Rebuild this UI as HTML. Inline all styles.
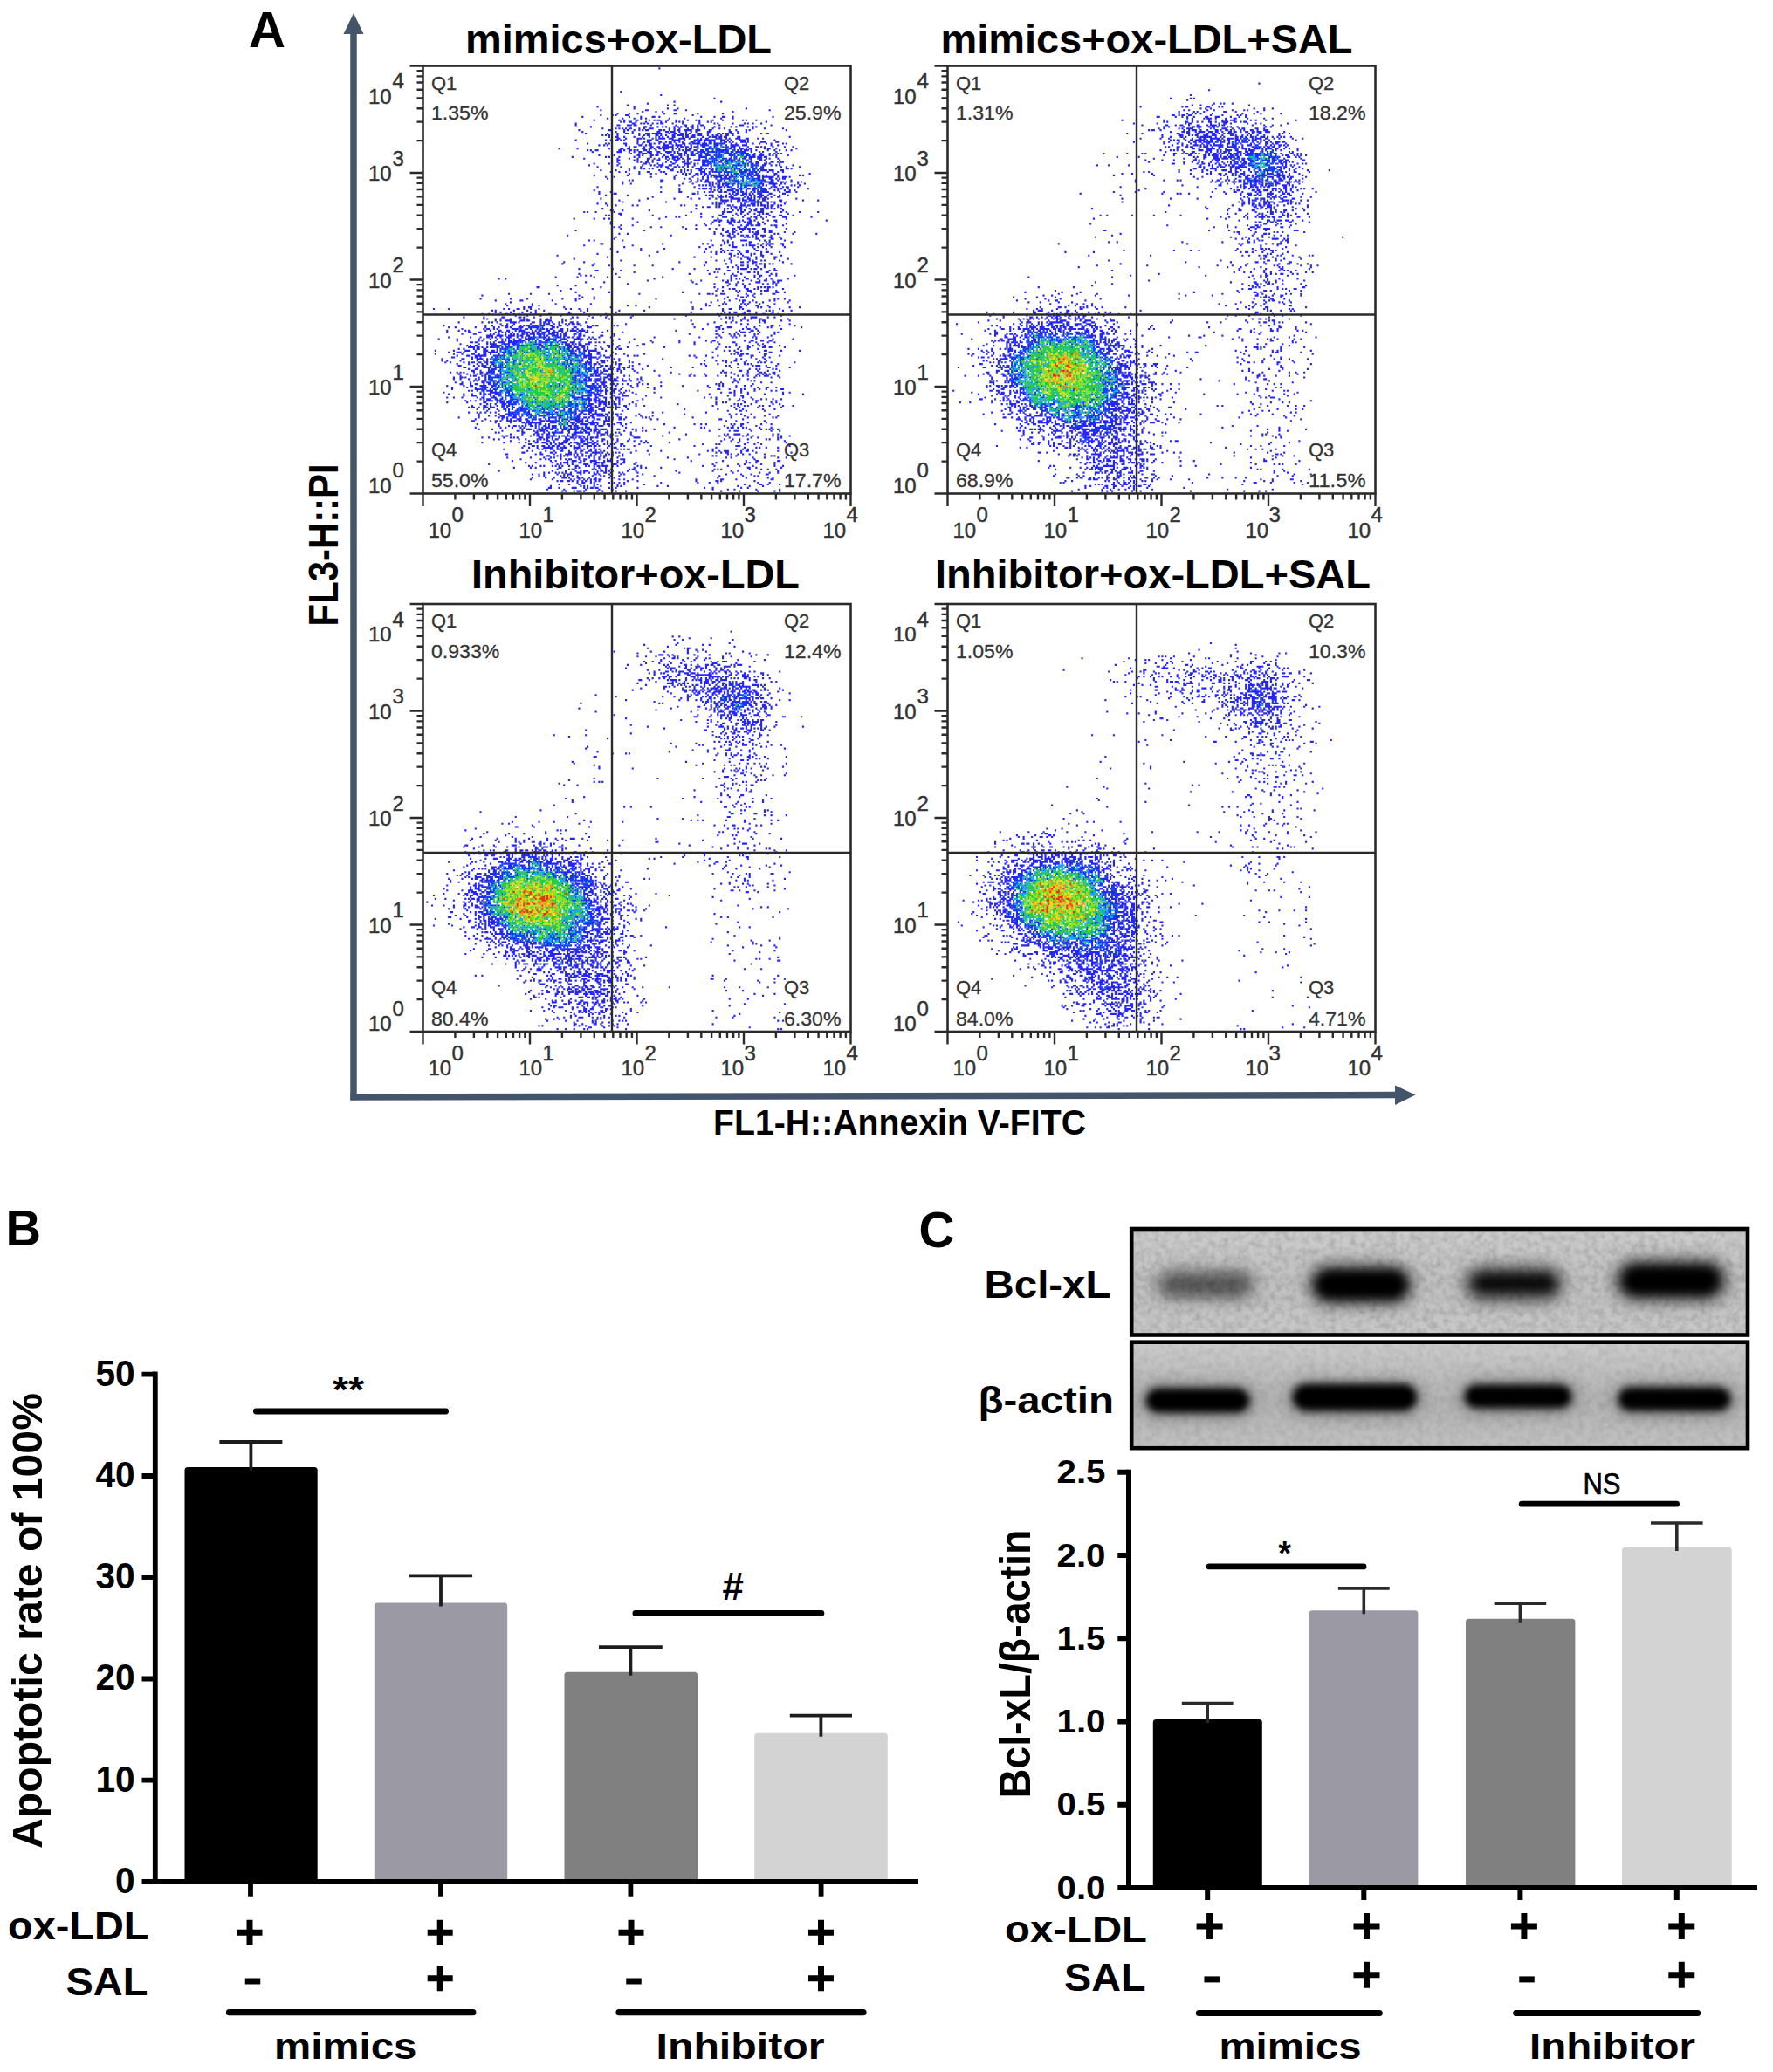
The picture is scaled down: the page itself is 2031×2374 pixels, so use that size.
<!DOCTYPE html>
<html><head><meta charset="utf-8"><title>Figure</title>
<style>html,body{margin:0;padding:0;background:#fff}svg{display:block}text{font-family:"Liberation Sans", sans-serif}</style>
</head><body>
<svg width="2031" height="2374" viewBox="0 0 2031 2374">
<rect width="2031" height="2374" fill="#fff"/>
<defs><filter id="db" x="-2%" y="-2%" width="104%" height="104%"><feGaussianBlur stdDeviation="0.4"/></filter></defs>
<text x="285" y="54" font-size="58" font-weight="bold" fill="#000" text-anchor="start" textLength="42" lengthAdjust="spacingAndGlyphs" >A</text>
<path d="M405 38V1260.3" stroke="#44546a" stroke-width="7.5" fill="none"/>
<path d="M401.3 1257L1600 1254.6" stroke="#44546a" stroke-width="7.5" fill="none"/>
<path d="M405 15L416.5 39H393.5Z" fill="#44546a"/>
<path d="M1621.5 1254.6L1598 1243.5V1266Z" fill="#44546a"/>
<text x="1030.5" y="1299.5" font-size="41" font-weight="bold" fill="#000" text-anchor="middle" textLength="427" lengthAdjust="spacingAndGlyphs" >FL1-H::Annexin V-FITC</text>
<text transform="translate(386.5,624.4) rotate(-90)" font-size="48" font-weight="bold" text-anchor="middle" textLength="186" lengthAdjust="spacingAndGlyphs">FL3-H::PI</text>
<text x="708.5" y="61.0" font-size="46" font-weight="bold" fill="#000" text-anchor="middle" textLength="351" lengthAdjust="spacingAndGlyphs" >mimics+ox-LDL</text>
<g transform="translate(485.46,76.46) scale(1.9141)" stroke-width="1.12" stroke-linecap="square" fill="none" filter="url(#db)"><path d="M141 1h0m-23 14h0m24 2h0m32 2h0m-24 2h0m28 0h0m-44 1h0m-12 1h0m24 0h0m4 0h0m-46 1h0m22 0h0m0 1h0m20 0h0m6 0h0m41 0h0m-87 1h0m27 0h0m1 0h0m16 0h0m1 0h0m6 0h0m50 0h0m-76 1h0m8 0h0m4 0h0m42 0h0m-69 1h0m7 0h0m5 0h0m16 0h0m6 0h0m1 0h0m13 0h0m15 0h0m-73 1h0m7 0h0m2 0h0m6 0h0m1 0h0m39 0h0m-66 1h0m28 0h0m7 0h0m7 0h0m1 0h0m3 0h0m25 0h0m8 0h0m5 0h0m1 0h0m5 0h0m24 0h0m-99 1h0m9 0h0m7 0h0m4 0h0m3 0h0m14 0h0m9 0h0m22 0h0m7 0h0m-83 1h0m15 0h0m3 0h0m8 0h0m7 0h0m3 0h0m2 0h0m1 0h0m5 0h0m5 0h0m7 0h0m5 0h0m2 0h0m8 0h0m6 0h0m12 0h0m2 0h0m6 0h0m-81 1h0m2 0h0m3 0h0m1 0h0m3 0h0m6 0h0m9 0h0m3 0h0m6 0h0m2 0h0m2 0h0m10 0h0m5 0h0m2 0h0m33 0h0m-114 1h0m34 0h0m1 0h0m4 0h0m2 0h0m2 0h0m3 0h0m3 0h0m2 0h0m1 0h0m6 0h0m6 0h0m10 0h0m9 0h0m2 0h0m9 0h0m7 0h0m2 0h0m3 0h0m5 0h0m-111 1h0m25 0h0m1 0h0m5 0h0m1 0h0m1 0h0m2 0h0m1 0h0m9 0h0m15 0h0m5 0h0m1 0h0m4 0h0m3 0h0m2 0h0m1 0h0m10 0h0m12 0h0m1 0h0m1 0h0m17 0h0m-108 1h0m32 0h0m1 0h0m7 0h0m3 0h0m2 0h0m5 0h0m2 0h0m2 0h0m3 0h0m3 0h0m1 0h0m3 0h0m4 0h0m6 0h0m10 0h0m3 0h0m7 0h0m3 0h0m2 0h0m-92 1h0m8 0h0m2 0h0m2 0h0m2 0h0m2 0h0m1 0h0m5 0h0m3 0h0m3 0h0m1 0h0m1 0h0m10 0h0m3 0h0m3 0h0m5 0h0m3 0h0m3 0h0m4 0h0m5 0h0m4 0h0m3 0h0m17 0h0m7 0h0m11 0h0m-122 1h0m18 0h0m1 0h0m8 0h0m2 0h0m4 0h0m3 0h0m2 0h0m2 0h0m1 0h0m7 0h0m1 0h0m2 0h0m3 0h0m3 0h0m2 0h0m1 0h0m3 0h0m1 0h0m1 0h0m1 0h0m1 0h0m3 0h0m1 0h0m1 0h0m6 0h0m1 0h0m11 0h0m4 0h0m6 0h0m2 0h0m22 0h0m-122 1h0m20 0h0m5 0h0m5 0h0m15 0h0m1 0h0m4 0h0m1 0h0m2 0h0m1 0h0m1 0h0m3 0h0m4 0h0m3 0h0m3 0h0m7 0h0m1 0h0m12 0h0m1 0h0m4 0h0m5 0h0m-96 1h0m13 0h0m6 0h0m5 0h0m1 0h0m3 0h0m4 0h0m4 0h0m1 0h0m1 0h0m2 0h0m1 0h0m1 0h0m1 0h0m1 0h0m1 0h0m5 0h0m3 0h0m1 0h0m3 0h0m1 0h0m2 0h0m2 0h0m5 0h0m1 0h0m1 0h0m4 0h0m6 0h0m1 0h0m2 0h0m2 0h0m1 0h0m2 0h0m1 0h0m3 0h0m14 0h0m3 0h0m1 0h0m-99 1h0m2 0h0m2 0h0m5 0h0m13 0h0m3 0h0m2 0h0m1 0h0m4 0h0m1 0h0m2 0h0m3 0h0m4 0h0m1 0h0m2 0h0m1 0h0m1 0h0m1 0h0m2 0h0m1 0h0m3 0h0m1 0h0m2 0h0m1 0h0m1 0h0m4 0h0m3 0h0m2 0h0m1 0h0m2 0h0m3 0h0m1 0h0m3 0h0m-74 1h0m4 0h0m1 0h0m4 0h0m6 0h0m5 0h0m4 0h0m4 0h0m2 0h0m2 0h0m3 0h0m3 0h0m1 0h0m5 0h0m2 0h0m1 0h0m2 0h0m1 0h0m1 0h0m5 0h0m4 0h0m2 0h0m1 0h0m1 0h0m2 0h0m1 0h0m2 0h0m1 0h0m7 0h0m1 0h0m30 0h0m-103 1h0m1 0h0m4 0h0m7 0h0m1 0h0m1 0h0m2 0h0m5 0h0m2 0h0m2 0h0m1 0h0m1 0h0m1 0h0m3 0h0m1 0h0m1 0h0m4 0h0m1 0h0m1 0h0m1 0h0m3 0h0m5 0h0m2 0h0m3 0h0m1 0h0m5 0h0m2 0h0m1 0h0m3 0h0m2 0h0m4 0h0m1 0h0m1 0h0m4 0h0m1 0h0m6 0h0m3 0h0m-112 1h0m18 0h0m3 0h0m3 0h0m1 0h0m2 0h0m2 0h0m8 0h0m6 0h0m1 0h0m1 0h0m3 0h0m1 0h0m9 0h0m1 0h0m1 0h0m1 0h0m1 0h0m3 0h0m6 0h0m1 0h0m2 0h0m1 0h0m2 0h0m1 0h0m2 0h0m1 0h0m1 0h0m1 0h0m4 0h0m1 0h0m1 0h0m2 0h0m2 0h0m5 0h0m1 0h0m1 0h0m1 0h0m2 0h0m16 0h0m-82 1h0m4 0h0m2 0h0m1 0h0m6 0h0m1 0h0m3 0h0m2 0h0m1 0h0m2 0h0m3 0h0m2 0h0m5 0h0m1 0h0m3 0h0m1 0h0m3 0h0m3 0h0m1 0h0m2 0h0m4 0h0m2 0h0m1 0h0m2 0h0m2 0h0m5 0h0m1 0h0m1 0h0m2 0h0m8 0h0m1 0h0m1 0h0m7 0h0m1 0h0m-114 1h0m11 0h0m2 0h0m9 0h0m1 0h0m7 0h0m3 0h0m4 0h0m1 0h0m2 0h0m3 0h0m3 0h0m3 0h0m1 0h0m3 0h0m4 0h0m1 0h0m3 0h0m2 0h0m1 0h0m1 0h0m1 0h0m1 0h0m2 0h0m1 0h0m1 0h0m2 0h0m1 0h0m2 0h0m1 0h0m1 0h0m3 0h0m1 0h0m4 0h0m3 0h0m6 0h0m4 0h0m4 0h0m4 0h0m3 0h0m7 0h0m2 0h0m-112 1h0m3 0h0m2 0h0m11 0h0m8 0h0m1 0h0m3 0h0m2 0h0m1 0h0m8 0h0m1 0h0m1 0h0m3 0h0m2 0h0m1 0h0m1 0h0m1 0h0m2 0h0m4 0h0m4 0h0m2 0h0m1 0h0m1 0h0m1 0h0m5 0h0m1 0h0m1 0h0m2 0h0m3 0h0m3 0h0m1 0h0m1 0h0m1 0h0m1 0h0m3 0h0m1 0h0m1 0h0m15 0h0m4 0h0m-89 1h0m3 0h0m1 0h0m5 0h0m4 0h0m1 0h0m3 0h0m1 0h0m2 0h0m1 0h0m1 0h0m1 0h0m1 0h0m1 0h0m1 0h0m3 0h0m2 0h0m1 0h0m2 0h0m1 0h0m2 0h0m2 0h0m1 0h0m4 0h0m1 0h0m3 0h0m3 0h0m8 0h0m2 0h0m1 0h0m1 0h0m3 0h0m5 0h0m5 0h0m1 0h0m2 0h0m2 0h0m5 0h0m7 0h0m5 0h0m-140 1h0m11 0h0m19 0h0m7 0h0m1 0h0m3 0h0m1 0h0m8 0h0m1 0h0m3 0h0m1 0h0m2 0h0m3 0h0m1 0h0m2 0h0m1 0h0m1 0h0m3 0h0m2 0h0m2 0h0m4 0h0m2 0h0m1 0h0m4 0h0m6 0h0m1 0h0m2 0h0m8 0h0m2 0h0m1 0h0m2 0h0m3 0h0m1 0h0m1 0h0m2 0h0m2 0h0m1 0h0m8 0h0m2 0h0m1 0h0m4 0h0m12 0h0m-125 1h0m2 0h0m3 0h0m1 0h0m13 0h0m1 0h0m2 0h0m3 0h0m1 0h0m2 0h0m2 0h0m4 0h0m1 0h0m2 0h0m4 0h0m5 0h0m5 0h0m4 0h0m2 0h0m2 0h0m1 0h0m1 0h0m3 0h0m1 0h0m3 0h0m1 0h0m2 0h0m6 0h0m1 0h0m1 0h0m1 0h0m1 0h0m1 0h0m1 0h0m1 0h0m4 0h0m2 0h0m2 0h0m2 0h0m1 0h0m1 0h0m2 0h0m3 0h0m7 0h0m4 0h0m3 0h0m4 0h0m3 0h0m-119 1h0m15 0h0m1 0h0m1 0h0m5 0h0m3 0h0m3 0h0m1 0h0m4 0h0m1 0h0m1 0h0m4 0h0m1 0h0m4 0h0m1 0h0m1 0h0m1 0h0m2 0h0m2 0h0m4 0h0m1 0h0m4 0h0m3 0h0m2 0h0m1 0h0m1 0h0m4 0h0m1 0h0m1 0h0m2 0h0m2 0h0m1 0h0m2 0h0m1 0h0m2 0h0m3 0h0m1 0h0m2 0h0m1 0h0m1 0h0m4 0h0m5 0h0m2 0h0m8 0h0m-87 1h0m5 0h0m2 0h0m1 0h0m1 0h0m2 0h0m1 0h0m4 0h0m2 0h0m4 0h0m1 0h0m3 0h0m2 0h0m1 0h0m1 0h0m2 0h0m1 0h0m3 0h0m1 0h0m2 0h0m1 0h0m2 0h0m2 0h0m1 0h0m1 0h0m7 0h0m3 0h0m2 0h0m1 0h0m3 0h0m5 0h0m1 0h0m1 0h0m1 0h0m4 0h0m4 0h0m5 0h0m3 0h0m2 0h0m2 0h0m-109 1h0m9 0h0m14 0h0m1 0h0m2 0h0m5 0h0m1 0h0m2 0h0m1 0h0m4 0h0m4 0h0m1 0h0m4 0h0m1 0h0m2 0h0m2 0h0m2 0h0m1 0h0m1 0h0m3 0h0m1 0h0m3 0h0m1 0h0m1 0h0m4 0h0m3 0h0m5 0h0m1 0h0m1 0h0m8 0h0m1 0h0m3 0h0m1 0h0m3 0h0m1 0h0m1 0h0m4 0h0m2 0h0m2 0h0m7 0h0m-129 1h0m20 0h0m2 0h0m6 0h0m9 0h0m3 0h0m7 0h0m7 0h0m2 0h0m1 0h0m3 0h0m1 0h0m1 0h0m1 0h0m2 0h0m4 0h0m7 0h0m1 0h0m1 0h0m1 0h0m4 0h0m1 0h0m14 0h0m8 0h0m1 0h0m1 0h0m1 0h0m2 0h0m1 0h0m1 0h0m2 0h0m1 0h0m6 0h0m-115 1h0m20 0h0m7 0h0m5 0h0m6 0h0m1 0h0m3 0h0m3 0h0m4 0h0m2 0h0m2 0h0m1 0h0m2 0h0m1 0h0m2 0h0m3 0h0m1 0h0m6 0h0m7 0h0m9 0h0m2 0h0m1 0h0m2 0h0m3 0h0m2 0h0m1 0h0m3 0h0m1 0h0m4 0h0m1 0h0m1 0h0m3 0h0m2 0h0m5 0h0m-96 1h0m1 0h0m9 0h0m2 0h0m6 0h0m3 0h0m3 0h0m1 0h0m5 0h0m4 0h0m1 0h0m1 0h0m4 0h0m2 0h0m4 0h0m1 0h0m1 0h0m1 0h0m2 0h0m1 0h0m1 0h0m1 0h0m3 0h0m2 0h0m3 0h0m5 0h0m2 0h0m8 0h0m3 0h0m5 0h0m1 0h0m2 0h0m9 0h0m-97 1h0m12 0h0m2 0h0m3 0h0m1 0h0m3 0h0m8 0h0m3 0h0m3 0h0m4 0h0m3 0h0m2 0h0m7 0h0m1 0h0m2 0h0m3 0h0m5 0h0m3 0h0m14 0h0m1 0h0m3 0h0m1 0h0m5 0h0m3 0h0m1 0h0m3 0h0m2 0h0m1 0h0m-113 1h0m9 0h0m6 0h0m15 0h0m1 0h0m2 0h0m5 0h0m3 0h0m6 0h0m1 0h0m6 0h0m1 0h0m1 0h0m1 0h0m3 0h0m2 0h0m3 0h0m1 0h0m3 0h0m5 0h0m12 0h0m1 0h0m3 0h0m2 0h0m3 0h0m2 0h0m1 0h0m4 0h0m1 0h0m2 0h0m6 0h0m-114 1h0m17 0h0m15 0h0m5 0h0m2 0h0m3 0h0m1 0h0m1 0h0m4 0h0m1 0h0m4 0h0m4 0h0m2 0h0m4 0h0m5 0h0m1 0h0m1 0h0m1 0h0m2 0h0m7 0h0m9 0h0m9 0h0m2 0h0m4 0h0m1 0h0m4 0h0m3 0h0m2 0h0m8 0h0m-117 1h0m14 0h0m8 0h0m4 0h0m10 0h0m2 0h0m3 0h0m1 0h0m4 0h0m1 0h0m2 0h0m2 0h0m3 0h0m3 0h0m5 0h0m6 0h0m20 0h0m4 0h0m1 0h0m5 0h0m1 0h0m11 0h0m3 0h0m8 0h0m-102 1h0m3 0h0m4 0h0m2 0h0m3 0h0m2 0h0m9 0h0m1 0h0m2 0h0m7 0h0m7 0h0m1 0h0m1 0h0m4 0h0m2 0h0m2 0h0m7 0h0m4 0h0m2 0h0m3 0h0m8 0h0m1 0h0m3 0h0m2 0h0m14 0h0m1 0h0m2 0h0m-114 1h0m9 0h0m8 0h0m18 0h0m7 0h0m1 0h0m5 0h0m2 0h0m2 0h0m2 0h0m5 0h0m1 0h0m2 0h0m4 0h0m1 0h0m2 0h0m15 0h0m2 0h0m1 0h0m2 0h0m5 0h0m2 0h0m1 0h0m1 0h0m1 0h0m2 0h0m1 0h0m1 0h0m5 0h0m1 0h0m-103 1h0m5 0h0m4 0h0m8 0h0m5 0h0m1 0h0m7 0h0m2 0h0m8 0h0m2 0h0m2 0h0m4 0h0m6 0h0m1 0h0m1 0h0m3 0h0m2 0h0m5 0h0m2 0h0m4 0h0m5 0h0m1 0h0m2 0h0m3 0h0m3 0h0m1 0h0m2 0h0m5 0h0m3 0h0m3 0h0m3 0h0m-92 1h0m6 0h0m7 0h0m3 0h0m6 0h0m10 0h0m2 0h0m2 0h0m4 0h0m1 0h0m2 0h0m2 0h0m1 0h0m2 0h0m9 0h0m2 0h0m9 0h0m3 0h0m1 0h0m2 0h0m2 0h0m11 0h0m1 0h0m20 0h0m-129 1h0m20 0h0m29 0h0m6 0h0m5 0h0m2 0h0m4 0h0m2 0h0m3 0h0m1 0h0m3 0h0m1 0h0m1 0h0m2 0h0m1 0h0m3 0h0m2 0h0m5 0h0m6 0h0m1 0h0m1 0h0m1 0h0m4 0h0m5 0h0m2 0h0m13 0h0m2 0h0m-118 1h0m5 0h0m22 0h0m14 0h0m11 0h0m6 0h0m3 0h0m2 0h0m2 0h0m1 0h0m1 0h0m1 0h0m1 0h0m2 0h0m1 0h0m2 0h0m1 0h0m1 0h0m2 0h0m3 0h0m4 0h0m2 0h0m1 0h0m3 0h0m1 0h0m2 0h0m1 0h0m1 0h0m1 0h0m1 0h0m1 0h0m1 0h0m3 0h0m3 0h0m1 0h0m1 0h0m2 0h0m-109 1h0m40 0h0m6 0h0m3 0h0m5 0h0m3 0h0m3 0h0m5 0h0m3 0h0m3 0h0m1 0h0m1 0h0m3 0h0m9 0h0m4 0h0m1 0h0m1 0h0m2 0h0m4 0h0m1 0h0m3 0h0m2 0h0m2 0h0m1 0h0m-93 1h0m2 0h0m17 0h0m1 0h0m17 0h0m4 0h0m2 0h0m3 0h0m1 0h0m6 0h0m1 0h0m1 0h0m2 0h0m3 0h0m2 0h0m15 0h0m1 0h0m2 0h0m5 0h0m1 0h0m3 0h0m8 0h0m-101 1h0m23 0h0m17 0h0m4 0h0m5 0h0m1 0h0m1 0h0m1 0h0m2 0h0m3 0h0m1 0h0m9 0h0m3 0h0m13 0h0m3 0h0m1 0h0m1 0h0m1 0h0m1 0h0m5 0h0m1 0h0m2 0h0m3 0h0m4 0h0m2 0h0m-107 1h0m5 0h0m31 0h0m6 0h0m10 0h0m2 0h0m2 0h0m2 0h0m2 0h0m1 0h0m2 0h0m1 0h0m10 0h0m9 0h0m1 0h0m4 0h0m1 0h0m1 0h0m1 0h0m1 0h0m3 0h0m2 0h0m8 0h0m4 0h0m-75 1h0m12 0h0m2 0h0m2 0h0m2 0h0m2 0h0m3 0h0m1 0h0m2 0h0m2 0h0m1 0h0m6 0h0m6 0h0m1 0h0m6 0h0m2 0h0m2 0h0m4 0h0m1 0h0m3 0h0m7 0h0m2 0h0m3 0h0m-121 1h0m38 0h0m20 0h0m10 0h0m2 0h0m2 0h0m1 0h0m1 0h0m2 0h0m2 0h0m1 0h0m9 0h0m6 0h0m2 0h0m2 0h0m6 0h0m2 0h0m1 0h0m4 0h0m2 0h0m1 0h0m6 0h0m-71 1h0m12 0h0m2 0h0m1 0h0m1 0h0m2 0h0m1 0h0m5 0h0m8 0h0m1 0h0m4 0h0m4 0h0m1 0h0m2 0h0m1 0h0m1 0h0m3 0h0m1 0h0m1 0h0m3 0h0m5 0h0m2 0h0m4 0h0m12 0h0m-128 1h0m51 0h0m19 0h0m2 0h0m2 0h0m2 0h0m4 0h0m1 0h0m1 0h0m1 0h0m2 0h0m1 0h0m2 0h0m3 0h0m4 0h0m1 0h0m2 0h0m3 0h0m1 0h0m1 0h0m5 0h0m2 0h0m4 0h0m3 0h0m3 0h0m-117 1h0m7 0h0m30 0h0m11 0h0m1 0h0m10 0h0m4 0h0m3 0h0m2 0h0m4 0h0m1 0h0m2 0h0m1 0h0m4 0h0m1 0h0m2 0h0m3 0h0m2 0h0m3 0h0m2 0h0m2 0h0m3 0h0m1 0h0m1 0h0m1 0h0m7 0h0m4 0h0m1 0h0m1 0h0m4 0h0m-118 1h0m9 0h0m1 0h0m46 0h0m1 0h0m2 0h0m19 0h0m2 0h0m2 0h0m1 0h0m3 0h0m1 0h0m1 0h0m2 0h0m2 0h0m3 0h0m1 0h0m1 0h0m5 0h0m1 0h0m7 0h0m1 0h0m-107 1h0m13 0h0m47 0h0m2 0h0m1 0h0m1 0h0m3 0h0m2 0h0m3 0h0m3 0h0m2 0h0m4 0h0m1 0h0m2 0h0m2 0h0m1 0h0m2 0h0m3 0h0m1 0h0m1 0h0m3 0h0m4 0h0m3 0h0m5 0h0m-81 1h0m21 0h0m15 0h0m4 0h0m1 0h0m1 0h0m2 0h0m2 0h0m1 0h0m1 0h0m9 0h0m2 0h0m2 0h0m2 0h0m1 0h0m1 0h0m2 0h0m1 0h0m3 0h0m4 0h0m1 0h0m-107 1h0m28 0h0m16 0h0m10 0h0m5 0h0m6 0h0m4 0h0m3 0h0m6 0h0m1 0h0m1 0h0m1 0h0m1 0h0m1 0h0m2 0h0m3 0h0m1 0h0m1 0h0m2 0h0m3 0h0m2 0h0m1 0h0m2 0h0m17 0h0m-106 1h0m12 0h0m49 0h0m1 0h0m1 0h0m1 0h0m1 0h0m2 0h0m4 0h0m1 0h0m2 0h0m1 0h0m3 0h0m1 0h0m1 0h0m1 0h0m2 0h0m3 0h0m1 0h0m9 0h0m1 0h0m13 0h0m9 0h0m-117 1h0m26 0h0m30 0h0m4 0h0m2 0h0m3 0h0m4 0h0m5 0h0m6 0h0m1 0h0m1 0h0m1 0h0m3 0h0m1 0h0m2 0h0m2 0h0m4 0h0m3 0h0m-113 1h0m5 0h0m64 0h0m2 0h0m2 0h0m1 0h0m2 0h0m10 0h0m6 0h0m1 0h0m1 0h0m2 0h0m2 0h0m4 0h0m4 0h0m6 0h0m-106 1h0m5 0h0m10 0h0m3 0h0m26 0h0m2 0h0m7 0h0m12 0h0m2 0h0m5 0h0m1 0h0m2 0h0m5 0h0m1 0h0m1 0h0m2 0h0m1 0h0m2 0h0m1 0h0m2 0h0m2 0h0m1 0h0m1 0h0m2 0h0m2 0h0m1 0h0m3 0h0m2 0h0m-47 1h0m3 0h0m1 0h0m4 0h0m2 0h0m7 0h0m2 0h0m1 0h0m2 0h0m1 0h0m3 0h0m11 0h0m2 0h0m2 0h0m4 0h0m-105 1h0m56 0h0m17 0h0m2 0h0m2 0h0m3 0h0m2 0h0m1 0h0m5 0h0m4 0h0m3 0h0m1 0h0m2 0h0m1 0h0m2 0h0m2 0h0m4 0h0m-102 1h0m1 0h0m6 0h0m16 0h0m45 0h0m5 0h0m3 0h0m2 0h0m2 0h0m4 0h0m2 0h0m1 0h0m3 0h0m1 0h0m12 0h0m-119 1h0m2 0h0m5 0h0m11 0h0m46 0h0m19 0h0m1 0h0m2 0h0m1 0h0m1 0h0m6 0h0m1 0h0m4 0h0m5 0h0m1 0h0m1 0h0m1 0h0m5 0h0m6 0h0m3 0h0m8 0h0m11 0h0m-119 1h0m1 0h0m48 0h0m13 0h0m8 0h0m3 0h0m4 0h0m4 0h0m3 0h0m2 0h0m2 0h0m1 0h0m12 0h0m-109 1h0m2 0h0m7 0h0m19 0h0m20 0h0m20 0h0m1 0h0m7 0h0m3 0h0m4 0h0m8 0h0m1 0h0m6 0h0m6 0h0m1 0h0m7 0h0m-76 1h0m6 0h0m2 0h0m13 0h0m7 0h0m6 0h0m1 0h0m1 0h0m10 0h0m5 0h0m2 0h0m1 0h0m3 0h0m3 0h0m4 0h0m1 0h0m5 0h0m1 0h0m1 0h0m15 0h0m-142 1h0m12 0h0m6 0h0m3 0h0m14 0h0m16 0h0m35 0h0m8 0h0m1 0h0m9 0h0m1 0h0m4 0h0m4 0h0m14 0h0m-43 1h0m1 0h0m2 0h0m1 0h0m4 0h0m2 0h0m1 0h0m1 0h0m3 0h0m2 0h0m4 0h0m1 0h0m2 0h0m8 0h0m4 0h0m1 0h0m30 0h0m-129 1h0m16 0h0m45 0h0m4 0h0m5 0h0m1 0h0m1 0h0m2 0h0m2 0h0m1 0h0m3 0h0m2 0h0m1 0h0m1 0h0m4 0h0m3 0h0m8 0h0m-99 1h0m56 0h0m4 0h0m11 0h0m1 0h0m10 0h0m1 0h0m1 0h0m4 0h0m1 0h0m3 0h0m13 0h0m-99 1h0m7 0h0m38 0h0m6 0h0m8 0h0m8 0h0m5 0h0m3 0h0m1 0h0m2 0h0m1 0h0m2 0h0m1 0h0m1 0h0m7 0h0m2 0h0m1 0h0m4 0h0m-101 1h0m3 0h0m19 0h0m6 0h0m13 0h0m33 0h0m1 0h0m3 0h0m1 0h0m18 0h0m-93 1h0m39 0h0m6 0h0m8 0h0m4 0h0m4 0h0m6 0h0m1 0h0m3 0h0m1 0h0m1 0h0m1 0h0m2 0h0m1 0h0m2 0h0m1 0h0m5 0h0m1 0h0m13 0h0m-126 1h0m41 0h0m47 0h0m3 0h0m3 0h0m2 0h0m4 0h0m4 0h0m5 0h0m4 0h0m3 0h0m1 0h0m-34 1h0m7 0h0m1 0h0m3 0h0m1 0h0m4 0h0m5 0h0m2 0h0m2 0h0m1 0h0m4 0h0m3 0h0m1 0h0m8 0h0m6 0h0m-105 1h0m5 0h0m52 0h0m4 0h0m5 0h0m2 0h0m3 0h0m10 0h0m1 0h0m1 0h0m10 0h0m2 0h0m9 0h0m14 0h0m-149 1h0m62 0h0m31 0h0m3 0h0m1 0h0m3 0h0m4 0h0m1 0h0m2 0h0m1 0h0m3 0h0m2 0h0m3 0h0m1 0h0m1 0h0m4 0h0m-93 1h0m68 0h0m1 0h0m1 0h0m1 0h0m6 0h0m2 0h0m1 0h0m2 0h0m2 0h0m4 0h0m4 0h0m1 0h0m5 0h0m-99 1h0m70 0h0m15 0h0m1 0h0m8 0h0m1 0h0m5 0h0m-115 1h0m3 0h0m17 0h0m53 0h0m7 0h0m3 0h0m8 0h0m1 0h0m1 0h0m1 0h0m8 0h0m3 0h0m3 0h0m9 0h0m-36 1h0m2 0h0m3 0h0m10 0h0m1 0h0m9 0h0m2 0h0m13 0h0m-114 1h0m1 0h0m36 0h0m24 0h0m3 0h0m10 0h0m5 0h0m8 0h0m2 0h0m5 0h0m3 0h0m3 0h0m2 0h0m1 0h0m5 0h0m1 0h0m-119 1h0m29 0h0m48 0h0m5 0h0m5 0h0m2 0h0m6 0h0m2 0h0m2 0h0m1 0h0m1 0h0m1 0h0m4 0h0m3 0h0m2 0h0m8 0h0m-95 1h0m45 0h0m6 0h0m14 0h0m1 0h0m1 0h0m10 0h0m3 0h0m3 0h0m5 0h0m8 0h0m-104 1h0m18 0h0m14 0h0m25 0h0m9 0h0m20 0h0m7 0h0m-75 1h0m49 0h0m3 0h0m2 0h0m1 0h0m3 0h0m5 0h0m1 0h0m5 0h0m1 0h0m-84 1h0m24 0h0m28 0h0m4 0h0m3 0h0m3 0h0m2 0h0m9 0h0m4 0h0m1 0h0m8 0h0m3 0h0m1 0h0m7 0h0m-109 1h0m71 0h0m8 0h0m1 0h0m4 0h0m2 0h0m6 0h0m2 0h0m4 0h0m6 0h0m-128 1h0m55 0h0m49 0h0m2 0h0m5 0h0m5 0h0m6 0h0m1 0h0m11 0h0m-104 1h0m52 0h0m10 0h0m12 0h0m4 0h0m4 0h0m1 0h0m1 0h0m5 0h0m4 0h0m7 0h0m1 0h0m-121 1h0m93 0h0m7 0h0m4 0h0m1 0h0m4 0h0m11 0h0m8 0h0m-100 1h0m57 0h0m5 0h0m4 0h0m11 0h0m2 0h0m5 0h0m2 0h0m9 0h0m-129 1h0m12 0h0m57 0h0m16 0h0m15 0h0m6 0h0m1 0h0m3 0h0m3 0h0m1 0h0m1 0h0m16 0h0m-132 1h0m19 0h0m79 0h0m16 0h0m4 0h0m1 0h0m2 0h0m3 0h0m2 0h0m11 0h0m-119 1h0m10 0h0m15 0h0m11 0h0m31 0h0m19 0h0m3 0h0m1 0h0m3 0h0m5 0h0m5 0h0m-22 1h0m3 0h0m3 0h0m6 0h0m6 0h0m4 0h0m-111 1h0m20 0h0m36 0h0m13 0h0m13 0h0m2 0h0m11 0h0m2 0h0m1 0h0m1 0h0m1 0h0m3 0h0m2 0h0m1 0h0m3 0h0m8 0h0m-107 1h0m1 0h0m14 0h0m52 0h0m12 0h0m1 0h0m24 0h0m3 0h0m1 0h0m-85 1h0m48 0h0m2 0h0m12 0h0m6 0h0m1 0h0m3 0h0m2 0h0m5 0h0m1 0h0m-113 1h0m22 0h0m44 0h0m12 0h0m9 0h0m5 0h0m5 0h0m10 0h0m8 0h0m3 0h0m-117 1h0m3 0h0m3 0h0m84 0h0m2 0h0m1 0h0m11 0h0m3 0h0m1 0h0m5 0h0m4 0h0m11 0h0m-143 1h0m13 0h0m10 0h0m8 0h0m7 0h0m26 0h0m32 0h0m9 0h0m8 0h0m6 0h0m3 0h0m-156 1h0m4 0h0m89 0h0m46 0h0m3 0h0m2 0h0m4 0h0m1 0h0m6 0h0m5 0h0m3 0h0m10 0h0m-84 1h0m26 0h0m6 0h0m13 0h0m3 0h0m2 0h0m7 0h0m5 0h0m5 0h0m3 0h0m1 0h0m4 0h0m3 0h0m1 0h0m1 0h0m-117 1h0m11 0h0m53 0h0m20 0h0m1 0h0m6 0h0m11 0h0m1 0h0m1 0h0m8 0h0m1 0h0m2 0h0m-90 1h0m41 0h0m11 0h0m9 0h0m4 0h0m4 0h0m4 0h0m8 0h0m3 0h0m3 0h0m2 0h0m-131 1h0m11 0h0m91 0h0m5 0h0m5 0h0m19 0h0m-143 1h0m1 0h0m37 0h0m68 0h0m5 0h0m13 0h0m8 0h0m2 0h0m2 0h0m2 0h0m1 0h0m2 0h0m-121 1h0m13 0h0m75 0h0m7 0h0m2 0h0m1 0h0m7 0h0m1 0h0m4 0h0m2 0h0m6 0h0m9 0h0m-133 1h0m93 0h0m4 0h0m8 0h0m2 0h0m5 0h0m1 0h0m1 0h0m6 0h0m2 0h0m1 0h0m1 0h0m5 0h0m-120 1h0m20 0h0m44 0h0m33 0h0m8 0h0m15 0h0m1 0h0m4 0h0m-165 1h0m13 0h0m11 0h0m54 0h0m36 0h0m5 0h0m1 0h0m2 0h0m5 0h0m1 0h0m1 0h0m13 0h0m5 0h0m4 0h0m7 0h0m1 0h0m-175 1h0m58 0h0m82 0h0m13 0h0m6 0h0m3 0h0m-102 1h0m7 0h0m80 0h0m8 0h0m1 0h0m2 0h0m5 0h0m-164 1h0m18 0h0m10 0h0m21 0h0m8 0h0m2 0h0m9 0h0m37 0h0m41 0h0m7 0h0m23 0h0m2 0h0m4 0h0m-173 1h0m15 0h0m1 0h0m18 0h0m14 0h0m85 0h0m7 0h0m6 0h0m2 0h0m1 0h0m5 0h0m10 0h0m3 0h0m9 0h0m-167 1h0m108 0h0m12 0h0m8 0h0m11 0h0m4 0h0m4 0h0m4 0h0m15 0h0m-169 1h0m16 0h0m14 0h0m21 0h0m69 0h0m10 0h0m2 0h0m9 0h0m2 0h0m2 0h0m7 0h0m9 0h0m-160 1h0m15 0h0m4 0h0m53 0h0m5 0h0m42 0h0m2 0h0m6 0h0m12 0h0m4 0h0m6 0h0m1 0h0m6 0h0m-146 1h0m3 0h0m1 0h0m20 0h0m28 0h0m23 0h0m26 0h0m28 0h0m1 0h0m10 0h0m2 0h0m5 0h0m12 0h0m6 0h0m-219 1h0m9 0h0m33 0h0m3 0h0m5 0h0m1 0h0m3 0h0m4 0h0m5 0h0m16 0h0m3 0h0m5 0h0m5 0h0m63 0h0m5 0h0m13 0h0m4 0h0m1 0h0m5 0h0m2 0h0m22 0h0m-172 1h0m2 0h0m11 0h0m8 0h0m5 0h0m5 0h0m22 0h0m4 0h0m19 0h0m15 0h0m47 0h0m15 0h0m1 0h0m10 0h0m2 0h0m2 0h0m6 0h0m5 0h0m-177 1h0m3 0h0m6 0h0m7 0h0m5 0h0m3 0h0m20 0h0m9 0h0m19 0h0m45 0h0m20 0h0m3 0h0m3 0h0m1 0h0m5 0h0m7 0h0m10 0h0m-174 1h0m4 0h0m10 0h0m1 0h0m4 0h0m3 0h0m10 0h0m8 0h0m1 0h0m10 0h0m1 0h0m1 0h0m21 0h0m67 0h0m2 0h0m5 0h0m8 0h0m1 0h0m3 0h0m4 0h0m4 0h0m1 0h0m4 0h0m4 0h0m-157 1h0m7 0h0m8 0h0m12 0h0m17 0h0m7 0h0m4 0h0m15 0h0m32 0h0m20 0h0m11 0h0m26 0h0m-190 1h0m12 0h0m11 0h0m1 0h0m9 0h0m1 0h0m2 0h0m6 0h0m10 0h0m13 0h0m3 0h0m9 0h0m8 0h0m15 0h0m57 0h0m2 0h0m2 0h0m7 0h0m4 0h0m1 0h0m1 0h0m1 0h0m7 0h0m4 0h0m-174 1h0m2 0h0m5 0h0m3 0h0m6 0h0m8 0h0m2 0h0m8 0h0m4 0h0m9 0h0m5 0h0m10 0h0m13 0h0m39 0h0m28 0h0m5 0h0m8 0h0m1 0h0m4 0h0m5 0h0m1 0h0m16 0h0m-175 1h0m3 0h0m3 0h0m1 0h0m1 0h0m1 0h0m6 0h0m1 0h0m1 0h0m2 0h0m1 0h0m7 0h0m3 0h0m1 0h0m1 0h0m1 0h0m7 0h0m2 0h0m75 0h0m25 0h0m5 0h0m4 0h0m7 0h0m2 0h0m1 0h0m10 0h0m5 0h0m-198 1h0m14 0h0m4 0h0m2 0h0m3 0h0m8 0h0m1 0h0m1 0h0m1 0h0m2 0h0m8 0h0m1 0h0m4 0h0m2 0h0m1 0h0m2 0h0m2 0h0m4 0h0m2 0h0m5 0h0m1 0h0m3 0h0m5 0h0m77 0h0m7 0h0m3 0h0m3 0h0m14 0h0m3 0h0m-158 1h0m4 0h0m4 0h0m10 0h0m6 0h0m2 0h0m2 0h0m1 0h0m3 0h0m3 0h0m4 0h0m2 0h0m2 0h0m1 0h0m2 0h0m1 0h0m28 0h0m40 0h0m9 0h0m20 0h0m4 0h0m25 0h0m-207 1h0m25 0h0m4 0h0m6 0h0m2 0h0m1 0h0m3 0h0m5 0h0m2 0h0m2 0h0m1 0h0m2 0h0m1 0h0m1 0h0m1 0h0m2 0h0m1 0h0m1 0h0m4 0h0m1 0h0m4 0h0m1 0h0m4 0h0m8 0h0m4 0h0m3 0h0m2 0h0m1 0h0m10 0h0m2 0h0m62 0h0m23 0h0m7 0h0m1 0h0m4 0h0m9 0h0m-207 1h0m4 0h0m12 0h0m6 0h0m5 0h0m3 0h0m4 0h0m1 0h0m2 0h0m5 0h0m1 0h0m1 0h0m4 0h0m1 0h0m2 0h0m1 0h0m1 0h0m1 0h0m2 0h0m6 0h0m1 0h0m2 0h0m10 0h0m1 0h0m7 0h0m1 0h0m1 0h0m62 0h0m13 0h0m1 0h0m1 0h0m5 0h0m1 0h0m1 0h0m9 0h0m5 0h0m8 0h0m2 0h0m18 0h0m-203 1h0m13 0h0m2 0h0m1 0h0m3 0h0m2 0h0m9 0h0m1 0h0m1 0h0m1 0h0m2 0h0m3 0h0m3 0h0m4 0h0m3 0h0m1 0h0m2 0h0m2 0h0m1 0h0m5 0h0m1 0h0m3 0h0m3 0h0m3 0h0m3 0h0m72 0h0m10 0h0m2 0h0m12 0h0m3 0h0m1 0h0m4 0h0m15 0h0m-200 1h0m7 0h0m4 0h0m2 0h0m10 0h0m3 0h0m5 0h0m1 0h0m4 0h0m1 0h0m4 0h0m2 0h0m1 0h0m1 0h0m1 0h0m5 0h0m2 0h0m2 0h0m1 0h0m4 0h0m1 0h0m3 0h0m3 0h0m1 0h0m1 0h0m3 0h0m2 0h0m1 0h0m1 0h0m1 0h0m2 0h0m1 0h0m1 0h0m1 0h0m2 0h0m12 0h0m41 0h0m24 0h0m14 0h0m7 0h0m1 0h0m3 0h0m-186 1h0m13 0h0m1 0h0m5 0h0m1 0h0m9 0h0m2 0h0m2 0h0m2 0h0m2 0h0m2 0h0m4 0h0m2 0h0m2 0h0m1 0h0m1 0h0m2 0h0m1 0h0m2 0h0m1 0h0m2 0h0m1 0h0m1 0h0m2 0h0m2 0h0m1 0h0m1 0h0m1 0h0m3 0h0m2 0h0m7 0h0m2 0h0m3 0h0m1 0h0m3 0h0m6 0h0m12 0h0m60 0h0m8 0h0m3 0h0m1 0h0m1 0h0m3 0h0m6 0h0m9 0h0m2 0h0m-189 1h0m7 0h0m1 0h0m9 0h0m2 0h0m3 0h0m4 0h0m3 0h0m2 0h0m2 0h0m3 0h0m1 0h0m2 0h0m2 0h0m1 0h0m1 0h0m2 0h0m1 0h0m1 0h0m2 0h0m3 0h0m1 0h0m1 0h0m1 0h0m2 0h0m2 0h0m2 0h0m1 0h0m5 0h0m1 0h0m2 0h0m1 0h0m20 0h0m45 0h0m16 0h0m1 0h0m7 0h0m3 0h0m2 0h0m10 0h0m2 0h0m10 0h0m-172 1h0m1 0h0m1 0h0m1 0h0m3 0h0m1 0h0m1 0h0m1 0h0m2 0h0m2 0h0m1 0h0m1 0h0m1 0h0m2 0h0m2 0h0m1 0h0m3 0h0m1 0h0m3 0h0m3 0h0m1 0h0m2 0h0m2 0h0m4 0h0m1 0h0m1 0h0m2 0h0m2 0h0m1 0h0m5 0h0m3 0h0m1 0h0m2 0h0m10 0h0m1 0h0m7 0h0m63 0h0m7 0h0m2 0h0m3 0h0m3 0h0m6 0h0m10 0h0m-193 1h0m13 0h0m6 0h0m4 0h0m1 0h0m2 0h0m2 0h0m3 0h0m4 0h0m1 0h0m1 0h0m4 0h0m3 0h0m2 0h0m2 0h0m1 0h0m2 0h0m3 0h0m1 0h0m2 0h0m1 0h0m2 0h0m5 0h0m1 0h0m1 0h0m2 0h0m2 0h0m1 0h0m2 0h0m3 0h0m1 0h0m6 0h0m2 0h0m4 0h0m7 0h0m26 0h0m27 0h0m10 0h0m3 0h0m7 0h0m2 0h0m10 0h0m2 0h0m7 0h0m-197 1h0m11 0h0m13 0h0m3 0h0m4 0h0m4 0h0m3 0h0m2 0h0m2 0h0m3 0h0m3 0h0m1 0h0m3 0h0m1 0h0m1 0h0m1 0h0m2 0h0m6 0h0m2 0h0m1 0h0m3 0h0m1 0h0m4 0h0m1 0h0m1 0h0m5 0h0m1 0h0m1 0h0m1 0h0m1 0h0m1 0h0m3 0h0m2 0h0m2 0h0m1 0h0m14 0h0m9 0h0m73 0h0m10 0h0m12 0h0m-201 1h0m13 0h0m2 0h0m8 0h0m4 0h0m4 0h0m1 0h0m2 0h0m1 0h0m1 0h0m1 0h0m1 0h0m1 0h0m1 0h0m3 0h0m4 0h0m2 0h0m1 0h0m3 0h0m1 0h0m5 0h0m2 0h0m5 0h0m4 0h0m4 0h0m19 0h0m23 0h0m17 0h0m16 0h0m4 0h0m1 0h0m18 0h0m4 0h0m1 0h0m5 0h0m1 0h0m4 0h0m1 0h0m-180 1h0m1 0h0m2 0h0m1 0h0m6 0h0m2 0h0m2 0h0m3 0h0m1 0h0m1 0h0m1 0h0m3 0h0m1 0h0m1 0h0m1 0h0m1 0h0m1 0h0m2 0h0m9 0h0m4 0h0m6 0h0m3 0h0m3 0h0m1 0h0m1 0h0m3 0h0m1 0h0m1 0h0m3 0h0m6 0h0m1 0h0m3 0h0m2 0h0m3 0h0m15 0h0m14 0h0m16 0h0m9 0h0m10 0h0m4 0h0m9 0h0m1 0h0m9 0h0m4 0h0m7 0h0m4 0h0m-188 1h0m11 0h0m5 0h0m2 0h0m1 0h0m1 0h0m1 0h0m5 0h0m2 0h0m1 0h0m2 0h0m1 0h0m1 0h0m14 0h0m1 0h0m15 0h0m1 0h0m1 0h0m2 0h0m2 0h0m2 0h0m1 0h0m3 0h0m1 0h0m1 0h0m14 0h0m18 0h0m1 0h0m30 0h0m15 0h0m10 0h0m13 0h0m3 0h0m-177 1h0m2 0h0m3 0h0m1 0h0m9 0h0m1 0h0m1 0h0m1 0h0m1 0h0m4 0h0m2 0h0m3 0h0m15 0h0m1 0h0m1 0h0m7 0h0m1 0h0m1 0h0m6 0h0m1 0h0m1 0h0m2 0h0m3 0h0m1 0h0m1 0h0m1 0h0m7 0h0m7 0h0m1 0h0m6 0h0m11 0h0m59 0h0m7 0h0m3 0h0m4 0h0m3 0h0m9 0h0m-186 1h0m1 0h0m1 0h0m1 0h0m2 0h0m1 0h0m2 0h0m3 0h0m2 0h0m1 0h0m1 0h0m2 0h0m3 0h0m3 0h0m2 0h0m20 0h0m9 0h0m3 0h0m3 0h0m1 0h0m2 0h0m1 0h0m1 0h0m3 0h0m1 0h0m2 0h0m8 0h0m5 0h0m5 0h0m6 0h0m22 0h0m32 0h0m5 0h0m2 0h0m6 0h0m5 0h0m1 0h0m8 0h0m1 0h0m3 0h0m1 0h0m8 0h0m-195 1h0m3 0h0m6 0h0m2 0h0m1 0h0m3 0h0m1 0h0m7 0h0m2 0h0m2 0h0m1 0h0m7 0h0m13 0h0m17 0h0m1 0h0m2 0h0m3 0h0m1 0h0m3 0h0m2 0h0m5 0h0m4 0h0m8 0h0m2 0h0m1 0h0m57 0h0m13 0h0m6 0h0m6 0h0m-193 1h0m11 0h0m7 0h0m1 0h0m1 0h0m4 0h0m5 0h0m1 0h0m1 0h0m3 0h0m1 0h0m2 0h0m2 0h0m3 0h0m2 0h0m36 0h0m2 0h0m2 0h0m2 0h0m3 0h0m1 0h0m2 0h0m1 0h0m1 0h0m1 0h0m1 0h0m6 0h0m71 0h0m3 0h0m3 0h0m4 0h0m14 0h0m1 0h0m9 0h0m11 0h0m-210 1h0m5 0h0m1 0h0m1 0h0m2 0h0m7 0h0m5 0h0m1 0h0m2 0h0m1 0h0m1 0h0m1 0h0m1 0h0m1 0h0m3 0h0m1 0h0m1 0h0m41 0h0m9 0h0m5 0h0m1 0h0m8 0h0m60 0h0m14 0h0m1 0h0m13 0h0m6 0h0m1 0h0m-201 1h0m11 0h0m5 0h0m6 0h0m1 0h0m3 0h0m3 0h0m1 0h0m3 0h0m5 0h0m3 0h0m40 0h0m1 0h0m1 0h0m1 0h0m5 0h0m3 0h0m1 0h0m4 0h0m1 0h0m10 0h0m5 0h0m12 0h0m52 0h0m2 0h0m2 0h0m2 0h0m1 0h0m2 0h0m1 0h0m10 0h0m1 0h0m-185 1h0m6 0h0m1 0h0m4 0h0m1 0h0m1 0h0m1 0h0m1 0h0m1 0h0m1 0h0m7 0h0m1 0h0m2 0h0m44 0h0m1 0h0m4 0h0m1 0h0m1 0h0m1 0h0m1 0h0m6 0h0m2 0h0m4 0h0m10 0h0m4 0h0m2 0h0m31 0h0m3 0h0m7 0h0m7 0h0m13 0h0m1 0h0m6 0h0m1 0h0m7 0h0m9 0h0m-196 1h0m1 0h0m11 0h0m2 0h0m1 0h0m2 0h0m7 0h0m3 0h0m2 0h0m38 0h0m3 0h0m7 0h0m2 0h0m1 0h0m2 0h0m1 0h0m1 0h0m1 0h0m1 0h0m2 0h0m4 0h0m1 0h0m1 0h0m52 0h0m10 0h0m23 0h0m7 0h0m4 0h0m-196 1h0m12 0h0m1 0h0m5 0h0m3 0h0m1 0h0m1 0h0m1 0h0m3 0h0m5 0h0m2 0h0m2 0h0m3 0h0m45 0h0m4 0h0m1 0h0m4 0h0m10 0h0m3 0h0m26 0h0m44 0h0m3 0h0m9 0h0m5 0h0m-193 1h0m3 0h0m8 0h0m10 0h0m4 0h0m2 0h0m4 0h0m7 0h0m39 0h0m3 0h0m3 0h0m1 0h0m3 0h0m2 0h0m6 0h0m1 0h0m1 0h0m2 0h0m7 0h0m6 0h0m45 0h0m7 0h0m4 0h0m2 0h0m5 0h0m1 0h0m6 0h0m8 0h0m4 0h0m-192 1h0m3 0h0m8 0h0m3 0h0m2 0h0m1 0h0m3 0h0m1 0h0m3 0h0m1 0h0m2 0h0m1 0h0m52 0h0m4 0h0m1 0h0m1 0h0m1 0h0m4 0h0m3 0h0m1 0h0m5 0h0m2 0h0m8 0h0m2 0h0m56 0h0m3 0h0m8 0h0m8 0h0m2 0h0m2 0h0m4 0h0m14 0h0m-202 1h0m7 0h0m5 0h0m3 0h0m3 0h0m4 0h0m5 0h0m41 0h0m6 0h0m2 0h0m1 0h0m2 0h0m3 0h0m1 0h0m2 0h0m10 0h0m2 0h0m1 0h0m11 0h0m37 0h0m2 0h0m8 0h0m12 0h0m4 0h0m2 0h0m2 0h0m16 0h0m-191 1h0m1 0h0m8 0h0m3 0h0m2 0h0m1 0h0m1 0h0m3 0h0m2 0h0m4 0h0m39 0h0m8 0h0m4 0h0m3 0h0m2 0h0m4 0h0m1 0h0m2 0h0m1 0h0m2 0h0m5 0h0m6 0h0m2 0h0m9 0h0m35 0h0m12 0h0m2 0h0m14 0h0m2 0h0m1 0h0m1 0h0m4 0h0m6 0h0m-187 1h0m1 0h0m7 0h0m4 0h0m1 0h0m1 0h0m1 0h0m1 0h0m3 0h0m2 0h0m52 0h0m4 0h0m1 0h0m2 0h0m1 0h0m1 0h0m6 0h0m2 0h0m3 0h0m2 0h0m1 0h0m2 0h0m1 0h0m25 0h0m13 0h0m23 0h0m4 0h0m18 0h0m1 0h0m12 0h0m-192 1h0m4 0h0m1 0h0m7 0h0m2 0h0m1 0h0m1 0h0m3 0h0m43 0h0m4 0h0m6 0h0m3 0h0m2 0h0m4 0h0m3 0h0m1 0h0m1 0h0m3 0h0m1 0h0m3 0h0m5 0h0m6 0h0m64 0h0m4 0h0m2 0h0m8 0h0m2 0h0m-182 1h0m1 0h0m4 0h0m5 0h0m1 0h0m1 0h0m4 0h0m57 0h0m1 0h0m1 0h0m2 0h0m2 0h0m1 0h0m1 0h0m6 0h0m2 0h0m8 0h0m12 0h0m41 0h0m10 0h0m1 0h0m4 0h0m6 0h0m6 0h0m7 0h0m-197 1h0m4 0h0m2 0h0m2 0h0m6 0h0m4 0h0m1 0h0m3 0h0m1 0h0m1 0h0m2 0h0m4 0h0m4 0h0m1 0h0m38 0h0m3 0h0m1 0h0m5 0h0m4 0h0m1 0h0m1 0h0m2 0h0m1 0h0m11 0h0m10 0h0m20 0h0m30 0h0m2 0h0m1 0h0m3 0h0m10 0h0m7 0h0m1 0h0m2 0h0m5 0h0m1 0h0m-189 1h0m5 0h0m6 0h0m2 0h0m3 0h0m1 0h0m6 0h0m2 0h0m1 0h0m47 0h0m6 0h0m1 0h0m2 0h0m2 0h0m1 0h0m2 0h0m1 0h0m2 0h0m1 0h0m1 0h0m40 0h0m7 0h0m8 0h0m18 0h0m7 0h0m7 0h0m3 0h0m2 0h0m2 0h0m3 0h0m-188 1h0m6 0h0m2 0h0m1 0h0m4 0h0m2 0h0m2 0h0m5 0h0m1 0h0m46 0h0m3 0h0m6 0h0m3 0h0m1 0h0m1 0h0m5 0h0m1 0h0m1 0h0m8 0h0m3 0h0m18 0h0m18 0h0m3 0h0m7 0h0m7 0h0m5 0h0m7 0h0m3 0h0m3 0h0m5 0h0m2 0h0m3 0h0m1 0h0m1 0h0m6 0h0m-194 1h0m4 0h0m1 0h0m2 0h0m8 0h0m4 0h0m2 0h0m2 0h0m3 0h0m1 0h0m44 0h0m2 0h0m3 0h0m5 0h0m7 0h0m3 0h0m1 0h0m2 0h0m4 0h0m14 0h0m54 0h0m14 0h0m10 0h0m5 0h0m-195 1h0m4 0h0m5 0h0m4 0h0m2 0h0m4 0h0m2 0h0m7 0h0m45 0h0m5 0h0m1 0h0m2 0h0m1 0h0m3 0h0m1 0h0m1 0h0m1 0h0m2 0h0m3 0h0m1 0h0m2 0h0m1 0h0m4 0h0m4 0h0m5 0h0m2 0h0m56 0h0m3 0h0m5 0h0m-164 1h0m2 0h0m3 0h0m1 0h0m1 0h0m3 0h0m2 0h0m1 0h0m2 0h0m49 0h0m2 0h0m1 0h0m1 0h0m1 0h0m1 0h0m2 0h0m2 0h0m1 0h0m3 0h0m4 0h0m1 0h0m1 0h0m1 0h0m1 0h0m3 0h0m1 0h0m1 0h0m3 0h0m7 0h0m55 0h0m1 0h0m9 0h0m2 0h0m-179 1h0m4 0h0m5 0h0m7 0h0m1 0h0m2 0h0m1 0h0m3 0h0m2 0h0m1 0h0m46 0h0m3 0h0m1 0h0m8 0h0m3 0h0m1 0h0m1 0h0m1 0h0m4 0h0m16 0h0m13 0h0m36 0h0m7 0h0m3 0h0m14 0h0m6 0h0m-186 1h0m1 0h0m5 0h0m3 0h0m1 0h0m4 0h0m3 0h0m1 0h0m2 0h0m55 0h0m4 0h0m1 0h0m2 0h0m3 0h0m1 0h0m4 0h0m1 0h0m1 0h0m2 0h0m3 0h0m3 0h0m6 0h0m3 0h0m3 0h0m41 0h0m2 0h0m2 0h0m18 0h0m-183 1h0m10 0h0m4 0h0m1 0h0m5 0h0m1 0h0m1 0h0m1 0h0m4 0h0m1 0h0m3 0h0m4 0h0m32 0h0m18 0h0m1 0h0m5 0h0m1 0h0m2 0h0m1 0h0m6 0h0m9 0h0m4 0h0m14 0h0m13 0h0m15 0h0m7 0h0m2 0h0m8 0h0m5 0h0m4 0h0m-179 1h0m9 0h0m5 0h0m4 0h0m1 0h0m1 0h0m1 0h0m3 0h0m3 0h0m1 0h0m44 0h0m2 0h0m8 0h0m1 0h0m2 0h0m1 0h0m1 0h0m1 0h0m3 0h0m2 0h0m2 0h0m7 0h0m6 0h0m9 0h0m4 0h0m33 0h0m16 0h0m13 0h0m5 0h0m1 0h0m5 0h0m-194 1h0m14 0h0m1 0h0m1 0h0m3 0h0m1 0h0m3 0h0m2 0h0m1 0h0m49 0h0m8 0h0m1 0h0m2 0h0m3 0h0m3 0h0m3 0h0m2 0h0m1 0h0m3 0h0m20 0h0m38 0h0m1 0h0m6 0h0m7 0h0m2 0h0m6 0h0m3 0h0m4 0h0m9 0h0m1 0h0m-188 1h0m2 0h0m3 0h0m3 0h0m1 0h0m2 0h0m1 0h0m1 0h0m1 0h0m2 0h0m8 0h0m48 0h0m5 0h0m1 0h0m1 0h0m1 0h0m2 0h0m1 0h0m3 0h0m1 0h0m3 0h0m4 0h0m2 0h0m41 0h0m22 0h0m4 0h0m8 0h0m10 0h0m3 0h0m-199 1h0m22 0h0m2 0h0m4 0h0m1 0h0m1 0h0m1 0h0m1 0h0m7 0h0m40 0h0m8 0h0m1 0h0m1 0h0m1 0h0m2 0h0m2 0h0m3 0h0m3 0h0m2 0h0m4 0h0m2 0h0m5 0h0m13 0h0m40 0h0m5 0h0m1 0h0m2 0h0m4 0h0m4 0h0m21 0h0m4 0h0m-204 1h0m9 0h0m5 0h0m5 0h0m3 0h0m2 0h0m1 0h0m3 0h0m1 0h0m1 0h0m1 0h0m3 0h0m2 0h0m51 0h0m1 0h0m1 0h0m1 0h0m4 0h0m3 0h0m5 0h0m2 0h0m8 0h0m44 0h0m15 0h0m8 0h0m10 0h0m11 0h0m12 0h0m-203 1h0m5 0h0m1 0h0m1 0h0m5 0h0m4 0h0m2 0h0m3 0h0m7 0h0m1 0h0m4 0h0m38 0h0m2 0h0m1 0h0m2 0h0m3 0h0m2 0h0m1 0h0m1 0h0m7 0h0m5 0h0m1 0h0m1 0h0m1 0h0m11 0h0m49 0h0m4 0h0m4 0h0m1 0h0m-177 1h0m4 0h0m5 0h0m9 0h0m3 0h0m1 0h0m5 0h0m1 0h0m1 0h0m4 0h0m2 0h0m3 0h0m40 0h0m1 0h0m1 0h0m1 0h0m4 0h0m4 0h0m1 0h0m4 0h0m1 0h0m3 0h0m3 0h0m1 0h0m1 0h0m25 0h0m26 0h0m4 0h0m3 0h0m16 0h0m5 0h0m-162 1h0m2 0h0m2 0h0m1 0h0m1 0h0m3 0h0m1 0h0m2 0h0m1 0h0m45 0h0m3 0h0m1 0h0m2 0h0m1 0h0m1 0h0m2 0h0m1 0h0m2 0h0m4 0h0m6 0h0m2 0h0m2 0h0m12 0h0m44 0h0m8 0h0m6 0h0m8 0h0m5 0h0m3 0h0m4 0h0m5 0h0m-189 1h0m3 0h0m3 0h0m5 0h0m2 0h0m1 0h0m1 0h0m1 0h0m3 0h0m1 0h0m1 0h0m11 0h0m42 0h0m1 0h0m2 0h0m1 0h0m1 0h0m1 0h0m2 0h0m2 0h0m4 0h0m4 0h0m11 0h0m60 0h0m3 0h0m8 0h0m1 0h0m11 0h0m-197 1h0m12 0h0m10 0h0m1 0h0m9 0h0m1 0h0m1 0h0m2 0h0m1 0h0m1 0h0m2 0h0m5 0h0m40 0h0m4 0h0m2 0h0m1 0h0m1 0h0m1 0h0m1 0h0m2 0h0m3 0h0m3 0h0m8 0h0m50 0h0m4 0h0m2 0h0m11 0h0m7 0h0m9 0h0m3 0h0m-177 1h0m4 0h0m2 0h0m3 0h0m4 0h0m1 0h0m1 0h0m2 0h0m2 0h0m2 0h0m2 0h0m42 0h0m1 0h0m1 0h0m4 0h0m1 0h0m2 0h0m1 0h0m2 0h0m3 0h0m1 0h0m2 0h0m6 0h0m4 0h0m25 0h0m23 0h0m11 0h0m2 0h0m2 0h0m6 0h0m13 0h0m4 0h0m-184 1h0m7 0h0m1 0h0m3 0h0m4 0h0m3 0h0m1 0h0m3 0h0m8 0h0m2 0h0m26 0h0m4 0h0m1 0h0m4 0h0m2 0h0m1 0h0m1 0h0m3 0h0m2 0h0m4 0h0m6 0h0m5 0h0m1 0h0m6 0h0m5 0h0m41 0h0m11 0h0m4 0h0m4 0h0m2 0h0m7 0h0m2 0h0m4 0h0m8 0h0m6 0h0m-194 1h0m2 0h0m1 0h0m3 0h0m3 0h0m1 0h0m1 0h0m2 0h0m1 0h0m1 0h0m5 0h0m3 0h0m3 0h0m1 0h0m4 0h0m5 0h0m4 0h0m18 0h0m1 0h0m3 0h0m2 0h0m5 0h0m2 0h0m2 0h0m1 0h0m2 0h0m1 0h0m4 0h0m2 0h0m1 0h0m1 0h0m1 0h0m2 0h0m1 0h0m1 0h0m4 0h0m65 0h0m3 0h0m11 0h0m14 0h0m-182 1h0m4 0h0m3 0h0m5 0h0m4 0h0m1 0h0m2 0h0m5 0h0m2 0h0m1 0h0m1 0h0m19 0h0m5 0h0m4 0h0m3 0h0m8 0h0m1 0h0m1 0h0m4 0h0m1 0h0m1 0h0m1 0h0m7 0h0m7 0h0m34 0h0m20 0h0m11 0h0m4 0h0m12 0h0m7 0h0m-172 1h0m7 0h0m4 0h0m2 0h0m4 0h0m3 0h0m1 0h0m4 0h0m2 0h0m13 0h0m5 0h0m8 0h0m2 0h0m2 0h0m1 0h0m3 0h0m1 0h0m1 0h0m2 0h0m4 0h0m1 0h0m11 0h0m63 0h0m7 0h0m1 0h0m3 0h0m11 0h0m-177 1h0m5 0h0m2 0h0m3 0h0m3 0h0m3 0h0m8 0h0m2 0h0m1 0h0m2 0h0m1 0h0m5 0h0m1 0h0m10 0h0m2 0h0m4 0h0m1 0h0m9 0h0m2 0h0m3 0h0m1 0h0m4 0h0m1 0h0m3 0h0m8 0h0m2 0h0m24 0h0m6 0h0m26 0h0m-136 1h0m12 0h0m5 0h0m1 0h0m2 0h0m2 0h0m2 0h0m4 0h0m2 0h0m5 0h0m6 0h0m1 0h0m3 0h0m8 0h0m4 0h0m1 0h0m2 0h0m1 0h0m2 0h0m1 0h0m2 0h0m2 0h0m1 0h0m1 0h0m1 0h0m1 0h0m1 0h0m1 0h0m2 0h0m1 0h0m3 0h0m2 0h0m1 0h0m2 0h0m11 0h0m27 0h0m27 0h0m4 0h0m3 0h0m6 0h0m11 0h0m-174 1h0m6 0h0m4 0h0m3 0h0m1 0h0m1 0h0m3 0h0m1 0h0m2 0h0m1 0h0m2 0h0m2 0h0m6 0h0m2 0h0m2 0h0m1 0h0m1 0h0m6 0h0m5 0h0m1 0h0m3 0h0m4 0h0m2 0h0m1 0h0m7 0h0m1 0h0m3 0h0m1 0h0m1 0h0m1 0h0m1 0h0m2 0h0m6 0h0m11 0h0m3 0h0m7 0h0m47 0h0m8 0h0m12 0h0m8 0h0m-191 1h0m12 0h0m12 0h0m2 0h0m1 0h0m2 0h0m3 0h0m1 0h0m1 0h0m3 0h0m14 0h0m3 0h0m2 0h0m1 0h0m1 0h0m2 0h0m1 0h0m6 0h0m3 0h0m1 0h0m1 0h0m3 0h0m1 0h0m2 0h0m2 0h0m1 0h0m7 0h0m2 0h0m2 0h0m4 0h0m1 0h0m3 0h0m10 0h0m2 0h0m2 0h0m26 0h0m23 0h0m10 0h0m4 0h0m11 0h0m2 0h0m-180 1h0m6 0h0m10 0h0m3 0h0m2 0h0m4 0h0m1 0h0m1 0h0m3 0h0m1 0h0m4 0h0m1 0h0m2 0h0m1 0h0m3 0h0m2 0h0m6 0h0m7 0h0m1 0h0m1 0h0m1 0h0m1 0h0m1 0h0m2 0h0m3 0h0m4 0h0m2 0h0m1 0h0m4 0h0m2 0h0m2 0h0m4 0h0m1 0h0m2 0h0m16 0h0m4 0h0m37 0h0m1 0h0m13 0h0m-162 1h0m1 0h0m5 0h0m5 0h0m3 0h0m1 0h0m2 0h0m4 0h0m1 0h0m1 0h0m2 0h0m1 0h0m2 0h0m1 0h0m4 0h0m1 0h0m7 0h0m1 0h0m1 0h0m2 0h0m1 0h0m1 0h0m1 0h0m1 0h0m9 0h0m4 0h0m1 0h0m1 0h0m1 0h0m1 0h0m2 0h0m1 0h0m3 0h0m7 0h0m1 0h0m1 0h0m1 0h0m70 0h0m6 0h0m17 0h0m-161 1h0m9 0h0m7 0h0m1 0h0m2 0h0m1 0h0m1 0h0m1 0h0m1 0h0m1 0h0m1 0h0m1 0h0m1 0h0m6 0h0m1 0h0m1 0h0m1 0h0m7 0h0m2 0h0m1 0h0m1 0h0m3 0h0m2 0h0m4 0h0m1 0h0m1 0h0m1 0h0m1 0h0m1 0h0m4 0h0m8 0h0m1 0h0m1 0h0m6 0h0m70 0h0m11 0h0m-173 1h0m13 0h0m16 0h0m3 0h0m3 0h0m2 0h0m1 0h0m3 0h0m2 0h0m11 0h0m3 0h0m2 0h0m3 0h0m1 0h0m1 0h0m1 0h0m1 0h0m2 0h0m1 0h0m1 0h0m2 0h0m4 0h0m2 0h0m1 0h0m3 0h0m4 0h0m3 0h0m23 0h0m18 0h0m4 0h0m3 0h0m15 0h0m2 0h0m4 0h0m1 0h0m11 0h0m6 0h0m-163 1h0m6 0h0m3 0h0m1 0h0m2 0h0m2 0h0m2 0h0m3 0h0m1 0h0m2 0h0m5 0h0m1 0h0m2 0h0m2 0h0m1 0h0m1 0h0m5 0h0m3 0h0m1 0h0m2 0h0m1 0h0m1 0h0m5 0h0m6 0h0m2 0h0m1 0h0m1 0h0m4 0h0m8 0h0m61 0h0m5 0h0m5 0h0m9 0h0m-168 1h0m15 0h0m3 0h0m4 0h0m5 0h0m2 0h0m7 0h0m2 0h0m2 0h0m2 0h0m1 0h0m1 0h0m2 0h0m1 0h0m4 0h0m2 0h0m4 0h0m2 0h0m2 0h0m1 0h0m2 0h0m3 0h0m1 0h0m4 0h0m18 0h0m10 0h0m19 0h0m16 0h0m2 0h0m14 0h0m2 0h0m1 0h0m3 0h0m3 0h0m2 0h0m8 0h0m7 0h0m-175 1h0m8 0h0m18 0h0m3 0h0m1 0h0m1 0h0m5 0h0m1 0h0m1 0h0m1 0h0m1 0h0m3 0h0m4 0h0m3 0h0m1 0h0m1 0h0m2 0h0m1 0h0m1 0h0m1 0h0m1 0h0m4 0h0m1 0h0m2 0h0m1 0h0m1 0h0m2 0h0m1 0h0m1 0h0m2 0h0m1 0h0m1 0h0m1 0h0m7 0h0m1 0h0m8 0h0m2 0h0m11 0h0m39 0h0m18 0h0m7 0h0m3 0h0m2 0h0m2 0h0m3 0h0m-165 1h0m9 0h0m1 0h0m2 0h0m7 0h0m2 0h0m2 0h0m1 0h0m1 0h0m2 0h0m5 0h0m4 0h0m3 0h0m1 0h0m4 0h0m3 0h0m2 0h0m1 0h0m3 0h0m2 0h0m1 0h0m2 0h0m5 0h0m10 0h0m7 0h0m4 0h0m2 0h0m38 0h0m12 0h0m3 0h0m1 0h0m1 0h0m8 0h0m12 0h0m5 0h0m-170 1h0m2 0h0m14 0h0m1 0h0m7 0h0m1 0h0m4 0h0m3 0h0m2 0h0m1 0h0m1 0h0m2 0h0m1 0h0m1 0h0m4 0h0m3 0h0m1 0h0m1 0h0m1 0h0m1 0h0m1 0h0m2 0h0m1 0h0m1 0h0m3 0h0m2 0h0m1 0h0m4 0h0m1 0h0m5 0h0m2 0h0m7 0h0m23 0h0m-95 1h0m7 0h0m7 0h0m2 0h0m1 0h0m2 0h0m3 0h0m1 0h0m3 0h0m8 0h0m3 0h0m1 0h0m1 0h0m8 0h0m5 0h0m2 0h0m1 0h0m1 0h0m2 0h0m2 0h0m1 0h0m5 0h0m6 0h0m33 0h0m23 0h0m2 0h0m4 0h0m1 0h0m1 0h0m1 0h0m5 0h0m15 0h0m3 0h0m-165 1h0m2 0h0m1 0h0m14 0h0m4 0h0m1 0h0m5 0h0m2 0h0m1 0h0m1 0h0m3 0h0m2 0h0m1 0h0m2 0h0m1 0h0m2 0h0m3 0h0m1 0h0m2 0h0m3 0h0m6 0h0m2 0h0m5 0h0m1 0h0m3 0h0m1 0h0m9 0h0m18 0h0m34 0h0m4 0h0m10 0h0m2 0h0m4 0h0m12 0h0m5 0h0m5 0h0m-184 1h0m4 0h0m9 0h0m4 0h0m2 0h0m2 0h0m13 0h0m1 0h0m1 0h0m3 0h0m1 0h0m2 0h0m4 0h0m4 0h0m3 0h0m1 0h0m2 0h0m2 0h0m1 0h0m2 0h0m2 0h0m2 0h0m1 0h0m2 0h0m1 0h0m8 0h0m14 0h0m1 0h0m1 0h0m1 0h0m54 0h0m13 0h0m4 0h0m12 0h0m2 0h0m-172 1h0m3 0h0m12 0h0m4 0h0m7 0h0m2 0h0m2 0h0m2 0h0m3 0h0m2 0h0m1 0h0m5 0h0m1 0h0m1 0h0m3 0h0m4 0h0m1 0h0m2 0h0m1 0h0m2 0h0m7 0h0m1 0h0m5 0h0m3 0h0m7 0h0m30 0h0m27 0h0m5 0h0m4 0h0m5 0h0m11 0h0m2 0h0m5 0h0m-160 1h0m11 0h0m3 0h0m2 0h0m6 0h0m1 0h0m9 0h0m1 0h0m1 0h0m8 0h0m1 0h0m1 0h0m5 0h0m3 0h0m3 0h0m3 0h0m6 0h0m6 0h0m4 0h0m4 0h0m3 0h0m45 0h0m6 0h0m5 0h0m27 0h0m-181 1h0m13 0h0m9 0h0m4 0h0m6 0h0m1 0h0m3 0h0m1 0h0m1 0h0m3 0h0m2 0h0m3 0h0m2 0h0m1 0h0m1 0h0m3 0h0m2 0h0m1 0h0m1 0h0m2 0h0m1 0h0m3 0h0m1 0h0m1 0h0m2 0h0m1 0h0m7 0h0m5 0h0m17 0h0m2 0h0m13 0h0m41 0h0m6 0h0m6 0h0m17 0h0m-154 1h0m1 0h0m10 0h0m2 0h0m3 0h0m2 0h0m1 0h0m1 0h0m4 0h0m6 0h0m3 0h0m1 0h0m1 0h0m3 0h0m1 0h0m2 0h0m4 0h0m2 0h0m2 0h0m2 0h0m4 0h0m1 0h0m10 0h0m38 0h0m8 0h0m2 0h0m15 0h0m6 0h0m4 0h0m-142 1h0m5 0h0m1 0h0m2 0h0m3 0h0m1 0h0m3 0h0m2 0h0m1 0h0m2 0h0m1 0h0m3 0h0m4 0h0m2 0h0m3 0h0m2 0h0m3 0h0m1 0h0m1 0h0m2 0h0m1 0h0m2 0h0m6 0h0m7 0h0m2 0h0m6 0h0m10 0h0m26 0h0m25 0h0m1 0h0m1 0h0m30 0h0m-160 1h0m4 0h0m5 0h0m4 0h0m1 0h0m1 0h0m1 0h0m1 0h0m1 0h0m3 0h0m2 0h0m2 0h0m1 0h0m5 0h0m1 0h0m1 0h0m1 0h0m5 0h0m4 0h0m8 0h0m4 0h0m1 0h0m60 0h0m17 0h0m7 0h0m2 0h0m4 0h0m7 0h0m-164 1h0m21 0h0m2 0h0m5 0h0m1 0h0m3 0h0m1 0h0m2 0h0m7 0h0m2 0h0m2 0h0m2 0h0m4 0h0m3 0h0m2 0h0m11 0h0m2 0h0m2 0h0m2 0h0m1 0h0m50 0h0m14 0h0m4 0h0m3 0h0m-132 1h0m3 0h0m8 0h0m5 0h0m4 0h0m1 0h0m4 0h0m4 0h0m3 0h0m1 0h0m4 0h0m1 0h0m3 0h0m3 0h0m2 0h0m19 0h0m7 0h0m8 0h0m28 0h0m3 0h0m4 0h0m3 0h0m1 0h0m1 0h0m8 0h0m3 0h0m1 0h0m3 0h0m15 0h0m-153 1h0m1 0h0m10 0h0m6 0h0m1 0h0m2 0h0m8 0h0m1 0h0m3 0h0m3 0h0m3 0h0m1 0h0m3 0h0m1 0h0m1 0h0m1 0h0m1 0h0m2 0h0m3 0h0m3 0h0m2 0h0m2 0h0m7 0h0m51 0h0m3 0h0m3 0h0m1 0h0m8 0h0m9 0h0m21 0h0m-171 1h0m1 0h0m17 0h0m3 0h0m1 0h0m7 0h0m4 0h0m3 0h0m1 0h0m1 0h0m1 0h0m2 0h0m2 0h0m3 0h0m5 0h0m3 0h0m3 0h0m3 0h0m2 0h0m2 0h0m6 0h0m16 0h0m30 0h0m17 0h0m2 0h0m4 0h0m3 0h0m4 0h0m9 0h0m-130 1h0m1 0h0m5 0h0m2 0h0m2 0h0m2 0h0m4 0h0m2 0h0m3 0h0m2 0h0m2 0h0m1 0h0m2 0h0m4 0h0m2 0h0m1 0h0m4 0h0m4 0h0m2 0h0m54 0h0m2 0h0m12 0h0m21 0h0m2 0h0m-160 1h0m14 0h0m8 0h0m4 0h0m2 0h0m4 0h0m9 0h0m2 0h0m6 0h0m3 0h0m3 0h0m3 0h0m8 0h0m30 0h0m12 0h0m23 0h0m3 0h0m13 0h0m7 0h0m8 0h0m5 0h0m-159 1h0m12 0h0m3 0h0m2 0h0m7 0h0m3 0h0m2 0h0m1 0h0m5 0h0m3 0h0m1 0h0m5 0h0m3 0h0m5 0h0m2 0h0m6 0h0m1 0h0m1 0h0m30 0h0m48 0h0m-145 1h0m23 0h0m3 0h0m7 0h0m3 0h0m1 0h0m1 0h0m3 0h0m2 0h0m4 0h0m1 0h0m1 0h0m1 0h0m5 0h0m2 0h0m1 0h0m1 0h0m4 0h0m4 0h0m40 0h0m19 0h0m14 0h0m6 0h0m1 0h0m12 0h0m1 0h0m-152 1h0m6 0h0m10 0h0m5 0h0m2 0h0m1 0h0m1 0h0m3 0h0m4 0h0m1 0h0m6 0h0m3 0h0m1 0h0m1 0h0m2 0h0m1 0h0m8 0h0m3 0h0m1 0h0m7 0h0m48 0h0m18 0h0m2 0h0m4 0h0m11 0h0m-171 1h0m41 0h0m2 0h0m4 0h0m3 0h0m7 0h0m1 0h0m1 0h0m4 0h0m1 0h0m4 0h0m6 0h0m1 0h0m1 0h0m3 0h0m8 0h0m47 0h0m15 0h0m4 0h0m10 0h0m8 0h0m-147 1h0m2 0h0m5 0h0m2 0h0m5 0h0m2 0h0m2 0h0m2 0h0m4 0h0m4 0h0m1 0h0m5 0h0m2 0h0m3 0h0m2 0h0m1 0h0m2 0h0m1 0h0m1 0h0m1 0h0m3 0h0m3 0h0m12 0h0m2 0h0m37 0h0m7 0h0m8 0h0m7 0h0m8 0h0m13 0h0m5 0h0m-161 1h0m10 0h0m3 0h0m14 0h0m1 0h0m9 0h0m2 0h0m9 0h0m3 0h0m4 0h0m17 0h0m4 0h0m3 0h0m9 0h0m52 0h0m1 0h0m4 0h0m15 0h0m-134 1h0m7 0h0m2 0h0m1 0h0m11 0h0m2 0h0m3 0h0m3 0h0m3 0h0m11 0h0m2 0h0m1 0h0m48 0h0m2 0h0m2 0h0m17 0h0m7 0h0m4 0h0m5 0h0m-166 1h0m32 0h0m8 0h0m6 0h0m3 0h0m2 0h0m1 0h0m1 0h0m6 0h0m2 0h0m1 0h0m2 0h0m2 0h0m2 0h0m9 0h0m5 0h0m24 0h0m22 0h0m11 0h0m4 0h0m24 0h0m-140 1h0m3 0h0m4 0h0m2 0h0m2 0h0m2 0h0m3 0h0m4 0h0m1 0h0m1 0h0m2 0h0m3 0h0m3 0h0m2 0h0m4 0h0m1 0h0m3 0h0m5 0h0m2 0h0m9 0h0m25 0h0m32 0h0m16 0h0m6 0h0m5 0h0m-147 1h0m4 0h0m3 0h0m8 0h0m4 0h0m2 0h0m1 0h0m1 0h0m6 0h0m8 0h0m1 0h0m2 0h0m6 0h0m7 0h0m2 0h0m11 0h0m50 0h0m9 0h0m6 0h0m9 0h0m1 0h0m-137 1h0m3 0h0m10 0h0m2 0h0m2 0h0m3 0h0m3 0h0m9 0h0m5 0h0m2 0h0m4 0h0m5 0h0m11 0h0m10 0h0m39 0h0m14 0h0m7 0h0m2 0h0m-135 1h0m8 0h0m5 0h0m5 0h0m1 0h0m1 0h0m2 0h0m5 0h0m1 0h0m2 0h0m4 0h0m4 0h0m8 0h0m3 0h0m62 0h0m17 0h0m13 0h0m3 0h0m8 0h0m-153 1h0m13 0h0m11 0h0m2 0h0m3 0h0m3 0h0m2 0h0m2 0h0m2 0h0m1 0h0m2 0h0m1 0h0m11 0h0m3 0h0m5 0h0m38 0h0m15 0h0m1 0h0m8 0h0m21 0h0m1 0h0m-129 1h0m2 0h0m1 0h0m3 0h0m1 0h0m2 0h0m3 0h0m3 0h0m2 0h0m3 0h0m3 0h0m2 0h0m17 0h0m6 0h0m35 0h0m12 0h0m1 0h0m2 0h0m20 0h0m-106 1h0m3 0h0m1 0h0m4 0h0m2 0h0m9 0h0m3 0h0m3 0h0m3 0h0m22 0h0m22 0h0m7 0h0m5 0h0m24 0h0m7 0h0m-126 1h0m6 0h0m6 0h0m9 0h0m2 0h0m12 0h0m4 0h0m12 0h0m60 0h0m9 0h0m1 0h0m4 0h0m7 0h0m-137 1h0m18 0h0m2 0h0m2 0h0m4 0h0m4 0h0m10 0h0m2 0h0m22 0h0m6 0h0m42 0h0m7 0h0m8 0h0m-128 1h0m1 0h0m5 0h0m8 0h0m1 0h0m1 0h0m5 0h0m2 0h0m2 0h0m1 0h0m2 0h0m1 0h0m7 0h0m4 0h0m13 0h0m40 0h0m5 0h0m17 0h0m4 0h0m-120 1h0m10 0h0m13 0h0m8 0h0m8 0h0m60 0h0m9 0h0m4 0h0m13 0h0m14 0h0m-130 1h0m2 0h0m5 0h0m2 0h0m1 0h0m1 0h0m2 0h0m8 0h0m3 0h0m8 0h0m6 0h0m57 0h0m11 0h0m11 0h0m10 0h0m3 0h0" stroke="#2626f4"/><path d="M176 43h0m-12 1h0m6 0h0m-8 1h0m15 1h0m1 0h0m-8 1h0m-6 1h0m8 0h0m3 0h0m4 0h0m2 0h0m-12 1h0m3 0h0m3 0h0m1 0h0m1 0h0m-7 1h0m3 0h0m12 0h0m-25 1h0m5 0h0m5 0h0m1 0h0m4 0h0m2 0h0m8 0h0m4 0h0m-14 1h0m6 0h0m3 0h0m3 0h0m3 0h0m-16 1h0m2 0h0m1 0h0m9 0h0m2 0h0m2 0h0m1 0h0m4 0h0m-26 1h0m6 0h0m1 0h0m1 0h0m1 0h0m6 0h0m2 0h0m6 0h0m1 0h0m-24 1h0m2 0h0m2 0h0m1 0h0m1 0h0m4 0h0m1 0h0m7 0h0m-13 1h0m2 0h0m3 0h0m2 0h0m1 0h0m2 0h0m2 0h0m2 0h0m1 0h0m5 0h0m-38 1h0m13 0h0m2 0h0m1 0h0m2 0h0m3 0h0m5 0h0m2 0h0m1 0h0m2 0h0m4 0h0m-21 1h0m2 0h0m2 0h0m5 0h0m2 0h0m1 0h0m9 0h0m5 0h0m-22 1h0m1 0h0m2 0h0m8 0h0m1 0h0m1 0h0m2 0h0m1 0h0m2 0h0m2 0h0m2 0h0m2 0h0m2 0h0m-22 1h0m2 0h0m5 0h0m2 0h0m12 0h0m-33 1h0m1 0h0m8 0h0m1 0h0m2 0h0m3 0h0m1 0h0m5 0h0m1 0h0m5 0h0m6 0h0m3 0h0m-23 1h0m2 0h0m5 0h0m3 0h0m5 0h0m3 0h0m1 0h0m-24 1h0m1 0h0m1 0h0m1 0h0m4 0h0m1 0h0m1 0h0m8 0h0m2 0h0m3 0h0m1 0h0m-20 1h0m7 0h0m2 0h0m1 0h0m1 0h0m2 0h0m6 0h0m4 0h0m-28 1h0m3 0h0m9 0h0m5 0h0m5 0h0m1 0h0m1 0h0m7 0h0m-17 1h0m5 0h0m2 0h0m-14 1h0m1 0h0m11 0h0m3 0h0m3 0h0m1 0h0m-12 1h0m1 0h0m1 0h0m3 0h0m5 0h0m1 0h0m1 0h0m4 0h0m2 0h0m-23 1h0m3 0h0m3 0h0m1 0h0m3 0h0m2 0h0m1 0h0m1 0h0m1 0h0m8 0h0m-23 1h0m4 0h0m1 0h0m2 0h0m2 0h0m8 0h0m1 0h0m2 0h0m-16 1h0m5 0h0m2 0h0m1 0h0m3 0h0m4 0h0m-16 1h0m4 0h0m2 0h0m3 0h0m8 0h0m-12 1h0m13 1h0m-12 1h0m11 0h0m1 0h0m-15 2h0m5 1h0m1 2h0m1 1h0m4 0h0m-6 1h0m-127 74h0m-3 1h0m8 0h0m-10 2h0m11 1h0m6 1h0m-12 1h0m2 0h0m4 0h0m8 0h0m-14 1h0m3 0h0m8 0h0m1 0h0m5 0h0m-33 1h0m26 0h0m3 0h0m4 0h0m-25 1h0m2 0h0m2 0h0m3 0h0m5 0h0m1 0h0m2 0h0m1 0h0m1 0h0m2 0h0m-29 1h0m2 0h0m7 0h0m1 0h0m9 0h0m1 0h0m1 0h0m5 0h0m3 0h0m5 0h0m2 0h0m-37 1h0m10 0h0m1 0h0m1 0h0m1 0h0m1 0h0m2 0h0m2 0h0m9 0h0m2 0h0m1 0h0m9 0h0m-42 1h0m2 0h0m4 0h0m2 0h0m5 0h0m1 0h0m11 0h0m1 0h0m2 0h0m15 0h0m-39 1h0m3 0h0m4 0h0m3 0h0m7 0h0m4 0h0m2 0h0m3 0h0m1 0h0m5 0h0m3 0h0m2 0h0m-29 1h0m4 0h0m6 0h0m1 0h0m4 0h0m11 0h0m3 0h0m4 0h0m-37 1h0m1 0h0m2 0h0m1 0h0m5 0h0m2 0h0m12 0h0m7 0h0m7 0h0m1 0h0m4 0h0m1 0h0m2 0h0m-45 1h0m1 0h0m3 0h0m4 0h0m13 0h0m7 0h0m2 0h0m5 0h0m8 0h0m1 0h0m-53 1h0m1 0h0m3 0h0m2 0h0m4 0h0m22 0h0m9 0h0m3 0h0m1 0h0m1 0h0m5 0h0m1 0h0m-51 1h0m5 0h0m30 0h0m13 0h0m1 0h0m-52 1h0m2 0h0m2 0h0m4 0h0m3 0h0m2 0h0m17 0h0m4 0h0m6 0h0m4 0h0m3 0h0m2 0h0m-46 1h0m1 0h0m7 0h0m3 0h0m1 0h0m4 0h0m26 0h0m1 0h0m6 0h0m1 0h0m-51 1h0m5 0h0m2 0h0m1 0h0m4 0h0m24 0h0m6 0h0m2 0h0m2 0h0m6 0h0m-53 1h0m5 0h0m8 0h0m3 0h0m1 0h0m22 0h0m3 0h0m1 0h0m2 0h0m3 0h0m11 0h0m-57 1h0m2 0h0m2 0h0m2 0h0m38 0h0m8 0h0m-51 1h0m2 0h0m1 0h0m1 0h0m1 0h0m36 0h0m7 0h0m4 0h0m3 0h0m1 0h0m-49 1h0m2 0h0m32 0h0m5 0h0m7 0h0m1 0h0m2 0h0m-58 1h0m4 0h0m24 0h0m19 0h0m3 0h0m1 0h0m4 0h0m2 0h0m1 0h0m-59 1h0m8 0h0m10 0h0m29 0h0m3 0h0m4 0h0m-54 1h0m1 0h0m6 0h0m5 0h0m3 0h0m32 0h0m5 0h0m2 0h0m1 0h0m2 0h0m-58 1h0m3 0h0m3 0h0m4 0h0m3 0h0m37 0h0m2 0h0m1 0h0m3 0h0m1 0h0m4 0h0m-61 1h0m2 0h0m1 0h0m3 0h0m44 0h0m7 0h0m1 0h0m10 0h0m-68 1h0m1 0h0m9 0h0m5 0h0m34 0h0m1 0h0m3 0h0m-52 1h0m5 0h0m5 0h0m3 0h0m2 0h0m34 0h0m1 0h0m1 0h0m1 0h0m2 0h0m8 0h0m-63 1h0m7 0h0m1 0h0m1 0h0m3 0h0m37 0h0m1 0h0m3 0h0m4 0h0m-54 1h0m1 0h0m3 0h0m34 0h0m7 0h0m6 0h0m-51 1h0m4 0h0m5 0h0m24 0h0m3 0h0m4 0h0m8 0h0m6 0h0m1 0h0m3 0h0m1 0h0m1 0h0m-56 1h0m2 0h0m2 0h0m2 0h0m27 0h0m14 0h0m4 0h0m3 0h0m5 0h0m-72 1h0m1 0h0m9 0h0m5 0h0m1 0h0m2 0h0m11 0h0m27 0h0m4 0h0m1 0h0m1 0h0m8 0h0m-58 1h0m1 0h0m3 0h0m2 0h0m37 0h0m8 0h0m1 0h0m2 0h0m3 0h0m-58 1h0m1 0h0m3 0h0m1 0h0m3 0h0m36 0h0m4 0h0m2 0h0m3 0h0m-62 1h0m17 0h0m1 0h0m4 0h0m1 0h0m20 0h0m8 0h0m3 0h0m3 0h0m6 0h0m1 0h0m-54 1h0m3 0h0m1 0h0m1 0h0m7 0h0m4 0h0m12 0h0m14 0h0m1 0h0m1 0h0m6 0h0m3 0h0m-46 1h0m4 0h0m9 0h0m23 0h0m1 0h0m1 0h0m7 0h0m-49 1h0m3 0h0m1 0h0m1 0h0m1 0h0m1 0h0m2 0h0m9 0h0m23 0h0m1 0h0m6 0h0m-49 1h0m3 0h0m1 0h0m1 0h0m3 0h0m3 0h0m2 0h0m1 0h0m12 0h0m4 0h0m5 0h0m12 0h0m2 0h0m-53 1h0m11 0h0m1 0h0m9 0h0m2 0h0m4 0h0m5 0h0m7 0h0m4 0h0m1 0h0m8 0h0m-44 1h0m2 0h0m8 0h0m17 0h0m2 0h0m6 0h0m1 0h0m1 0h0m2 0h0m1 0h0m3 0h0m1 0h0m1 0h0m-47 1h0m3 0h0m9 0h0m6 0h0m1 0h0m1 0h0m6 0h0m2 0h0m6 0h0m4 0h0m-40 1h0m9 0h0m2 0h0m12 0h0m2 0h0m2 0h0m3 0h0m5 0h0m14 0h0m-44 1h0m4 0h0m4 0h0m1 0h0m9 0h0m1 0h0m2 0h0m6 0h0m7 0h0m5 0h0m5 0h0m-41 1h0m1 0h0m3 0h0m1 0h0m5 0h0m1 0h0m2 0h0m1 0h0m2 0h0m10 0h0m2 0h0m3 0h0m1 0h0m2 0h0m7 0h0m1 0h0m-46 1h0m3 0h0m5 0h0m1 0h0m8 0h0m2 0h0m1 0h0m2 0h0m3 0h0m5 0h0m3 0h0m2 0h0m1 0h0m2 0h0m-41 1h0m3 0h0m2 0h0m2 0h0m3 0h0m3 0h0m2 0h0m5 0h0m7 0h0m1 0h0m3 0h0m5 0h0m3 0h0m-26 1h0m2 0h0m8 0h0m1 0h0m7 0h0m1 0h0m7 0h0m-25 1h0m1 0h0m2 0h0m1 0h0m9 0h0m10 0h0m4 0h0m-25 1h0m14 0h0m4 0h0m1 0h0m1 0h0m1 0h0m-21 1h0m14 0h0m1 0h0m1 0h0m2 0h0m-1 1h0m10 0h0m-29 1h0m18 0h0m2 0h0m-14 1h0m13 0h0m-3 1h0m6 0h0m6 0h0m6 0h0m-20 1h0m15 0h0m-12 2h0m-1 2h0m-1 3h0m20 0h0m-6 2h0m-9 2h0" stroke="#0c44ec"/><path d="M178 48h0m2 0h0m2 1h0m-2 2h0m9 1h0m-10 1h0m10 0h0m-10 1h0m-2 1h0m-5 1h0m3 1h0m8 0h0m5 0h0m1 0h0m1 0h0m3 0h0m-18 1h0m9 0h0m3 0h0m-11 1h0m2 0h0m2 0h0m3 0h0m-8 1h0m1 0h0m3 0h0m3 0h0m1 0h0m3 0h0m4 0h0m-7 1h0m8 0h0m4 0h0m-19 1h0m2 0h0m6 0h0m1 1h0m1 0h0m6 1h0m-2 1h0m1 0h0m-3 1h0m-4 1h0m9 0h0m3 0h0m-6 1h0m3 0h0m2 0h0m4 0h0m-17 1h0m10 0h0m7 0h0m1 0h0m1 0h0m-17 1h0m5 0h0m2 0h0m3 0h0m1 0h0m2 0h0m3 0h0m-2 1h0m1 0h0m-15 2h0m7 0h0m9 0h0m-130 83h0m-2 6h0m10 0h0m-13 2h0m-2 1h0m3 0h0m9 0h0m4 0h0m3 0h0m-23 1h0m2 0h0m3 0h0m8 0h0m5 0h0m-22 1h0m6 0h0m4 0h0m9 0h0m3 0h0m-24 1h0m6 0h0m1 0h0m1 0h0m3 0h0m1 0h0m2 0h0m9 0h0m4 0h0m3 0h0m-32 1h0m15 0h0m6 0h0m4 0h0m7 0h0m2 0h0m-37 1h0m2 0h0m2 0h0m2 0h0m17 0h0m1 0h0m3 0h0m8 0h0m2 0h0m-39 1h0m4 0h0m3 0h0m8 0h0m7 0h0m3 0h0m4 0h0m2 0h0m1 0h0m5 0h0m2 0h0m1 0h0m9 0h0m-25 1h0m1 0h0m2 0h0m2 0h0m1 0h0m8 0h0m9 0h0m-40 1h0m1 0h0m2 0h0m2 0h0m8 0h0m4 0h0m2 0h0m1 0h0m2 0h0m1 0h0m8 0h0m5 0h0m1 0h0m-43 1h0m3 0h0m1 0h0m4 0h0m3 0h0m3 0h0m13 0h0m1 0h0m4 0h0m1 0h0m1 0h0m2 0h0m2 0h0m3 0h0m-47 1h0m5 0h0m3 0h0m6 0h0m1 0h0m2 0h0m19 0h0m2 0h0m3 0h0m3 0h0m1 0h0m2 0h0m4 0h0m1 0h0m-43 1h0m11 0h0m1 0h0m3 0h0m1 0h0m7 0h0m1 0h0m1 0h0m1 0h0m1 0h0m4 0h0m8 0h0m1 0h0m-47 1h0m1 0h0m1 0h0m1 0h0m7 0h0m2 0h0m9 0h0m11 0h0m5 0h0m1 0h0m2 0h0m7 0h0m-45 1h0m5 0h0m10 0h0m5 0h0m9 0h0m7 0h0m4 0h0m2 0h0m6 0h0m2 0h0m-44 1h0m2 0h0m3 0h0m7 0h0m4 0h0m9 0h0m8 0h0m5 0h0m1 0h0m1 0h0m1 0h0m4 0h0m-46 1h0m1 0h0m3 0h0m26 0h0m1 0h0m2 0h0m5 0h0m1 0h0m1 0h0m5 0h0m-48 1h0m3 0h0m2 0h0m3 0h0m4 0h0m1 0h0m1 0h0m6 0h0m11 0h0m3 0h0m6 0h0m5 0h0m2 0h0m2 0h0m5 0h0m-54 1h0m1 0h0m1 0h0m1 0h0m5 0h0m3 0h0m2 0h0m8 0h0m3 0h0m9 0h0m2 0h0m2 0h0m6 0h0m1 0h0m3 0h0m-46 1h0m4 0h0m1 0h0m18 0h0m2 0h0m10 0h0m11 0h0m2 0h0m-44 1h0m6 0h0m5 0h0m19 0h0m-34 1h0m4 0h0m2 0h0m17 0h0m18 0h0m6 0h0m3 0h0m-51 1h0m1 0h0m3 0h0m1 0h0m1 0h0m1 0h0m6 0h0m12 0h0m3 0h0m1 0h0m3 0h0m16 0h0m-50 1h0m2 0h0m2 0h0m4 0h0m8 0h0m25 0h0m8 0h0m-55 1h0m8 0h0m6 0h0m23 0h0m2 0h0m-28 1h0m11 0h0m18 0h0m5 0h0m4 0h0m8 0h0m-50 1h0m5 0h0m2 0h0m1 0h0m2 0h0m1 0h0m12 0h0m6 0h0m2 0h0m5 0h0m2 0h0m1 0h0m6 0h0m1 0h0m1 0h0m-42 1h0m2 0h0m21 0h0m19 0h0m1 0h0m-51 1h0m3 0h0m6 0h0m23 0h0m1 0h0m2 0h0m1 0h0m3 0h0m8 0h0m3 0h0m2 0h0m-47 1h0m5 0h0m5 0h0m20 0h0m3 0h0m16 0h0m-49 1h0m1 0h0m12 0h0m2 0h0m1 0h0m1 0h0m13 0h0m2 0h0m1 0h0m6 0h0m5 0h0m1 0h0m1 0h0m1 0h0m1 0h0m-49 1h0m9 0h0m2 0h0m1 0h0m1 0h0m19 0h0m18 0h0m-45 1h0m8 0h0m2 0h0m3 0h0m12 0h0m4 0h0m8 0h0m3 0h0m3 0h0m-41 1h0m1 0h0m4 0h0m6 0h0m1 0h0m12 0h0m-24 1h0m1 0h0m4 0h0m1 0h0m2 0h0m2 0h0m5 0h0m5 0h0m11 0h0m1 0h0m-27 1h0m2 0h0m12 0h0m4 0h0m1 0h0m5 0h0m10 0h0m1 0h0m-36 1h0m2 0h0m5 0h0m1 0h0m4 0h0m3 0h0m2 0h0m1 0h0m11 0h0m3 0h0m4 0h0m2 0h0m-36 1h0m1 0h0m1 0h0m2 0h0m2 0h0m6 0h0m13 0h0m5 0h0m1 0h0m2 0h0m4 0h0m-38 1h0m1 0h0m9 0h0m2 0h0m2 0h0m1 0h0m1 0h0m5 0h0m6 0h0m4 0h0m3 0h0m1 0h0m-30 1h0m7 0h0m4 0h0m2 0h0m2 0h0m2 0h0m4 0h0m1 0h0m3 0h0m1 0h0m5 0h0m-34 1h0m1 0h0m3 0h0m4 0h0m7 0h0m4 0h0m2 0h0m2 0h0m4 0h0m4 0h0m2 0h0m1 0h0m-32 1h0m1 0h0m2 0h0m2 0h0m2 0h0m6 0h0m5 0h0m15 0h0m-28 1h0m7 0h0m1 0h0m1 0h0m4 0h0m5 0h0m-19 1h0m1 0h0m8 0h0m8 0h0m2 0h0m-26 1h0m19 0h0m4 0h0m1 0h0m3 0h0m-24 1h0m3 0h0m9 0h0m9 0h0m7 0h0m-8 1h0m4 0h0m2 0h0m-4 2h0m-4 1h0m4 0h0m-3 1h0m3 0h0m1 2h0m-6 2h0" stroke="#18a8e0"/><path d="M174 49h0m16 5h0m1 0h0m0 2h0m-11 1h0m6 0h0m-3 1h0m10 0h0m-12 1h0m10 0h0m-14 1h0m4 0h0m3 0h0m-7 1h0m2 0h0m-2 1h0m8 0h0m3 0h0m-1 1h0m0 4h0m-3 1h0m8 2h0m-1 1h0m6 0h0m-132 94h0m13 0h0m-16 1h0m1 0h0m2 0h0m9 0h0m5 0h0m1 0h0m-17 1h0m3 0h0m1 0h0m-9 1h0m4 0h0m4 0h0m7 0h0m1 0h0m3 0h0m1 0h0m1 0h0m3 0h0m-30 1h0m1 0h0m5 0h0m1 0h0m1 0h0m2 0h0m1 0h0m2 0h0m2 0h0m8 0h0m2 0h0m1 0h0m3 0h0m-24 1h0m1 0h0m2 0h0m1 0h0m1 0h0m2 0h0m3 0h0m1 0h0m1 0h0m4 0h0m4 0h0m2 0h0m1 0h0m6 0h0m-30 1h0m2 0h0m5 0h0m1 0h0m1 0h0m1 0h0m1 0h0m2 0h0m3 0h0m1 0h0m7 0h0m-30 1h0m4 0h0m2 0h0m1 0h0m4 0h0m6 0h0m1 0h0m1 0h0m9 0h0m2 0h0m2 0h0m1 0h0m2 0h0m2 0h0m-38 1h0m2 0h0m4 0h0m4 0h0m1 0h0m2 0h0m2 0h0m4 0h0m1 0h0m9 0h0m3 0h0m-36 1h0m8 0h0m1 0h0m2 0h0m3 0h0m3 0h0m1 0h0m1 0h0m1 0h0m1 0h0m1 0h0m2 0h0m1 0h0m2 0h0m1 0h0m3 0h0m-22 1h0m3 0h0m2 0h0m2 0h0m1 0h0m1 0h0m2 0h0m1 0h0m6 0h0m1 0h0m2 0h0m1 0h0m2 0h0m3 0h0m2 0h0m7 0h0m1 0h0m-45 1h0m11 0h0m1 0h0m2 0h0m3 0h0m1 0h0m5 0h0m3 0h0m6 0h0m1 0h0m1 0h0m-29 1h0m1 0h0m5 0h0m1 0h0m2 0h0m1 0h0m1 0h0m3 0h0m2 0h0m1 0h0m3 0h0m2 0h0m4 0h0m8 0h0m7 0h0m-49 1h0m5 0h0m3 0h0m2 0h0m2 0h0m1 0h0m7 0h0m3 0h0m1 0h0m2 0h0m2 0h0m2 0h0m2 0h0m1 0h0m1 0h0m1 0h0m1 0h0m3 0h0m9 0h0m1 0h0m-42 1h0m4 0h0m1 0h0m4 0h0m1 0h0m1 0h0m1 0h0m3 0h0m7 0h0m1 0h0m1 0h0m1 0h0m2 0h0m1 0h0m1 0h0m1 0h0m2 0h0m1 0h0m-31 1h0m1 0h0m2 0h0m1 0h0m1 0h0m3 0h0m2 0h0m1 0h0m1 0h0m9 0h0m2 0h0m2 0h0m2 0h0m5 0h0m2 0h0m1 0h0m4 0h0m3 0h0m-40 1h0m2 0h0m1 0h0m1 0h0m4 0h0m3 0h0m1 0h0m2 0h0m1 0h0m2 0h0m6 0h0m3 0h0m2 0h0m1 0h0m1 0h0m4 0h0m3 0h0m-40 1h0m1 0h0m1 0h0m3 0h0m1 0h0m6 0h0m1 0h0m1 0h0m1 0h0m1 0h0m11 0h0m3 0h0m2 0h0m3 0h0m1 0h0m1 0h0m-34 1h0m2 0h0m1 0h0m3 0h0m5 0h0m1 0h0m1 0h0m3 0h0m2 0h0m3 0h0m2 0h0m1 0h0m1 0h0m2 0h0m1 0h0m2 0h0m1 0h0m1 0h0m1 0h0m3 0h0m7 0h0m-47 1h0m1 0h0m3 0h0m3 0h0m2 0h0m1 0h0m1 0h0m3 0h0m1 0h0m2 0h0m9 0h0m2 0h0m2 0h0m1 0h0m2 0h0m1 0h0m1 0h0m-34 1h0m4 0h0m1 0h0m3 0h0m1 0h0m1 0h0m3 0h0m3 0h0m3 0h0m3 0h0m1 0h0m2 0h0m1 0h0m1 0h0m3 0h0m2 0h0m1 0h0m1 0h0m1 0h0m1 0h0m1 0h0m-39 1h0m1 0h0m5 0h0m2 0h0m1 0h0m1 0h0m2 0h0m1 0h0m7 0h0m1 0h0m3 0h0m4 0h0m1 0h0m3 0h0m1 0h0m1 0h0m3 0h0m1 0h0m1 0h0m-40 1h0m6 0h0m2 0h0m1 0h0m5 0h0m1 0h0m2 0h0m8 0h0m3 0h0m1 0h0m2 0h0m1 0h0m1 0h0m1 0h0m2 0h0m1 0h0m3 0h0m4 0h0m-37 1h0m4 0h0m1 0h0m2 0h0m1 0h0m6 0h0m1 0h0m1 0h0m2 0h0m1 0h0m6 0h0m1 0h0m1 0h0m1 0h0m1 0h0m1 0h0m1 0h0m1 0h0m1 0h0m1 0h0m-46 1h0m8 0h0m2 0h0m3 0h0m2 0h0m1 0h0m4 0h0m2 0h0m3 0h0m1 0h0m1 0h0m2 0h0m3 0h0m1 0h0m1 0h0m1 0h0m4 0h0m1 0h0m4 0h0m5 0h0m-44 1h0m1 0h0m1 0h0m5 0h0m4 0h0m2 0h0m1 0h0m1 0h0m2 0h0m2 0h0m5 0h0m2 0h0m4 0h0m1 0h0m1 0h0m9 0h0m1 0h0m6 0h0m-48 1h0m6 0h0m1 0h0m1 0h0m1 0h0m2 0h0m3 0h0m1 0h0m3 0h0m6 0h0m3 0h0m2 0h0m1 0h0m2 0h0m4 0h0m2 0h0m1 0h0m2 0h0m1 0h0m5 0h0m-45 1h0m4 0h0m1 0h0m1 0h0m1 0h0m1 0h0m2 0h0m1 0h0m1 0h0m2 0h0m1 0h0m2 0h0m1 0h0m1 0h0m1 0h0m1 0h0m1 0h0m1 0h0m1 0h0m7 0h0m2 0h0m1 0h0m3 0h0m1 0h0m4 0h0m4 0h0m-45 1h0m3 0h0m1 0h0m1 0h0m1 0h0m2 0h0m1 0h0m2 0h0m2 0h0m1 0h0m2 0h0m1 0h0m2 0h0m1 0h0m1 0h0m1 0h0m2 0h0m1 0h0m3 0h0m3 0h0m1 0h0m3 0h0m1 0h0m1 0h0m1 0h0m2 0h0m2 0h0m-40 1h0m2 0h0m1 0h0m1 0h0m1 0h0m1 0h0m1 0h0m2 0h0m4 0h0m1 0h0m1 0h0m2 0h0m4 0h0m1 0h0m1 0h0m1 0h0m6 0h0m2 0h0m3 0h0m3 0h0m-29 1h0m1 0h0m1 0h0m1 0h0m1 0h0m1 0h0m1 0h0m1 0h0m1 0h0m1 0h0m1 0h0m4 0h0m1 0h0m1 0h0m2 0h0m1 0h0m1 0h0m1 0h0m1 0h0m1 0h0m1 0h0m1 0h0m5 0h0m-37 1h0m1 0h0m1 0h0m7 0h0m3 0h0m1 0h0m1 0h0m1 0h0m1 0h0m1 0h0m2 0h0m2 0h0m2 0h0m4 0h0m3 0h0m1 0h0m2 0h0m10 0h0m-38 1h0m1 0h0m3 0h0m4 0h0m1 0h0m1 0h0m2 0h0m1 0h0m2 0h0m2 0h0m2 0h0m1 0h0m1 0h0m3 0h0m1 0h0m1 0h0m1 0h0m-31 1h0m5 0h0m2 0h0m4 0h0m1 0h0m3 0h0m4 0h0m1 0h0m1 0h0m1 0h0m1 0h0m4 0h0m4 0h0m-27 1h0m3 0h0m2 0h0m3 0h0m4 0h0m3 0h0m6 0h0m3 0h0m3 0h0m-24 1h0m1 0h0m3 0h0m1 0h0m1 0h0m3 0h0m8 0h0m2 0h0m2 0h0m2 0h0m3 0h0m-26 1h0m5 0h0m1 0h0m1 0h0m3 0h0m1 0h0m1 0h0m2 0h0m1 0h0m1 0h0m2 0h0m1 0h0m2 0h0m2 0h0m9 0h0m-32 1h0m1 0h0m1 0h0m2 0h0m1 0h0m2 0h0m2 0h0m4 0h0m1 0h0m1 0h0m4 0h0m1 0h0m1 0h0m-21 1h0m2 0h0m1 0h0m6 0h0m1 0h0m1 0h0m6 0h0m3 0h0m-23 1h0m6 0h0m2 0h0m4 0h0m2 0h0m3 0h0m2 0h0m2 0h0m-14 1h0m2 0h0m4 0h0m2 0h0m2 0h0m18 0h0m-25 2h0m13 0h0m-16 1h0m5 0h0m9 0h0m1 0h0m-8 1h0m10 1h0m0 2h0m0 1h0m0 1h0" stroke="#28cc48"/><path d="M185 61h0m-122 107h0m-2 1h0m17 1h0m-21 1h0m2 0h0m11 0h0m9 0h0m-21 1h0m5 0h0m1 0h0m1 0h0m1 0h0m11 0h0m-20 1h0m8 0h0m2 0h0m4 0h0m9 0h0m2 0h0m-22 1h0m8 0h0m14 0h0m-22 1h0m4 0h0m4 0h0m1 0h0m-2 1h0m1 0h0m2 0h0m1 0h0m-5 1h0m4 0h0m9 0h0m-20 1h0m2 0h0m3 0h0m6 0h0m2 0h0m18 0h0m-38 1h0m5 0h0m7 0h0m2 0h0m2 0h0m3 0h0m10 0h0m-23 1h0m1 0h0m6 0h0m1 0h0m1 0h0m3 0h0m4 0h0m2 0h0m2 0h0m4 0h0m-19 1h0m1 0h0m6 0h0m2 0h0m1 0h0m1 0h0m2 0h0m3 0h0m-25 1h0m7 0h0m8 0h0m4 0h0m1 0h0m2 0h0m9 0h0m-30 1h0m6 0h0m2 0h0m5 0h0m1 0h0m5 0h0m-19 1h0m11 0h0m2 0h0m1 0h0m1 0h0m1 0h0m2 0h0m4 0h0m-20 1h0m1 0h0m7 0h0m1 0h0m2 0h0m1 0h0m3 0h0m8 0h0m2 0h0m-19 1h0m2 0h0m3 0h0m3 0h0m3 0h0m6 0h0m4 0h0m1 0h0m-26 1h0m7 0h0m3 0h0m1 0h0m1 0h0m1 0h0m2 0h0m1 0h0m3 0h0m5 0h0m-26 1h0m1 0h0m6 0h0m2 0h0m2 0h0m4 0h0m3 0h0m-18 1h0m3 0h0m2 0h0m4 0h0m5 0h0m14 0h0m1 0h0m-28 1h0m6 0h0m2 0h0m2 0h0m2 0h0m1 0h0m2 0h0m13 0h0m1 0h0m-29 1h0m2 0h0m1 0h0m3 0h0m4 0h0m1 0h0m1 0h0m3 0h0m9 0h0m3 0h0m-26 1h0m4 0h0m14 0h0m9 0h0m-20 1h0m3 0h0m5 0h0m3 0h0m3 0h0m4 0h0m-15 1h0m2 0h0m1 0h0m1 0h0m9 0h0m2 0h0m2 0h0m-29 1h0m16 0h0m1 0h0m1 0h0m-9 1h0m7 0h0m2 0h0m8 0h0m-20 1h0m4 0h0m4 0h0m5 0h0m-4 1h0m1 0h0m7 0h0m2 0h0m-20 1h0m2 0h0m6 0h0m1 0h0m3 0h0m5 0h0m1 0h0m2 0h0m3 0h0m-14 1h0m8 0h0m2 0h0" stroke="#90e020"/><path d="M62 172h0m1 1h0m14 0h0m-10 2h0m4 0h0m-2 2h0m-1 1h0m-10 1h0m12 0h0m-9 1h0m7 0h0m3 0h0m1 0h0m3 1h0m-13 1h0m10 0h0m-10 1h0m0 1h0m12 0h0m1 0h0m4 0h0m8 0h0m-24 1h0m12 0h0m-11 1h0m2 0h0m1 0h0m0 1h0m1 0h0m-7 1h0m4 0h0m2 0h0m12 0h0m-15 1h0m9 0h0m1 0h0m-14 1h0m5 1h0m1 1h0m19 1h0m-5 3h0m2 1h0m1 0h0m-13 1h0m24 3h0" stroke="#ecd818"/><path d="M69 179h0m6 3h0m2 0h0m-1 1h0m-4 1h0m-8 3h0m17 11h0" stroke="#f88a10"/><path d="M69 180h0m-2 11h0" stroke="#e83410"/></g>
<rect x="484.5" y="75.5" width="490.0" height="490.0" fill="none" stroke="#2a2a2a" stroke-width="2.6"/>
<path d="M701.0 75.5V565.5M484.5 360.5H974.5" stroke="#2a2a2a" stroke-width="2.4" fill="none"/>
<path d="M484.5 565.5v14.5M484.5 565.5h-15M521.4 565.5v7M484.5 528.6h-7M542.9 565.5v7M484.5 507.1h-7M558.3 565.5v7M484.5 491.7h-7M570.1 565.5v7M484.5 479.9h-7M579.8 565.5v7M484.5 470.2h-7M588.0 565.5v7M484.5 462.0h-7M595.1 565.5v7M484.5 454.9h-7M601.4 565.5v7M484.5 448.6h-7M607.0 565.5v14.5M484.5 443.0h-15M643.9 565.5v7M484.5 406.1h-7M665.4 565.5v7M484.5 384.6h-7M680.8 565.5v7M484.5 369.2h-7M692.6 565.5v7M484.5 357.4h-7M702.3 565.5v7M484.5 347.7h-7M710.5 565.5v7M484.5 339.5h-7M717.6 565.5v7M484.5 332.4h-7M723.9 565.5v7M484.5 326.1h-7M729.5 565.5v14.5M484.5 320.5h-15M766.4 565.5v7M484.5 283.6h-7M787.9 565.5v7M484.5 262.1h-7M803.3 565.5v7M484.5 246.7h-7M815.1 565.5v7M484.5 234.9h-7M824.8 565.5v7M484.5 225.2h-7M833.0 565.5v7M484.5 217.0h-7M840.1 565.5v7M484.5 209.9h-7M846.4 565.5v7M484.5 203.6h-7M852.0 565.5v14.5M484.5 198.0h-15M888.9 565.5v7M484.5 161.1h-7M910.4 565.5v7M484.5 139.6h-7M925.8 565.5v7M484.5 124.2h-7M937.6 565.5v7M484.5 112.4h-7M947.3 565.5v7M484.5 102.7h-7M955.5 565.5v7M484.5 94.5h-7M962.6 565.5v7M484.5 87.4h-7M968.9 565.5v7M484.5 81.1h-7M974.5 565.5v14.5M484.5 75.5h-15" stroke="#2a2a2a" stroke-width="2.4" fill="none"/>
<text x="490.5" y="615.5" font-size="24" font-weight="normal" fill="#333" text-anchor="start" stroke="#333" stroke-width="0.45">10</text>
<text x="517.5" y="598.0" font-size="24" font-weight="normal" fill="#333" text-anchor="start" stroke="#333" stroke-width="0.45">0</text>
<text x="594.5" y="615.5" font-size="24" font-weight="normal" fill="#333" text-anchor="start" stroke="#333" stroke-width="0.45">10</text>
<text x="621.5" y="598.0" font-size="24" font-weight="normal" fill="#333" text-anchor="start" stroke="#333" stroke-width="0.45">1</text>
<text x="711.5" y="615.5" font-size="24" font-weight="normal" fill="#333" text-anchor="start" stroke="#333" stroke-width="0.45">10</text>
<text x="738.5" y="598.0" font-size="24" font-weight="normal" fill="#333" text-anchor="start" stroke="#333" stroke-width="0.45">2</text>
<text x="825.5" y="615.5" font-size="24" font-weight="normal" fill="#333" text-anchor="start" stroke="#333" stroke-width="0.45">10</text>
<text x="852.5" y="598.0" font-size="24" font-weight="normal" fill="#333" text-anchor="start" stroke="#333" stroke-width="0.45">3</text>
<text x="942.5" y="615.5" font-size="24" font-weight="normal" fill="#333" text-anchor="start" stroke="#333" stroke-width="0.45">10</text>
<text x="969.5" y="598.0" font-size="24" font-weight="normal" fill="#333" text-anchor="start" stroke="#333" stroke-width="0.45">4</text>
<text x="422.0" y="564.5" font-size="24" font-weight="normal" fill="#333" text-anchor="start" stroke="#333" stroke-width="0.45">10</text>
<text x="449.5" y="547.0" font-size="24" font-weight="normal" fill="#333" text-anchor="start" stroke="#333" stroke-width="0.45">0</text>
<text x="422.0" y="452.0" font-size="24" font-weight="normal" fill="#333" text-anchor="start" stroke="#333" stroke-width="0.45">10</text>
<text x="449.5" y="434.5" font-size="24" font-weight="normal" fill="#333" text-anchor="start" stroke="#333" stroke-width="0.45">1</text>
<text x="422.0" y="329.5" font-size="24" font-weight="normal" fill="#333" text-anchor="start" stroke="#333" stroke-width="0.45">10</text>
<text x="449.5" y="312.0" font-size="24" font-weight="normal" fill="#333" text-anchor="start" stroke="#333" stroke-width="0.45">2</text>
<text x="422.0" y="207.0" font-size="24" font-weight="normal" fill="#333" text-anchor="start" stroke="#333" stroke-width="0.45">10</text>
<text x="449.5" y="189.5" font-size="24" font-weight="normal" fill="#333" text-anchor="start" stroke="#333" stroke-width="0.45">3</text>
<text x="422.0" y="118.5" font-size="24" font-weight="normal" fill="#333" text-anchor="start" stroke="#333" stroke-width="0.45">10</text>
<text x="449.5" y="101.0" font-size="24" font-weight="normal" fill="#333" text-anchor="start" stroke="#333" stroke-width="0.45">4</text>
<text x="494.0" y="102.5" font-size="22" font-weight="normal" fill="#333" text-anchor="start" stroke="#333" stroke-width="0.3">Q1</text>
<text x="494.0" y="137.0" font-size="22" font-weight="normal" fill="#333" text-anchor="start" textLength="65.5" lengthAdjust="spacingAndGlyphs" stroke="#333" stroke-width="0.3">1.35%</text>
<text x="898.0" y="102.5" font-size="22" font-weight="normal" fill="#333" text-anchor="start" stroke="#333" stroke-width="0.3">Q2</text>
<text x="898.0" y="137.0" font-size="22" font-weight="normal" fill="#333" text-anchor="start" textLength="65.5" lengthAdjust="spacingAndGlyphs" stroke="#333" stroke-width="0.3">25.9%</text>
<text x="494.0" y="522.5" font-size="22" font-weight="normal" fill="#333" text-anchor="start" stroke="#333" stroke-width="0.3">Q4</text>
<text x="494.0" y="558.0" font-size="22" font-weight="normal" fill="#333" text-anchor="start" textLength="65.5" lengthAdjust="spacingAndGlyphs" stroke="#333" stroke-width="0.3">55.0%</text>
<text x="898.0" y="522.5" font-size="22" font-weight="normal" fill="#333" text-anchor="start" stroke="#333" stroke-width="0.3">Q3</text>
<text x="898.0" y="558.0" font-size="22" font-weight="normal" fill="#333" text-anchor="start" textLength="65.5" lengthAdjust="spacingAndGlyphs" stroke="#333" stroke-width="0.3">17.7%</text>
<text x="1313.5" y="61.0" font-size="46" font-weight="bold" fill="#000" text-anchor="middle" textLength="472.0" lengthAdjust="spacingAndGlyphs" >mimics+ox-LDL+SAL</text>
<g transform="translate(1086.46,76.46) scale(1.9141)" stroke-width="1.12" stroke-linecap="square" fill="none" filter="url(#db)"><path d="M186 10h0m-30 4h0m-11 3h0m-12 2h0m12 0h0m2 0h0m-4 1h0m16 2h0m4 0h0m2 0h0m5 0h0m-24 1h0m5 0h0m7 0h0m22 0h0m-65 1h0m25 0h0m2 0h0m1 0h0m12 0h0m1 0h0m6 0h0m2 0h0m-13 1h0m3 0h0m3 0h0m26 0h0m6 0h0m5 0h0m-53 1h0m3 0h0m11 0h0m4 0h0m11 0h0m7 0h0m2 0h0m10 0h0m-51 1h0m9 0h0m2 0h0m4 0h0m12 0h0m1 0h0m6 0h0m13 0h0m-47 1h0m5 0h0m3 0h0m2 0h0m3 0h0m7 0h0m18 0h0m7 0h0m4 0h0m12 0h0m-65 1h0m1 0h0m3 0h0m2 0h0m1 0h0m3 0h0m1 0h0m12 0h0m7 0h0m9 0h0m2 0h0m3 0h0m-53 1h0m1 0h0m10 0h0m4 0h0m3 0h0m4 0h0m7 0h0m1 0h0m5 0h0m1 0h0m1 0h0m7 0h0m5 0h0m4 0h0m-35 1h0m3 0h0m7 0h0m2 0h0m1 0h0m1 0h0m3 0h0m6 0h0m5 0h0m1 0h0m7 0h0m10 0h0m5 0h0m-90 1h0m25 0h0m17 0h0m10 0h0m8 0h0m2 0h0m3 0h0m1 0h0m1 0h0m10 0h0m3 0h0m6 0h0m18 0h0m-79 1h0m2 0h0m11 0h0m1 0h0m3 0h0m3 0h0m3 0h0m4 0h0m1 0h0m3 0h0m4 0h0m1 0h0m1 0h0m1 0h0m4 0h0m1 0h0m3 0h0m2 0h0m1 0h0m-67 1h0m14 0h0m17 0h0m2 0h0m1 0h0m12 0h0m5 0h0m3 0h0m1 0h0m3 0h0m10 0h0m5 0h0m3 0h0m16 0h0m-87 1h0m14 0h0m1 0h0m5 0h0m3 0h0m1 0h0m4 0h0m5 0h0m1 0h0m5 0h0m2 0h0m1 0h0m1 0h0m1 0h0m2 0h0m2 0h0m1 0h0m17 0h0m7 0h0m5 0h0m5 0h0m-70 1h0m3 0h0m9 0h0m5 0h0m1 0h0m2 0h0m1 0h0m1 0h0m5 0h0m2 0h0m1 0h0m2 0h0m6 0h0m2 0h0m4 0h0m17 0h0m3 0h0m-67 1h0m3 0h0m9 0h0m2 0h0m3 0h0m1 0h0m1 0h0m1 0h0m4 0h0m9 0h0m5 0h0m1 0h0m1 0h0m4 0h0m4 0h0m2 0h0m1 0h0m7 0h0m1 0h0m4 0h0m-69 1h0m2 0h0m1 0h0m4 0h0m14 0h0m3 0h0m2 0h0m1 0h0m1 0h0m3 0h0m4 0h0m5 0h0m1 0h0m2 0h0m3 0h0m1 0h0m2 0h0m2 0h0m4 0h0m2 0h0m4 0h0m1 0h0m3 0h0m4 0h0m1 0h0m1 0h0m-58 1h0m7 0h0m1 0h0m2 0h0m1 0h0m4 0h0m2 0h0m1 0h0m1 0h0m1 0h0m3 0h0m1 0h0m1 0h0m2 0h0m1 0h0m3 0h0m4 0h0m1 0h0m2 0h0m1 0h0m3 0h0m3 0h0m1 0h0m3 0h0m1 0h0m2 0h0m1 0h0m1 0h0m3 0h0m1 0h0m1 0h0m9 0h0m-94 1h0m9 0h0m21 0h0m1 0h0m5 0h0m1 0h0m5 0h0m1 0h0m5 0h0m4 0h0m3 0h0m3 0h0m2 0h0m1 0h0m1 0h0m1 0h0m10 0h0m2 0h0m4 0h0m1 0h0m11 0h0m2 0h0m4 0h0m-76 1h0m10 0h0m1 0h0m1 0h0m4 0h0m2 0h0m2 0h0m1 0h0m4 0h0m1 0h0m1 0h0m4 0h0m1 0h0m4 0h0m5 0h0m1 0h0m2 0h0m4 0h0m3 0h0m2 0h0m4 0h0m4 0h0m9 0h0m-70 1h0m5 0h0m6 0h0m1 0h0m2 0h0m7 0h0m2 0h0m1 0h0m1 0h0m1 0h0m1 0h0m1 0h0m1 0h0m3 0h0m3 0h0m2 0h0m7 0h0m1 0h0m2 0h0m1 0h0m2 0h0m3 0h0m1 0h0m2 0h0m3 0h0m1 0h0m1 0h0m2 0h0m3 0h0m3 0h0m2 0h0m2 0h0m4 0h0m-90 1h0m12 0h0m5 0h0m9 0h0m5 0h0m4 0h0m1 0h0m2 0h0m1 0h0m3 0h0m1 0h0m1 0h0m1 0h0m1 0h0m1 0h0m2 0h0m3 0h0m1 0h0m1 0h0m1 0h0m2 0h0m1 0h0m2 0h0m4 0h0m3 0h0m2 0h0m1 0h0m1 0h0m1 0h0m3 0h0m1 0h0m4 0h0m3 0h0m8 0h0m6 0h0m-79 1h0m2 0h0m2 0h0m1 0h0m4 0h0m3 0h0m1 0h0m2 0h0m1 0h0m1 0h0m1 0h0m1 0h0m1 0h0m2 0h0m2 0h0m1 0h0m3 0h0m1 0h0m1 0h0m2 0h0m2 0h0m1 0h0m4 0h0m1 0h0m1 0h0m2 0h0m2 0h0m2 0h0m2 0h0m1 0h0m1 0h0m3 0h0m2 0h0m3 0h0m16 0h0m-97 1h0m18 0h0m3 0h0m6 0h0m6 0h0m3 0h0m1 0h0m2 0h0m1 0h0m2 0h0m1 0h0m2 0h0m1 0h0m1 0h0m5 0h0m2 0h0m3 0h0m4 0h0m2 0h0m2 0h0m1 0h0m2 0h0m3 0h0m3 0h0m2 0h0m3 0h0m1 0h0m2 0h0m3 0h0m1 0h0m1 0h0m2 0h0m1 0h0m-72 1h0m8 0h0m3 0h0m5 0h0m3 0h0m4 0h0m4 0h0m3 0h0m4 0h0m4 0h0m1 0h0m2 0h0m3 0h0m2 0h0m6 0h0m2 0h0m3 0h0m4 0h0m1 0h0m3 0h0m2 0h0m1 0h0m5 0h0m-68 1h0m6 0h0m3 0h0m4 0h0m1 0h0m1 0h0m2 0h0m2 0h0m2 0h0m2 0h0m2 0h0m1 0h0m1 0h0m1 0h0m1 0h0m1 0h0m3 0h0m3 0h0m1 0h0m1 0h0m4 0h0m3 0h0m1 0h0m1 0h0m3 0h0m1 0h0m5 0h0m3 0h0m2 0h0m3 0h0m1 0h0m2 0h0m2 0h0m-73 1h0m2 0h0m5 0h0m1 0h0m4 0h0m1 0h0m2 0h0m1 0h0m5 0h0m2 0h0m1 0h0m1 0h0m3 0h0m4 0h0m1 0h0m4 0h0m1 0h0m1 0h0m1 0h0m1 0h0m1 0h0m2 0h0m2 0h0m6 0h0m1 0h0m3 0h0m1 0h0m2 0h0m2 0h0m1 0h0m2 0h0m1 0h0m3 0h0m4 0h0m-65 1h0m9 0h0m1 0h0m3 0h0m5 0h0m1 0h0m1 0h0m1 0h0m1 0h0m3 0h0m4 0h0m7 0h0m3 0h0m1 0h0m1 0h0m2 0h0m3 0h0m1 0h0m1 0h0m1 0h0m2 0h0m2 0h0m2 0h0m1 0h0m3 0h0m1 0h0m4 0h0m3 0h0m5 0h0m-82 1h0m6 0h0m2 0h0m2 0h0m3 0h0m10 0h0m1 0h0m1 0h0m3 0h0m1 0h0m1 0h0m4 0h0m2 0h0m3 0h0m1 0h0m1 0h0m1 0h0m3 0h0m1 0h0m5 0h0m2 0h0m1 0h0m1 0h0m1 0h0m5 0h0m2 0h0m4 0h0m2 0h0m3 0h0m10 0h0m-79 1h0m11 0h0m5 0h0m1 0h0m7 0h0m1 0h0m2 0h0m4 0h0m2 0h0m2 0h0m1 0h0m7 0h0m1 0h0m1 0h0m3 0h0m1 0h0m2 0h0m1 0h0m5 0h0m17 0h0m2 0h0m-113 1h0m14 0h0m9 0h0m2 0h0m17 0h0m1 0h0m4 0h0m2 0h0m1 0h0m2 0h0m1 0h0m2 0h0m2 0h0m4 0h0m2 0h0m3 0h0m1 0h0m2 0h0m2 0h0m1 0h0m3 0h0m1 0h0m2 0h0m1 0h0m1 0h0m2 0h0m2 0h0m2 0h0m1 0h0m1 0h0m1 0h0m2 0h0m1 0h0m6 0h0m2 0h0m2 0h0m1 0h0m3 0h0m6 0h0m1 0h0m3 0h0m2 0h0m-82 1h0m6 0h0m9 0h0m1 0h0m8 0h0m1 0h0m2 0h0m2 0h0m1 0h0m1 0h0m1 0h0m2 0h0m4 0h0m2 0h0m1 0h0m2 0h0m1 0h0m2 0h0m3 0h0m1 0h0m1 0h0m1 0h0m3 0h0m1 0h0m1 0h0m4 0h0m3 0h0m7 0h0m2 0h0m1 0h0m4 0h0m2 0h0m2 0h0m3 0h0m-113 1h0m13 0h0m33 0h0m2 0h0m4 0h0m1 0h0m5 0h0m1 0h0m1 0h0m2 0h0m2 0h0m1 0h0m2 0h0m1 0h0m2 0h0m2 0h0m1 0h0m10 0h0m1 0h0m7 0h0m1 0h0m3 0h0m2 0h0m5 0h0m1 0h0m4 0h0m2 0h0m-87 1h0m18 0h0m7 0h0m5 0h0m6 0h0m1 0h0m1 0h0m1 0h0m2 0h0m1 0h0m1 0h0m1 0h0m2 0h0m4 0h0m3 0h0m1 0h0m2 0h0m4 0h0m3 0h0m8 0h0m1 0h0m2 0h0m4 0h0m10 0h0m-93 1h0m10 0h0m7 0h0m12 0h0m1 0h0m2 0h0m8 0h0m2 0h0m1 0h0m1 0h0m8 0h0m1 0h0m3 0h0m2 0h0m1 0h0m4 0h0m1 0h0m10 0h0m2 0h0m1 0h0m1 0h0m2 0h0m1 0h0m1 0h0m2 0h0m1 0h0m9 0h0m1 0h0m-93 1h0m21 0h0m5 0h0m4 0h0m2 0h0m5 0h0m4 0h0m3 0h0m3 0h0m2 0h0m2 0h0m2 0h0m2 0h0m2 0h0m1 0h0m3 0h0m1 0h0m9 0h0m4 0h0m3 0h0m1 0h0m2 0h0m1 0h0m2 0h0m2 0h0m-72 1h0m1 0h0m6 0h0m8 0h0m3 0h0m1 0h0m3 0h0m4 0h0m2 0h0m3 0h0m4 0h0m3 0h0m1 0h0m3 0h0m1 0h0m1 0h0m2 0h0m11 0h0m2 0h0m3 0h0m1 0h0m2 0h0m1 0h0m2 0h0m7 0h0m3 0h0m2 0h0m-125 1h0m7 0h0m12 0h0m43 0h0m5 0h0m2 0h0m4 0h0m1 0h0m3 0h0m2 0h0m2 0h0m1 0h0m3 0h0m1 0h0m1 0h0m5 0h0m1 0h0m18 0h0m2 0h0m3 0h0m2 0h0m-57 1h0m1 0h0m2 0h0m5 0h0m3 0h0m2 0h0m1 0h0m1 0h0m4 0h0m1 0h0m2 0h0m1 0h0m1 0h0m1 0h0m1 0h0m1 0h0m1 0h0m14 0h0m5 0h0m1 0h0m1 0h0m2 0h0m1 0h0m4 0h0m4 0h0m-63 1h0m1 0h0m5 0h0m4 0h0m1 0h0m1 0h0m1 0h0m9 0h0m3 0h0m1 0h0m1 0h0m6 0h0m4 0h0m8 0h0m2 0h0m1 0h0m1 0h0m3 0h0m2 0h0m3 0h0m4 0h0m4 0h0m-74 1h0m7 0h0m7 0h0m3 0h0m5 0h0m4 0h0m1 0h0m1 0h0m3 0h0m3 0h0m3 0h0m5 0h0m3 0h0m7 0h0m1 0h0m3 0h0m4 0h0m1 0h0m5 0h0m3 0h0m8 0h0m13 0h0m-111 1h0m3 0h0m18 0h0m14 0h0m5 0h0m11 0h0m1 0h0m3 0h0m1 0h0m4 0h0m4 0h0m4 0h0m4 0h0m2 0h0m6 0h0m2 0h0m1 0h0m2 0h0m5 0h0m1 0h0m8 0h0m-112 1h0m6 0h0m12 0h0m23 0h0m10 0h0m2 0h0m5 0h0m1 0h0m3 0h0m4 0h0m2 0h0m3 0h0m1 0h0m1 0h0m7 0h0m7 0h0m1 0h0m1 0h0m4 0h0m1 0h0m2 0h0m4 0h0m6 0h0m-111 1h0m24 0h0m40 0h0m2 0h0m5 0h0m2 0h0m2 0h0m3 0h0m2 0h0m1 0h0m2 0h0m3 0h0m5 0h0m5 0h0m1 0h0m1 0h0m1 0h0m1 0h0m1 0h0m1 0h0m3 0h0m8 0h0m-65 1h0m5 0h0m15 0h0m7 0h0m1 0h0m3 0h0m1 0h0m3 0h0m2 0h0m1 0h0m7 0h0m1 0h0m1 0h0m3 0h0m1 0h0m2 0h0m1 0h0m2 0h0m2 0h0m1 0h0m8 0h0m-65 1h0m14 0h0m4 0h0m5 0h0m6 0h0m1 0h0m1 0h0m3 0h0m1 0h0m2 0h0m2 0h0m3 0h0m3 0h0m4 0h0m1 0h0m2 0h0m3 0h0m1 0h0m7 0h0m-100 1h0m17 0h0m8 0h0m2 0h0m19 0h0m3 0h0m1 0h0m4 0h0m2 0h0m3 0h0m3 0h0m1 0h0m2 0h0m2 0h0m2 0h0m2 0h0m1 0h0m1 0h0m2 0h0m3 0h0m1 0h0m4 0h0m1 0h0m2 0h0m1 0h0m1 0h0m4 0h0m4 0h0m2 0h0m-98 1h0m45 0h0m3 0h0m4 0h0m6 0h0m2 0h0m2 0h0m1 0h0m2 0h0m3 0h0m1 0h0m1 0h0m1 0h0m1 0h0m1 0h0m2 0h0m1 0h0m4 0h0m1 0h0m2 0h0m1 0h0m1 0h0m5 0h0m1 0h0m2 0h0m2 0h0m2 0h0m3 0h0m-49 1h0m4 0h0m4 0h0m6 0h0m1 0h0m1 0h0m2 0h0m3 0h0m2 0h0m2 0h0m2 0h0m6 0h0m1 0h0m1 0h0m5 0h0m1 0h0m6 0h0m-70 1h0m22 0h0m1 0h0m12 0h0m2 0h0m4 0h0m2 0h0m1 0h0m3 0h0m1 0h0m2 0h0m2 0h0m1 0h0m1 0h0m2 0h0m4 0h0m1 0h0m1 0h0m2 0h0m2 0h0m-103 1h0m46 0h0m24 0h0m2 0h0m2 0h0m1 0h0m3 0h0m1 0h0m2 0h0m1 0h0m2 0h0m2 0h0m2 0h0m1 0h0m9 0h0m1 0h0m4 0h0m2 0h0m-90 1h0m42 0h0m9 0h0m8 0h0m3 0h0m5 0h0m9 0h0m1 0h0m1 0h0m2 0h0m3 0h0m1 0h0m3 0h0m6 0h0m2 0h0m5 0h0m-104 1h0m57 0h0m2 0h0m1 0h0m8 0h0m1 0h0m2 0h0m1 0h0m3 0h0m1 0h0m1 0h0m3 0h0m2 0h0m3 0h0m3 0h0m3 0h0m4 0h0m-110 1h0m13 0h0m17 0h0m29 0h0m7 0h0m6 0h0m1 0h0m4 0h0m8 0h0m2 0h0m1 0h0m6 0h0m5 0h0m2 0h0m2 0h0m4 0h0m14 0h0m-141 1h0m49 0h0m9 0h0m2 0h0m5 0h0m22 0h0m9 0h0m4 0h0m1 0h0m1 0h0m4 0h0m2 0h0m4 0h0m1 0h0m1 0h0m1 0h0m6 0h0m1 0h0m2 0h0m1 0h0m8 0h0m-109 1h0m72 0h0m5 0h0m1 0h0m2 0h0m1 0h0m2 0h0m1 0h0m4 0h0m2 0h0m3 0h0m3 0h0m5 0h0m1 0h0m-48 1h0m20 0h0m2 0h0m12 0h0m1 0h0m2 0h0m1 0h0m1 0h0m2 0h0m3 0h0m1 0h0m9 0h0m6 0h0m-113 1h0m29 0h0m16 0h0m26 0h0m5 0h0m4 0h0m1 0h0m2 0h0m1 0h0m1 0h0m4 0h0m2 0h0m4 0h0m1 0h0m6 0h0m1 0h0m-31 1h0m4 0h0m2 0h0m1 0h0m4 0h0m2 0h0m2 0h0m9 0h0m1 0h0m1 0h0m1 0h0m2 0h0m6 0h0m4 0h0m-111 1h0m70 0h0m3 0h0m3 0h0m9 0h0m1 0h0m1 0h0m1 0h0m1 0h0m1 0h0m4 0h0m1 0h0m1 0h0m5 0h0m1 0h0m-30 1h0m1 0h0m3 0h0m2 0h0m1 0h0m3 0h0m3 0h0m1 0h0m2 0h0m3 0h0m8 0h0m2 0h0m3 0h0m2 0h0m-78 1h0m38 0h0m6 0h0m6 0h0m2 0h0m2 0h0m1 0h0m2 0h0m2 0h0m1 0h0m1 0h0m4 0h0m4 0h0m14 0h0m-61 1h0m29 0h0m1 0h0m3 0h0m1 0h0m3 0h0m1 0h0m1 0h0m2 0h0m11 0h0m9 0h0m-129 1h0m69 0h0m13 0h0m6 0h0m11 0h0m2 0h0m3 0h0m3 0h0m2 0h0m13 0h0m4 0h0m-45 1h0m7 0h0m1 0h0m7 0h0m1 0h0m10 0h0m3 0h0m5 0h0m1 0h0m4 0h0m7 0h0m-83 1h0m54 0h0m7 0h0m2 0h0m1 0h0m2 0h0m3 0h0m2 0h0m-34 1h0m5 0h0m7 0h0m7 0h0m2 0h0m5 0h0m1 0h0m6 0h0m3 0h0m5 0h0m7 0h0m-124 1h0m4 0h0m15 0h0m13 0h0m16 0h0m39 0h0m7 0h0m3 0h0m2 0h0m10 0h0m1 0h0m2 0h0m2 0h0m-42 1h0m5 0h0m9 0h0m2 0h0m5 0h0m2 0h0m1 0h0m1 0h0m1 0h0m2 0h0m1 0h0m2 0h0m1 0h0m3 0h0m1 0h0m4 0h0m6 0h0m1 0h0m6 0h0m-129 1h0m68 0h0m11 0h0m13 0h0m9 0h0m7 0h0m-21 1h0m17 0h0m1 0h0m3 0h0m2 0h0m1 0h0m1 0h0m3 0h0m1 0h0m3 0h0m6 0h0m-28 1h0m2 0h0m1 0h0m4 0h0m2 0h0m1 0h0m2 0h0m8 0h0m1 0h0m11 0h0m-131 1h0m104 0h0m1 0h0m7 0h0m2 0h0m9 0h0m-77 1h0m36 0h0m12 0h0m5 0h0m1 0h0m2 0h0m9 0h0m9 0h0m-46 1h0m8 0h0m5 0h0m9 0h0m1 0h0m1 0h0m2 0h0m1 0h0m13 0h0m1 0h0m4 0h0m-24 1h0m4 0h0m5 0h0m1 0h0m1 0h0m1 0h0m-99 1h0m1 0h0m62 0h0m12 0h0m13 0h0m9 0h0m17 0h0m1 0h0m1 0h0m-38 1h0m2 0h0m1 0h0m10 0h0m11 0h0m2 0h0m3 0h0m13 0h0m-110 1h0m71 0h0m9 0h0m6 0h0m1 0h0m2 0h0m-94 1h0m84 0h0m6 0h0m7 0h0m4 0h0m4 0h0m-115 1h0m81 0h0m9 0h0m10 0h0m4 0h0m44 0h0m-64 1h0m4 0h0m4 0h0m5 0h0m9 0h0m1 0h0m1 0h0m1 0h0m4 0h0m2 0h0m-24 1h0m4 0h0m3 0h0m2 0h0m12 0h0m2 0h0m1 0h0m-107 1h0m5 0h0m39 0h0m24 0h0m15 0h0m1 0h0m3 0h0m16 0h0m4 0h0m-137 1h0m77 0h0m31 0h0m2 0h0m14 0h0m4 0h0m3 0h0m1 0h0m1 0h0m-24 1h0m12 0h0m10 0h0m11 0h0m-21 1h0m15 0h0m-29 1h0m9 0h0m5 0h0m1 0h0m2 0h0m2 0h0m8 0h0m-95 1h0m30 0h0m10 0h0m5 0h0m22 0h0m12 0h0m5 0h0m4 0h0m1 0h0m2 0h0m-126 1h0m17 0h0m88 0h0m3 0h0m1 0h0m3 0h0m6 0h0m6 0h0m9 0h0m-12 1h0m2 0h0m7 0h0m-116 1h0m37 0h0m55 0h0m4 0h0m6 0h0m3 0h0m1 0h0m7 0h0m2 0h0m7 0h0m10 0h0m2 0h0m-28 1h0m4 0h0m16 0h0m-23 1h0m2 0h0m7 0h0m5 0h0m10 0h0m-115 1h0m67 0h0m28 0h0m1 0h0m4 0h0m3 0h0m-57 1h0m27 0h0m15 0h0m1 0h0m4 0h0m15 0h0m1 0h0m-102 1h0m76 0h0m11 0h0m8 0h0m5 0h0m1 0h0m5 0h0m6 0h0m-126 1h0m30 0h0m42 0h0m9 0h0m8 0h0m17 0h0m2 0h0m14 0h0m6 0h0m4 0h0m-143 1h0m72 0h0m17 0h0m8 0h0m12 0h0m11 0h0m2 0h0m17 0h0m-43 1h0m9 0h0m7 0h0m9 0h0m1 0h0m16 0h0m-118 1h0m76 0h0m15 0h0m9 0h0m3 0h0m2 0h0m5 0h0m-37 1h0m6 0h0m4 0h0m8 0h0m4 0h0m12 0h0m9 0h0m4 0h0m-92 1h0m64 0h0m3 0h0m3 0h0m3 0h0m1 0h0m6 0h0m3 0h0m-100 1h0m45 0h0m28 0h0m5 0h0m3 0h0m1 0h0m12 0h0m-155 1h0m50 0h0m82 0h0m7 0h0m3 0h0m-7 1h0m8 0h0m7 0h0m11 0h0m-89 1h0m69 0h0m2 0h0m5 0h0m4 0h0m13 0h0m-125 1h0m81 0h0m14 0h0m1 0h0m6 0h0m2 0h0m4 0h0m-98 1h0m78 0h0m8 0h0m1 0h0m2 0h0m4 0h0m1 0h0m2 0h0m6 0h0m11 0h0m-125 1h0m94 0h0m2 0h0m3 0h0m4 0h0m25 0h0m-160 1h0m21 0h0m107 0h0m2 0h0m2 0h0m11 0h0m15 0h0m1 0h0m-37 1h0m4 0h0m1 0h0m16 0h0m3 0h0m2 0h0m5 0h0m1 0h0m-144 1h0m109 0h0m16 0h0m1 0h0m3 0h0m11 0h0m7 0h0m-165 1h0m22 0h0m11 0h0m68 0h0m27 0h0m9 0h0m1 0h0m3 0h0m-121 1h0m11 0h0m12 0h0m49 0h0m26 0h0m21 0h0m3 0h0m7 0h0m7 0h0m3 0h0m6 0h0m-154 1h0m5 0h0m12 0h0m14 0h0m20 0h0m34 0h0m16 0h0m26 0h0m1 0h0m5 0h0m4 0h0m5 0h0m1 0h0m11 0h0m-172 1h0m14 0h0m11 0h0m123 0h0m2 0h0m1 0h0m2 0h0m7 0h0m-153 1h0m12 0h0m9 0h0m24 0h0m47 0h0m45 0h0m10 0h0m1 0h0m7 0h0m-160 1h0m19 0h0m4 0h0m1 0h0m17 0h0m107 0h0m3 0h0m2 0h0m1 0h0m9 0h0m-156 1h0m7 0h0m11 0h0m8 0h0m101 0h0m7 0h0m8 0h0m8 0h0m2 0h0m5 0h0m-144 1h0m16 0h0m4 0h0m5 0h0m76 0h0m10 0h0m12 0h0m5 0h0m12 0h0m-129 1h0m4 0h0m7 0h0m3 0h0m80 0h0m14 0h0m3 0h0m4 0h0m17 0h0m1 0h0m-150 1h0m11 0h0m1 0h0m3 0h0m9 0h0m2 0h0m2 0h0m5 0h0m4 0h0m14 0h0m72 0h0m4 0h0m8 0h0m1 0h0m23 0h0m-167 1h0m6 0h0m3 0h0m9 0h0m14 0h0m1 0h0m9 0h0m84 0h0m7 0h0m9 0h0m2 0h0m13 0h0m2 0h0m-155 1h0m3 0h0m1 0h0m1 0h0m6 0h0m9 0h0m1 0h0m4 0h0m39 0h0m76 0h0m2 0h0m6 0h0m6 0h0m2 0h0m-184 1h0m16 0h0m12 0h0m1 0h0m8 0h0m7 0h0m4 0h0m6 0h0m7 0h0m6 0h0m4 0h0m3 0h0m87 0h0m1 0h0m-158 1h0m25 0h0m7 0h0m4 0h0m2 0h0m5 0h0m1 0h0m1 0h0m2 0h0m6 0h0m8 0h0m2 0h0m6 0h0m6 0h0m7 0h0m75 0h0m3 0h0m7 0h0m-169 1h0m8 0h0m14 0h0m13 0h0m1 0h0m2 0h0m2 0h0m1 0h0m4 0h0m3 0h0m5 0h0m3 0h0m1 0h0m11 0h0m74 0h0m5 0h0m8 0h0m15 0h0m5 0h0m11 0h0m-178 1h0m16 0h0m1 0h0m3 0h0m3 0h0m3 0h0m3 0h0m2 0h0m1 0h0m2 0h0m5 0h0m4 0h0m2 0h0m3 0h0m5 0h0m22 0h0m84 0h0m-163 1h0m13 0h0m3 0h0m2 0h0m2 0h0m2 0h0m3 0h0m4 0h0m5 0h0m2 0h0m1 0h0m7 0h0m3 0h0m1 0h0m2 0h0m1 0h0m9 0h0m8 0h0m69 0h0m16 0h0m4 0h0m1 0h0m3 0h0m14 0h0m-180 1h0m7 0h0m12 0h0m5 0h0m12 0h0m5 0h0m2 0h0m1 0h0m1 0h0m1 0h0m6 0h0m3 0h0m3 0h0m1 0h0m1 0h0m1 0h0m9 0h0m3 0h0m1 0h0m1 0h0m35 0h0m44 0h0m14 0h0m2 0h0m1 0h0m-177 1h0m26 0h0m3 0h0m1 0h0m1 0h0m5 0h0m2 0h0m3 0h0m2 0h0m1 0h0m1 0h0m1 0h0m1 0h0m1 0h0m1 0h0m1 0h0m3 0h0m1 0h0m9 0h0m1 0h0m4 0h0m1 0h0m8 0h0m6 0h0m32 0h0m22 0h0m8 0h0m16 0h0m7 0h0m3 0h0m1 0h0m5 0h0m3 0h0m2 0h0m14 0h0m-209 1h0m34 0h0m4 0h0m4 0h0m3 0h0m4 0h0m2 0h0m4 0h0m1 0h0m1 0h0m7 0h0m2 0h0m1 0h0m4 0h0m1 0h0m1 0h0m1 0h0m4 0h0m1 0h0m1 0h0m3 0h0m11 0h0m14 0h0m82 0h0m22 0h0m-191 1h0m3 0h0m15 0h0m3 0h0m2 0h0m2 0h0m2 0h0m3 0h0m3 0h0m1 0h0m2 0h0m2 0h0m1 0h0m2 0h0m1 0h0m1 0h0m2 0h0m1 0h0m4 0h0m1 0h0m3 0h0m2 0h0m3 0h0m1 0h0m1 0h0m1 0h0m6 0h0m19 0h0m9 0h0m65 0h0m5 0h0m6 0h0m-167 1h0m6 0h0m5 0h0m5 0h0m2 0h0m1 0h0m1 0h0m1 0h0m3 0h0m1 0h0m1 0h0m5 0h0m1 0h0m2 0h0m2 0h0m2 0h0m1 0h0m3 0h0m1 0h0m6 0h0m1 0h0m5 0h0m2 0h0m1 0h0m2 0h0m6 0h0m1 0h0m4 0h0m19 0h0m35 0h0m42 0h0m1 0h0m9 0h0m-184 1h0m8 0h0m1 0h0m4 0h0m2 0h0m3 0h0m1 0h0m2 0h0m1 0h0m1 0h0m1 0h0m2 0h0m1 0h0m2 0h0m2 0h0m1 0h0m1 0h0m1 0h0m1 0h0m1 0h0m3 0h0m1 0h0m2 0h0m1 0h0m3 0h0m2 0h0m1 0h0m1 0h0m1 0h0m1 0h0m2 0h0m1 0h0m1 0h0m1 0h0m2 0h0m4 0h0m2 0h0m7 0h0m3 0h0m21 0h0m3 0h0m51 0h0m1 0h0m8 0h0m10 0h0m4 0h0m11 0h0m-186 1h0m6 0h0m9 0h0m8 0h0m3 0h0m3 0h0m3 0h0m1 0h0m2 0h0m2 0h0m2 0h0m5 0h0m1 0h0m2 0h0m4 0h0m9 0h0m1 0h0m1 0h0m3 0h0m1 0h0m3 0h0m1 0h0m6 0h0m2 0h0m9 0h0m64 0h0m8 0h0m12 0h0m1 0h0m3 0h0m12 0h0m3 0h0m-184 1h0m1 0h0m15 0h0m4 0h0m1 0h0m1 0h0m2 0h0m1 0h0m2 0h0m3 0h0m1 0h0m3 0h0m2 0h0m3 0h0m2 0h0m2 0h0m5 0h0m1 0h0m1 0h0m2 0h0m2 0h0m1 0h0m1 0h0m3 0h0m5 0h0m1 0h0m2 0h0m5 0h0m59 0h0m22 0h0m2 0h0m4 0h0m27 0h0m-206 1h0m17 0h0m3 0h0m1 0h0m6 0h0m2 0h0m1 0h0m2 0h0m6 0h0m2 0h0m6 0h0m1 0h0m1 0h0m2 0h0m4 0h0m2 0h0m1 0h0m4 0h0m2 0h0m1 0h0m5 0h0m1 0h0m1 0h0m2 0h0m1 0h0m2 0h0m2 0h0m5 0h0m1 0h0m1 0h0m2 0h0m1 0h0m3 0h0m7 0h0m3 0h0m77 0h0m-158 1h0m6 0h0m5 0h0m2 0h0m3 0h0m2 0h0m1 0h0m2 0h0m2 0h0m4 0h0m3 0h0m5 0h0m1 0h0m5 0h0m2 0h0m12 0h0m2 0h0m1 0h0m1 0h0m1 0h0m3 0h0m1 0h0m24 0h0m28 0h0m9 0h0m11 0h0m43 0h0m-173 1h0m1 0h0m4 0h0m1 0h0m3 0h0m3 0h0m1 0h0m3 0h0m1 0h0m3 0h0m5 0h0m1 0h0m6 0h0m4 0h0m12 0h0m2 0h0m1 0h0m1 0h0m2 0h0m3 0h0m1 0h0m2 0h0m7 0h0m31 0h0m18 0h0m1 0h0m23 0h0m21 0h0m9 0h0m16 0h0m-206 1h0m17 0h0m1 0h0m4 0h0m1 0h0m1 0h0m1 0h0m1 0h0m5 0h0m3 0h0m3 0h0m1 0h0m2 0h0m15 0h0m2 0h0m16 0h0m4 0h0m2 0h0m1 0h0m2 0h0m3 0h0m1 0h0m5 0h0m2 0h0m4 0h0m59 0h0m6 0h0m9 0h0m6 0h0m2 0h0m4 0h0m10 0h0m4 0h0m-185 1h0m2 0h0m2 0h0m2 0h0m1 0h0m3 0h0m3 0h0m1 0h0m3 0h0m7 0h0m2 0h0m9 0h0m7 0h0m11 0h0m7 0h0m1 0h0m2 0h0m2 0h0m3 0h0m2 0h0m2 0h0m1 0h0m7 0h0m6 0h0m64 0h0m17 0h0m1 0h0m12 0h0m-179 1h0m8 0h0m1 0h0m2 0h0m1 0h0m2 0h0m2 0h0m1 0h0m3 0h0m3 0h0m2 0h0m15 0h0m6 0h0m16 0h0m2 0h0m2 0h0m1 0h0m2 0h0m2 0h0m3 0h0m1 0h0m104 0h0m2 0h0m-185 1h0m12 0h0m2 0h0m3 0h0m2 0h0m6 0h0m1 0h0m1 0h0m37 0h0m2 0h0m1 0h0m4 0h0m1 0h0m2 0h0m3 0h0m1 0h0m1 0h0m10 0h0m73 0h0m5 0h0m10 0h0m-179 1h0m6 0h0m8 0h0m2 0h0m2 0h0m1 0h0m1 0h0m1 0h0m2 0h0m4 0h0m38 0h0m2 0h0m6 0h0m2 0h0m1 0h0m1 0h0m1 0h0m1 0h0m2 0h0m1 0h0m1 0h0m1 0h0m11 0h0m11 0h0m27 0h0m50 0h0m-169 1h0m2 0h0m5 0h0m2 0h0m1 0h0m1 0h0m2 0h0m3 0h0m38 0h0m1 0h0m6 0h0m6 0h0m3 0h0m4 0h0m3 0h0m4 0h0m62 0h0m5 0h0m1 0h0m1 0h0m2 0h0m2 0h0m10 0h0m14 0h0m-201 1h0m6 0h0m8 0h0m5 0h0m3 0h0m2 0h0m1 0h0m1 0h0m7 0h0m5 0h0m30 0h0m11 0h0m1 0h0m1 0h0m2 0h0m1 0h0m1 0h0m3 0h0m4 0h0m18 0h0m63 0h0m2 0h0m12 0h0m-179 1h0m3 0h0m3 0h0m10 0h0m1 0h0m1 0h0m2 0h0m56 0h0m1 0h0m1 0h0m3 0h0m5 0h0m1 0h0m1 0h0m12 0h0m52 0h0m6 0h0m16 0h0m3 0h0m2 0h0m18 0h0m-196 1h0m3 0h0m3 0h0m9 0h0m4 0h0m2 0h0m1 0h0m1 0h0m2 0h0m45 0h0m1 0h0m3 0h0m1 0h0m10 0h0m2 0h0m1 0h0m1 0h0m3 0h0m6 0h0m3 0h0m21 0h0m5 0h0m1 0h0m26 0h0m19 0h0m2 0h0m1 0h0m14 0h0m-199 1h0m3 0h0m8 0h0m4 0h0m6 0h0m4 0h0m2 0h0m4 0h0m2 0h0m2 0h0m42 0h0m3 0h0m2 0h0m1 0h0m1 0h0m3 0h0m1 0h0m4 0h0m8 0h0m2 0h0m18 0h0m45 0h0m41 0h0m-204 1h0m12 0h0m5 0h0m2 0h0m1 0h0m2 0h0m1 0h0m52 0h0m4 0h0m1 0h0m9 0h0m2 0h0m2 0h0m1 0h0m1 0h0m10 0h0m6 0h0m10 0h0m45 0h0m13 0h0m-175 1h0m2 0h0m1 0h0m3 0h0m10 0h0m4 0h0m1 0h0m5 0h0m47 0h0m6 0h0m1 0h0m3 0h0m2 0h0m2 0h0m1 0h0m2 0h0m22 0h0m43 0h0m26 0h0m-172 1h0m2 0h0m2 0h0m1 0h0m1 0h0m1 0h0m1 0h0m3 0h0m47 0h0m11 0h0m4 0h0m2 0h0m12 0h0m31 0h0m31 0h0m13 0h0m6 0h0m4 0h0m5 0h0m11 0h0m-194 1h0m2 0h0m7 0h0m1 0h0m6 0h0m2 0h0m4 0h0m52 0h0m4 0h0m5 0h0m1 0h0m4 0h0m2 0h0m2 0h0m33 0h0m31 0h0m11 0h0m18 0h0m-181 1h0m2 0h0m3 0h0m2 0h0m2 0h0m4 0h0m59 0h0m1 0h0m3 0h0m1 0h0m5 0h0m2 0h0m1 0h0m1 0h0m62 0h0m6 0h0m1 0h0m3 0h0m5 0h0m9 0h0m1 0h0m9 0h0m-188 1h0m1 0h0m10 0h0m8 0h0m6 0h0m58 0h0m1 0h0m1 0h0m2 0h0m3 0h0m3 0h0m2 0h0m3 0h0m1 0h0m5 0h0m1 0h0m1 0h0m50 0h0m22 0h0m20 0h0m-202 1h0m11 0h0m3 0h0m2 0h0m2 0h0m2 0h0m1 0h0m65 0h0m2 0h0m1 0h0m1 0h0m1 0h0m1 0h0m2 0h0m4 0h0m5 0h0m4 0h0m2 0h0m7 0h0m68 0h0m-193 1h0m15 0h0m1 0h0m8 0h0m1 0h0m1 0h0m2 0h0m1 0h0m1 0h0m2 0h0m59 0h0m2 0h0m1 0h0m1 0h0m1 0h0m1 0h0m3 0h0m1 0h0m1 0h0m7 0h0m2 0h0m8 0h0m18 0h0m56 0h0m1 0h0m-168 1h0m5 0h0m61 0h0m2 0h0m1 0h0m1 0h0m1 0h0m3 0h0m2 0h0m5 0h0m17 0h0m50 0h0m12 0h0m8 0h0m15 0h0m-186 1h0m1 0h0m4 0h0m1 0h0m1 0h0m5 0h0m61 0h0m1 0h0m13 0h0m20 0h0m40 0h0m4 0h0m18 0h0m-175 1h0m1 0h0m5 0h0m7 0h0m2 0h0m57 0h0m7 0h0m1 0h0m3 0h0m2 0h0m1 0h0m4 0h0m5 0h0m6 0h0m5 0h0m10 0h0m43 0h0m6 0h0m16 0h0m4 0h0m5 0h0m-192 1h0m3 0h0m8 0h0m1 0h0m3 0h0m3 0h0m1 0h0m2 0h0m52 0h0m4 0h0m2 0h0m4 0h0m1 0h0m3 0h0m2 0h0m2 0h0m11 0h0m1 0h0m4 0h0m3 0h0m55 0h0m23 0h0m-199 1h0m8 0h0m7 0h0m8 0h0m1 0h0m3 0h0m5 0h0m5 0h0m49 0h0m1 0h0m4 0h0m3 0h0m1 0h0m1 0h0m1 0h0m1 0h0m1 0h0m3 0h0m3 0h0m1 0h0m2 0h0m2 0h0m65 0h0m1 0h0m3 0h0m7 0h0m8 0h0m-178 1h0m9 0h0m3 0h0m2 0h0m1 0h0m2 0h0m1 0h0m57 0h0m4 0h0m1 0h0m1 0h0m2 0h0m1 0h0m2 0h0m1 0h0m2 0h0m3 0h0m1 0h0m59 0h0m7 0h0m28 0h0m-187 1h0m9 0h0m2 0h0m2 0h0m1 0h0m1 0h0m60 0h0m1 0h0m1 0h0m7 0h0m10 0h0m31 0h0m27 0h0m11 0h0m1 0h0m-165 1h0m2 0h0m2 0h0m5 0h0m2 0h0m2 0h0m1 0h0m64 0h0m2 0h0m1 0h0m1 0h0m1 0h0m3 0h0m4 0h0m2 0h0m45 0h0m18 0h0m12 0h0m-167 1h0m1 0h0m1 0h0m7 0h0m2 0h0m2 0h0m1 0h0m3 0h0m53 0h0m4 0h0m1 0h0m1 0h0m3 0h0m3 0h0m3 0h0m2 0h0m1 0h0m2 0h0m5 0h0m1 0h0m1 0h0m1 0h0m61 0h0m22 0h0m-179 1h0m11 0h0m3 0h0m53 0h0m2 0h0m6 0h0m1 0h0m1 0h0m2 0h0m1 0h0m1 0h0m2 0h0m6 0h0m1 0h0m1 0h0m4 0h0m2 0h0m4 0h0m5 0h0m5 0h0m33 0h0m20 0h0m4 0h0m4 0h0m-176 1h0m2 0h0m4 0h0m1 0h0m2 0h0m2 0h0m1 0h0m2 0h0m1 0h0m1 0h0m2 0h0m59 0h0m2 0h0m3 0h0m8 0h0m1 0h0m8 0h0m-99 1h0m7 0h0m3 0h0m1 0h0m3 0h0m3 0h0m5 0h0m53 0h0m6 0h0m1 0h0m1 0h0m1 0h0m1 0h0m3 0h0m1 0h0m5 0h0m1 0h0m2 0h0m65 0h0m11 0h0m3 0h0m-172 1h0m5 0h0m1 0h0m10 0h0m2 0h0m53 0h0m2 0h0m4 0h0m1 0h0m1 0h0m5 0h0m2 0h0m4 0h0m5 0h0m2 0h0m9 0h0m5 0h0m47 0h0m5 0h0m-187 1h0m22 0h0m1 0h0m3 0h0m1 0h0m7 0h0m2 0h0m2 0h0m2 0h0m55 0h0m12 0h0m1 0h0m3 0h0m2 0h0m2 0h0m5 0h0m8 0h0m54 0h0m9 0h0m7 0h0m2 0h0m-189 1h0m16 0h0m2 0h0m1 0h0m4 0h0m3 0h0m1 0h0m2 0h0m1 0h0m1 0h0m50 0h0m8 0h0m2 0h0m1 0h0m1 0h0m7 0h0m2 0h0m12 0h0m8 0h0m42 0h0m31 0h0m-191 1h0m11 0h0m2 0h0m1 0h0m1 0h0m4 0h0m6 0h0m2 0h0m1 0h0m2 0h0m56 0h0m2 0h0m1 0h0m1 0h0m3 0h0m1 0h0m6 0h0m8 0h0m1 0h0m26 0h0m20 0h0m10 0h0m18 0h0m6 0h0m-181 1h0m8 0h0m2 0h0m4 0h0m3 0h0m12 0h0m43 0h0m2 0h0m2 0h0m1 0h0m1 0h0m3 0h0m3 0h0m1 0h0m3 0h0m13 0h0m59 0h0m6 0h0m11 0h0m-181 1h0m11 0h0m2 0h0m5 0h0m2 0h0m4 0h0m2 0h0m52 0h0m4 0h0m1 0h0m1 0h0m1 0h0m1 0h0m1 0h0m3 0h0m2 0h0m1 0h0m2 0h0m2 0h0m3 0h0m2 0h0m10 0h0m53 0h0m3 0h0m3 0h0m1 0h0m1 0h0m-176 1h0m1 0h0m8 0h0m5 0h0m3 0h0m7 0h0m2 0h0m1 0h0m1 0h0m54 0h0m2 0h0m2 0h0m3 0h0m2 0h0m4 0h0m8 0h0m5 0h0m71 0h0m-172 1h0m5 0h0m2 0h0m2 0h0m2 0h0m2 0h0m2 0h0m3 0h0m1 0h0m2 0h0m1 0h0m1 0h0m1 0h0m14 0h0m37 0h0m3 0h0m6 0h0m1 0h0m6 0h0m100 0h0m-210 1h0m6 0h0m13 0h0m11 0h0m4 0h0m1 0h0m38 0h0m5 0h0m9 0h0m4 0h0m1 0h0m1 0h0m1 0h0m3 0h0m4 0h0m2 0h0m4 0h0m8 0h0m13 0h0m46 0h0m12 0h0m7 0h0m4 0h0m-172 1h0m3 0h0m2 0h0m1 0h0m1 0h0m1 0h0m4 0h0m2 0h0m3 0h0m4 0h0m10 0h0m30 0h0m2 0h0m1 0h0m1 0h0m1 0h0m1 0h0m1 0h0m1 0h0m1 0h0m3 0h0m3 0h0m1 0h0m1 0h0m1 0h0m7 0h0m64 0h0m5 0h0m-149 1h0m2 0h0m2 0h0m5 0h0m2 0h0m1 0h0m8 0h0m1 0h0m18 0h0m14 0h0m2 0h0m3 0h0m2 0h0m1 0h0m2 0h0m3 0h0m8 0h0m9 0h0m40 0h0m3 0h0m27 0h0m12 0h0m5 0h0m5 0h0m-177 1h0m1 0h0m3 0h0m3 0h0m2 0h0m1 0h0m4 0h0m1 0h0m4 0h0m2 0h0m1 0h0m7 0h0m12 0h0m17 0h0m2 0h0m4 0h0m2 0h0m1 0h0m2 0h0m1 0h0m1 0h0m3 0h0m1 0h0m7 0h0m5 0h0m9 0h0m1 0h0m53 0h0m-152 1h0m3 0h0m6 0h0m2 0h0m2 0h0m1 0h0m3 0h0m1 0h0m24 0h0m1 0h0m13 0h0m6 0h0m1 0h0m1 0h0m1 0h0m1 0h0m1 0h0m1 0h0m1 0h0m4 0h0m1 0h0m1 0h0m3 0h0m2 0h0m1 0h0m4 0h0m1 0h0m5 0h0m17 0h0m41 0h0m14 0h0m11 0h0m4 0h0m-180 1h0m5 0h0m5 0h0m1 0h0m1 0h0m2 0h0m10 0h0m1 0h0m1 0h0m8 0h0m8 0h0m1 0h0m1 0h0m2 0h0m15 0h0m3 0h0m3 0h0m1 0h0m2 0h0m2 0h0m1 0h0m1 0h0m1 0h0m1 0h0m1 0h0m2 0h0m5 0h0m4 0h0m6 0h0m54 0h0m8 0h0m4 0h0m-166 1h0m12 0h0m5 0h0m2 0h0m8 0h0m3 0h0m3 0h0m12 0h0m7 0h0m7 0h0m4 0h0m2 0h0m1 0h0m2 0h0m4 0h0m5 0h0m1 0h0m4 0h0m2 0h0m1 0h0m3 0h0m2 0h0m1 0h0m59 0h0m29 0h0m3 0h0m-187 1h0m12 0h0m3 0h0m1 0h0m4 0h0m5 0h0m3 0h0m6 0h0m1 0h0m2 0h0m11 0h0m15 0h0m3 0h0m3 0h0m1 0h0m2 0h0m5 0h0m2 0h0m5 0h0m2 0h0m6 0h0m2 0h0m1 0h0m5 0h0m1 0h0m8 0h0m3 0h0m18 0h0m30 0h0m4 0h0m9 0h0m-147 1h0m1 0h0m1 0h0m3 0h0m1 0h0m1 0h0m1 0h0m1 0h0m2 0h0m4 0h0m2 0h0m4 0h0m1 0h0m5 0h0m2 0h0m6 0h0m2 0h0m3 0h0m1 0h0m2 0h0m2 0h0m2 0h0m1 0h0m3 0h0m1 0h0m1 0h0m1 0h0m2 0h0m3 0h0m1 0h0m5 0h0m2 0h0m4 0h0m7 0h0m59 0h0m17 0h0m6 0h0m-174 1h0m1 0h0m4 0h0m4 0h0m4 0h0m4 0h0m1 0h0m8 0h0m1 0h0m1 0h0m2 0h0m2 0h0m3 0h0m8 0h0m2 0h0m2 0h0m3 0h0m5 0h0m7 0h0m1 0h0m1 0h0m3 0h0m2 0h0m2 0h0m2 0h0m1 0h0m2 0h0m1 0h0m1 0h0m8 0h0m16 0h0m39 0h0m28 0h0m-161 1h0m1 0h0m1 0h0m3 0h0m3 0h0m2 0h0m6 0h0m2 0h0m2 0h0m5 0h0m1 0h0m1 0h0m7 0h0m10 0h0m7 0h0m5 0h0m1 0h0m2 0h0m1 0h0m2 0h0m2 0h0m1 0h0m6 0h0m1 0h0m6 0h0m5 0h0m7 0h0m8 0h0m72 0h0m-167 1h0m3 0h0m2 0h0m2 0h0m3 0h0m1 0h0m1 0h0m3 0h0m1 0h0m1 0h0m3 0h0m4 0h0m1 0h0m1 0h0m5 0h0m1 0h0m1 0h0m2 0h0m1 0h0m1 0h0m1 0h0m1 0h0m4 0h0m4 0h0m2 0h0m1 0h0m1 0h0m2 0h0m1 0h0m2 0h0m3 0h0m2 0h0m5 0h0m6 0h0m2 0h0m7 0h0m1 0h0m79 0h0m-159 1h0m1 0h0m3 0h0m1 0h0m3 0h0m1 0h0m1 0h0m1 0h0m1 0h0m1 0h0m1 0h0m2 0h0m2 0h0m6 0h0m1 0h0m2 0h0m3 0h0m3 0h0m2 0h0m1 0h0m4 0h0m1 0h0m1 0h0m1 0h0m1 0h0m1 0h0m2 0h0m1 0h0m1 0h0m1 0h0m1 0h0m1 0h0m2 0h0m3 0h0m2 0h0m1 0h0m1 0h0m1 0h0m3 0h0m4 0h0m2 0h0m4 0h0m1 0h0m1 0h0m5 0h0m10 0h0m-110 1h0m15 0h0m5 0h0m3 0h0m1 0h0m7 0h0m5 0h0m1 0h0m1 0h0m3 0h0m6 0h0m1 0h0m4 0h0m1 0h0m1 0h0m2 0h0m1 0h0m1 0h0m1 0h0m1 0h0m6 0h0m4 0h0m2 0h0m1 0h0m1 0h0m1 0h0m4 0h0m8 0h0m15 0h0m-86 1h0m10 0h0m3 0h0m6 0h0m4 0h0m2 0h0m2 0h0m1 0h0m2 0h0m2 0h0m2 0h0m1 0h0m1 0h0m1 0h0m1 0h0m1 0h0m2 0h0m2 0h0m1 0h0m3 0h0m1 0h0m2 0h0m2 0h0m1 0h0m1 0h0m1 0h0m10 0h0m2 0h0m2 0h0m57 0h0m15 0h0m-144 1h0m2 0h0m3 0h0m9 0h0m6 0h0m3 0h0m5 0h0m4 0h0m1 0h0m1 0h0m1 0h0m1 0h0m1 0h0m1 0h0m9 0h0m1 0h0m1 0h0m1 0h0m4 0h0m2 0h0m2 0h0m1 0h0m2 0h0m1 0h0m3 0h0m3 0h0m8 0h0m47 0h0m34 0h0m-149 1h0m1 0h0m2 0h0m2 0h0m1 0h0m1 0h0m6 0h0m3 0h0m3 0h0m7 0h0m2 0h0m1 0h0m2 0h0m1 0h0m1 0h0m1 0h0m1 0h0m2 0h0m1 0h0m1 0h0m1 0h0m4 0h0m1 0h0m1 0h0m1 0h0m1 0h0m1 0h0m4 0h0m1 0h0m1 0h0m1 0h0m1 0h0m3 0h0m1 0h0m3 0h0m3 0h0m75 0h0m7 0h0m16 0h0m-182 1h0m10 0h0m1 0h0m2 0h0m10 0h0m2 0h0m6 0h0m1 0h0m1 0h0m1 0h0m1 0h0m6 0h0m1 0h0m2 0h0m5 0h0m1 0h0m3 0h0m1 0h0m1 0h0m2 0h0m1 0h0m2 0h0m5 0h0m2 0h0m1 0h0m3 0h0m2 0h0m4 0h0m2 0h0m5 0h0m65 0h0m17 0h0m5 0h0m-158 1h0m5 0h0m4 0h0m8 0h0m2 0h0m4 0h0m3 0h0m3 0h0m4 0h0m1 0h0m2 0h0m1 0h0m1 0h0m1 0h0m3 0h0m1 0h0m1 0h0m2 0h0m3 0h0m1 0h0m2 0h0m3 0h0m1 0h0m10 0h0m5 0h0m4 0h0m8 0h0m2 0h0m61 0h0m-146 1h0m15 0h0m3 0h0m8 0h0m6 0h0m3 0h0m1 0h0m1 0h0m1 0h0m1 0h0m2 0h0m1 0h0m1 0h0m3 0h0m2 0h0m2 0h0m6 0h0m3 0h0m1 0h0m3 0h0m1 0h0m4 0h0m1 0h0m9 0h0m65 0h0m2 0h0m8 0h0m-154 1h0m12 0h0m10 0h0m1 0h0m2 0h0m2 0h0m1 0h0m2 0h0m2 0h0m3 0h0m1 0h0m2 0h0m5 0h0m2 0h0m1 0h0m4 0h0m2 0h0m3 0h0m1 0h0m6 0h0m3 0h0m1 0h0m2 0h0m16 0h0m53 0h0m7 0h0m6 0h0m5 0h0m-150 1h0m1 0h0m7 0h0m7 0h0m1 0h0m1 0h0m1 0h0m4 0h0m3 0h0m2 0h0m5 0h0m1 0h0m1 0h0m1 0h0m1 0h0m6 0h0m1 0h0m1 0h0m3 0h0m3 0h0m1 0h0m1 0h0m10 0h0m85 0h0m3 0h0m-156 1h0m5 0h0m9 0h0m5 0h0m11 0h0m2 0h0m4 0h0m3 0h0m2 0h0m2 0h0m2 0h0m1 0h0m3 0h0m6 0h0m2 0h0m2 0h0m3 0h0m1 0h0m5 0h0m-62 1h0m11 0h0m8 0h0m5 0h0m4 0h0m2 0h0m2 0h0m3 0h0m1 0h0m1 0h0m1 0h0m3 0h0m2 0h0m2 0h0m4 0h0m4 0h0m2 0h0m2 0h0m2 0h0m4 0h0m1 0h0m2 0h0m3 0h0m15 0h0m3 0h0m1 0h0m73 0h0m-159 1h0m3 0h0m1 0h0m5 0h0m3 0h0m8 0h0m2 0h0m5 0h0m3 0h0m2 0h0m1 0h0m2 0h0m4 0h0m1 0h0m2 0h0m3 0h0m1 0h0m1 0h0m2 0h0m2 0h0m1 0h0m5 0h0m7 0h0m4 0h0m2 0h0m36 0h0m36 0h0m11 0h0m-154 1h0m1 0h0m3 0h0m6 0h0m3 0h0m3 0h0m1 0h0m6 0h0m3 0h0m4 0h0m4 0h0m6 0h0m2 0h0m4 0h0m1 0h0m2 0h0m1 0h0m1 0h0m14 0h0m1 0h0m7 0h0m52 0h0m17 0h0m-163 1h0m32 0h0m2 0h0m6 0h0m4 0h0m2 0h0m7 0h0m2 0h0m1 0h0m4 0h0m1 0h0m1 0h0m3 0h0m5 0h0m4 0h0m5 0h0m1 0h0m5 0h0m7 0h0m4 0h0m2 0h0m54 0h0m6 0h0m14 0h0m-158 1h0m4 0h0m18 0h0m5 0h0m1 0h0m2 0h0m5 0h0m2 0h0m6 0h0m2 0h0m3 0h0m2 0h0m3 0h0m4 0h0m2 0h0m1 0h0m3 0h0m1 0h0m4 0h0m1 0h0m2 0h0m7 0h0m1 0h0m5 0h0m39 0h0m-87 1h0m2 0h0m2 0h0m4 0h0m1 0h0m1 0h0m3 0h0m3 0h0m2 0h0m3 0h0m1 0h0m3 0h0m1 0h0m2 0h0m3 0h0m1 0h0m3 0h0m1 0h0m2 0h0m1 0h0m4 0h0m1 0h0m56 0h0m5 0h0m4 0h0m8 0h0m-133 1h0m15 0h0m4 0h0m5 0h0m2 0h0m5 0h0m2 0h0m2 0h0m1 0h0m2 0h0m1 0h0m1 0h0m1 0h0m1 0h0m2 0h0m7 0h0m1 0h0m16 0h0m62 0h0m-139 1h0m1 0h0m4 0h0m24 0h0m5 0h0m3 0h0m2 0h0m4 0h0m2 0h0m1 0h0m1 0h0m4 0h0m3 0h0m1 0h0m1 0h0m2 0h0m4 0h0m3 0h0m9 0h0m7 0h0m4 0h0m32 0h0m20 0h0m10 0h0m-135 1h0m7 0h0m2 0h0m1 0h0m2 0h0m8 0h0m1 0h0m1 0h0m1 0h0m1 0h0m1 0h0m10 0h0m4 0h0m5 0h0m3 0h0m1 0h0m1 0h0m1 0h0m5 0h0m1 0h0m1 0h0m73 0h0m1 0h0m2 0h0m-127 1h0m3 0h0m2 0h0m6 0h0m7 0h0m1 0h0m4 0h0m2 0h0m2 0h0m2 0h0m2 0h0m1 0h0m1 0h0m4 0h0m5 0h0m57 0h0m23 0h0m6 0h0m7 0h0m-127 1h0m3 0h0m2 0h0m2 0h0m3 0h0m4 0h0m3 0h0m1 0h0m1 0h0m1 0h0m1 0h0m2 0h0m4 0h0m31 0h0m43 0h0m15 0h0m-119 1h0m6 0h0m1 0h0m3 0h0m2 0h0m4 0h0m2 0h0m1 0h0m7 0h0m1 0h0m4 0h0m1 0h0m3 0h0m3 0h0m1 0h0m1 0h0m2 0h0m5 0h0m65 0h0m5 0h0m-140 1h0m33 0h0m3 0h0m1 0h0m2 0h0m2 0h0m1 0h0m1 0h0m2 0h0m4 0h0m1 0h0m1 0h0m4 0h0m7 0h0m1 0h0m2 0h0m4 0h0m16 0h0m8 0h0m42 0h0m1 0h0m20 0h0m-131 1h0m4 0h0m2 0h0m2 0h0m1 0h0m4 0h0m7 0h0m1 0h0m5 0h0m3 0h0m2 0h0m1 0h0m3 0h0m8 0h0m6 0h0m53 0h0m-99 1h0m8 0h0m5 0h0m4 0h0m2 0h0m3 0h0m1 0h0m8 0h0m2 0h0m2 0h0m46 0h0m21 0h0m11 0h0m3 0h0m2 0h0m8 0h0m-147 1h0m2 0h0m24 0h0m2 0h0m4 0h0m1 0h0m1 0h0m1 0h0m1 0h0m1 0h0m1 0h0m13 0h0m3 0h0m1 0h0m23 0h0m9 0h0m-88 1h0m13 0h0m6 0h0m4 0h0m3 0h0m2 0h0m1 0h0m1 0h0m2 0h0m7 0h0m2 0h0m4 0h0m1 0h0m1 0h0m2 0h0m6 0h0m2 0h0m2 0h0m62 0h0m-117 1h0m18 0h0m3 0h0m1 0h0m2 0h0m2 0h0m1 0h0m1 0h0m5 0h0m1 0h0m1 0h0m5 0h0m1 0h0m1 0h0m3 0h0m10 0h0m66 0h0m2 0h0m13 0h0m16 0h0m-125 1h0m3 0h0m1 0h0m3 0h0m2 0h0m3 0h0m7 0h0m5 0h0m1 0h0m7 0h0m72 0h0m6 0h0m-120 1h0m7 0h0m1 0h0m1 0h0m2 0h0m2 0h0m3 0h0m1 0h0m3 0h0m1 0h0m1 0h0m5 0h0m1 0h0m1 0h0m4 0h0m81 0h0m8 0h0m-139 1h0m13 0h0m11 0h0m8 0h0m5 0h0m2 0h0m2 0h0m11 0h0m6 0h0m1 0h0m33 0h0m51 0h0m10 0h0m-154 1h0m15 0h0m3 0h0m14 0h0m6 0h0m1 0h0m1 0h0m6 0h0m2 0h0m13 0h0m10 0h0m63 0h0m9 0h0m-135 1h0m1 0h0m5 0h0m2 0h0m1 0h0m5 0h0m2 0h0m3 0h0m2 0h0m3 0h0m1 0h0m3 0h0m2 0h0m1 0h0m3 0h0m3 0h0m2 0h0m1 0h0m1 0h0m6 0h0m1 0h0m4 0h0m3 0h0m29 0h0m9 0h0m8 0h0m6 0h0m-94 1h0m1 0h0m2 0h0m1 0h0m1 0h0m6 0h0m4 0h0m1 0h0m8 0h0m7 0h0m7 0h0m3 0h0m8 0h0m11 0h0m43 0h0m7 0h0m11 0h0m1 0h0m-136 1h0m4 0h0m20 0h0m2 0h0m5 0h0m4 0h0m4 0h0m2 0h0m5 0h0m2 0h0m4 0h0m55 0h0m12 0h0m5 0h0m17 0h0m-144 1h0m2 0h0m30 0h0m3 0h0m3 0h0m1 0h0m2 0h0m3 0h0m35 0h0m37 0h0m1 0h0m9 0h0m14 0h0m8 0h0m-127 1h0m2 0h0m2 0h0m6 0h0m1 0h0m4 0h0m2 0h0m1 0h0m1 0h0m5 0h0m5 0h0m1 0h0m3 0h0m55 0h0m36 0h0m-130 1h0m3 0h0m9 0h0m1 0h0m4 0h0m1 0h0m4 0h0m5 0h0m2 0h0m3 0h0m1 0h0m5 0h0m-38 1h0m11 0h0m2 0h0m4 0h0m9 0h0m3 0h0m8 0h0m22 0h0m-63 1h0m14 0h0m5 0h0m5 0h0m4 0h0m5 0h0m11 0h0m45 0h0m27 0h0m-120 1h0m18 0h0m3 0h0m3 0h0m12 0h0m5 0h0m30 0h0m32 0h0m9 0h0m4 0h0" stroke="#2626f4"/><path d="M157 37h0m1 3h0m0 1h0m19 2h0m1 0h0m-1 1h0m-22 1h0m5 0h0m1 0h0m3 0h0m6 0h0m8 0h0m-23 1h0m17 0h0m-8 2h0m20 0h0m1 0h0m-14 1h0m1 0h0m19 0h0m-23 2h0m20 0h0m3 0h0m2 0h0m1 0h0m-11 1h0m3 0h0m1 0h0m2 0h0m-7 1h0m5 0h0m2 0h0m2 0h0m5 0h0m-26 1h0m24 0h0m1 0h0m2 0h0m-26 1h0m1 0h0m2 0h0m6 0h0m1 0h0m4 0h0m5 0h0m2 0h0m-12 1h0m4 0h0m1 0h0m3 0h0m1 0h0m1 0h0m1 0h0m-19 1h0m11 0h0m4 0h0m5 0h0m2 0h0m-23 1h0m10 0h0m3 0h0m1 0h0m1 0h0m4 0h0m4 0h0m-17 1h0m3 0h0m3 0h0m7 0h0m1 0h0m1 0h0m-10 1h0m1 0h0m2 0h0m1 0h0m7 0h0m1 0h0m1 0h0m-9 1h0m4 0h0m3 0h0m-7 1h0m1 0h0m2 0h0m3 0h0m1 0h0m2 0h0m-11 1h0m3 0h0m7 0h0m2 0h0m-8 1h0m1 0h0m5 0h0m-8 1h0m1 0h0m1 0h0m1 0h0m-3 1h0m2 0h0m1 0h0m2 0h0m-11 2h0m2 0h0m4 0h0m2 0h0m-9 1h0m7 0h0m-3 1h0m8 0h0m1 0h0m1 0h0m1 0h0m-12 1h0m2 9h0m-135 78h0m15 0h0m-8 1h0m1 0h0m15 0h0m-22 1h0m10 0h0m1 0h0m12 0h0m1 0h0m6 0h0m-27 1h0m1 0h0m2 0h0m5 0h0m7 0h0m8 0h0m3 0h0m5 0h0m-36 1h0m7 0h0m1 0h0m1 0h0m4 0h0m1 0h0m3 0h0m7 0h0m1 0h0m2 0h0m1 0h0m1 0h0m4 0h0m2 0h0m-25 1h0m4 0h0m1 0h0m2 0h0m2 0h0m7 0h0m1 0h0m1 0h0m2 0h0m14 0h0m-45 1h0m1 0h0m3 0h0m3 0h0m8 0h0m3 0h0m1 0h0m1 0h0m9 0h0m9 0h0m3 0h0m-48 1h0m8 0h0m1 0h0m4 0h0m1 0h0m7 0h0m5 0h0m2 0h0m4 0h0m4 0h0m3 0h0m2 0h0m4 0h0m1 0h0m1 0h0m-36 1h0m3 0h0m5 0h0m2 0h0m4 0h0m5 0h0m4 0h0m3 0h0m3 0h0m2 0h0m-33 1h0m2 0h0m2 0h0m15 0h0m8 0h0m-27 1h0m5 0h0m10 0h0m10 0h0m10 0h0m3 0h0m12 0h0m-53 1h0m1 0h0m1 0h0m7 0h0m26 0h0m6 0h0m1 0h0m-45 1h0m2 0h0m1 0h0m2 0h0m3 0h0m30 0h0m3 0h0m3 0h0m3 0h0m1 0h0m2 0h0m-44 1h0m5 0h0m30 0h0m2 0h0m2 0h0m1 0h0m1 0h0m-46 1h0m12 0h0m24 0h0m2 0h0m3 0h0m6 0h0m2 0h0m-52 1h0m1 0h0m1 0h0m5 0h0m1 0h0m31 0h0m-43 1h0m3 0h0m1 0h0m2 0h0m2 0h0m2 0h0m1 0h0m6 0h0m35 0h0m3 0h0m2 0h0m1 0h0m-56 1h0m1 0h0m3 0h0m1 0h0m1 0h0m8 0h0m40 0h0m1 0h0m-47 1h0m37 0h0m8 0h0m5 0h0m1 0h0m-57 1h0m2 0h0m4 0h0m39 0h0m3 0h0m5 0h0m-54 1h0m3 0h0m52 0h0m1 0h0m-58 1h0m2 0h0m4 0h0m50 0h0m3 0h0m-55 1h0m3 0h0m2 0h0m46 0h0m3 0h0m-57 1h0m9 0h0m41 0h0m4 0h0m3 0h0m-58 1h0m2 0h0m4 0h0m47 0h0m1 0h0m7 0h0m1 0h0m-57 1h0m2 0h0m10 0h0m39 0h0m2 0h0m1 0h0m2 0h0m1 0h0m4 0h0m-67 1h0m4 0h0m2 0h0m1 0h0m10 0h0m29 0h0m10 0h0m2 0h0m1 0h0m6 0h0m-64 1h0m2 0h0m4 0h0m1 0h0m44 0h0m3 0h0m8 0h0m-54 1h0m3 0h0m42 0h0m3 0h0m1 0h0m5 0h0m-62 1h0m4 0h0m45 0h0m4 0h0m2 0h0m3 0h0m1 0h0m1 0h0m-61 1h0m7 0h0m47 0h0m2 0h0m1 0h0m6 0h0m1 0h0m-61 1h0m13 0h0m39 0h0m2 0h0m2 0h0m-56 1h0m4 0h0m26 0h0m23 0h0m5 0h0m-51 1h0m9 0h0m39 0h0m-52 1h0m1 0h0m2 0h0m2 0h0m46 0h0m3 0h0m3 0h0m-56 1h0m10 0h0m21 0h0m12 0h0m6 0h0m1 0h0m1 0h0m2 0h0m4 0h0m-56 1h0m2 0h0m6 0h0m22 0h0m18 0h0m1 0h0m1 0h0m1 0h0m3 0h0m3 0h0m3 0h0m-59 1h0m6 0h0m40 0h0m1 0h0m1 0h0m6 0h0m1 0h0m1 0h0m-53 1h0m3 0h0m34 0h0m11 0h0m2 0h0m1 0h0m5 0h0m-58 1h0m10 0h0m7 0h0m13 0h0m11 0h0m7 0h0m4 0h0m-43 1h0m1 0h0m16 0h0m16 0h0m1 0h0m4 0h0m1 0h0m2 0h0m1 0h0m1 0h0m-50 1h0m14 0h0m12 0h0m11 0h0m1 0h0m5 0h0m3 0h0m2 0h0m5 0h0m-47 1h0m2 0h0m5 0h0m3 0h0m21 0h0m8 0h0m1 0h0m1 0h0m2 0h0m-49 1h0m14 0h0m3 0h0m15 0h0m7 0h0m5 0h0m2 0h0m2 0h0m-41 1h0m1 0h0m1 0h0m3 0h0m1 0h0m6 0h0m9 0h0m4 0h0m8 0h0m3 0h0m-40 1h0m4 0h0m5 0h0m13 0h0m2 0h0m2 0h0m1 0h0m2 0h0m1 0h0m8 0h0m-38 1h0m2 0h0m2 0h0m6 0h0m10 0h0m3 0h0m1 0h0m2 0h0m1 0h0m1 0h0m4 0h0m1 0h0m1 0h0m5 0h0m2 0h0m-38 1h0m1 0h0m2 0h0m1 0h0m5 0h0m3 0h0m1 0h0m2 0h0m2 0h0m9 0h0m2 0h0m2 0h0m2 0h0m1 0h0m5 0h0m1 0h0m1 0h0m-36 1h0m21 0h0m6 0h0m2 0h0m1 0h0m5 0h0m1 0h0m-35 1h0m5 0h0m1 0h0m10 0h0m1 0h0m3 0h0m2 0h0m5 0h0m9 0h0m1 0h0m-36 1h0m1 0h0m4 0h0m2 0h0m9 0h0m1 0h0m1 0h0m15 0h0m-28 1h0m6 0h0m3 0h0m2 0h0m1 0h0m5 0h0m2 0h0m1 0h0m3 0h0m-23 1h0m7 0h0m2 0h0m9 0h0m1 0h0m1 0h0m4 0h0m2 0h0m7 0h0m-20 1h0m4 0h0m4 0h0m1 0h0m1 0h0m1 0h0m-19 1h0m2 0h0m12 0h0m14 0h0m-21 1h0m7 0h0m-8 2h0m16 0h0m-13 1h0m12 0h0m1 0h0m1 0h0m2 0h0m9 0h0m-15 1h0m-2 1h0m7 0h0m1 1h0m2 1h0m-17 1h0m2 2h0m-3 1h0m2 0h0m9 2h0m0 14h0" stroke="#0c44ec"/><path d="M171 45h0m12 8h0m9 0h0m-12 1h0m2 0h0m1 0h0m4 0h0m2 0h0m-7 1h0m2 0h0m3 0h0m1 0h0m8 0h0m-9 1h0m-5 2h0m5 0h0m1 0h0m1 0h0m-5 1h0m1 0h0m4 0h0m-5 1h0m4 0h0m-5 1h0m2 0h0m12 1h0m-9 1h0m-2 1h0m-5 3h0m-130 93h0m2 0h0m7 1h0m20 0h0m-28 1h0m1 0h0m21 0h0m4 0h0m-22 1h0m1 0h0m3 0h0m1 0h0m3 0h0m2 0h0m4 0h0m2 0h0m8 0h0m2 0h0m-26 1h0m1 0h0m1 0h0m5 0h0m1 0h0m6 0h0m7 0h0m1 0h0m2 0h0m1 0h0m1 0h0m-26 1h0m7 0h0m12 0h0m3 0h0m2 0h0m3 0h0m1 0h0m-31 1h0m2 0h0m8 0h0m13 0h0m9 0h0m-24 1h0m2 0h0m2 0h0m2 0h0m5 0h0m2 0h0m3 0h0m4 0h0m1 0h0m1 0h0m1 0h0m3 0h0m-37 1h0m2 0h0m4 0h0m1 0h0m8 0h0m2 0h0m15 0h0m3 0h0m1 0h0m-37 1h0m2 0h0m2 0h0m5 0h0m5 0h0m6 0h0m2 0h0m2 0h0m5 0h0m5 0h0m3 0h0m-42 1h0m9 0h0m3 0h0m27 0h0m3 0h0m2 0h0m-40 1h0m2 0h0m3 0h0m27 0h0m1 0h0m-30 1h0m30 0h0m3 0h0m3 0h0m1 0h0m-48 1h0m5 0h0m7 0h0m4 0h0m3 0h0m22 0h0m1 0h0m4 0h0m2 0h0m-46 1h0m42 0h0m2 0h0m2 0h0m-42 1h0m2 0h0m1 0h0m8 0h0m3 0h0m18 0h0m4 0h0m2 0h0m7 0h0m6 0h0m-56 1h0m1 0h0m14 0h0m22 0h0m7 0h0m3 0h0m1 0h0m2 0h0m3 0h0m2 0h0m-56 1h0m5 0h0m4 0h0m4 0h0m7 0h0m22 0h0m1 0h0m7 0h0m-49 1h0m5 0h0m11 0h0m2 0h0m26 0h0m3 0h0m4 0h0m6 0h0m-59 1h0m3 0h0m1 0h0m8 0h0m1 0h0m1 0h0m4 0h0m1 0h0m28 0h0m5 0h0m2 0h0m-54 1h0m5 0h0m4 0h0m1 0h0m1 0h0m1 0h0m1 0h0m1 0h0m31 0h0m1 0h0m6 0h0m3 0h0m-54 1h0m1 0h0m1 0h0m2 0h0m2 0h0m4 0h0m35 0h0m2 0h0m1 0h0m-43 1h0m1 0h0m3 0h0m16 0h0m21 0h0m9 0h0m-53 1h0m4 0h0m10 0h0m36 0h0m-54 1h0m7 0h0m2 0h0m2 0h0m1 0h0m18 0h0m16 0h0m2 0h0m3 0h0m3 0h0m5 0h0m-54 1h0m3 0h0m41 0h0m6 0h0m6 0h0m-57 1h0m3 0h0m3 0h0m5 0h0m34 0h0m1 0h0m8 0h0m2 0h0m-55 1h0m3 0h0m3 0h0m4 0h0m24 0h0m18 0h0m4 0h0m1 0h0m-60 1h0m1 0h0m1 0h0m3 0h0m1 0h0m4 0h0m33 0h0m9 0h0m-48 1h0m2 0h0m3 0h0m1 0h0m22 0h0m15 0h0m1 0h0m2 0h0m3 0h0m4 0h0m1 0h0m-56 1h0m1 0h0m4 0h0m2 0h0m2 0h0m32 0h0m6 0h0m10 0h0m-53 1h0m5 0h0m2 0h0m1 0h0m4 0h0m23 0h0m9 0h0m2 0h0m1 0h0m5 0h0m5 0h0m-56 1h0m2 0h0m1 0h0m2 0h0m3 0h0m20 0h0m13 0h0m13 0h0m-55 1h0m1 0h0m3 0h0m1 0h0m1 0h0m5 0h0m2 0h0m11 0h0m9 0h0m10 0h0m2 0h0m8 0h0m-51 1h0m2 0h0m1 0h0m3 0h0m5 0h0m4 0h0m10 0h0m1 0h0m16 0h0m1 0h0m9 0h0m1 0h0m-54 1h0m2 0h0m5 0h0m1 0h0m9 0h0m14 0h0m8 0h0m13 0h0m-49 1h0m7 0h0m1 0h0m7 0h0m17 0h0m6 0h0m3 0h0m2 0h0m1 0h0m1 0h0m3 0h0m-50 1h0m3 0h0m1 0h0m13 0h0m10 0h0m5 0h0m5 0h0m4 0h0m8 0h0m-48 1h0m1 0h0m5 0h0m3 0h0m1 0h0m22 0h0m3 0h0m-34 1h0m4 0h0m1 0h0m1 0h0m2 0h0m4 0h0m3 0h0m4 0h0m22 0h0m5 0h0m-44 1h0m1 0h0m5 0h0m1 0h0m4 0h0m16 0h0m2 0h0m7 0h0m3 0h0m1 0h0m-42 1h0m1 0h0m3 0h0m1 0h0m1 0h0m2 0h0m2 0h0m4 0h0m1 0h0m2 0h0m2 0h0m1 0h0m1 0h0m2 0h0m4 0h0m2 0h0m3 0h0m9 0h0m-39 1h0m3 0h0m4 0h0m1 0h0m7 0h0m3 0h0m3 0h0m1 0h0m10 0h0m3 0h0m-34 1h0m2 0h0m5 0h0m6 0h0m1 0h0m1 0h0m4 0h0m12 0h0m1 0h0m4 0h0m3 0h0m-31 1h0m10 0h0m3 0h0m14 0h0m2 0h0m-27 1h0m2 0h0m13 0h0m2 0h0m6 0h0m-25 1h0m1 0h0m1 0h0m6 0h0m1 0h0m1 0h0m2 0h0m11 0h0m6 0h0m1 0h0m-16 1h0m4 0h0m5 0h0m6 0h0m-27 1h0m9 0h0m3 0h0m11 0h0m-23 1h0m7 0h0m3 0h0m6 0h0m-10 1h0m3 0h0m2 0h0m3 0h0m2 0h0m2 0h0m6 0h0m2 0h0m-19 1h0m1 0h0m2 0h0m-1 2h0" stroke="#18a8e0"/><path d="M188 52h0m4 0h0m-4 1h0m-7 1h0m8 1h0m2 0h0m-8 1h0m5 1h0m-1 2h0m2 1h0m2 1h0m-121 99h0m-18 1h0m29 0h0m-2 1h0m-2 1h0m2 0h0m-24 1h0m4 0h0m1 0h0m9 0h0m3 0h0m1 0h0m1 0h0m1 0h0m8 0h0m-26 1h0m2 0h0m1 0h0m2 0h0m8 0h0m1 0h0m3 0h0m-18 1h0m1 0h0m5 0h0m2 0h0m2 0h0m1 0h0m2 0h0m2 0h0m1 0h0m3 0h0m3 0h0m3 0h0m2 0h0m3 0h0m-32 1h0m2 0h0m1 0h0m1 0h0m4 0h0m2 0h0m6 0h0m3 0h0m5 0h0m1 0h0m1 0h0m5 0h0m-32 1h0m5 0h0m1 0h0m1 0h0m3 0h0m3 0h0m2 0h0m1 0h0m1 0h0m1 0h0m1 0h0m1 0h0m2 0h0m4 0h0m1 0h0m1 0h0m2 0h0m-26 1h0m2 0h0m1 0h0m1 0h0m3 0h0m1 0h0m1 0h0m1 0h0m1 0h0m2 0h0m2 0h0m2 0h0m1 0h0m1 0h0m1 0h0m5 0h0m2 0h0m-35 1h0m8 0h0m1 0h0m2 0h0m1 0h0m2 0h0m1 0h0m1 0h0m2 0h0m2 0h0m1 0h0m1 0h0m2 0h0m1 0h0m1 0h0m1 0h0m2 0h0m2 0h0m5 0h0m-34 1h0m1 0h0m3 0h0m1 0h0m1 0h0m1 0h0m1 0h0m2 0h0m1 0h0m1 0h0m1 0h0m2 0h0m1 0h0m1 0h0m1 0h0m2 0h0m1 0h0m1 0h0m1 0h0m1 0h0m3 0h0m1 0h0m4 0h0m4 0h0m-37 1h0m2 0h0m1 0h0m1 0h0m1 0h0m2 0h0m2 0h0m4 0h0m3 0h0m1 0h0m1 0h0m3 0h0m2 0h0m3 0h0m1 0h0m2 0h0m4 0h0m-33 1h0m1 0h0m2 0h0m1 0h0m1 0h0m2 0h0m5 0h0m2 0h0m1 0h0m2 0h0m1 0h0m3 0h0m2 0h0m1 0h0m4 0h0m1 0h0m4 0h0m1 0h0m3 0h0m3 0h0m-44 1h0m3 0h0m1 0h0m1 0h0m2 0h0m2 0h0m1 0h0m1 0h0m1 0h0m1 0h0m2 0h0m4 0h0m1 0h0m7 0h0m3 0h0m4 0h0m1 0h0m1 0h0m1 0h0m2 0h0m2 0h0m3 0h0m-48 1h0m8 0h0m1 0h0m1 0h0m2 0h0m1 0h0m1 0h0m3 0h0m5 0h0m11 0h0m1 0h0m3 0h0m7 0h0m1 0h0m1 0h0m7 0h0m-51 1h0m1 0h0m4 0h0m4 0h0m4 0h0m1 0h0m2 0h0m2 0h0m1 0h0m3 0h0m7 0h0m2 0h0m5 0h0m3 0h0m3 0h0m-42 1h0m2 0h0m2 0h0m2 0h0m4 0h0m2 0h0m2 0h0m3 0h0m2 0h0m1 0h0m10 0h0m2 0h0m2 0h0m1 0h0m1 0h0m5 0h0m2 0h0m1 0h0m3 0h0m2 0h0m-48 1h0m2 0h0m1 0h0m2 0h0m1 0h0m2 0h0m1 0h0m2 0h0m2 0h0m2 0h0m9 0h0m6 0h0m2 0h0m7 0h0m2 0h0m3 0h0m1 0h0m3 0h0m1 0h0m-48 1h0m1 0h0m1 0h0m1 0h0m1 0h0m4 0h0m1 0h0m4 0h0m1 0h0m1 0h0m3 0h0m4 0h0m2 0h0m7 0h0m1 0h0m3 0h0m4 0h0m3 0h0m1 0h0m7 0h0m-56 1h0m6 0h0m8 0h0m1 0h0m2 0h0m2 0h0m1 0h0m6 0h0m1 0h0m2 0h0m7 0h0m6 0h0m5 0h0m1 0h0m1 0h0m1 0h0m2 0h0m-54 1h0m7 0h0m4 0h0m2 0h0m2 0h0m1 0h0m2 0h0m6 0h0m2 0h0m2 0h0m1 0h0m7 0h0m1 0h0m8 0h0m1 0h0m2 0h0m5 0h0m-52 1h0m4 0h0m7 0h0m1 0h0m1 0h0m1 0h0m1 0h0m1 0h0m1 0h0m5 0h0m1 0h0m5 0h0m5 0h0m2 0h0m4 0h0m3 0h0m3 0h0m4 0h0m1 0h0m1 0h0m6 0h0m2 0h0m-59 1h0m9 0h0m2 0h0m1 0h0m2 0h0m1 0h0m11 0h0m7 0h0m4 0h0m3 0h0m4 0h0m1 0h0m1 0h0m2 0h0m2 0h0m1 0h0m1 0h0m-45 1h0m2 0h0m3 0h0m1 0h0m3 0h0m6 0h0m5 0h0m4 0h0m9 0h0m1 0h0m2 0h0m3 0h0m3 0h0m2 0h0m-42 1h0m2 0h0m1 0h0m1 0h0m1 0h0m2 0h0m6 0h0m4 0h0m10 0h0m2 0h0m2 0h0m2 0h0m5 0h0m2 0h0m2 0h0m1 0h0m3 0h0m-44 1h0m1 0h0m3 0h0m4 0h0m1 0h0m2 0h0m1 0h0m8 0h0m2 0h0m5 0h0m2 0h0m3 0h0m1 0h0m1 0h0m1 0h0m4 0h0m1 0h0m3 0h0m6 0h0m-52 1h0m3 0h0m1 0h0m1 0h0m3 0h0m1 0h0m1 0h0m10 0h0m1 0h0m7 0h0m3 0h0m2 0h0m1 0h0m2 0h0m1 0h0m1 0h0m1 0h0m2 0h0m1 0h0m1 0h0m2 0h0m2 0h0m-51 1h0m4 0h0m1 0h0m4 0h0m1 0h0m1 0h0m2 0h0m8 0h0m3 0h0m9 0h0m5 0h0m1 0h0m3 0h0m1 0h0m1 0h0m2 0h0m1 0h0m6 0h0m1 0h0m-54 1h0m2 0h0m2 0h0m1 0h0m4 0h0m2 0h0m1 0h0m1 0h0m2 0h0m1 0h0m3 0h0m1 0h0m7 0h0m7 0h0m2 0h0m2 0h0m1 0h0m2 0h0m1 0h0m1 0h0m-40 1h0m2 0h0m2 0h0m2 0h0m1 0h0m2 0h0m3 0h0m1 0h0m1 0h0m2 0h0m1 0h0m2 0h0m1 0h0m1 0h0m4 0h0m4 0h0m2 0h0m7 0h0m2 0h0m2 0h0m2 0h0m1 0h0m1 0h0m5 0h0m-52 1h0m3 0h0m1 0h0m1 0h0m7 0h0m3 0h0m4 0h0m5 0h0m7 0h0m2 0h0m4 0h0m1 0h0m1 0h0m1 0h0m1 0h0m1 0h0m1 0h0m1 0h0m2 0h0m3 0h0m3 0h0m7 0h0m-53 1h0m2 0h0m1 0h0m4 0h0m3 0h0m7 0h0m1 0h0m1 0h0m1 0h0m1 0h0m1 0h0m7 0h0m2 0h0m1 0h0m1 0h0m1 0h0m1 0h0m1 0h0m2 0h0m1 0h0m1 0h0m2 0h0m-45 1h0m1 0h0m4 0h0m2 0h0m1 0h0m5 0h0m1 0h0m1 0h0m1 0h0m1 0h0m3 0h0m3 0h0m2 0h0m5 0h0m2 0h0m1 0h0m1 0h0m2 0h0m1 0h0m1 0h0m4 0h0m2 0h0m-43 1h0m8 0h0m5 0h0m2 0h0m1 0h0m3 0h0m1 0h0m1 0h0m1 0h0m6 0h0m2 0h0m1 0h0m4 0h0m1 0h0m1 0h0m1 0h0m2 0h0m3 0h0m-44 1h0m2 0h0m6 0h0m5 0h0m1 0h0m1 0h0m2 0h0m1 0h0m4 0h0m2 0h0m1 0h0m1 0h0m1 0h0m4 0h0m2 0h0m1 0h0m6 0h0m1 0h0m1 0h0m-39 1h0m2 0h0m1 0h0m1 0h0m4 0h0m3 0h0m1 0h0m3 0h0m5 0h0m2 0h0m1 0h0m1 0h0m1 0h0m1 0h0m1 0h0m1 0h0m1 0h0m4 0h0m1 0h0m2 0h0m2 0h0m1 0h0m-40 1h0m3 0h0m1 0h0m5 0h0m1 0h0m1 0h0m1 0h0m1 0h0m3 0h0m1 0h0m1 0h0m2 0h0m2 0h0m2 0h0m4 0h0m1 0h0m3 0h0m1 0h0m1 0h0m7 0h0m1 0h0m1 0h0m1 0h0m-43 1h0m1 0h0m1 0h0m7 0h0m1 0h0m1 0h0m1 0h0m3 0h0m2 0h0m1 0h0m1 0h0m4 0h0m1 0h0m3 0h0m2 0h0m2 0h0m1 0h0m2 0h0m6 0h0m1 0h0m1 0h0m-42 1h0m1 0h0m1 0h0m4 0h0m2 0h0m1 0h0m1 0h0m5 0h0m1 0h0m1 0h0m3 0h0m1 0h0m1 0h0m1 0h0m2 0h0m1 0h0m1 0h0m1 0h0m4 0h0m2 0h0m3 0h0m1 0h0m1 0h0m3 0h0m-42 1h0m5 0h0m4 0h0m1 0h0m5 0h0m3 0h0m1 0h0m1 0h0m1 0h0m2 0h0m1 0h0m1 0h0m1 0h0m1 0h0m2 0h0m2 0h0m1 0h0m1 0h0m1 0h0m2 0h0m2 0h0m-37 1h0m1 0h0m15 0h0m4 0h0m3 0h0m1 0h0m2 0h0m8 0h0m4 0h0m-36 1h0m12 0h0m3 0h0m6 0h0m1 0h0m3 0h0m9 0h0m2 0h0m1 0h0m-21 1h0m3 0h0m2 0h0m5 0h0m3 0h0m4 0h0m-21 1h0m1 0h0m1 0h0m1 0h0m1 0h0m3 0h0m8 0h0m1 0h0m1 0h0m4 0h0m-26 1h0m1 0h0m4 0h0m3 0h0m20 0h0m-25 1h0m1 0h0m14 0h0m6 0h0m-21 1h0m6 0h0m2 0h0m2 0h0m7 0h0m2 0h0m-19 1h0m1 0h0m18 0h0m-12 1h0m1 2h0m14 0h0m-14 1h0m16 0h0m-11 2h0" stroke="#28cc48"/><path d="M55 165h0m14 0h0m13 0h0m-14 1h0m-13 1h0m7 1h0m15 0h0m-21 1h0m6 0h0m-10 1h0m2 0h0m1 0h0m4 0h0m3 0h0m6 0h0m9 0h0m-12 1h0m12 0h0m-28 1h0m11 0h0m1 0h0m8 0h0m1 0h0m2 0h0m3 0h0m-15 1h0m3 0h0m3 0h0m6 0h0m3 0h0m2 0h0m-17 1h0m2 0h0m2 0h0m3 0h0m1 0h0m1 0h0m2 0h0m1 0h0m2 0h0m1 0h0m2 0h0m1 0h0m1 0h0m-21 1h0m4 0h0m8 0h0m3 0h0m-21 1h0m2 0h0m1 0h0m4 0h0m2 0h0m3 0h0m1 0h0m2 0h0m1 0h0m6 0h0m2 0h0m1 0h0m2 0h0m2 0h0m9 0h0m-39 1h0m11 0h0m11 0h0m2 0h0m6 0h0m-29 1h0m9 0h0m5 0h0m1 0h0m1 0h0m2 0h0m1 0h0m2 0h0m5 0h0m1 0h0m1 0h0m-24 1h0m7 0h0m4 0h0m8 0h0m1 0h0m4 0h0m2 0h0m2 0h0m-28 1h0m6 0h0m1 0h0m12 0h0m3 0h0m3 0h0m-29 1h0m5 0h0m3 0h0m3 0h0m2 0h0m4 0h0m1 0h0m6 0h0m1 0h0m2 0h0m1 0h0m-23 1h0m1 0h0m1 0h0m4 0h0m1 0h0m2 0h0m11 0h0m5 0h0m1 0h0m-36 1h0m10 0h0m1 0h0m1 0h0m2 0h0m1 0h0m1 0h0m1 0h0m2 0h0m1 0h0m3 0h0m4 0h0m12 0h0m2 0h0m-35 1h0m4 0h0m1 0h0m1 0h0m3 0h0m2 0h0m7 0h0m2 0h0m1 0h0m1 0h0m1 0h0m1 0h0m1 0h0m9 0h0m4 0h0m-37 1h0m2 0h0m2 0h0m1 0h0m1 0h0m2 0h0m5 0h0m2 0h0m1 0h0m6 0h0m2 0h0m2 0h0m2 0h0m1 0h0m2 0h0m-33 1h0m4 0h0m1 0h0m9 0h0m1 0h0m1 0h0m6 0h0m4 0h0m2 0h0m1 0h0m-27 1h0m6 0h0m1 0h0m1 0h0m2 0h0m2 0h0m3 0h0m3 0h0m1 0h0m9 0h0m-31 1h0m4 0h0m3 0h0m3 0h0m4 0h0m3 0h0m1 0h0m3 0h0m1 0h0m4 0h0m1 0h0m1 0h0m1 0h0m4 0h0m-27 1h0m3 0h0m7 0h0m2 0h0m2 0h0m2 0h0m1 0h0m2 0h0m2 0h0m2 0h0m3 0h0m-29 1h0m2 0h0m1 0h0m11 0h0m4 0h0m1 0h0m3 0h0m2 0h0m1 0h0m1 0h0m1 0h0m1 0h0m-30 1h0m3 0h0m4 0h0m2 0h0m1 0h0m4 0h0m2 0h0m5 0h0m1 0h0m1 0h0m2 0h0m2 0h0m1 0h0m-23 1h0m2 0h0m4 0h0m2 0h0m1 0h0m8 0h0m2 0h0m2 0h0m1 0h0m2 0h0m-23 1h0m2 0h0m7 0h0m5 0h0m2 0h0m9 0h0m-27 1h0m2 0h0m2 0h0m1 0h0m5 0h0m1 0h0m5 0h0m6 0h0m3 0h0m1 0h0m1 0h0m5 0h0m-31 1h0m3 0h0m7 0h0m1 0h0m3 0h0m5 0h0m1 0h0m3 0h0m3 0h0m1 0h0m1 0h0m2 0h0m4 0h0m-30 1h0m7 0h0m1 0h0m3 0h0m9 0h0m2 0h0m-10 1h0m3 0h0m5 0h0m5 0h0m-15 1h0m1 0h0m15 0h0m1 0h0m-18 1h0m10 0h0m1 0h0m1 0h0m2 0h0m-17 1h0m1 0h0m5 0h0m17 0h0m-7 1h0m-12 1h0m1 0h0m10 0h0m1 0h0m-32 1h0m18 0h0m2 0h0" stroke="#90e020"/><path d="M60 171h0m10 0h0m-8 1h0m2 0h0m1 0h0m5 1h0m-7 1h0m-2 1h0m2 0h0m2 0h0m3 0h0m4 0h0m-22 1h0m1 0h0m19 0h0m1 0h0m-14 1h0m8 0h0m4 0h0m1 0h0m1 0h0m-16 1h0m7 0h0m1 0h0m2 0h0m16 0h0m-19 1h0m4 0h0m3 0h0m4 0h0m1 0h0m-10 1h0m6 0h0m1 0h0m3 0h0m3 0h0m2 0h0m1 0h0m3 0h0m-25 1h0m3 0h0m10 0h0m1 0h0m1 0h0m8 0h0m1 0h0m-9 1h0m2 0h0m4 0h0m-11 1h0m7 0h0m2 0h0m1 0h0m2 0h0m2 0h0m-22 1h0m7 0h0m2 0h0m-12 1h0m15 0h0m2 0h0m10 0h0m-24 1h0m3 0h0m2 0h0m4 0h0m2 0h0m2 0h0m3 0h0m-18 1h0m1 0h0m4 0h0m2 0h0m5 0h0m1 0h0m5 0h0m3 0h0m-20 1h0m3 0h0m8 0h0m5 0h0m-11 1h0m2 0h0m2 0h0m7 0h0m-14 1h0m3 0h0m5 0h0m18 0h0m-22 1h0m-5 1h0m2 0h0m2 0h0m3 0h0m-1 1h0m22 0h0m-12 1h0m-18 1h0m11 0h0m-9 1h0m7 0h0m3 0h0m-1 1h0m5 4h0" stroke="#ecd818"/><path d="M76 171h0m2 1h0m-17 1h0m8 0h0m7 0h0m-6 1h0m-3 1h0m4 0h0m-2 1h0m3 0h0m-6 1h0m2 0h0m4 1h0m2 0h0m8 0h0m-3 1h0m-18 1h0m4 0h0m7 0h0m-17 1h0m23 0h0m-8 1h0m6 0h0m-16 1h0m9 0h0m2 0h0m-6 1h0m-1 2h0m11 0h0m-1 1h0m-17 1h0m3 0h0m3 0h0m3 0h0m5 0h0m3 0h0m-13 1h0m4 0h0m5 2h0m1 0h0m6 1h0m-8 1h0m7 0h0m1 0h0" stroke="#f88a10"/><path d="M74 172h0m-8 3h0m3 0h0m8 0h0m-10 2h0m5 0h0m-8 1h0m12 0h0m-11 1h0m6 0h0m1 0h0m1 1h0m-13 2h0m8 0h0m1 0h0m2 0h0m9 0h0m-7 1h0m-10 1h0m9 0h0m-9 1h0m1 0h0m2 0h0m5 0h0m2 0h0m-6 6h0" stroke="#e83410"/></g>
<rect x="1085.5" y="75.5" width="490.0" height="490.0" fill="none" stroke="#2a2a2a" stroke-width="2.6"/>
<path d="M1302.0 75.5V565.5M1085.5 360.5H1575.5" stroke="#2a2a2a" stroke-width="2.4" fill="none"/>
<path d="M1085.5 565.5v14.5M1085.5 565.5h-15M1122.4 565.5v7M1085.5 528.6h-7M1143.9 565.5v7M1085.5 507.1h-7M1159.3 565.5v7M1085.5 491.7h-7M1171.1 565.5v7M1085.5 479.9h-7M1180.8 565.5v7M1085.5 470.2h-7M1189.0 565.5v7M1085.5 462.0h-7M1196.1 565.5v7M1085.5 454.9h-7M1202.4 565.5v7M1085.5 448.6h-7M1208.0 565.5v14.5M1085.5 443.0h-15M1244.9 565.5v7M1085.5 406.1h-7M1266.4 565.5v7M1085.5 384.6h-7M1281.8 565.5v7M1085.5 369.2h-7M1293.6 565.5v7M1085.5 357.4h-7M1303.3 565.5v7M1085.5 347.7h-7M1311.5 565.5v7M1085.5 339.5h-7M1318.6 565.5v7M1085.5 332.4h-7M1324.9 565.5v7M1085.5 326.1h-7M1330.5 565.5v14.5M1085.5 320.5h-15M1367.4 565.5v7M1085.5 283.6h-7M1388.9 565.5v7M1085.5 262.1h-7M1404.3 565.5v7M1085.5 246.7h-7M1416.1 565.5v7M1085.5 234.9h-7M1425.8 565.5v7M1085.5 225.2h-7M1434.0 565.5v7M1085.5 217.0h-7M1441.1 565.5v7M1085.5 209.9h-7M1447.4 565.5v7M1085.5 203.6h-7M1453.0 565.5v14.5M1085.5 198.0h-15M1489.9 565.5v7M1085.5 161.1h-7M1511.4 565.5v7M1085.5 139.6h-7M1526.8 565.5v7M1085.5 124.2h-7M1538.6 565.5v7M1085.5 112.4h-7M1548.3 565.5v7M1085.5 102.7h-7M1556.5 565.5v7M1085.5 94.5h-7M1563.6 565.5v7M1085.5 87.4h-7M1569.9 565.5v7M1085.5 81.1h-7M1575.5 565.5v14.5M1085.5 75.5h-15" stroke="#2a2a2a" stroke-width="2.4" fill="none"/>
<text x="1091.5" y="615.5" font-size="24" font-weight="normal" fill="#333" text-anchor="start" stroke="#333" stroke-width="0.45">10</text>
<text x="1118.5" y="598.0" font-size="24" font-weight="normal" fill="#333" text-anchor="start" stroke="#333" stroke-width="0.45">0</text>
<text x="1195.5" y="615.5" font-size="24" font-weight="normal" fill="#333" text-anchor="start" stroke="#333" stroke-width="0.45">10</text>
<text x="1222.5" y="598.0" font-size="24" font-weight="normal" fill="#333" text-anchor="start" stroke="#333" stroke-width="0.45">1</text>
<text x="1312.5" y="615.5" font-size="24" font-weight="normal" fill="#333" text-anchor="start" stroke="#333" stroke-width="0.45">10</text>
<text x="1339.5" y="598.0" font-size="24" font-weight="normal" fill="#333" text-anchor="start" stroke="#333" stroke-width="0.45">2</text>
<text x="1426.5" y="615.5" font-size="24" font-weight="normal" fill="#333" text-anchor="start" stroke="#333" stroke-width="0.45">10</text>
<text x="1453.5" y="598.0" font-size="24" font-weight="normal" fill="#333" text-anchor="start" stroke="#333" stroke-width="0.45">3</text>
<text x="1543.5" y="615.5" font-size="24" font-weight="normal" fill="#333" text-anchor="start" stroke="#333" stroke-width="0.45">10</text>
<text x="1570.5" y="598.0" font-size="24" font-weight="normal" fill="#333" text-anchor="start" stroke="#333" stroke-width="0.45">4</text>
<text x="1023.0" y="564.5" font-size="24" font-weight="normal" fill="#333" text-anchor="start" stroke="#333" stroke-width="0.45">10</text>
<text x="1050.5" y="547.0" font-size="24" font-weight="normal" fill="#333" text-anchor="start" stroke="#333" stroke-width="0.45">0</text>
<text x="1023.0" y="452.0" font-size="24" font-weight="normal" fill="#333" text-anchor="start" stroke="#333" stroke-width="0.45">10</text>
<text x="1050.5" y="434.5" font-size="24" font-weight="normal" fill="#333" text-anchor="start" stroke="#333" stroke-width="0.45">1</text>
<text x="1023.0" y="329.5" font-size="24" font-weight="normal" fill="#333" text-anchor="start" stroke="#333" stroke-width="0.45">10</text>
<text x="1050.5" y="312.0" font-size="24" font-weight="normal" fill="#333" text-anchor="start" stroke="#333" stroke-width="0.45">2</text>
<text x="1023.0" y="207.0" font-size="24" font-weight="normal" fill="#333" text-anchor="start" stroke="#333" stroke-width="0.45">10</text>
<text x="1050.5" y="189.5" font-size="24" font-weight="normal" fill="#333" text-anchor="start" stroke="#333" stroke-width="0.45">3</text>
<text x="1023.0" y="118.5" font-size="24" font-weight="normal" fill="#333" text-anchor="start" stroke="#333" stroke-width="0.45">10</text>
<text x="1050.5" y="101.0" font-size="24" font-weight="normal" fill="#333" text-anchor="start" stroke="#333" stroke-width="0.45">4</text>
<text x="1095.0" y="102.5" font-size="22" font-weight="normal" fill="#333" text-anchor="start" stroke="#333" stroke-width="0.3">Q1</text>
<text x="1095.0" y="137.0" font-size="22" font-weight="normal" fill="#333" text-anchor="start" textLength="65.5" lengthAdjust="spacingAndGlyphs" stroke="#333" stroke-width="0.3">1.31%</text>
<text x="1499.0" y="102.5" font-size="22" font-weight="normal" fill="#333" text-anchor="start" stroke="#333" stroke-width="0.3">Q2</text>
<text x="1499.0" y="137.0" font-size="22" font-weight="normal" fill="#333" text-anchor="start" textLength="65.5" lengthAdjust="spacingAndGlyphs" stroke="#333" stroke-width="0.3">18.2%</text>
<text x="1095.0" y="522.5" font-size="22" font-weight="normal" fill="#333" text-anchor="start" stroke="#333" stroke-width="0.3">Q4</text>
<text x="1095.0" y="558.0" font-size="22" font-weight="normal" fill="#333" text-anchor="start" textLength="65.5" lengthAdjust="spacingAndGlyphs" stroke="#333" stroke-width="0.3">68.9%</text>
<text x="1499.0" y="522.5" font-size="22" font-weight="normal" fill="#333" text-anchor="start" stroke="#333" stroke-width="0.3">Q3</text>
<text x="1499.0" y="558.0" font-size="22" font-weight="normal" fill="#333" text-anchor="start" textLength="65.5" lengthAdjust="spacingAndGlyphs" stroke="#333" stroke-width="0.3">11.5%</text>
<text x="728.0" y="674" font-size="46" font-weight="bold" fill="#000" text-anchor="middle" textLength="376" lengthAdjust="spacingAndGlyphs" >Inhibitor+ox-LDL</text>
<g transform="translate(485.46,692.96) scale(1.9141)" stroke-width="1.12" stroke-linecap="square" fill="none" filter="url(#db)"><path d="M184 16h0m-35 3h0m4 0h0m6 1h0m13 0h0m-22 1h0m5 0h0m30 0h0m-33 2h0m31 0h0m-51 1h0m19 0h0m16 0h0m4 0h0m-25 1h0m40 0h0m-52 1h0m22 0h0m2 0h0m1 0h0m-1 1h0m5 0h0m4 0h0m-53 1h0m22 0h0m8 0h0m14 0h0m6 0h0m5 0h0m22 0h0m-63 1h0m30 0h0m23 0h0m2 0h0m12 0h0m-54 1h0m1 0h0m1 0h0m3 0h0m3 0h0m13 0h0m9 0h0m28 0h0m7 0h0m-78 1h0m5 0h0m6 0h0m8 0h0m3 0h0m2 0h0m12 0h0m15 0h0m5 0h0m12 0h0m-52 1h0m5 0h0m1 0h0m2 0h0m6 0h0m5 0h0m6 0h0m2 0h0m8 0h0m-37 1h0m13 0h0m7 0h0m6 0h0m20 0h0m16 0h0m-72 1h0m5 0h0m5 0h0m5 0h0m9 0h0m4 0h0m12 0h0m4 0h0m3 0h0m1 0h0m1 0h0m17 0h0m-65 1h0m8 0h0m7 0h0m6 0h0m19 0h0m1 0h0m1 0h0m12 0h0m-65 1h0m8 0h0m14 0h0m2 0h0m10 0h0m1 0h0m3 0h0m4 0h0m5 0h0m1 0h0m2 0h0m1 0h0m3 0h0m1 0h0m7 0h0m2 0h0m2 0h0m1 0h0m1 0h0m-45 1h0m2 0h0m6 0h0m4 0h0m6 0h0m1 0h0m1 0h0m4 0h0m5 0h0m6 0h0m1 0h0m1 0h0m1 0h0m3 0h0m9 0h0m-74 1h0m25 0h0m2 0h0m1 0h0m1 0h0m6 0h0m1 0h0m3 0h0m3 0h0m3 0h0m1 0h0m2 0h0m6 0h0m3 0h0m2 0h0m-46 1h0m7 0h0m7 0h0m3 0h0m7 0h0m1 0h0m3 0h0m4 0h0m5 0h0m4 0h0m3 0h0m1 0h0m3 0h0m-44 1h0m7 0h0m1 0h0m3 0h0m2 0h0m2 0h0m1 0h0m1 0h0m4 0h0m9 0h0m4 0h0m2 0h0m3 0h0m3 0h0m1 0h0m2 0h0m4 0h0m3 0h0m5 0h0m3 0h0m15 0h0m-78 1h0m3 0h0m4 0h0m2 0h0m9 0h0m3 0h0m1 0h0m1 0h0m2 0h0m1 0h0m1 0h0m2 0h0m7 0h0m2 0h0m2 0h0m6 0h0m3 0h0m4 0h0m4 0h0m10 0h0m1 0h0m-65 1h0m8 0h0m6 0h0m1 0h0m5 0h0m1 0h0m4 0h0m1 0h0m1 0h0m1 0h0m1 0h0m1 0h0m1 0h0m1 0h0m1 0h0m1 0h0m11 0h0m1 0h0m3 0h0m4 0h0m1 0h0m2 0h0m9 0h0m3 0h0m-63 1h0m1 0h0m1 0h0m2 0h0m1 0h0m3 0h0m9 0h0m1 0h0m1 0h0m2 0h0m7 0h0m1 0h0m1 0h0m1 0h0m1 0h0m1 0h0m1 0h0m2 0h0m2 0h0m1 0h0m9 0h0m1 0h0m1 0h0m1 0h0m4 0h0m2 0h0m-66 1h0m3 0h0m4 0h0m3 0h0m3 0h0m10 0h0m5 0h0m2 0h0m2 0h0m3 0h0m2 0h0m2 0h0m3 0h0m2 0h0m3 0h0m3 0h0m2 0h0m2 0h0m4 0h0m1 0h0m2 0h0m8 0h0m4 0h0m-78 1h0m1 0h0m5 0h0m11 0h0m2 0h0m1 0h0m1 0h0m1 0h0m2 0h0m4 0h0m4 0h0m2 0h0m2 0h0m1 0h0m3 0h0m1 0h0m2 0h0m3 0h0m1 0h0m2 0h0m1 0h0m1 0h0m1 0h0m14 0h0m3 0h0m1 0h0m-60 1h0m10 0h0m2 0h0m5 0h0m10 0h0m2 0h0m1 0h0m1 0h0m3 0h0m1 0h0m3 0h0m6 0h0m2 0h0m2 0h0m4 0h0m8 0h0m9 0h0m3 0h0m-83 1h0m18 0h0m1 0h0m1 0h0m1 0h0m4 0h0m2 0h0m1 0h0m2 0h0m8 0h0m2 0h0m1 0h0m1 0h0m3 0h0m3 0h0m3 0h0m1 0h0m3 0h0m1 0h0m1 0h0m2 0h0m2 0h0m1 0h0m1 0h0m-58 1h0m16 0h0m3 0h0m2 0h0m2 0h0m5 0h0m2 0h0m1 0h0m4 0h0m3 0h0m4 0h0m4 0h0m2 0h0m2 0h0m1 0h0m4 0h0m1 0h0m2 0h0m6 0h0m1 0h0m1 0h0m1 0h0m2 0h0m2 0h0m-60 1h0m1 0h0m2 0h0m3 0h0m7 0h0m2 0h0m3 0h0m4 0h0m2 0h0m6 0h0m2 0h0m1 0h0m3 0h0m1 0h0m4 0h0m1 0h0m3 0h0m1 0h0m1 0h0m1 0h0m1 0h0m1 0h0m1 0h0m5 0h0m3 0h0m-73 1h0m14 0h0m11 0h0m7 0h0m5 0h0m3 0h0m2 0h0m1 0h0m1 0h0m1 0h0m1 0h0m2 0h0m2 0h0m1 0h0m2 0h0m2 0h0m2 0h0m1 0h0m2 0h0m3 0h0m2 0h0m9 0h0m9 0h0m-88 1h0m30 0h0m1 0h0m1 0h0m2 0h0m2 0h0m1 0h0m1 0h0m3 0h0m2 0h0m3 0h0m1 0h0m3 0h0m2 0h0m1 0h0m4 0h0m3 0h0m1 0h0m3 0h0m3 0h0m2 0h0m3 0h0m1 0h0m4 0h0m2 0h0m2 0h0m9 0h0m-69 1h0m10 0h0m1 0h0m4 0h0m2 0h0m2 0h0m2 0h0m3 0h0m1 0h0m3 0h0m1 0h0m1 0h0m1 0h0m1 0h0m2 0h0m2 0h0m2 0h0m1 0h0m4 0h0m2 0h0m1 0h0m2 0h0m1 0h0m1 0h0m2 0h0m1 0h0m13 0h0m-64 1h0m14 0h0m2 0h0m1 0h0m4 0h0m4 0h0m1 0h0m3 0h0m3 0h0m5 0h0m3 0h0m1 0h0m4 0h0m2 0h0m2 0h0m2 0h0m1 0h0m7 0h0m12 0h0m-116 1h0m55 0h0m2 0h0m3 0h0m1 0h0m6 0h0m3 0h0m2 0h0m4 0h0m3 0h0m1 0h0m1 0h0m2 0h0m2 0h0m1 0h0m6 0h0m4 0h0m1 0h0m2 0h0m4 0h0m-91 1h0m28 0h0m7 0h0m8 0h0m1 0h0m8 0h0m2 0h0m2 0h0m1 0h0m4 0h0m3 0h0m4 0h0m2 0h0m2 0h0m1 0h0m5 0h0m3 0h0m1 0h0m4 0h0m-47 1h0m4 0h0m8 0h0m5 0h0m1 0h0m2 0h0m4 0h0m2 0h0m1 0h0m2 0h0m3 0h0m1 0h0m2 0h0m1 0h0m2 0h0m1 0h0m1 0h0m1 0h0m2 0h0m2 0h0m1 0h0m2 0h0m1 0h0m5 0h0m-87 1h0m32 0h0m5 0h0m5 0h0m3 0h0m4 0h0m2 0h0m6 0h0m1 0h0m2 0h0m2 0h0m1 0h0m5 0h0m4 0h0m2 0h0m2 0h0m16 0h0m6 0h0m-81 1h0m29 0h0m2 0h0m1 0h0m2 0h0m2 0h0m3 0h0m8 0h0m1 0h0m1 0h0m1 0h0m1 0h0m2 0h0m2 0h0m1 0h0m2 0h0m2 0h0m4 0h0m2 0h0m1 0h0m-111 1h0m47 0h0m2 0h0m26 0h0m5 0h0m1 0h0m1 0h0m3 0h0m5 0h0m1 0h0m6 0h0m2 0h0m1 0h0m1 0h0m3 0h0m1 0h0m7 0h0m-38 1h0m4 0h0m3 0h0m1 0h0m2 0h0m2 0h0m1 0h0m3 0h0m1 0h0m1 0h0m2 0h0m4 0h0m1 0h0m2 0h0m1 0h0m3 0h0m4 0h0m1 0h0m3 0h0m4 0h0m-59 1h0m12 0h0m1 0h0m7 0h0m3 0h0m2 0h0m3 0h0m2 0h0m1 0h0m7 0h0m1 0h0m5 0h0m1 0h0m6 0h0m1 0h0m1 0h0m3 0h0m-115 1h0m55 0h0m21 0h0m3 0h0m2 0h0m2 0h0m5 0h0m1 0h0m3 0h0m2 0h0m7 0h0m5 0h0m3 0h0m2 0h0m1 0h0m3 0h0m-69 1h0m25 0h0m7 0h0m3 0h0m2 0h0m2 0h0m2 0h0m7 0h0m3 0h0m2 0h0m2 0h0m1 0h0m2 0h0m3 0h0m-97 1h0m57 0h0m14 0h0m3 0h0m1 0h0m1 0h0m4 0h0m1 0h0m1 0h0m1 0h0m2 0h0m4 0h0m5 0h0m4 0h0m3 0h0m-28 1h0m4 0h0m3 0h0m2 0h0m1 0h0m1 0h0m3 0h0m5 0h0m5 0h0m5 0h0m-91 1h0m50 0h0m8 0h0m4 0h0m2 0h0m1 0h0m1 0h0m2 0h0m2 0h0m2 0h0m1 0h0m3 0h0m1 0h0m1 0h0m1 0h0m5 0h0m1 0h0m1 0h0m6 0h0m1 0h0m-45 1h0m1 0h0m8 0h0m7 0h0m4 0h0m2 0h0m5 0h0m2 0h0m5 0h0m5 0h0m4 0h0m10 0h0m1 0h0m10 0h0m-105 1h0m57 0h0m3 0h0m2 0h0m1 0h0m7 0h0m2 0h0m-39 1h0m16 0h0m2 0h0m11 0h0m5 0h0m2 0h0m2 0h0m2 0h0m3 0h0m3 0h0m2 0h0m1 0h0m-40 1h0m9 0h0m4 0h0m8 0h0m7 0h0m1 0h0m2 0h0m1 0h0m2 0h0m1 0h0m1 0h0m1 0h0m2 0h0m9 0h0m-41 1h0m9 0h0m1 0h0m7 0h0m1 0h0m4 0h0m1 0h0m1 0h0m1 0h0m2 0h0m2 0h0m3 0h0m-78 1h0m51 0h0m3 0h0m9 0h0m4 0h0m1 0h0m2 0h0m2 0h0m1 0h0m1 0h0m3 0h0m1 0h0m9 0h0m-77 1h0m36 0h0m7 0h0m1 0h0m1 0h0m3 0h0m3 0h0m8 0h0m3 0h0m6 0h0m3 0h0m5 0h0m17 0h0m-83 1h0m36 0h0m2 0h0m3 0h0m2 0h0m3 0h0m1 0h0m2 0h0m3 0h0m2 0h0m2 0h0m2 0h0m2 0h0m-107 1h0m71 0h0m1 0h0m11 0h0m6 0h0m1 0h0m7 0h0m1 0h0m1 0h0m6 0h0m1 0h0m4 0h0m-34 1h0m6 0h0m5 0h0m2 0h0m2 0h0m1 0h0m3 0h0m1 0h0m2 0h0m3 0h0m-74 1h0m54 0h0m3 0h0m4 0h0m1 0h0m8 0h0m7 0h0m-123 1h0m19 0h0m76 0h0m7 0h0m8 0h0m9 0h0m4 0h0m1 0h0m4 0h0m-119 1h0m88 0h0m2 0h0m5 0h0m3 0h0m2 0h0m2 0h0m2 0h0m10 0h0m-91 1h0m68 0h0m2 0h0m2 0h0m4 0h0m9 0h0m5 0h0m-15 1h0m6 0h0m5 0h0m1 0h0m-23 1h0m3 0h0m4 0h0m2 0h0m4 0h0m2 0h0m6 0h0m11 0h0m-58 1h0m15 0h0m21 0h0m4 0h0m3 0h0m6 0h0m4 0h0m-36 1h0m2 0h0m13 0h0m3 0h0m1 0h0m7 0h0m1 0h0m1 0h0m4 0h0m2 0h0m9 0h0m6 0h0m-116 1h0m53 0h0m27 0h0m9 0h0m15 0h0m3 0h0m-108 1h0m77 0h0m9 0h0m14 0h0m19 0h0m-55 1h0m9 0h0m11 0h0m1 0h0m1 0h0m7 0h0m5 0h0m-91 1h0m43 0h0m23 0h0m25 0h0m-82 1h0m8 0h0m2 0h0m53 0h0m5 0h0m3 0h0m4 0h0m10 0h0m-23 1h0m6 0h0m3 0h0m2 0h0m1 0h0m3 0h0m5 0h0m4 0h0m-97 1h0m1 0h0m82 0h0m9 0h0m1 0h0m2 0h0m7 0h0m13 0h0m-34 1h0m12 0h0m4 0h0m2 0h0m5 0h0m-32 1h0m16 0h0m1 0h0m3 0h0m-105 1h0m68 0h0m26 0h0m-93 1h0m77 0h0m22 0h0m5 0h0m4 0h0m3 0h0m4 0h0m12 0h0m-115 1h0m61 0h0m17 0h0m4 0h0m2 0h0m-81 1h0m88 0h0m9 0h0m2 0h0m11 0h0m-110 1h0m20 0h0m55 0h0m7 0h0m2 0h0m4 0h0m3 0h0m10 0h0m-27 1h0m5 0h0m2 0h0m2 0h0m3 0h0m12 0h0m-29 1h0m5 0h0m8 0h0m6 0h0m-3 1h0m1 0h0m5 0h0m21 0h0m-31 1h0m6 0h0m6 0h0m4 0h0m7 0h0m7 0h0m-36 1h0m1 0h0m1 0h0m17 0h0m-97 1h0m38 0h0m27 0h0m10 0h0m7 0h0m3 0h0m18 0h0m-118 1h0m98 0h0m15 0h0m2 0h0m2 0h0m-102 1h0m3 0h0m2 0h0m84 0h0m2 0h0m6 0h0m-118 1h0m99 0h0m5 0h0m2 0h0m-103 1h0m8 0h0m86 0h0m1 0h0m6 0h0m4 0h0m4 0h0m3 0h0m1 0h0m-22 1h0m5 0h0m2 1h0m2 0h0m9 0h0m-31 1h0m18 0h0m8 0h0m5 0h0m3 0h0m-1 1h0m1 0h0m-18 1h0m0 1h0m4 0h0m8 0h0m1 0h0m14 0h0m-109 1h0m66 0h0m21 0h0m6 0h0m-104 1h0m70 0h0m21 0h0m21 0h0m11 0h0m-119 1h0m114 0h0m-114 1h0m77 0h0m12 0h0m10 0h0m9 0h0m6 0h0m-16 1h0m5 0h0m-114 1h0m107 0h0m5 0h0m-70 1h0m4 0h0m12 0h0m44 0h0m1 0h0m5 0h0m7 0h0m2 0h0m-125 2h0m120 0h0m2 0h0m12 0h0m2 0h0m-172 1h0m149 0h0m21 0h0m4 0h0m-117 1h0m93 0h0m1 0h0m5 0h0m8 0h0m1 0h0m-35 1h0m40 0h0m4 0h0m9 0h0m-162 1h0m31 0h0m96 0h0m1 0h0m-43 1h0m15 0h0m43 0h0m-102 1h0m64 0h0m4 0h0m3 0h0m14 0h0m11 0h0m16 0h0m4 0h0m-159 1h0m16 0h0m9 0h0m22 0h0m19 0h0m73 0h0m-145 1h0m4 0h0m42 0h0m102 0h0m13 0h0m-143 1h0m109 0h0m6 0h0m5 0h0m1 0h0m13 0h0m3 0h0m-147 1h0m1 0h0m10 0h0m33 0h0m-68 1h0m151 0h0m4 0h0m2 0h0m3 0h0m4 0h0m-170 1h0m55 0h0m2 0h0m3 0h0m109 0h0m-156 1h0m35 0h0m104 0h0m2 0h0m9 0h0m10 0h0m-162 1h0m15 0h0m9 0h0m13 0h0m9 0h0m15 0h0m102 0h0m8 0h0m-158 1h0m127 0h0m9 0h0m2 0h0m-153 1h0m19 0h0m12 0h0m34 0h0m97 0h0m-167 1h0m15 0h0m11 0h0m8 0h0m11 0h0m5 0h0m4 0h0m5 0h0m1 0h0m1 0h0m5 0h0m44 0h0m47 0h0m11 0h0m17 0h0m-186 1h0m15 0h0m12 0h0m5 0h0m14 0h0m6 0h0m5 0h0m13 0h0m12 0h0m9 0h0m48 0h0m-122 1h0m10 0h0m2 0h0m3 0h0m5 0h0m1 0h0m4 0h0m69 0h0m1 0h0m49 0h0m-131 1h0m11 0h0m1 0h0m2 0h0m4 0h0m2 0h0m75 0h0m33 0h0m5 0h0m1 0h0m1 0h0m8 0h0m-176 1h0m1 0h0m9 0h0m7 0h0m11 0h0m1 0h0m1 0h0m11 0h0m4 0h0m6 0h0m7 0h0m10 0h0m24 0h0m42 0h0m23 0h0m16 0h0m-174 1h0m9 0h0m10 0h0m7 0h0m7 0h0m10 0h0m5 0h0m1 0h0m1 0h0m7 0h0m1 0h0m91 0h0m15 0h0m-158 1h0m25 0h0m12 0h0m1 0h0m3 0h0m12 0h0m2 0h0m15 0h0m78 0h0m10 0h0m6 0h0m11 0h0m2 0h0m-171 1h0m4 0h0m2 0h0m7 0h0m1 0h0m5 0h0m3 0h0m1 0h0m2 0h0m1 0h0m3 0h0m2 0h0m2 0h0m1 0h0m2 0h0m1 0h0m4 0h0m2 0h0m4 0h0m27 0h0m88 0h0m12 0h0m7 0h0m-192 1h0m8 0h0m15 0h0m1 0h0m6 0h0m3 0h0m8 0h0m1 0h0m1 0h0m4 0h0m2 0h0m2 0h0m1 0h0m13 0h0m1 0h0m6 0h0m4 0h0m110 0h0m-185 1h0m4 0h0m3 0h0m1 0h0m5 0h0m1 0h0m3 0h0m3 0h0m1 0h0m4 0h0m4 0h0m4 0h0m4 0h0m1 0h0m3 0h0m1 0h0m1 0h0m7 0h0m1 0h0m2 0h0m4 0h0m2 0h0m2 0h0m2 0h0m3 0h0m1 0h0m15 0h0m10 0h0m75 0h0m2 0h0m11 0h0m-179 1h0m10 0h0m1 0h0m3 0h0m1 0h0m8 0h0m1 0h0m2 0h0m6 0h0m1 0h0m1 0h0m1 0h0m1 0h0m2 0h0m2 0h0m5 0h0m2 0h0m3 0h0m4 0h0m13 0h0m2 0h0m60 0h0m12 0h0m21 0h0m2 0h0m-145 1h0m2 0h0m3 0h0m2 0h0m6 0h0m1 0h0m4 0h0m1 0h0m1 0h0m1 0h0m2 0h0m2 0h0m2 0h0m4 0h0m6 0h0m5 0h0m3 0h0m1 0h0m2 0h0m4 0h0m11 0h0m33 0h0m13 0h0m27 0h0m11 0h0m1 0h0m19 0h0m-185 1h0m9 0h0m5 0h0m1 0h0m1 0h0m6 0h0m1 0h0m1 0h0m3 0h0m2 0h0m1 0h0m2 0h0m6 0h0m1 0h0m1 0h0m3 0h0m2 0h0m3 0h0m1 0h0m2 0h0m4 0h0m3 0h0m1 0h0m7 0h0m1 0h0m40 0h0m3 0h0m33 0h0m23 0h0m-160 1h0m16 0h0m1 0h0m3 0h0m1 0h0m1 0h0m1 0h0m2 0h0m1 0h0m1 0h0m2 0h0m6 0h0m3 0h0m2 0h0m2 0h0m1 0h0m7 0h0m1 0h0m1 0h0m3 0h0m2 0h0m1 0h0m2 0h0m16 0h0m5 0h0m53 0h0m15 0h0m-168 1h0m14 0h0m2 0h0m5 0h0m9 0h0m1 0h0m1 0h0m2 0h0m2 0h0m7 0h0m1 0h0m3 0h0m1 0h0m6 0h0m1 0h0m1 0h0m3 0h0m1 0h0m1 0h0m4 0h0m1 0h0m1 0h0m2 0h0m3 0h0m1 0h0m4 0h0m15 0h0m57 0h0m11 0h0m1 0h0m5 0h0m-153 1h0m12 0h0m7 0h0m3 0h0m2 0h0m1 0h0m4 0h0m6 0h0m7 0h0m3 0h0m1 0h0m1 0h0m1 0h0m2 0h0m1 0h0m1 0h0m2 0h0m5 0h0m1 0h0m1 0h0m1 0h0m1 0h0m2 0h0m1 0h0m4 0h0m3 0h0m4 0h0m6 0h0m1 0h0m38 0h0m24 0h0m36 0h0m-184 1h0m11 0h0m9 0h0m5 0h0m1 0h0m2 0h0m4 0h0m1 0h0m1 0h0m3 0h0m7 0h0m3 0h0m4 0h0m5 0h0m2 0h0m3 0h0m1 0h0m1 0h0m1 0h0m4 0h0m4 0h0m73 0h0m10 0h0m9 0h0m15 0h0m9 0h0m-190 1h0m17 0h0m1 0h0m1 0h0m2 0h0m4 0h0m2 0h0m1 0h0m5 0h0m2 0h0m6 0h0m9 0h0m3 0h0m2 0h0m1 0h0m1 0h0m2 0h0m1 0h0m1 0h0m4 0h0m2 0h0m2 0h0m7 0h0m1 0h0m4 0h0m3 0h0m72 0h0m15 0h0m12 0h0m-177 1h0m3 0h0m2 0h0m2 0h0m4 0h0m1 0h0m2 0h0m1 0h0m3 0h0m1 0h0m1 0h0m1 0h0m10 0h0m3 0h0m4 0h0m2 0h0m4 0h0m2 0h0m3 0h0m1 0h0m5 0h0m3 0h0m2 0h0m1 0h0m3 0h0m3 0h0m1 0h0m1 0h0m4 0h0m31 0h0m45 0h0m8 0h0m14 0h0m-183 1h0m11 0h0m10 0h0m3 0h0m1 0h0m3 0h0m17 0h0m11 0h0m2 0h0m4 0h0m6 0h0m1 0h0m3 0h0m4 0h0m2 0h0m3 0h0m4 0h0m3 0h0m1 0h0m11 0h0m-93 1h0m2 0h0m12 0h0m3 0h0m1 0h0m4 0h0m1 0h0m18 0h0m13 0h0m1 0h0m2 0h0m1 0h0m1 0h0m1 0h0m1 0h0m1 0h0m5 0h0m1 0h0m2 0h0m4 0h0m83 0h0m37 0h0m-205 1h0m9 0h0m4 0h0m5 0h0m1 0h0m1 0h0m3 0h0m3 0h0m1 0h0m1 0h0m1 0h0m2 0h0m2 0h0m3 0h0m6 0h0m17 0h0m5 0h0m6 0h0m1 0h0m4 0h0m2 0h0m2 0h0m2 0h0m1 0h0m5 0h0m9 0h0m63 0h0m12 0h0m8 0h0m2 0h0m13 0h0m1 0h0m-189 1h0m2 0h0m4 0h0m5 0h0m5 0h0m1 0h0m2 0h0m7 0h0m1 0h0m3 0h0m28 0h0m2 0h0m4 0h0m4 0h0m1 0h0m1 0h0m1 0h0m2 0h0m4 0h0m1 0h0m1 0h0m10 0h0m8 0h0m72 0h0m6 0h0m-170 1h0m2 0h0m4 0h0m1 0h0m1 0h0m1 0h0m4 0h0m1 0h0m1 0h0m3 0h0m1 0h0m1 0h0m2 0h0m34 0h0m4 0h0m1 0h0m2 0h0m3 0h0m1 0h0m2 0h0m1 0h0m3 0h0m2 0h0m3 0h0m5 0h0m7 0h0m2 0h0m67 0h0m4 0h0m7 0h0m-180 1h0m8 0h0m6 0h0m2 0h0m1 0h0m3 0h0m1 0h0m2 0h0m2 0h0m1 0h0m4 0h0m44 0h0m7 0h0m1 0h0m1 0h0m2 0h0m8 0h0m24 0h0m3 0h0m57 0h0m24 0h0m-200 1h0m18 0h0m1 0h0m2 0h0m1 0h0m1 0h0m1 0h0m2 0h0m3 0h0m40 0h0m1 0h0m2 0h0m2 0h0m2 0h0m1 0h0m1 0h0m1 0h0m2 0h0m4 0h0m2 0h0m13 0h0m71 0h0m5 0h0m2 0h0m15 0h0m-193 1h0m5 0h0m14 0h0m1 0h0m2 0h0m2 0h0m2 0h0m2 0h0m42 0h0m9 0h0m2 0h0m4 0h0m4 0h0m16 0h0m1 0h0m61 0h0m-156 1h0m4 0h0m8 0h0m44 0h0m6 0h0m2 0h0m1 0h0m1 0h0m7 0h0m1 0h0m2 0h0m3 0h0m2 0h0m7 0h0m63 0h0m5 0h0m8 0h0m3 0h0m12 0h0m-192 1h0m16 0h0m1 0h0m2 0h0m1 0h0m1 0h0m4 0h0m2 0h0m4 0h0m45 0h0m2 0h0m6 0h0m1 0h0m1 0h0m1 0h0m2 0h0m4 0h0m2 0h0m3 0h0m3 0h0m80 0h0m2 0h0m13 0h0m-182 1h0m3 0h0m2 0h0m2 0h0m1 0h0m1 0h0m56 0h0m1 0h0m1 0h0m1 0h0m1 0h0m2 0h0m3 0h0m2 0h0m3 0h0m4 0h0m8 0h0m67 0h0m2 0h0m5 0h0m13 0h0m-194 1h0m16 0h0m3 0h0m1 0h0m1 0h0m6 0h0m50 0h0m6 0h0m2 0h0m3 0h0m2 0h0m1 0h0m5 0h0m1 0h0m1 0h0m7 0h0m7 0h0m50 0h0m42 0h0m-202 1h0m9 0h0m4 0h0m1 0h0m1 0h0m4 0h0m1 0h0m3 0h0m53 0h0m2 0h0m4 0h0m4 0h0m1 0h0m5 0h0m4 0h0m3 0h0m3 0h0m1 0h0m67 0h0m1 0h0m4 0h0m9 0h0m12 0h0m-183 1h0m2 0h0m1 0h0m1 0h0m4 0h0m1 0h0m2 0h0m1 0h0m1 0h0m1 0h0m48 0h0m7 0h0m3 0h0m1 0h0m1 0h0m5 0h0m2 0h0m3 0h0m2 0h0m1 0h0m79 0h0m1 0h0m6 0h0m-188 1h0m9 0h0m4 0h0m1 0h0m4 0h0m1 0h0m1 0h0m2 0h0m5 0h0m57 0h0m1 0h0m1 0h0m3 0h0m2 0h0m6 0h0m2 0h0m1 0h0m3 0h0m12 0h0m12 0h0m-133 1h0m18 0h0m2 0h0m2 0h0m1 0h0m3 0h0m3 0h0m2 0h0m5 0h0m56 0h0m1 0h0m1 0h0m3 0h0m3 0h0m4 0h0m3 0h0m7 0h0m3 0h0m24 0h0m-119 1h0m5 0h0m1 0h0m1 0h0m1 0h0m1 0h0m2 0h0m59 0h0m6 0h0m4 0h0m16 0h0m49 0h0m-166 1h0m6 0h0m12 0h0m2 0h0m2 0h0m1 0h0m2 0h0m1 0h0m3 0h0m4 0h0m57 0h0m2 0h0m3 0h0m2 0h0m3 0h0m2 0h0m6 0h0m1 0h0m7 0h0m72 0h0m-177 1h0m10 0h0m4 0h0m1 0h0m2 0h0m3 0h0m58 0h0m1 0h0m1 0h0m2 0h0m2 0h0m1 0h0m3 0h0m4 0h0m10 0h0m58 0h0m-176 1h0m22 0h0m3 0h0m5 0h0m2 0h0m2 0h0m1 0h0m2 0h0m61 0h0m1 0h0m1 0h0m1 0h0m1 0h0m2 0h0m4 0h0m2 0h0m1 0h0m5 0h0m-93 1h0m4 0h0m5 0h0m1 0h0m3 0h0m1 0h0m56 0h0m1 0h0m3 0h0m1 0h0m4 0h0m5 0h0m8 0h0m5 0h0m2 0h0m-119 1h0m7 0h0m6 0h0m6 0h0m1 0h0m4 0h0m2 0h0m1 0h0m4 0h0m1 0h0m4 0h0m2 0h0m2 0h0m56 0h0m1 0h0m4 0h0m3 0h0m1 0h0m4 0h0m1 0h0m3 0h0m7 0h0m10 0h0m53 0h0m-170 1h0m6 0h0m3 0h0m4 0h0m1 0h0m1 0h0m2 0h0m69 0h0m1 0h0m1 0h0m1 0h0m2 0h0m4 0h0m7 0h0m7 0h0m75 0h0m4 0h0m-191 1h0m10 0h0m9 0h0m60 0h0m5 0h0m2 0h0m1 0h0m1 0h0m1 0h0m1 0h0m2 0h0m1 0h0m2 0h0m5 0h0m1 0h0m1 0h0m1 0h0m15 0h0m64 0h0m21 0h0m-192 1h0m11 0h0m1 0h0m65 0h0m1 0h0m1 0h0m3 0h0m2 0h0m5 0h0m3 0h0m4 0h0m1 0h0m2 0h0m2 0h0m5 0h0m-116 1h0m1 0h0m11 0h0m3 0h0m2 0h0m1 0h0m1 0h0m3 0h0m3 0h0m57 0h0m1 0h0m1 0h0m2 0h0m3 0h0m3 0h0m1 0h0m4 0h0m2 0h0m2 0h0m9 0h0m87 0h0m-189 1h0m7 0h0m5 0h0m1 0h0m1 0h0m1 0h0m1 0h0m59 0h0m1 0h0m1 0h0m3 0h0m1 0h0m1 0h0m4 0h0m2 0h0m5 0h0m57 0h0m-155 1h0m6 0h0m6 0h0m2 0h0m3 0h0m1 0h0m61 0h0m2 0h0m3 0h0m2 0h0m7 0h0m6 0h0m1 0h0m3 0h0m-107 1h0m1 0h0m10 0h0m7 0h0m1 0h0m2 0h0m5 0h0m1 0h0m4 0h0m54 0h0m1 0h0m1 0h0m2 0h0m3 0h0m6 0h0m5 0h0m60 0h0m4 0h0m27 0h0m-202 1h0m15 0h0m9 0h0m2 0h0m3 0h0m3 0h0m1 0h0m1 0h0m3 0h0m2 0h0m1 0h0m43 0h0m8 0h0m3 0h0m5 0h0m1 0h0m1 0h0m1 0h0m1 0h0m1 0h0m7 0h0m9 0h0m3 0h0m-103 1h0m1 0h0m6 0h0m2 0h0m1 0h0m2 0h0m2 0h0m1 0h0m2 0h0m1 0h0m2 0h0m47 0h0m5 0h0m3 0h0m1 0h0m1 0h0m2 0h0m1 0h0m6 0h0m7 0h0m10 0h0m-103 1h0m4 0h0m3 0h0m3 0h0m2 0h0m1 0h0m1 0h0m1 0h0m1 0h0m2 0h0m47 0h0m9 0h0m1 0h0m3 0h0m1 0h0m3 0h0m1 0h0m12 0h0m66 0h0m-173 1h0m18 0h0m2 0h0m2 0h0m2 0h0m2 0h0m1 0h0m2 0h0m1 0h0m2 0h0m4 0h0m35 0h0m6 0h0m4 0h0m1 0h0m1 0h0m2 0h0m1 0h0m2 0h0m2 0h0m3 0h0m5 0h0m4 0h0m6 0h0m52 0h0m-169 1h0m11 0h0m14 0h0m2 0h0m4 0h0m2 0h0m1 0h0m3 0h0m1 0h0m3 0h0m3 0h0m10 0h0m32 0h0m2 0h0m4 0h0m1 0h0m5 0h0m1 0h0m15 0h0m-96 1h0m5 0h0m1 0h0m3 0h0m1 0h0m3 0h0m3 0h0m1 0h0m1 0h0m6 0h0m1 0h0m42 0h0m2 0h0m3 0h0m1 0h0m8 0h0m5 0h0m3 0h0m3 0h0m4 0h0m25 0h0m44 0h0m6 0h0m-173 1h0m10 0h0m3 0h0m2 0h0m5 0h0m3 0h0m1 0h0m1 0h0m2 0h0m2 0h0m42 0h0m2 0h0m1 0h0m5 0h0m1 0h0m1 0h0m1 0h0m2 0h0m1 0h0m2 0h0m2 0h0m2 0h0m1 0h0m1 0h0m1 0h0m-74 1h0m4 0h0m17 0h0m33 0h0m4 0h0m1 0h0m2 0h0m1 0h0m1 0h0m5 0h0m2 0h0m2 0h0m5 0h0m3 0h0m-97 1h0m10 0h0m2 0h0m1 0h0m2 0h0m3 0h0m3 0h0m1 0h0m3 0h0m2 0h0m42 0h0m2 0h0m1 0h0m1 0h0m1 0h0m5 0h0m1 0h0m3 0h0m1 0h0m1 0h0m2 0h0m7 0h0m63 0h0m-150 1h0m9 0h0m2 0h0m1 0h0m1 0h0m1 0h0m1 0h0m1 0h0m3 0h0m2 0h0m2 0h0m20 0h0m13 0h0m10 0h0m2 0h0m1 0h0m3 0h0m2 0h0m1 0h0m2 0h0m1 0h0m1 0h0m3 0h0m4 0h0m1 0h0m-94 1h0m5 0h0m5 0h0m7 0h0m5 0h0m2 0h0m1 0h0m12 0h0m2 0h0m25 0h0m6 0h0m1 0h0m1 0h0m1 0h0m5 0h0m2 0h0m16 0h0m3 0h0m1 0h0m5 0h0m56 0h0m-148 1h0m5 0h0m4 0h0m1 0h0m1 0h0m2 0h0m8 0h0m2 0h0m5 0h0m12 0h0m17 0h0m2 0h0m1 0h0m2 0h0m3 0h0m2 0h0m1 0h0m1 0h0m3 0h0m2 0h0m6 0h0m1 0h0m7 0h0m87 0h0m-186 1h0m4 0h0m1 0h0m5 0h0m1 0h0m1 0h0m1 0h0m3 0h0m3 0h0m2 0h0m2 0h0m2 0h0m1 0h0m1 0h0m1 0h0m4 0h0m7 0h0m15 0h0m14 0h0m1 0h0m4 0h0m2 0h0m8 0h0m2 0h0m5 0h0m56 0h0m40 0h0m-179 1h0m7 0h0m4 0h0m6 0h0m5 0h0m2 0h0m3 0h0m4 0h0m33 0h0m1 0h0m1 0h0m1 0h0m2 0h0m1 0h0m2 0h0m1 0h0m1 0h0m1 0h0m6 0h0m1 0h0m1 0h0m2 0h0m77 0h0m11 0h0m-169 1h0m2 0h0m2 0h0m3 0h0m2 0h0m1 0h0m1 0h0m5 0h0m2 0h0m1 0h0m1 0h0m1 0h0m1 0h0m4 0h0m2 0h0m1 0h0m6 0h0m8 0h0m3 0h0m4 0h0m1 0h0m1 0h0m1 0h0m2 0h0m1 0h0m4 0h0m2 0h0m5 0h0m1 0h0m1 0h0m4 0h0m2 0h0m2 0h0m57 0h0m25 0h0m-166 1h0m12 0h0m3 0h0m5 0h0m4 0h0m1 0h0m6 0h0m2 0h0m1 0h0m1 0h0m1 0h0m2 0h0m5 0h0m2 0h0m11 0h0m7 0h0m7 0h0m1 0h0m1 0h0m2 0h0m10 0h0m4 0h0m78 0h0m2 0h0m-160 1h0m6 0h0m2 0h0m3 0h0m3 0h0m7 0h0m1 0h0m1 0h0m3 0h0m7 0h0m1 0h0m1 0h0m1 0h0m1 0h0m3 0h0m1 0h0m1 0h0m2 0h0m2 0h0m3 0h0m3 0h0m2 0h0m3 0h0m1 0h0m2 0h0m3 0h0m7 0h0m4 0h0m3 0h0m7 0h0m13 0h0m46 0h0m20 0h0m8 0h0m-167 1h0m7 0h0m2 0h0m6 0h0m3 0h0m1 0h0m1 0h0m2 0h0m2 0h0m1 0h0m1 0h0m1 0h0m1 0h0m2 0h0m8 0h0m1 0h0m13 0h0m1 0h0m2 0h0m1 0h0m1 0h0m3 0h0m1 0h0m1 0h0m6 0h0m3 0h0m8 0h0m69 0h0m20 0h0m-181 1h0m9 0h0m1 0h0m12 0h0m1 0h0m1 0h0m3 0h0m2 0h0m3 0h0m1 0h0m6 0h0m4 0h0m4 0h0m1 0h0m1 0h0m5 0h0m1 0h0m1 0h0m1 0h0m1 0h0m1 0h0m1 0h0m1 0h0m1 0h0m1 0h0m1 0h0m2 0h0m3 0h0m5 0h0m1 0h0m2 0h0m-79 1h0m10 0h0m11 0h0m3 0h0m2 0h0m1 0h0m1 0h0m6 0h0m8 0h0m4 0h0m2 0h0m1 0h0m1 0h0m2 0h0m3 0h0m1 0h0m2 0h0m1 0h0m3 0h0m1 0h0m1 0h0m2 0h0m1 0h0m2 0h0m3 0h0m2 0h0m2 0h0m3 0h0m10 0h0m1 0h0m2 0h0m6 0h0m59 0h0m25 0h0m-165 1h0m4 0h0m1 0h0m3 0h0m1 0h0m8 0h0m1 0h0m2 0h0m1 0h0m2 0h0m4 0h0m3 0h0m1 0h0m1 0h0m4 0h0m5 0h0m2 0h0m1 0h0m2 0h0m1 0h0m1 0h0m2 0h0m1 0h0m1 0h0m2 0h0m4 0h0m1 0h0m1 0h0m3 0h0m1 0h0m1 0h0m3 0h0m7 0h0m1 0h0m80 0h0m-176 1h0m11 0h0m6 0h0m7 0h0m5 0h0m3 0h0m2 0h0m1 0h0m3 0h0m1 0h0m6 0h0m2 0h0m4 0h0m1 0h0m1 0h0m1 0h0m1 0h0m1 0h0m1 0h0m2 0h0m2 0h0m1 0h0m4 0h0m9 0h0m2 0h0m2 0h0m2 0h0m1 0h0m13 0h0m63 0h0m-135 1h0m1 0h0m2 0h0m2 0h0m2 0h0m2 0h0m3 0h0m2 0h0m1 0h0m2 0h0m1 0h0m1 0h0m5 0h0m1 0h0m2 0h0m1 0h0m1 0h0m1 0h0m7 0h0m1 0h0m1 0h0m2 0h0m1 0h0m2 0h0m1 0h0m1 0h0m1 0h0m6 0h0m1 0h0m2 0h0m3 0h0m2 0h0m2 0h0m2 0h0m-78 1h0m8 0h0m15 0h0m5 0h0m5 0h0m2 0h0m1 0h0m3 0h0m4 0h0m2 0h0m1 0h0m1 0h0m3 0h0m2 0h0m1 0h0m5 0h0m4 0h0m2 0h0m1 0h0m1 0h0m1 0h0m1 0h0m2 0h0m1 0h0m3 0h0m4 0h0m3 0h0m1 0h0m1 0h0m2 0h0m13 0h0m79 0h0m-162 1h0m4 0h0m11 0h0m3 0h0m1 0h0m1 0h0m4 0h0m1 0h0m2 0h0m1 0h0m1 0h0m3 0h0m2 0h0m1 0h0m2 0h0m1 0h0m1 0h0m2 0h0m1 0h0m1 0h0m1 0h0m4 0h0m5 0h0m5 0h0m8 0h0m5 0h0m7 0h0m2 0h0m69 0h0m2 0h0m6 0h0m-151 1h0m3 0h0m1 0h0m5 0h0m2 0h0m2 0h0m1 0h0m2 0h0m2 0h0m3 0h0m3 0h0m1 0h0m2 0h0m3 0h0m1 0h0m1 0h0m2 0h0m3 0h0m2 0h0m2 0h0m1 0h0m2 0h0m1 0h0m2 0h0m4 0h0m6 0h0m1 0h0m3 0h0m1 0h0m4 0h0m64 0h0m26 0h0m1 0h0m-158 1h0m2 0h0m10 0h0m11 0h0m1 0h0m4 0h0m2 0h0m1 0h0m2 0h0m3 0h0m4 0h0m1 0h0m2 0h0m3 0h0m1 0h0m2 0h0m2 0h0m5 0h0m4 0h0m1 0h0m6 0h0m1 0h0m-82 1h0m8 0h0m6 0h0m2 0h0m3 0h0m1 0h0m1 0h0m4 0h0m1 0h0m1 0h0m2 0h0m2 0h0m1 0h0m1 0h0m4 0h0m1 0h0m1 0h0m1 0h0m1 0h0m4 0h0m2 0h0m4 0h0m1 0h0m2 0h0m3 0h0m1 0h0m1 0h0m4 0h0m1 0h0m5 0h0m1 0h0m4 0h0m81 0h0m-141 1h0m11 0h0m6 0h0m6 0h0m9 0h0m1 0h0m2 0h0m1 0h0m1 0h0m3 0h0m5 0h0m1 0h0m3 0h0m2 0h0m4 0h0m7 0h0m7 0h0m8 0h0m-77 1h0m6 0h0m8 0h0m2 0h0m8 0h0m1 0h0m1 0h0m1 0h0m2 0h0m1 0h0m4 0h0m2 0h0m1 0h0m3 0h0m6 0h0m2 0h0m1 0h0m2 0h0m1 0h0m2 0h0m4 0h0m3 0h0m-56 1h0m4 0h0m4 0h0m1 0h0m1 0h0m6 0h0m5 0h0m1 0h0m2 0h0m4 0h0m5 0h0m3 0h0m2 0h0m1 0h0m9 0h0m15 0h0m3 0h0m66 0h0m10 0h0m-146 1h0m3 0h0m9 0h0m1 0h0m1 0h0m10 0h0m4 0h0m6 0h0m3 0h0m4 0h0m4 0h0m5 0h0m2 0h0m2 0h0m1 0h0m1 0h0m1 0h0m1 0h0m4 0h0m7 0h0m-62 1h0m9 0h0m3 0h0m7 0h0m1 0h0m2 0h0m5 0h0m2 0h0m1 0h0m1 0h0m3 0h0m1 0h0m5 0h0m7 0h0m1 0h0m10 0h0m-55 1h0m1 0h0m10 0h0m1 0h0m7 0h0m1 0h0m1 0h0m2 0h0m1 0h0m3 0h0m1 0h0m2 0h0m1 0h0m2 0h0m1 0h0m4 0h0m1 0h0m1 0h0m1 0h0m7 0h0m5 0h0m3 0h0m-91 1h0m4 0h0m23 0h0m16 0h0m2 0h0m9 0h0m1 0h0m2 0h0m2 0h0m1 0h0m1 0h0m3 0h0m1 0h0m1 0h0m1 0h0m1 0h0m4 0h0m1 0h0m1 0h0m2 0h0m1 0h0m1 0h0m1 0h0m5 0h0m7 0h0m2 0h0m49 0h0m39 0h0m-147 1h0m12 0h0m10 0h0m1 0h0m1 0h0m1 0h0m1 0h0m2 0h0m6 0h0m1 0h0m4 0h0m6 0h0m1 0h0m2 0h0m2 0h0m1 0h0m2 0h0m8 0h0m-70 1h0m10 0h0m9 0h0m2 0h0m4 0h0m1 0h0m3 0h0m2 0h0m8 0h0m1 0h0m1 0h0m4 0h0m2 0h0m1 0h0m1 0h0m1 0h0m5 0h0m1 0h0m4 0h0m2 0h0m3 0h0m5 0h0m46 0h0m1 0h0m8 0h0m29 0h0m6 0h0m-155 1h0m3 0h0m2 0h0m3 0h0m1 0h0m4 0h0m2 0h0m2 0h0m1 0h0m6 0h0m2 0h0m1 0h0m3 0h0m3 0h0m2 0h0m2 0h0m1 0h0m4 0h0m1 0h0m2 0h0m2 0h0m2 0h0m1 0h0m1 0h0m4 0h0m2 0h0m3 0h0m59 0h0m20 0h0m-140 1h0m9 0h0m9 0h0m3 0h0m1 0h0m4 0h0m10 0h0m1 0h0m7 0h0m1 0h0m3 0h0m3 0h0m1 0h0m89 0h0m9 0h0m-140 1h0m1 0h0m1 0h0m15 0h0m1 0h0m8 0h0m9 0h0m1 0h0m15 0h0m1 0h0m-77 1h0m29 0h0m5 0h0m3 0h0m9 0h0m1 0h0m4 0h0m1 0h0m3 0h0m1 0h0m5 0h0m2 0h0m3 0h0m1 0h0m1 0h0m2 0h0m-42 1h0m3 0h0m5 0h0m2 0h0m4 0h0m2 0h0m1 0h0m3 0h0m2 0h0m2 0h0m1 0h0m3 0h0m1 0h0m3 0h0m9 0h0m5 0h0m6 0h0m6 0h0m16 0h0m33 0h0m9 0h0m17 0h0m-128 1h0m2 0h0m4 0h0m2 0h0m1 0h0m1 0h0m3 0h0m1 0h0m3 0h0m1 0h0m2 0h0m1 0h0m1 0h0m6 0h0m1 0h0m1 0h0m1 0h0m1 0h0m6 0h0m10 0h0m-62 1h0m7 0h0m3 0h0m6 0h0m6 0h0m3 0h0m2 0h0m2 0h0m2 0h0m1 0h0m6 0h0m1 0h0m1 0h0m2 0h0m2 0h0m7 0h0m66 0h0m10 0h0m-128 1h0m11 0h0m1 0h0m5 0h0m1 0h0m2 0h0m4 0h0m1 0h0m1 0h0m2 0h0m1 0h0m1 0h0m1 0h0m3 0h0m2 0h0m1 0h0m1 0h0m2 0h0m1 0h0m1 0h0m1 0h0m4 0h0m1 0h0m2 0h0m2 0h0m5 0h0m-59 1h0m8 0h0m2 0h0m8 0h0m1 0h0m3 0h0m4 0h0m4 0h0m1 0h0m4 0h0m1 0h0m1 0h0m2 0h0m1 0h0m1 0h0m2 0h0m2 0h0m1 0h0m1 0h0m2 0h0m7 0h0m81 0h0m12 0h0m-144 1h0m13 0h0m5 0h0m13 0h0m5 0h0m3 0h0m4 0h0m1 0h0m4 0h0m14 0h0m75 0h0m-137 1h0m1 0h0m2 0h0m13 0h0m11 0h0m1 0h0m1 0h0m3 0h0m1 0h0m2 0h0m2 0h0m1 0h0m8 0h0m3 0h0m3 0h0m-54 1h0m9 0h0m15 0h0m13 0h0m2 0h0m5 0h0m4 0h0m2 0h0m1 0h0m2 0h0m2 0h0m13 0h0m51 0h0m11 0h0m-117 1h0m2 0h0m4 0h0m4 0h0m4 0h0m3 0h0m1 0h0m9 0h0m3 0h0m1 0h0m2 0h0m2 0h0m3 0h0m1 0h0m15 0h0m-54 1h0m1 0h0m1 0h0m8 0h0m1 0h0m5 0h0m1 0h0m2 0h0m1 0h0m1 0h0m3 0h0m2 0h0m1 0h0m3 0h0m1 0h0m5 0h0m3 0h0m4 0h0m2 0h0m8 0h0m3 0h0m-58 1h0m9 0h0m1 0h0m2 0h0m5 0h0m1 0h0m3 0h0m2 0h0m4 0h0m1 0h0m2 0h0m9 0h0m78 0h0m24 0h0m-140 1h0m2 0h0m1 0h0m16 0h0m3 0h0m4 0h0m3 0h0m3 0h0m3 0h0m1 0h0m19 0h0m52 0h0m-112 1h0m7 0h0m3 0h0m1 0h0m1 0h0m6 0h0m3 0h0m4 0h0m5 0h0m5 0h0m1 0h0m6 0h0m2 0h0m-40 1h0m14 0h0m7 0h0m1 0h0m3 0h0m1 0h0m8 0h0m1 0h0m2 0h0m12 0h0m-60 1h0m8 0h0m5 0h0m8 0h0m8 0h0m1 0h0m2 0h0m1 0h0m2 0h0m7 0h0m1 0h0m2 0h0m15 0h0m49 0h0m-95 1h0m10 0h0m5 0h0m2 0h0m2 0h0m3 0h0m3 0h0m2 0h0m2 0h0m1 0h0m11 0h0m9 0h0m85 0h0m-123 1h0m9 0h0m2 0h0m4 0h0m7 0h0m9 0h0m68 0h0m-101 1h0m3 0h0m8 0h0m9 0h0m7 0h0m2 0h0m69 0h0m-106 1h0m4 0h0m4 0h0m5 0h0m1 0h0m1 0h0m6 0h0m3 0h0m2 0h0m2 0h0m3 0h0m9 0h0m55 0h0m10 0h0m25 0h0m7 0h0m-144 1h0m5 0h0m3 0h0m23 0h0m2 0h0m-32 1h0m11 0h0m7 0h0m9 0h0m2 0h0m10 0h0m4 0h0m2 0h0m2 0h0m91 0h0m3 0h0m-125 1h0m11 0h0m2 0h0m4 0h0m4 0h0m-21 1h0m1 0h0m4 0h0m7 0h0m1 0h0m3 0h0m7 0h0m3 0h0m6 0h0m51 0h0m-104 1h0m2 0h0m19 0h0m3 0h0m4 0h0m10 0h0m4 0h0m3 0h0m-15 1h0m1 0h0m8 0h0m8 0h0m79 0h0m-115 1h0m5 0h0m5 0h0m6 0h0m2 0h0m23 0h0m91 0h0m2 0h0" stroke="#2626f4"/><path d="M185 48h0m2 0h0m-8 2h0m14 1h0m-7 1h0m-4 1h0m10 0h0m-2 1h0m1 0h0m3 0h0m-14 1h0m1 0h0m1 0h0m4 0h0m6 0h0m-1 1h0m-11 1h0m6 0h0m-6 1h0m2 0h0m10 0h0m-14 1h0m9 0h0m2 0h0m1 0h0m2 0h0m-1 1h0m-6 1h0m2 0h0m1 0h0m1 0h0m-3 1h0m3 0h0m-3 1h0m-123 88h0m6 1h0m-3 1h0m1 0h0m-12 1h0m9 0h0m3 0h0m1 0h0m-20 1h0m1 0h0m2 0h0m3 0h0m1 0h0m10 0h0m3 0h0m4 0h0m5 0h0m-30 1h0m8 0h0m1 0h0m11 0h0m2 0h0m3 0h0m2 0h0m5 0h0m-33 1h0m2 0h0m5 0h0m1 0h0m6 0h0m1 0h0m2 0h0m7 0h0m5 0h0m-23 1h0m1 0h0m6 0h0m1 0h0m2 0h0m1 0h0m3 0h0m3 0h0m12 0h0m1 0h0m7 0h0m-35 1h0m2 0h0m4 0h0m9 0h0m1 0h0m1 0h0m7 0h0m3 0h0m2 0h0m6 0h0m-44 1h0m4 0h0m1 0h0m1 0h0m4 0h0m7 0h0m1 0h0m5 0h0m6 0h0m2 0h0m5 0h0m7 0h0m3 0h0m-47 1h0m4 0h0m4 0h0m13 0h0m7 0h0m5 0h0m-39 1h0m4 0h0m1 0h0m8 0h0m4 0h0m1 0h0m6 0h0m17 0h0m3 0h0m3 0h0m-44 1h0m5 0h0m5 0h0m1 0h0m1 0h0m1 0h0m21 0h0m3 0h0m1 0h0m10 0h0m1 0h0m6 0h0m-50 1h0m1 0h0m2 0h0m13 0h0m21 0h0m2 0h0m2 0h0m1 0h0m3 0h0m3 0h0m1 0h0m-54 1h0m3 0h0m4 0h0m3 0h0m38 0h0m2 0h0m5 0h0m2 0h0m1 0h0m1 0h0m-63 1h0m2 0h0m2 0h0m4 0h0m2 0h0m44 0h0m8 0h0m1 0h0m-67 1h0m8 0h0m1 0h0m3 0h0m50 0h0m1 0h0m1 0h0m1 0h0m-55 1h0m3 0h0m39 0h0m3 0h0m1 0h0m7 0h0m1 0h0m-59 1h0m1 0h0m1 0h0m3 0h0m3 0h0m42 0h0m3 0h0m7 0h0m-60 1h0m2 0h0m2 0h0m1 0h0m4 0h0m30 0h0m10 0h0m5 0h0m6 0h0m-58 1h0m2 0h0m46 0h0m3 0h0m3 0h0m3 0h0m-55 1h0m45 0h0m5 0h0m2 0h0m-56 1h0m5 0h0m4 0h0m44 0h0m1 0h0m-2 1h0m6 0h0m-58 1h0m2 0h0m2 0h0m49 0h0m5 0h0m-58 1h0m3 0h0m4 0h0m41 0h0m8 0h0m2 0h0m-57 1h0m50 0h0m1 0h0m1 0h0m3 0h0m1 0h0m4 0h0m-59 1h0m4 0h0m46 0h0m7 0h0m-60 1h0m3 0h0m57 0h0m-59 1h0m2 0h0m2 0h0m50 0h0m3 0h0m3 0h0m1 0h0m1 0h0m-63 1h0m2 0h0m9 0h0m49 0h0m2 0h0m-62 1h0m4 0h0m3 0h0m53 0h0m3 0h0m-64 1h0m4 0h0m50 0h0m8 0h0m3 0h0m-61 1h0m2 0h0m4 0h0m42 0h0m7 0h0m-60 1h0m10 0h0m6 0h0m43 0h0m-54 1h0m4 0h0m1 0h0m3 0h0m40 0h0m9 0h0m-58 1h0m4 0h0m5 0h0m1 0h0m1 0h0m5 0h0m36 0h0m1 0h0m4 0h0m-53 1h0m2 0h0m4 0h0m45 0h0m2 0h0m4 0h0m-52 1h0m36 0h0m7 0h0m2 0h0m2 0h0m1 0h0m4 0h0m1 0h0m-57 1h0m17 0h0m22 0h0m2 0h0m4 0h0m2 0h0m2 0h0m2 0h0m2 0h0m1 0h0m1 0h0m1 0h0m4 0h0m-58 1h0m3 0h0m40 0h0m2 0h0m8 0h0m5 0h0m2 0h0m-61 1h0m3 0h0m1 0h0m4 0h0m48 0h0m-33 1h0m20 0h0m1 0h0m5 0h0m7 0h0m13 0h0m-57 1h0m2 0h0m11 0h0m2 0h0m1 0h0m14 0h0m1 0h0m2 0h0m4 0h0m3 0h0m8 0h0m-58 1h0m3 0h0m3 0h0m4 0h0m8 0h0m2 0h0m20 0h0m1 0h0m1 0h0m2 0h0m2 0h0m2 0h0m-42 1h0m5 0h0m4 0h0m1 0h0m3 0h0m4 0h0m14 0h0m3 0h0m4 0h0m1 0h0m1 0h0m-43 1h0m2 0h0m2 0h0m3 0h0m1 0h0m2 0h0m2 0h0m2 0h0m2 0h0m1 0h0m10 0h0m2 0h0m1 0h0m7 0h0m2 0h0m1 0h0m1 0h0m3 0h0m-41 1h0m2 0h0m1 0h0m1 0h0m1 0h0m1 0h0m1 0h0m16 0h0m2 0h0m8 0h0m2 0h0m2 0h0m4 0h0m10 0h0m2 0h0m-54 1h0m1 0h0m1 0h0m1 0h0m5 0h0m5 0h0m2 0h0m4 0h0m5 0h0m1 0h0m3 0h0m1 0h0m3 0h0m4 0h0m-32 1h0m1 0h0m3 0h0m1 0h0m2 0h0m9 0h0m3 0h0m2 0h0m1 0h0m1 0h0m1 0h0m5 0h0m3 0h0m1 0h0m3 0h0m-38 1h0m1 0h0m4 0h0m3 0h0m1 0h0m10 0h0m1 0h0m3 0h0m2 0h0m2 0h0m4 0h0m3 0h0m4 0h0m1 0h0m1 0h0m1 0h0m-33 1h0m1 0h0m6 0h0m1 0h0m2 0h0m2 0h0m1 0h0m2 0h0m5 0h0m3 0h0m2 0h0m9 0h0m-36 1h0m10 0h0m2 0h0m3 0h0m3 0h0m4 0h0m3 0h0m7 0h0m-21 1h0m7 0h0m4 0h0m2 0h0m2 0h0m1 0h0m11 0h0m-19 1h0m1 0h0m4 0h0m2 0h0m6 0h0m1 0h0m-19 1h0m6 0h0m2 0h0m1 0h0m-19 1h0m19 8h0m-2 1h0" stroke="#0c44ec"/><path d="M192 54h0m-1 1h0m-12 1h0m11 4h0m-2 2h0m-124 90h0m2 2h0m0 1h0m3 0h0m-4 1h0m-9 1h0m8 0h0m5 0h0m-22 1h0m9 0h0m1 0h0m1 0h0m7 0h0m2 0h0m6 0h0m-25 1h0m2 0h0m11 0h0m1 0h0m11 0h0m6 0h0m-20 1h0m8 0h0m3 0h0m1 0h0m1 0h0m5 0h0m-26 1h0m4 0h0m2 0h0m1 0h0m8 0h0m1 0h0m1 0h0m1 0h0m2 0h0m8 0h0m7 0h0m-32 1h0m3 0h0m4 0h0m8 0h0m4 0h0m19 0h0m-44 1h0m1 0h0m10 0h0m2 0h0m1 0h0m3 0h0m6 0h0m5 0h0m6 0h0m-32 1h0m3 0h0m3 0h0m9 0h0m5 0h0m4 0h0m5 0h0m2 0h0m3 0h0m-35 1h0m5 0h0m14 0h0m14 0h0m1 0h0m1 0h0m-41 1h0m3 0h0m2 0h0m12 0h0m5 0h0m17 0h0m1 0h0m1 0h0m1 0h0m3 0h0m1 0h0m9 0h0m-58 2h0m2 0h0m7 0h0m12 0h0m19 0h0m1 0h0m-40 1h0m1 0h0m6 0h0m1 0h0m40 0h0m1 0h0m-46 1h0m1 0h0m3 0h0m43 0h0m2 0h0m-52 1h0m3 0h0m40 0h0m-41 1h0m2 0h0m3 0h0m3 0h0m40 0h0m-46 1h0m45 0h0m4 0h0m-53 1h0m4 0h0m3 0h0m41 0h0m2 0h0m2 0h0m-52 1h0m2 0h0m2 0h0m7 0h0m33 0h0m3 0h0m1 0h0m1 0h0m2 0h0m2 0h0m1 0h0m-58 1h0m54 0h0m1 0h0m-52 1h0m5 0h0m3 0h0m40 0h0m6 1h0m4 0h0m-54 1h0m46 0h0m1 0h0m-52 1h0m45 0h0m1 0h0m1 0h0m4 0h0m3 0h0m3 0h0m-55 1h0m1 0h0m1 0h0m2 0h0m5 0h0m1 0h0m39 0h0m3 0h0m5 0h0m-58 1h0m3 0h0m5 0h0m6 0h0m34 0h0m3 0h0m1 0h0m3 0h0m1 0h0m-55 1h0m2 0h0m2 0h0m40 0h0m2 0h0m1 0h0m1 0h0m2 0h0m1 0h0m1 0h0m1 0h0m3 0h0m-58 1h0m5 0h0m5 0h0m1 0h0m35 0h0m2 0h0m3 0h0m1 0h0m5 0h0m-55 1h0m3 0h0m3 0h0m1 0h0m1 0h0m6 0h0m33 0h0m1 0h0m1 0h0m5 0h0m2 0h0m1 0h0m-56 1h0m5 0h0m2 0h0m1 0h0m3 0h0m33 0h0m3 0h0m2 0h0m1 0h0m2 0h0m1 0h0m-21 1h0m9 0h0m2 0h0m2 0h0m3 0h0m3 0h0m5 0h0m1 0h0m-49 1h0m8 0h0m1 0h0m15 0h0m10 0h0m1 0h0m1 0h0m3 0h0m3 0h0m3 0h0m-46 1h0m4 0h0m2 0h0m4 0h0m26 0h0m4 0h0m9 0h0m-52 1h0m2 0h0m2 0h0m1 0h0m17 0h0m13 0h0m7 0h0m8 0h0m7 0h0m-49 1h0m1 0h0m2 0h0m2 0h0m18 0h0m11 0h0m2 0h0m-39 1h0m1 0h0m15 0h0m5 0h0m3 0h0m10 0h0m1 0h0m2 0h0m-37 1h0m2 0h0m2 0h0m1 0h0m2 0h0m1 0h0m1 0h0m1 0h0m1 0h0m1 0h0m1 0h0m3 0h0m3 0h0m6 0h0m1 0h0m8 0h0m2 0h0m8 0h0m-31 1h0m1 0h0m3 0h0m1 0h0m2 0h0m4 0h0m1 0h0m7 0h0m2 0h0m1 0h0m5 0h0m-39 1h0m4 0h0m4 0h0m2 0h0m4 0h0m4 0h0m3 0h0m1 0h0m4 0h0m5 0h0m1 0h0m6 0h0m4 0h0m-39 1h0m6 0h0m3 0h0m3 0h0m1 0h0m5 0h0m1 0h0m3 0h0m1 0h0m3 0h0m1 0h0m7 0h0m1 0h0m-34 1h0m3 0h0m10 0h0m7 0h0m2 0h0m4 0h0m2 0h0m2 0h0m7 0h0m-41 1h0m2 0h0m12 0h0m3 0h0m6 0h0m2 0h0m2 0h0m2 0h0m3 0h0m8 0h0m-30 1h0m2 0h0m9 0h0m1 0h0m1 0h0m7 0h0m11 0h0m-26 1h0m1 0h0m5 0h0m1 0h0m2 0h0m10 0h0m1 0h0m4 0h0m2 0h0m-27 1h0m1 0h0m1 0h0m4 0h0m3 0h0m1 0h0m4 0h0m4 0h0m2 0h0m3 0h0m1 0h0m-14 1h0m3 0h0m4 0h0m-10 1h0m10 0h0m3 0h0m-9 1h0m5 10h0m5 1h0" stroke="#18a8e0"/><path d="M187 60h0m-122 94h0m2 1h0m1 1h0m-2 1h0m-11 1h0m16 0h0m-16 1h0m2 0h0m9 0h0m2 0h0m-12 1h0m1 0h0m1 0h0m2 0h0m1 0h0m3 0h0m1 0h0m4 0h0m6 0h0m-26 1h0m10 0h0m1 0h0m1 0h0m1 0h0m8 0h0m4 0h0m1 0h0m1 0h0m7 0h0m-31 1h0m6 0h0m6 0h0m3 0h0m3 0h0m1 0h0m1 0h0m2 0h0m3 0h0m-27 1h0m5 0h0m1 0h0m1 0h0m1 0h0m2 0h0m4 0h0m2 0h0m3 0h0m3 0h0m2 0h0m3 0h0m7 0h0m-36 1h0m4 0h0m3 0h0m2 0h0m3 0h0m3 0h0m1 0h0m2 0h0m2 0h0m1 0h0m6 0h0m1 0h0m1 0h0m1 0h0m4 0h0m-30 1h0m1 0h0m4 0h0m3 0h0m1 0h0m1 0h0m2 0h0m2 0h0m1 0h0m3 0h0m1 0h0m1 0h0m1 0h0m2 0h0m2 0h0m1 0h0m1 0h0m1 0h0m-31 1h0m2 0h0m1 0h0m2 0h0m1 0h0m2 0h0m4 0h0m1 0h0m1 0h0m1 0h0m5 0h0m1 0h0m1 0h0m1 0h0m2 0h0m3 0h0m1 0h0m1 0h0m1 0h0m1 0h0m-38 1h0m4 0h0m1 0h0m1 0h0m1 0h0m1 0h0m4 0h0m3 0h0m1 0h0m2 0h0m3 0h0m3 0h0m1 0h0m2 0h0m1 0h0m2 0h0m1 0h0m3 0h0m1 0h0m1 0h0m1 0h0m1 0h0m1 0h0m3 0h0m1 0h0m-39 1h0m1 0h0m3 0h0m1 0h0m2 0h0m6 0h0m3 0h0m2 0h0m2 0h0m4 0h0m6 0h0m5 0h0m1 0h0m3 0h0m1 0h0m-43 1h0m3 0h0m4 0h0m8 0h0m1 0h0m9 0h0m1 0h0m1 0h0m2 0h0m5 0h0m1 0h0m1 0h0m3 0h0m1 0h0m2 0h0m1 0h0m-37 1h0m2 0h0m4 0h0m5 0h0m4 0h0m11 0h0m3 0h0m1 0h0m2 0h0m3 0h0m1 0h0m2 0h0m-45 1h0m2 0h0m1 0h0m1 0h0m6 0h0m12 0h0m1 0h0m1 0h0m3 0h0m2 0h0m4 0h0m4 0h0m1 0h0m1 0h0m3 0h0m1 0h0m1 0h0m2 0h0m-45 1h0m2 0h0m1 0h0m2 0h0m4 0h0m5 0h0m8 0h0m5 0h0m12 0h0m1 0h0m1 0h0m3 0h0m5 0h0m-49 1h0m2 0h0m2 0h0m1 0h0m3 0h0m3 0h0m8 0h0m8 0h0m9 0h0m1 0h0m1 0h0m2 0h0m2 0h0m1 0h0m-41 1h0m1 0h0m9 0h0m12 0h0m2 0h0m2 0h0m10 0h0m1 0h0m1 0h0m2 0h0m1 0h0m1 0h0m6 0h0m-50 1h0m3 0h0m2 0h0m1 0h0m6 0h0m5 0h0m1 0h0m8 0h0m9 0h0m4 0h0m1 0h0m3 0h0m6 0h0m-51 1h0m5 0h0m3 0h0m3 0h0m2 0h0m10 0h0m14 0h0m6 0h0m2 0h0m1 0h0m1 0h0m1 0h0m3 0h0m2 0h0m-53 1h0m2 0h0m2 0h0m1 0h0m2 0h0m1 0h0m2 0h0m1 0h0m1 0h0m2 0h0m6 0h0m2 0h0m13 0h0m1 0h0m1 0h0m4 0h0m3 0h0m6 0h0m1 0h0m-51 1h0m1 0h0m2 0h0m6 0h0m1 0h0m1 0h0m1 0h0m25 0h0m1 0h0m2 0h0m2 0h0m2 0h0m1 0h0m1 0h0m1 0h0m3 0h0m3 0h0m1 0h0m-49 1h0m5 0h0m2 0h0m13 0h0m12 0h0m2 0h0m1 0h0m3 0h0m1 0h0m1 0h0m2 0h0m4 0h0m1 0h0m-50 1h0m3 0h0m1 0h0m25 0h0m7 0h0m1 0h0m8 0h0m2 0h0m-51 1h0m4 0h0m2 0h0m1 0h0m2 0h0m3 0h0m3 0h0m9 0h0m3 0h0m2 0h0m5 0h0m2 0h0m1 0h0m1 0h0m3 0h0m2 0h0m1 0h0m2 0h0m2 0h0m3 0h0m1 0h0m2 0h0m-52 1h0m4 0h0m1 0h0m4 0h0m5 0h0m7 0h0m4 0h0m6 0h0m1 0h0m1 0h0m2 0h0m3 0h0m1 0h0m1 0h0m2 0h0m2 0h0m1 0h0m3 0h0m3 0h0m5 0h0m-54 1h0m2 0h0m1 0h0m1 0h0m1 0h0m5 0h0m16 0h0m9 0h0m3 0h0m2 0h0m11 0h0m-50 1h0m2 0h0m5 0h0m11 0h0m7 0h0m11 0h0m1 0h0m7 0h0m3 0h0m1 0h0m1 0h0m-52 1h0m1 0h0m3 0h0m4 0h0m2 0h0m1 0h0m3 0h0m13 0h0m6 0h0m5 0h0m3 0h0m1 0h0m2 0h0m5 0h0m2 0h0m-47 1h0m5 0h0m4 0h0m4 0h0m2 0h0m8 0h0m2 0h0m5 0h0m1 0h0m3 0h0m1 0h0m2 0h0m1 0h0m3 0h0m3 0h0m3 0h0m3 0h0m-45 1h0m1 0h0m8 0h0m8 0h0m1 0h0m3 0h0m5 0h0m1 0h0m1 0h0m2 0h0m3 0h0m2 0h0m2 0h0m1 0h0m5 0h0m1 0h0m-43 1h0m2 0h0m3 0h0m7 0h0m3 0h0m1 0h0m4 0h0m1 0h0m4 0h0m6 0h0m4 0h0m1 0h0m9 0h0m-46 1h0m5 0h0m1 0h0m1 0h0m6 0h0m7 0h0m4 0h0m4 0h0m2 0h0m1 0h0m1 0h0m3 0h0m4 0h0m-43 1h0m5 0h0m1 0h0m1 0h0m1 0h0m2 0h0m2 0h0m1 0h0m3 0h0m2 0h0m4 0h0m2 0h0m1 0h0m3 0h0m2 0h0m9 0h0m1 0h0m-35 1h0m1 0h0m5 0h0m3 0h0m2 0h0m1 0h0m2 0h0m4 0h0m1 0h0m8 0h0m1 0h0m2 0h0m1 0h0m1 0h0m1 0h0m-30 1h0m1 0h0m1 0h0m2 0h0m3 0h0m1 0h0m2 0h0m1 0h0m2 0h0m1 0h0m2 0h0m2 0h0m1 0h0m3 0h0m1 0h0m1 0h0m2 0h0m1 0h0m1 0h0m1 0h0m3 0h0m3 0h0m1 0h0m-39 1h0m2 0h0m11 0h0m1 0h0m6 0h0m1 0h0m1 0h0m1 0h0m3 0h0m1 0h0m1 0h0m2 0h0m4 0h0m-33 1h0m1 0h0m2 0h0m2 0h0m2 0h0m1 0h0m1 0h0m5 0h0m7 0h0m4 0h0m1 0h0m2 0h0m1 0h0m2 0h0m-30 1h0m1 0h0m4 0h0m2 0h0m7 0h0m1 0h0m6 0h0m1 0h0m3 0h0m1 0h0m2 0h0m3 0h0m-26 1h0m6 0h0m4 0h0m2 0h0m5 0h0m4 0h0m8 0h0m-23 1h0m5 0h0m1 0h0m2 0h0m1 0h0m7 0h0m2 0h0m2 0h0m-14 1h0m1 0h0m2 0h0m6 0h0m2 0h0m9 0h0m-23 1h0m1 0h0m1 0h0m13 0h0m2 0h0m2 0h0m3 0h0m1 0h0m-22 1h0m1 0h0m1 0h0m11 0h0m2 0h0m-15 1h0m1 0h0m13 0h0m8 0h0m-13 1h0m2 0h0m-9 1h0" stroke="#28cc48"/><path d="M59 162h0m1 0h0m8 0h0m7 0h0m-8 1h0m1 0h0m2 0h0m-12 1h0m3 0h0m6 0h0m4 0h0m1 0h0m-17 1h0m1 0h0m2 0h0m1 0h0m6 0h0m4 0h0m5 0h0m2 0h0m-23 1h0m13 0h0m2 0h0m5 0h0m2 0h0m-23 1h0m4 0h0m1 0h0m5 0h0m1 0h0m12 0h0m1 0h0m-26 1h0m6 0h0m2 0h0m1 0h0m5 0h0m4 0h0m1 0h0m3 0h0m1 0h0m2 0h0m3 0h0m-28 1h0m2 0h0m1 0h0m1 0h0m3 0h0m1 0h0m4 0h0m1 0h0m1 0h0m1 0h0m1 0h0m6 0h0m2 0h0m7 0h0m4 0h0m-36 1h0m2 0h0m3 0h0m4 0h0m1 0h0m1 0h0m2 0h0m1 0h0m3 0h0m2 0h0m3 0h0m1 0h0m6 0h0m3 0h0m3 0h0m-36 1h0m1 0h0m2 0h0m1 0h0m2 0h0m1 0h0m2 0h0m1 0h0m11 0h0m6 0h0m4 0h0m-29 1h0m6 0h0m1 0h0m2 0h0m10 0h0m3 0h0m2 0h0m1 0h0m1 0h0m1 0h0m1 0h0m1 0h0m3 0h0m4 0h0m-36 1h0m3 0h0m1 0h0m2 0h0m1 0h0m1 0h0m3 0h0m4 0h0m2 0h0m1 0h0m2 0h0m3 0h0m3 0h0m2 0h0m1 0h0m4 0h0m-34 1h0m2 0h0m1 0h0m2 0h0m3 0h0m1 0h0m1 0h0m1 0h0m4 0h0m1 0h0m10 0h0m2 0h0m1 0h0m1 0h0m1 0h0m1 0h0m4 0h0m-39 1h0m2 0h0m3 0h0m2 0h0m1 0h0m1 0h0m3 0h0m1 0h0m8 0h0m6 0h0m7 0h0m1 0h0m1 0h0m-38 1h0m2 0h0m5 0h0m3 0h0m7 0h0m1 0h0m4 0h0m10 0h0m1 0h0m3 0h0m1 0h0m1 0h0m1 0h0m1 0h0m-25 1h0m6 0h0m1 0h0m2 0h0m1 0h0m1 0h0m4 0h0m1 0h0m6 0h0m1 0h0m2 0h0m1 0h0m2 0h0m-41 1h0m1 0h0m2 0h0m6 0h0m6 0h0m7 0h0m4 0h0m3 0h0m1 0h0m2 0h0m5 0h0m-35 1h0m1 0h0m1 0h0m8 0h0m3 0h0m7 0h0m12 0h0m3 0h0m1 0h0m4 0h0m4 0h0m-42 1h0m1 0h0m1 0h0m1 0h0m1 0h0m1 0h0m4 0h0m3 0h0m1 0h0m2 0h0m2 0h0m3 0h0m6 0h0m2 0h0m1 0h0m3 0h0m1 0h0m4 0h0m7 0h0m-40 1h0m6 0h0m1 0h0m1 0h0m3 0h0m1 0h0m4 0h0m2 0h0m8 0h0m5 0h0m-36 1h0m10 0h0m2 0h0m3 0h0m1 0h0m5 0h0m6 0h0m7 0h0m2 0h0m-35 1h0m1 0h0m6 0h0m1 0h0m8 0h0m1 0h0m4 0h0m1 0h0m1 0h0m1 0h0m3 0h0m1 0h0m2 0h0m1 0h0m5 0h0m-38 1h0m3 0h0m3 0h0m1 0h0m6 0h0m7 0h0m5 0h0m5 0h0m2 0h0m4 0h0m2 0h0m-32 1h0m3 0h0m1 0h0m6 0h0m6 0h0m1 0h0m3 0h0m5 0h0m6 0h0m7 0h0m-40 1h0m2 0h0m2 0h0m1 0h0m3 0h0m14 0h0m1 0h0m4 0h0m6 0h0m-32 1h0m3 0h0m1 0h0m4 0h0m1 0h0m2 0h0m1 0h0m1 0h0m4 0h0m5 0h0m1 0h0m4 0h0m2 0h0m-31 1h0m2 0h0m2 0h0m5 0h0m2 0h0m3 0h0m1 0h0m3 0h0m1 0h0m1 0h0m5 0h0m3 0h0m2 0h0m-29 1h0m2 0h0m6 0h0m1 0h0m6 0h0m2 0h0m8 0h0m1 0h0m2 0h0m-24 1h0m2 0h0m4 0h0m5 0h0m3 0h0m3 0h0m1 0h0m2 0h0m2 0h0m1 0h0m1 0h0m2 0h0m-22 1h0m2 0h0m3 0h0m2 0h0m2 0h0m4 0h0m2 0h0m3 0h0m3 0h0m-11 1h0m6 0h0m4 0h0m1 1h0m3 0h0m-29 1h0m22 0h0m3 0h0m-8 1h0m9 0h0m-9 1h0m11 0h0m-13 2h0" stroke="#90e020"/><path d="M59 164h0m14 0h0m-17 2h0m2 0h0m1 0h0m17 0h0m-23 1h0m1 0h0m11 0h0m1 0h0m3 0h0m-14 1h0m2 0h0m9 0h0m8 0h0m-19 1h0m12 0h0m1 0h0m7 0h0m-22 1h0m4 0h0m12 0h0m1 0h0m5 0h0m-25 1h0m6 0h0m3 0h0m3 0h0m1 0h0m1 0h0m4 0h0m5 0h0m4 0h0m1 0h0m-26 1h0m3 0h0m6 0h0m4 0h0m2 0h0m1 0h0m2 0h0m3 0h0m8 0h0m-30 1h0m8 0h0m3 0h0m4 0h0m6 0h0m2 0h0m1 0h0m2 0h0m-27 1h0m16 0h0m5 0h0m-14 1h0m6 0h0m2 0h0m3 0h0m1 0h0m6 0h0m2 0h0m-28 1h0m3 0h0m7 0h0m1 0h0m3 0h0m5 0h0m5 0h0m5 0h0m-27 1h0m7 0h0m3 0h0m2 0h0m4 0h0m13 0h0m-32 1h0m2 0h0m6 0h0m1 0h0m2 0h0m4 0h0m1 0h0m2 0h0m1 0h0m6 0h0m-18 1h0m2 0h0m2 0h0m5 0h0m1 0h0m6 0h0m3 0h0m1 0h0m-26 1h0m8 0h0m4 0h0m3 0h0m2 0h0m2 0h0m1 0h0m3 0h0m2 0h0m-17 1h0m1 0h0m1 0h0m4 0h0m19 0h0m-30 1h0m1 0h0m4 0h0m5 0h0m4 0h0m3 0h0m3 0h0m6 0h0m-25 1h0m2 0h0m1 0h0m4 0h0m3 0h0m1 0h0m5 0h0m7 0h0m-10 1h0m1 0h0m4 0h0m1 0h0m3 0h0m1 0h0m1 0h0m-17 1h0m1 0h0m1 0h0m3 0h0m3 0h0m9 0h0m1 0h0m-16 1h0m1 0h0m1 0h0m2 0h0m1 0h0m3 0h0m3 0h0m9 0h0m-15 1h0m-4 1h0m17 0h0m-18 1h0m1 0h0m3 0h0m2 0h0m4 0h0m1 0h0m3 0h0m-10 1h0m6 1h0m2 0h0m2 0h0" stroke="#ecd818"/><path d="M67 166h0m-5 2h0m8 0h0m6 0h0m0 1h0m1 0h0m-22 1h0m9 0h0m3 0h0m6 0h0m1 0h0m-14 1h0m11 0h0m3 0h0m-12 1h0m1 0h0m-3 1h0m-5 1h0m18 0h0m3 0h0m-16 1h0m18 0h0m-22 1h0m1 0h0m7 0h0m5 0h0m6 0h0m-20 1h0m5 0h0m16 0h0m-18 1h0m2 0h0m2 0h0m8 0h0m1 0h0m3 0h0m3 0h0m8 0h0m-34 1h0m2 0h0m16 0h0m1 0h0m2 0h0m1 0h0m3 0h0m-18 1h0m17 0h0m-19 1h0m12 0h0m3 0h0m2 0h0m2 0h0m4 0h0m-24 1h0m3 0h0m10 0h0m11 0h0m-27 1h0m23 0h0m-18 1h0m2 0h0m6 0h0m14 0h0m-20 1h0m4 0h0m3 0h0m1 0h0m9 0h0m5 0h0m1 0h0m-24 1h0m0 1h0m13 0h0m2 0h0m-12 1h0m17 0h0m-13 1h0m5 0h0" stroke="#f88a10"/><path d="M61 171h0m-7 1h0m6 0h0m4 0h0m0 1h0m5 0h0m16 0h0m-24 1h0m1 0h0m1 0h0m4 0h0m2 0h0m5 0h0m-8 1h0m5 0h0m1 0h0m2 0h0m2 0h0m-28 1h0m10 0h0m9 0h0m3 0h0m1 0h0m1 0h0m2 0h0m-17 1h0m14 0h0m1 0h0m1 0h0m-8 1h0m4 0h0m-13 1h0m4 0h0m2 0h0m1 0h0m3 0h0m11 0h0m1 0h0m-22 1h0m4 0h0m11 0h0m6 0h0m-17 2h0m11 0h0m-12 1h0m2 0h0m1 0h0m3 0h0m3 0h0m-15 1h0m5 0h0m2 0h0m2 0h0m2 0h0m5 0h0m5 0h0m-2 1h0m1 0h0m-8 1h0m7 0h0m-9 1h0" stroke="#e83410"/></g>
<rect x="484.5" y="692" width="490.0" height="490.0" fill="none" stroke="#2a2a2a" stroke-width="2.6"/>
<path d="M701.0 692V1182.0M484.5 977H974.5" stroke="#2a2a2a" stroke-width="2.4" fill="none"/>
<path d="M484.5 1182.0v14.5M484.5 1182.0h-15M521.4 1182.0v7M484.5 1145.1h-7M542.9 1182.0v7M484.5 1123.6h-7M558.3 1182.0v7M484.5 1108.2h-7M570.1 1182.0v7M484.5 1096.4h-7M579.8 1182.0v7M484.5 1086.7h-7M588.0 1182.0v7M484.5 1078.5h-7M595.1 1182.0v7M484.5 1071.4h-7M601.4 1182.0v7M484.5 1065.1h-7M607.0 1182.0v14.5M484.5 1059.5h-15M643.9 1182.0v7M484.5 1022.6h-7M665.4 1182.0v7M484.5 1001.1h-7M680.8 1182.0v7M484.5 985.7h-7M692.6 1182.0v7M484.5 973.9h-7M702.3 1182.0v7M484.5 964.2h-7M710.5 1182.0v7M484.5 956.0h-7M717.6 1182.0v7M484.5 948.9h-7M723.9 1182.0v7M484.5 942.6h-7M729.5 1182.0v14.5M484.5 937.0h-15M766.4 1182.0v7M484.5 900.1h-7M787.9 1182.0v7M484.5 878.6h-7M803.3 1182.0v7M484.5 863.2h-7M815.1 1182.0v7M484.5 851.4h-7M824.8 1182.0v7M484.5 841.7h-7M833.0 1182.0v7M484.5 833.5h-7M840.1 1182.0v7M484.5 826.4h-7M846.4 1182.0v7M484.5 820.1h-7M852.0 1182.0v14.5M484.5 814.5h-15M888.9 1182.0v7M484.5 777.6h-7M910.4 1182.0v7M484.5 756.1h-7M925.8 1182.0v7M484.5 740.7h-7M937.6 1182.0v7M484.5 728.9h-7M947.3 1182.0v7M484.5 719.2h-7M955.5 1182.0v7M484.5 711.0h-7M962.6 1182.0v7M484.5 703.9h-7M968.9 1182.0v7M484.5 697.6h-7M974.5 1182.0v14.5M484.5 692.0h-15" stroke="#2a2a2a" stroke-width="2.4" fill="none"/>
<text x="490.5" y="1232.0" font-size="24" font-weight="normal" fill="#333" text-anchor="start" stroke="#333" stroke-width="0.45">10</text>
<text x="517.5" y="1214.5" font-size="24" font-weight="normal" fill="#333" text-anchor="start" stroke="#333" stroke-width="0.45">0</text>
<text x="594.5" y="1232.0" font-size="24" font-weight="normal" fill="#333" text-anchor="start" stroke="#333" stroke-width="0.45">10</text>
<text x="621.5" y="1214.5" font-size="24" font-weight="normal" fill="#333" text-anchor="start" stroke="#333" stroke-width="0.45">1</text>
<text x="711.5" y="1232.0" font-size="24" font-weight="normal" fill="#333" text-anchor="start" stroke="#333" stroke-width="0.45">10</text>
<text x="738.5" y="1214.5" font-size="24" font-weight="normal" fill="#333" text-anchor="start" stroke="#333" stroke-width="0.45">2</text>
<text x="825.5" y="1232.0" font-size="24" font-weight="normal" fill="#333" text-anchor="start" stroke="#333" stroke-width="0.45">10</text>
<text x="852.5" y="1214.5" font-size="24" font-weight="normal" fill="#333" text-anchor="start" stroke="#333" stroke-width="0.45">3</text>
<text x="942.5" y="1232.0" font-size="24" font-weight="normal" fill="#333" text-anchor="start" stroke="#333" stroke-width="0.45">10</text>
<text x="969.5" y="1214.5" font-size="24" font-weight="normal" fill="#333" text-anchor="start" stroke="#333" stroke-width="0.45">4</text>
<text x="422.0" y="1181.0" font-size="24" font-weight="normal" fill="#333" text-anchor="start" stroke="#333" stroke-width="0.45">10</text>
<text x="449.5" y="1163.5" font-size="24" font-weight="normal" fill="#333" text-anchor="start" stroke="#333" stroke-width="0.45">0</text>
<text x="422.0" y="1068.5" font-size="24" font-weight="normal" fill="#333" text-anchor="start" stroke="#333" stroke-width="0.45">10</text>
<text x="449.5" y="1051.0" font-size="24" font-weight="normal" fill="#333" text-anchor="start" stroke="#333" stroke-width="0.45">1</text>
<text x="422.0" y="946.0" font-size="24" font-weight="normal" fill="#333" text-anchor="start" stroke="#333" stroke-width="0.45">10</text>
<text x="449.5" y="928.5" font-size="24" font-weight="normal" fill="#333" text-anchor="start" stroke="#333" stroke-width="0.45">2</text>
<text x="422.0" y="823.5" font-size="24" font-weight="normal" fill="#333" text-anchor="start" stroke="#333" stroke-width="0.45">10</text>
<text x="449.5" y="806.0" font-size="24" font-weight="normal" fill="#333" text-anchor="start" stroke="#333" stroke-width="0.45">3</text>
<text x="422.0" y="735" font-size="24" font-weight="normal" fill="#333" text-anchor="start" stroke="#333" stroke-width="0.45">10</text>
<text x="449.5" y="717.5" font-size="24" font-weight="normal" fill="#333" text-anchor="start" stroke="#333" stroke-width="0.45">4</text>
<text x="494.0" y="719" font-size="22" font-weight="normal" fill="#333" text-anchor="start" stroke="#333" stroke-width="0.3">Q1</text>
<text x="494.0" y="753.5" font-size="22" font-weight="normal" fill="#333" text-anchor="start" textLength="78.3" lengthAdjust="spacingAndGlyphs" stroke="#333" stroke-width="0.3">0.933%</text>
<text x="898.0" y="719" font-size="22" font-weight="normal" fill="#333" text-anchor="start" stroke="#333" stroke-width="0.3">Q2</text>
<text x="898.0" y="753.5" font-size="22" font-weight="normal" fill="#333" text-anchor="start" textLength="65.5" lengthAdjust="spacingAndGlyphs" stroke="#333" stroke-width="0.3">12.4%</text>
<text x="494.0" y="1139.0" font-size="22" font-weight="normal" fill="#333" text-anchor="start" stroke="#333" stroke-width="0.3">Q4</text>
<text x="494.0" y="1174.5" font-size="22" font-weight="normal" fill="#333" text-anchor="start" textLength="65.5" lengthAdjust="spacingAndGlyphs" stroke="#333" stroke-width="0.3">80.4%</text>
<text x="898.0" y="1139.0" font-size="22" font-weight="normal" fill="#333" text-anchor="start" stroke="#333" stroke-width="0.3">Q3</text>
<text x="898.0" y="1174.5" font-size="22" font-weight="normal" fill="#333" text-anchor="start" textLength="65.5" lengthAdjust="spacingAndGlyphs" stroke="#333" stroke-width="0.3">6.30%</text>
<text x="1320.5" y="674" font-size="46" font-weight="bold" fill="#000" text-anchor="middle" textLength="499" lengthAdjust="spacingAndGlyphs" >Inhibitor+ox-LDL+SAL</text>
<g transform="translate(1086.46,692.96) scale(1.9141)" stroke-width="1.12" stroke-linecap="square" fill="none" filter="url(#db)"><path d="M157 23h0m15 1h0m0 2h0m-22 1h0m23 1h0m-29 1h0m37 0h0m17 0h0m4 0h0m-33 1h0m15 0h0m-58 1h0m2 0h0m2 0h0m5 0h0m12 0h0m22 0h0m19 0h0m9 0h0m-117 1h0m28 0h0m25 0h0m21 0h0m2 0h0m17 0h0m11 0h0m-72 1h0m6 0h0m2 0h0m8 0h0m17 0h0m51 0h0m-91 1h0m28 0h0m7 0h0m21 0h0m11 0h0m9 0h0m1 0h0m8 0h0m3 0h0m-75 1h0m6 0h0m7 0h0m3 0h0m24 0h0m9 0h0m14 0h0m8 0h0m7 0h0m-96 1h0m30 0h0m12 0h0m1 0h0m3 0h0m18 0h0m12 0h0m3 0h0m12 0h0m1 0h0m4 0h0m-71 1h0m1 0h0m3 0h0m16 0h0m9 0h0m19 0h0m2 0h0m10 0h0m1 0h0m1 0h0m1 0h0m9 0h0m-88 1h0m19 0h0m1 0h0m1 0h0m1 0h0m4 0h0m14 0h0m3 0h0m4 0h0m1 0h0m18 0h0m1 0h0m10 0h0m6 0h0m6 0h0m3 0h0m2 0h0m-134 1h0m48 0h0m1 0h0m20 0h0m3 0h0m6 0h0m3 0h0m20 0h0m8 0h0m4 0h0m1 0h0m4 0h0m4 0h0m9 0h0m13 0h0m-117 1h0m14 0h0m5 0h0m2 0h0m6 0h0m20 0h0m4 0h0m1 0h0m6 0h0m1 0h0m2 0h0m2 0h0m13 0h0m5 0h0m4 0h0m2 0h0m1 0h0m2 0h0m4 0h0m4 0h0m16 0h0m-102 1h0m9 0h0m7 0h0m2 0h0m6 0h0m10 0h0m3 0h0m1 0h0m4 0h0m6 0h0m7 0h0m3 0h0m5 0h0m6 0h0m2 0h0m4 0h0m1 0h0m4 0h0m2 0h0m6 0h0m4 0h0m1 0h0m3 0h0m1 0h0m5 0h0m7 0h0m-111 1h0m16 0h0m15 0h0m7 0h0m1 0h0m7 0h0m2 0h0m5 0h0m1 0h0m5 0h0m2 0h0m5 0h0m1 0h0m2 0h0m6 0h0m5 0h0m3 0h0m2 0h0m4 0h0m1 0h0m-82 1h0m3 0h0m4 0h0m5 0h0m2 0h0m5 0h0m4 0h0m5 0h0m5 0h0m5 0h0m1 0h0m4 0h0m3 0h0m2 0h0m7 0h0m1 0h0m3 0h0m1 0h0m1 0h0m6 0h0m1 0h0m2 0h0m5 0h0m3 0h0m8 0h0m1 0h0m1 0h0m1 0h0m10 0h0m-100 1h0m10 0h0m15 0h0m7 0h0m10 0h0m4 0h0m4 0h0m2 0h0m5 0h0m4 0h0m2 0h0m3 0h0m1 0h0m3 0h0m2 0h0m1 0h0m5 0h0m2 0h0m1 0h0m1 0h0m2 0h0m-100 1h0m26 0h0m8 0h0m10 0h0m11 0h0m5 0h0m5 0h0m1 0h0m2 0h0m3 0h0m2 0h0m8 0h0m1 0h0m2 0h0m8 0h0m4 0h0m3 0h0m11 0h0m8 0h0m1 0h0m-117 1h0m2 0h0m5 0h0m18 0h0m7 0h0m2 0h0m1 0h0m2 0h0m1 0h0m8 0h0m17 0h0m1 0h0m9 0h0m8 0h0m8 0h0m1 0h0m1 0h0m1 0h0m2 0h0m13 0h0m-92 1h0m24 0h0m3 0h0m2 0h0m1 0h0m1 0h0m1 0h0m4 0h0m8 0h0m1 0h0m6 0h0m3 0h0m6 0h0m7 0h0m4 0h0m2 0h0m1 0h0m2 0h0m1 0h0m5 0h0m4 0h0m4 0h0m6 0h0m8 0h0m-107 1h0m5 0h0m5 0h0m20 0h0m1 0h0m8 0h0m22 0h0m6 0h0m2 0h0m1 0h0m1 0h0m1 0h0m2 0h0m1 0h0m2 0h0m2 0h0m1 0h0m3 0h0m2 0h0m4 0h0m3 0h0m-79 1h0m1 0h0m9 0h0m12 0h0m12 0h0m7 0h0m3 0h0m1 0h0m3 0h0m6 0h0m2 0h0m2 0h0m4 0h0m1 0h0m3 0h0m1 0h0m2 0h0m6 0h0m4 0h0m5 0h0m-72 1h0m4 0h0m12 0h0m1 0h0m1 0h0m3 0h0m8 0h0m3 0h0m6 0h0m4 0h0m2 0h0m1 0h0m3 0h0m3 0h0m1 0h0m1 0h0m1 0h0m1 0h0m1 0h0m1 0h0m2 0h0m1 0h0m5 0h0m11 0h0m-103 1h0m15 0h0m1 0h0m11 0h0m1 0h0m3 0h0m1 0h0m5 0h0m3 0h0m1 0h0m12 0h0m5 0h0m1 0h0m1 0h0m10 0h0m1 0h0m3 0h0m1 0h0m3 0h0m4 0h0m2 0h0m-62 1h0m8 0h0m7 0h0m3 0h0m1 0h0m8 0h0m3 0h0m4 0h0m4 0h0m10 0h0m1 0h0m2 0h0m1 0h0m1 0h0m1 0h0m1 0h0m1 0h0m2 0h0m5 0h0m3 0h0m1 0h0m2 0h0m1 0h0m1 0h0m-93 1h0m17 0h0m7 0h0m7 0h0m5 0h0m20 0h0m2 0h0m8 0h0m1 0h0m2 0h0m6 0h0m1 0h0m2 0h0m1 0h0m3 0h0m1 0h0m2 0h0m1 0h0m1 0h0m-72 1h0m26 0h0m4 0h0m6 0h0m1 0h0m3 0h0m2 0h0m3 0h0m2 0h0m6 0h0m1 0h0m2 0h0m1 0h0m4 0h0m1 0h0m1 0h0m1 0h0m2 0h0m4 0h0m1 0h0m15 0h0m-104 1h0m7 0h0m2 0h0m18 0h0m8 0h0m8 0h0m1 0h0m2 0h0m1 0h0m3 0h0m4 0h0m5 0h0m8 0h0m2 0h0m3 0h0m3 0h0m1 0h0m1 0h0m6 0h0m1 0h0m2 0h0m1 0h0m1 0h0m1 0h0m1 0h0m4 0h0m3 0h0m4 0h0m1 0h0m3 0h0m-79 1h0m11 0h0m3 0h0m16 0h0m7 0h0m2 0h0m2 0h0m1 0h0m1 0h0m2 0h0m1 0h0m1 0h0m1 0h0m2 0h0m1 0h0m1 0h0m3 0h0m1 0h0m4 0h0m1 0h0m1 0h0m1 0h0m1 0h0m3 0h0m2 0h0m1 0h0m-108 1h0m25 0h0m25 0h0m9 0h0m13 0h0m6 0h0m1 0h0m2 0h0m4 0h0m3 0h0m1 0h0m5 0h0m6 0h0m2 0h0m4 0h0m6 0h0m1 0h0m3 0h0m-89 1h0m19 0h0m12 0h0m1 0h0m9 0h0m2 0h0m3 0h0m2 0h0m1 0h0m1 0h0m2 0h0m4 0h0m2 0h0m3 0h0m1 0h0m1 0h0m2 0h0m1 0h0m2 0h0m5 0h0m2 0h0m4 0h0m-90 1h0m15 0h0m16 0h0m5 0h0m19 0h0m6 0h0m4 0h0m1 0h0m2 0h0m1 0h0m3 0h0m1 0h0m1 0h0m2 0h0m2 0h0m2 0h0m1 0h0m1 0h0m2 0h0m1 0h0m1 0h0m1 0h0m4 0h0m2 0h0m-39 1h0m2 0h0m7 0h0m4 0h0m2 0h0m3 0h0m4 0h0m4 0h0m2 0h0m22 0h0m-78 1h0m28 0h0m3 0h0m3 0h0m3 0h0m9 0h0m1 0h0m2 0h0m1 0h0m4 0h0m1 0h0m1 0h0m1 0h0m2 0h0m1 0h0m1 0h0m1 0h0m1 0h0m2 0h0m4 0h0m8 0h0m9 0h0m-61 1h0m9 0h0m2 0h0m3 0h0m1 0h0m4 0h0m1 0h0m1 0h0m3 0h0m2 0h0m2 0h0m3 0h0m2 0h0m1 0h0m2 0h0m3 0h0m18 0h0m-70 1h0m11 0h0m8 0h0m3 0h0m1 0h0m2 0h0m1 0h0m3 0h0m1 0h0m2 0h0m3 0h0m1 0h0m2 0h0m2 0h0m1 0h0m1 0h0m3 0h0m1 0h0m1 0h0m2 0h0m2 0h0m5 0h0m-109 1h0m29 0h0m34 0h0m11 0h0m2 0h0m4 0h0m2 0h0m7 0h0m2 0h0m2 0h0m3 0h0m1 0h0m1 0h0m6 0h0m8 0h0m-100 1h0m7 0h0m10 0h0m16 0h0m14 0h0m14 0h0m7 0h0m1 0h0m4 0h0m1 0h0m4 0h0m4 0h0m1 0h0m2 0h0m2 0h0m5 0h0m6 0h0m-85 1h0m46 0h0m2 0h0m4 0h0m3 0h0m2 0h0m2 0h0m3 0h0m4 0h0m2 0h0m3 0h0m3 0h0m2 0h0m1 0h0m7 0h0m-66 1h0m11 0h0m18 0h0m26 0h0m6 0h0m11 0h0m-83 1h0m1 0h0m29 0h0m8 0h0m18 0h0m1 0h0m3 0h0m6 0h0m4 0h0m-74 1h0m8 0h0m37 0h0m13 0h0m3 0h0m4 0h0m1 0h0m3 0h0m5 0h0m1 0h0m6 0h0m1 0h0m-88 1h0m33 0h0m27 0h0m1 0h0m4 0h0m2 0h0m1 0h0m2 0h0m1 0h0m5 0h0m4 0h0m1 0h0m22 0h0m-57 1h0m8 0h0m7 0h0m3 0h0m2 0h0m1 0h0m1 0h0m1 0h0m1 0h0m1 0h0m2 0h0m1 0h0m5 0h0m1 0h0m1 0h0m3 0h0m1 0h0m20 0h0m-55 1h0m5 0h0m9 0h0m3 0h0m3 0h0m3 0h0m9 0h0m6 0h0m8 0h0m-38 1h0m4 0h0m4 0h0m1 0h0m1 0h0m7 0h0m2 0h0m2 0h0m2 0h0m1 0h0m11 0h0m-48 1h0m7 0h0m3 0h0m2 0h0m6 0h0m7 0h0m6 0h0m1 0h0m2 0h0m10 0h0m12 0h0m-83 1h0m34 0h0m1 0h0m18 0h0m21 0h0m-29 1h0m2 0h0m6 0h0m1 0h0m9 0h0m10 0h0m-28 1h0m6 0h0m1 0h0m4 0h0m4 0h0m8 0h0m-117 1h0m13 0h0m29 0h0m67 0h0m13 0h0m-54 1h0m12 0h0m11 0h0m1 0h0m7 0h0m3 0h0m2 0h0m11 0h0m2 0h0m8 0h0m-35 1h0m20 0h0m4 0h0m-82 1h0m15 0h0m48 0h0m5 0h0m1 0h0m6 0h0m9 0h0m2 0h0m2 0h0m23 0h0m-115 1h0m45 0h0m1 0h0m12 0h0m14 0h0m2 0h0m11 0h0m18 0h0m1 0h0m-33 1h0m1 0h0m7 0h0m1 0h0m19 0h0m7 0h0m-101 1h0m62 0h0m8 0h0m4 0h0m-10 1h0m11 0h0m3 0h0m13 0h0m-9 1h0m8 0h0m-33 1h0m15 1h0m5 0h0m3 0h0m1 0h0m17 0h0m-43 1h0m7 0h0m1 0h0m5 0h0m9 0h0m-14 1h0m3 0h0m1 0h0m2 0h0m1 0h0m9 0h0m6 0h0m-110 1h0m77 0h0m6 1h0m5 0h0m3 0h0m8 0h0m1 0h0m4 0h0m-26 1h0m1 0h0m5 0h0m9 0h0m-96 1h0m50 0h0m27 0h0m8 0h0m24 0h0m-83 1h0m43 0h0m15 0h0m10 0h0m28 0h0m-34 1h0m13 0h0m2 0h0m2 0h0m3 0h0m5 0h0m-83 1h0m58 0h0m21 0h0m1 0h0m9 0h0m-113 1h0m24 0h0m51 0h0m17 0h0m22 0h0m-33 1h0m4 0h0m2 0h0m21 0h0m3 0h0m-22 1h0m2 0h0m8 0h0m6 0h0m9 0h0m-47 1h0m18 0h0m7 0h0m28 0h0m-26 1h0m10 0h0m6 0h0m1 0h0m4 0h0m-39 1h0m8 0h0m15 0h0m1 0h0m-108 1h0m78 0h0m17 0h0m5 0h0m2 0h0m-16 1h0m32 0h0m-33 1h0m12 0h0m3 0h0m7 0h0m6 0h0m16 0h0m-100 1h0m73 0h0m8 0h0m3 0h0m12 0h0m-68 1h0m4 0h0m-79 1h0m22 0h0m102 0h0m1 0h0m2 0h0m3 0h0m-106 1h0m25 0h0m64 0h0m40 0h0m-36 1h0m7 0h0m14 0h0m-64 1h0m25 0h0m19 0h0m24 0h0m-20 1h0m28 0h0m-42 1h0m1 0h0m13 0h0m5 0h0m7 0h0m-27 1h0m3 0h0m19 0h0m-111 1h0m111 0h0m-110 1h0m28 1h0m80 0h0m11 0h0m-27 1h0m5 0h0m-125 1h0m82 0h0m37 0h0m24 0h0m-110 1h0m69 0h0m4 0h0m5 0h0m36 1h0m2 0h0m-134 1h0m103 0h0m14 0h0m7 0h0m18 0h0m-139 1h0m85 0h0m12 0h0m5 0h0m12 0h0m-121 1h0m8 0h0m107 0h0m12 0h0m-27 1h0m2 1h0m8 0h0m9 0h0m9 0h0m8 0h0m-140 1h0m123 0h0m1 0h0m18 0h0m-19 1h0m3 0h0m-112 1h0m4 0h0m16 0h0m-31 1h0m118 0h0m7 0h0m4 0h0m2 0h0m-126 1h0m98 0h0m5 0h0m9 0h0m11 0h0m8 1h0m-149 1h0m9 0h0m115 0h0m-119 1h0m28 0h0m83 0h0m4 0h0m32 0h0m-180 1h0m17 0h0m9 0h0m14 0h0m11 0h0m40 0h0m27 0h0m13 0h0m16 0h0m6 0h0m8 0h0m11 0h0m17 0h0m-164 1h0m2 0h0m1 0h0m46 0h0m73 0h0m25 0h0m-162 1h0m11 0h0m8 0h0m1 0h0m2 0h0m24 0h0m95 0h0m14 0h0m17 0h0m-171 1h0m3 0h0m5 0h0m5 0h0m1 0h0m3 0h0m3 0h0m18 0h0m77 0h0m26 0h0m34 0h0m-180 1h0m8 0h0m62 0h0m77 0h0m5 0h0m-156 1h0m2 0h0m18 0h0m25 0h0m3 0h0m4 0h0m21 0h0m75 0h0m14 0h0m-167 1h0m32 0h0m8 0h0m3 0h0m3 0h0m2 0h0m29 0h0m55 0h0m33 0h0m21 0h0m-186 1h0m16 0h0m1 0h0m2 0h0m1 0h0m3 0h0m3 0h0m7 0h0m27 0h0m2 0h0m16 0h0m92 0h0m-160 1h0m13 0h0m5 0h0m22 0h0m1 0h0m7 0h0m4 0h0m4 0h0m75 0h0m34 0h0m-175 1h0m12 0h0m10 0h0m2 0h0m5 0h0m4 0h0m1 0h0m7 0h0m3 0h0m2 0h0m10 0h0m5 0h0m81 0h0m12 0h0m3 0h0m20 0h0m2 0h0m-156 1h0m21 0h0m10 0h0m8 0h0m1 0h0m2 0h0m6 0h0m24 0h0m74 0h0m3 0h0m18 0h0m-185 1h0m10 0h0m5 0h0m4 0h0m4 0h0m1 0h0m3 0h0m1 0h0m3 0h0m13 0h0m4 0h0m8 0h0m-65 1h0m20 0h0m1 0h0m2 0h0m6 0h0m13 0h0m3 0h0m4 0h0m3 0h0m10 0h0m2 0h0m1 0h0m1 0h0m8 0h0m4 0h0m16 0h0m64 0h0m-141 1h0m7 0h0m1 0h0m1 0h0m1 0h0m2 0h0m2 0h0m4 0h0m3 0h0m1 0h0m1 0h0m2 0h0m2 0h0m2 0h0m3 0h0m1 0h0m5 0h0m1 0h0m2 0h0m1 0h0m20 0h0m2 0h0m-73 1h0m8 0h0m1 0h0m10 0h0m2 0h0m3 0h0m2 0h0m4 0h0m2 0h0m1 0h0m1 0h0m2 0h0m2 0h0m4 0h0m5 0h0m9 0h0m3 0h0m2 0h0m2 0h0m4 0h0m1 0h0m5 0h0m-88 1h0m14 0h0m5 0h0m15 0h0m3 0h0m1 0h0m1 0h0m2 0h0m2 0h0m2 0h0m1 0h0m3 0h0m4 0h0m3 0h0m1 0h0m1 0h0m1 0h0m3 0h0m3 0h0m2 0h0m1 0h0m1 0h0m2 0h0m1 0h0m2 0h0m12 0h0m3 0h0m70 0h0m10 0h0m11 0h0m1 0h0m3 0h0m-175 1h0m16 0h0m5 0h0m2 0h0m1 0h0m1 0h0m5 0h0m2 0h0m1 0h0m1 0h0m1 0h0m2 0h0m6 0h0m1 0h0m1 0h0m1 0h0m3 0h0m1 0h0m2 0h0m1 0h0m3 0h0m6 0h0m1 0h0m2 0h0m5 0h0m16 0h0m86 0h0m-181 1h0m17 0h0m4 0h0m1 0h0m1 0h0m1 0h0m3 0h0m2 0h0m3 0h0m2 0h0m1 0h0m1 0h0m1 0h0m1 0h0m3 0h0m3 0h0m1 0h0m6 0h0m2 0h0m1 0h0m2 0h0m2 0h0m3 0h0m2 0h0m5 0h0m1 0h0m2 0h0m2 0h0m9 0h0m4 0h0m14 0h0m5 0h0m6 0h0m-104 1h0m3 0h0m3 0h0m5 0h0m3 0h0m1 0h0m6 0h0m1 0h0m2 0h0m3 0h0m1 0h0m1 0h0m2 0h0m1 0h0m1 0h0m1 0h0m1 0h0m2 0h0m1 0h0m2 0h0m1 0h0m3 0h0m2 0h0m1 0h0m1 0h0m1 0h0m2 0h0m2 0h0m2 0h0m1 0h0m5 0h0m1 0h0m4 0h0m2 0h0m3 0h0m2 0h0m2 0h0m42 0h0m40 0h0m-147 1h0m7 0h0m9 0h0m1 0h0m4 0h0m1 0h0m7 0h0m2 0h0m1 0h0m2 0h0m3 0h0m2 0h0m6 0h0m7 0h0m1 0h0m1 0h0m1 0h0m5 0h0m5 0h0m9 0h0m72 0h0m6 0h0m11 0h0m-171 1h0m10 0h0m4 0h0m1 0h0m2 0h0m1 0h0m1 0h0m4 0h0m1 0h0m5 0h0m1 0h0m2 0h0m2 0h0m1 0h0m10 0h0m2 0h0m5 0h0m2 0h0m2 0h0m6 0h0m2 0h0m6 0h0m1 0h0m2 0h0m70 0h0m9 0h0m18 0h0m-163 1h0m3 0h0m8 0h0m4 0h0m3 0h0m1 0h0m2 0h0m1 0h0m3 0h0m7 0h0m6 0h0m9 0h0m1 0h0m2 0h0m2 0h0m1 0h0m2 0h0m1 0h0m1 0h0m2 0h0m3 0h0m2 0h0m4 0h0m4 0h0m1 0h0m3 0h0m22 0h0m46 0h0m2 0h0m-146 1h0m1 0h0m6 0h0m2 0h0m1 0h0m4 0h0m1 0h0m1 0h0m30 0h0m1 0h0m1 0h0m3 0h0m4 0h0m1 0h0m1 0h0m3 0h0m1 0h0m1 0h0m1 0h0m11 0h0m1 0h0m2 0h0m69 0h0m2 0h0m14 0h0m-178 1h0m12 0h0m1 0h0m5 0h0m2 0h0m2 0h0m1 0h0m4 0h0m1 0h0m1 0h0m5 0h0m29 0h0m5 0h0m1 0h0m4 0h0m2 0h0m1 0h0m4 0h0m7 0h0m3 0h0m2 0h0m3 0h0m6 0h0m57 0h0m4 0h0m7 0h0m-162 1h0m9 0h0m2 0h0m1 0h0m1 0h0m2 0h0m1 0h0m4 0h0m2 0h0m1 0h0m2 0h0m32 0h0m4 0h0m1 0h0m4 0h0m1 0h0m2 0h0m8 0h0m1 0h0m78 0h0m26 0h0m-181 1h0m7 0h0m4 0h0m3 0h0m3 0h0m1 0h0m1 0h0m5 0h0m35 0h0m6 0h0m5 0h0m2 0h0m87 0h0m7 0h0m-178 1h0m8 0h0m7 0h0m2 0h0m3 0h0m10 0h0m1 0h0m1 0h0m37 0h0m2 0h0m2 0h0m4 0h0m5 0h0m3 0h0m5 0h0m6 0h0m8 0h0m73 0h0m-168 1h0m3 0h0m7 0h0m2 0h0m2 0h0m2 0h0m1 0h0m1 0h0m1 0h0m2 0h0m41 0h0m6 0h0m5 0h0m2 0h0m2 0h0m7 0h0m5 0h0m1 0h0m16 0h0m58 0h0m-160 1h0m3 0h0m2 0h0m3 0h0m1 0h0m2 0h0m3 0h0m4 0h0m2 0h0m35 0h0m3 0h0m7 0h0m1 0h0m1 0h0m1 0h0m1 0h0m2 0h0m11 0h0m2 0h0m6 0h0m18 0h0m65 0h0m-167 1h0m2 0h0m1 0h0m1 0h0m1 0h0m3 0h0m1 0h0m2 0h0m1 0h0m49 0h0m2 0h0m1 0h0m15 0h0m9 0h0m5 0h0m5 0h0m-109 1h0m3 0h0m1 0h0m1 0h0m1 0h0m4 0h0m1 0h0m2 0h0m4 0h0m8 0h0m43 0h0m1 0h0m3 0h0m3 0h0m2 0h0m2 0h0m1 0h0m1 0h0m6 0h0m1 0h0m7 0h0m24 0h0m39 0h0m10 0h0m12 0h0m10 0h0m-194 1h0m13 0h0m3 0h0m2 0h0m1 0h0m7 0h0m43 0h0m5 0h0m1 0h0m7 0h0m2 0h0m1 0h0m6 0h0m8 0h0m63 0h0m-157 1h0m3 0h0m6 0h0m6 0h0m53 0h0m1 0h0m5 0h0m2 0h0m1 0h0m1 0h0m2 0h0m2 0h0m3 0h0m5 0h0m2 0h0m6 0h0m27 0h0m-127 1h0m7 0h0m8 0h0m1 0h0m3 0h0m54 0h0m1 0h0m2 0h0m2 0h0m3 0h0m2 0h0m1 0h0m1 0h0m1 0h0m2 0h0m2 0h0m15 0h0m91 0h0m-189 1h0m1 0h0m2 0h0m1 0h0m3 0h0m2 0h0m1 0h0m1 0h0m1 0h0m52 0h0m1 0h0m3 0h0m2 0h0m3 0h0m4 0h0m5 0h0m1 0h0m7 0h0m93 0h0m-187 1h0m4 0h0m5 0h0m5 0h0m7 0h0m46 0h0m3 0h0m2 0h0m3 0h0m2 0h0m3 0h0m2 0h0m8 0h0m5 0h0m1 0h0m65 0h0m8 0h0m3 0h0m-176 1h0m11 0h0m1 0h0m2 0h0m1 0h0m2 0h0m3 0h0m4 0h0m49 0h0m1 0h0m1 0h0m1 0h0m3 0h0m1 0h0m5 0h0m1 0h0m3 0h0m2 0h0m2 0h0m1 0h0m4 0h0m1 0h0m93 0h0m-190 1h0m1 0h0m8 0h0m1 0h0m3 0h0m2 0h0m2 0h0m53 0h0m3 0h0m2 0h0m2 0h0m1 0h0m2 0h0m1 0h0m1 0h0m1 0h0m3 0h0m3 0h0m4 0h0m2 0h0m12 0h0m5 0h0m-102 1h0m1 0h0m2 0h0m4 0h0m1 0h0m2 0h0m53 0h0m6 0h0m1 0h0m1 0h0m3 0h0m1 0h0m3 0h0m4 0h0m2 0h0m4 0h0m5 0h0m-97 1h0m4 0h0m2 0h0m3 0h0m2 0h0m50 0h0m9 0h0m1 0h0m2 0h0m4 0h0m3 0h0m1 0h0m3 0h0m1 0h0m8 0h0m5 0h0m74 0h0m17 0h0m-193 1h0m2 0h0m2 0h0m1 0h0m4 0h0m1 0h0m1 0h0m3 0h0m57 0h0m1 0h0m3 0h0m1 0h0m1 0h0m2 0h0m1 0h0m1 0h0m1 0h0m3 0h0m1 0h0m2 0h0m7 0h0m-109 1h0m9 0h0m2 0h0m3 0h0m8 0h0m2 0h0m2 0h0m1 0h0m1 0h0m2 0h0m57 0h0m4 0h0m2 0h0m4 0h0m2 0h0m14 0h0m59 0h0m-166 1h0m9 0h0m1 0h0m5 0h0m1 0h0m1 0h0m3 0h0m6 0h0m55 0h0m1 0h0m1 0h0m2 0h0m3 0h0m1 0h0m3 0h0m2 0h0m7 0h0m1 0h0m2 0h0m-94 1h0m1 0h0m2 0h0m1 0h0m2 0h0m2 0h0m3 0h0m1 0h0m2 0h0m56 0h0m3 0h0m2 0h0m1 0h0m1 0h0m2 0h0m1 0h0m1 0h0m4 0h0m1 0h0m5 0h0m4 0h0m18 0h0m14 0h0m-134 1h0m7 0h0m3 0h0m2 0h0m5 0h0m1 0h0m1 0h0m1 0h0m2 0h0m63 0h0m1 0h0m2 0h0m4 0h0m1 0h0m3 0h0m-91 1h0m2 0h0m2 0h0m2 0h0m4 0h0m4 0h0m3 0h0m4 0h0m50 0h0m2 0h0m1 0h0m3 0h0m2 0h0m1 0h0m1 0h0m2 0h0m1 0h0m3 0h0m1 0h0m2 0h0m1 0h0m5 0h0m1 0h0m6 0h0m7 0h0m81 0h0m-194 1h0m14 0h0m4 0h0m4 0h0m2 0h0m53 0h0m3 0h0m1 0h0m5 0h0m1 0h0m2 0h0m2 0h0m4 0h0m-92 1h0m5 0h0m2 0h0m1 0h0m2 0h0m1 0h0m1 0h0m4 0h0m1 0h0m61 0h0m4 0h0m1 0h0m3 0h0m1 0h0m1 0h0m2 0h0m73 0h0m12 0h0m9 0h0m7 0h0m-199 1h0m14 0h0m2 0h0m2 0h0m1 0h0m7 0h0m55 0h0m4 0h0m2 0h0m1 0h0m1 0h0m1 0h0m2 0h0m2 0h0m1 0h0m6 0h0m3 0h0m7 0h0m64 0h0m-176 1h0m9 0h0m6 0h0m3 0h0m4 0h0m3 0h0m2 0h0m1 0h0m63 0h0m1 0h0m1 0h0m2 0h0m1 0h0m1 0h0m5 0h0m-99 1h0m10 0h0m4 0h0m3 0h0m5 0h0m2 0h0m2 0h0m55 0h0m2 0h0m1 0h0m1 0h0m1 0h0m1 0h0m1 0h0m1 0h0m1 0h0m2 0h0m1 0h0m38 0h0m29 0h0m-157 1h0m14 0h0m1 0h0m1 0h0m1 0h0m1 0h0m1 0h0m3 0h0m57 0h0m1 0h0m1 0h0m1 0h0m2 0h0m1 0h0m3 0h0m2 0h0m1 0h0m7 0h0m3 0h0m68 0h0m-161 1h0m3 0h0m7 0h0m2 0h0m1 0h0m53 0h0m2 0h0m1 0h0m2 0h0m1 0h0m1 0h0m4 0h0m2 0h0m3 0h0m6 0h0m98 0h0m-181 1h0m2 0h0m1 0h0m2 0h0m3 0h0m3 0h0m6 0h0m45 0h0m1 0h0m5 0h0m1 0h0m4 0h0m1 0h0m1 0h0m2 0h0m1 0h0m1 0h0m1 0h0m3 0h0m7 0h0m1 0h0m-118 1h0m32 0h0m1 0h0m1 0h0m1 0h0m58 0h0m1 0h0m3 0h0m1 0h0m4 0h0m1 0h0m1 0h0m1 0h0m9 0h0m7 0h0m1 0h0m58 0h0m6 0h0m22 0h0m-189 1h0m11 0h0m4 0h0m1 0h0m13 0h0m34 0h0m9 0h0m1 0h0m1 0h0m3 0h0m1 0h0m1 0h0m3 0h0m5 0h0m89 0h0m-193 1h0m19 0h0m2 0h0m3 0h0m5 0h0m2 0h0m2 0h0m1 0h0m6 0h0m2 0h0m1 0h0m1 0h0m47 0h0m3 0h0m3 0h0m3 0h0m2 0h0m1 0h0m3 0h0m5 0h0m9 0h0m82 0h0m-189 1h0m10 0h0m6 0h0m1 0h0m3 0h0m2 0h0m6 0h0m1 0h0m46 0h0m3 0h0m3 0h0m1 0h0m1 0h0m1 0h0m3 0h0m1 0h0m2 0h0m1 0h0m1 0h0m1 0h0m9 0h0m-94 1h0m10 0h0m3 0h0m2 0h0m3 0h0m54 0h0m2 0h0m1 0h0m2 0h0m1 0h0m1 0h0m4 0h0m5 0h0m7 0h0m3 0h0m90 0h0m-200 1h0m15 0h0m1 0h0m9 0h0m1 0h0m2 0h0m4 0h0m3 0h0m43 0h0m1 0h0m2 0h0m1 0h0m1 0h0m2 0h0m5 0h0m3 0h0m2 0h0m1 0h0m5 0h0m5 0h0m-84 1h0m9 0h0m1 0h0m2 0h0m2 0h0m5 0h0m36 0h0m5 0h0m4 0h0m4 0h0m1 0h0m2 0h0m1 0h0m1 0h0m6 0h0m-94 1h0m18 0h0m1 0h0m1 0h0m2 0h0m4 0h0m4 0h0m5 0h0m39 0h0m1 0h0m4 0h0m1 0h0m2 0h0m4 0h0m1 0h0m2 0h0m6 0h0m8 0h0m-105 1h0m1 0h0m10 0h0m2 0h0m2 0h0m9 0h0m1 0h0m4 0h0m1 0h0m2 0h0m1 0h0m10 0h0m26 0h0m2 0h0m2 0h0m5 0h0m1 0h0m3 0h0m1 0h0m1 0h0m1 0h0m1 0h0m2 0h0m11 0h0m3 0h0m4 0h0m6 0h0m4 0h0m63 0h0m-180 1h0m17 0h0m7 0h0m3 0h0m2 0h0m2 0h0m2 0h0m2 0h0m2 0h0m3 0h0m7 0h0m14 0h0m1 0h0m6 0h0m4 0h0m2 0h0m1 0h0m1 0h0m4 0h0m2 0h0m2 0h0m1 0h0m5 0h0m102 0h0m-172 1h0m4 0h0m2 0h0m2 0h0m2 0h0m4 0h0m4 0h0m2 0h0m3 0h0m6 0h0m8 0h0m10 0h0m2 0h0m6 0h0m1 0h0m1 0h0m3 0h0m1 0h0m7 0h0m10 0h0m9 0h0m89 0h0m-198 1h0m5 0h0m2 0h0m18 0h0m1 0h0m2 0h0m1 0h0m1 0h0m4 0h0m1 0h0m1 0h0m4 0h0m4 0h0m4 0h0m2 0h0m3 0h0m5 0h0m3 0h0m1 0h0m5 0h0m2 0h0m2 0h0m2 0h0m2 0h0m4 0h0m1 0h0m2 0h0m3 0h0m2 0h0m1 0h0m1 0h0m2 0h0m1 0h0m2 0h0m4 0h0m5 0h0m-90 1h0m2 0h0m2 0h0m10 0h0m1 0h0m2 0h0m1 0h0m1 0h0m1 0h0m2 0h0m2 0h0m2 0h0m2 0h0m6 0h0m4 0h0m1 0h0m3 0h0m1 0h0m1 0h0m3 0h0m1 0h0m6 0h0m2 0h0m7 0h0m1 0h0m1 0h0m1 0h0m1 0h0m1 0h0m2 0h0m1 0h0m3 0h0m3 0h0m10 0h0m1 0h0m4 0h0m7 0h0m54 0h0m-146 1h0m1 0h0m1 0h0m7 0h0m4 0h0m1 0h0m1 0h0m1 0h0m2 0h0m1 0h0m1 0h0m7 0h0m3 0h0m3 0h0m4 0h0m1 0h0m2 0h0m7 0h0m4 0h0m11 0h0m1 0h0m4 0h0m8 0h0m1 0h0m2 0h0m13 0h0m89 0h0m-175 1h0m1 0h0m1 0h0m1 0h0m1 0h0m6 0h0m1 0h0m2 0h0m3 0h0m3 0h0m10 0h0m3 0h0m1 0h0m6 0h0m1 0h0m2 0h0m2 0h0m3 0h0m1 0h0m3 0h0m1 0h0m3 0h0m1 0h0m2 0h0m2 0h0m1 0h0m4 0h0m19 0h0m89 0h0m-178 1h0m2 0h0m14 0h0m2 0h0m2 0h0m1 0h0m1 0h0m1 0h0m2 0h0m1 0h0m3 0h0m1 0h0m1 0h0m1 0h0m1 0h0m1 0h0m2 0h0m4 0h0m12 0h0m4 0h0m2 0h0m1 0h0m3 0h0m2 0h0m1 0h0m1 0h0m1 0h0m2 0h0m2 0h0m1 0h0m4 0h0m3 0h0m-92 1h0m12 0h0m2 0h0m1 0h0m16 0h0m3 0h0m1 0h0m1 0h0m4 0h0m1 0h0m2 0h0m2 0h0m1 0h0m3 0h0m3 0h0m1 0h0m1 0h0m2 0h0m1 0h0m2 0h0m1 0h0m2 0h0m1 0h0m4 0h0m1 0h0m1 0h0m2 0h0m3 0h0m3 0h0m2 0h0m1 0h0m1 0h0m1 0h0m1 0h0m1 0h0m4 0h0m2 0h0m72 0h0m13 0h0m-171 1h0m8 0h0m5 0h0m14 0h0m1 0h0m1 0h0m5 0h0m2 0h0m2 0h0m2 0h0m2 0h0m2 0h0m1 0h0m1 0h0m1 0h0m1 0h0m4 0h0m2 0h0m7 0h0m1 0h0m3 0h0m1 0h0m5 0h0m1 0h0m1 0h0m2 0h0m2 0h0m13 0h0m54 0h0m-137 1h0m5 0h0m10 0h0m1 0h0m8 0h0m1 0h0m1 0h0m1 0h0m1 0h0m9 0h0m2 0h0m1 0h0m1 0h0m5 0h0m2 0h0m1 0h0m1 0h0m1 0h0m1 0h0m1 0h0m7 0h0m1 0h0m5 0h0m8 0h0m3 0h0m73 0h0m9 0h0m8 0h0m-175 1h0m5 0h0m11 0h0m3 0h0m1 0h0m1 0h0m3 0h0m4 0h0m4 0h0m1 0h0m1 0h0m2 0h0m2 0h0m1 0h0m4 0h0m3 0h0m1 0h0m1 0h0m1 0h0m4 0h0m1 0h0m1 0h0m1 0h0m1 0h0m3 0h0m1 0h0m3 0h0m1 0h0m3 0h0m2 0h0m1 0h0m2 0h0m1 0h0m2 0h0m1 0h0m3 0h0m8 0h0m4 0h0m81 0h0m-157 1h0m1 0h0m13 0h0m1 0h0m2 0h0m1 0h0m6 0h0m1 0h0m1 0h0m1 0h0m3 0h0m2 0h0m2 0h0m1 0h0m1 0h0m1 0h0m1 0h0m1 0h0m2 0h0m2 0h0m2 0h0m1 0h0m2 0h0m2 0h0m2 0h0m2 0h0m1 0h0m1 0h0m1 0h0m2 0h0m1 0h0m1 0h0m1 0h0m3 0h0m5 0h0m62 0h0m-115 1h0m2 0h0m2 0h0m1 0h0m1 0h0m4 0h0m1 0h0m1 0h0m2 0h0m2 0h0m1 0h0m2 0h0m2 0h0m3 0h0m3 0h0m2 0h0m3 0h0m1 0h0m1 0h0m3 0h0m1 0h0m5 0h0m3 0h0m1 0h0m1 0h0m1 0h0m1 0h0m1 0h0m7 0h0m5 0h0m-76 1h0m9 0h0m9 0h0m1 0h0m5 0h0m4 0h0m1 0h0m5 0h0m3 0h0m2 0h0m1 0h0m2 0h0m3 0h0m5 0h0m4 0h0m2 0h0m1 0h0m2 0h0m6 0h0m11 0h0m-85 1h0m16 0h0m4 0h0m6 0h0m3 0h0m2 0h0m4 0h0m1 0h0m2 0h0m1 0h0m2 0h0m2 0h0m2 0h0m1 0h0m3 0h0m2 0h0m3 0h0m1 0h0m1 0h0m2 0h0m1 0h0m2 0h0m1 0h0m4 0h0m1 0h0m4 0h0m5 0h0m2 0h0m8 0h0m14 0h0m-83 1h0m4 0h0m2 0h0m1 0h0m8 0h0m1 0h0m4 0h0m3 0h0m1 0h0m5 0h0m1 0h0m1 0h0m3 0h0m1 0h0m2 0h0m4 0h0m4 0h0m1 0h0m1 0h0m13 0h0m5 0h0m-74 1h0m6 0h0m7 0h0m2 0h0m8 0h0m6 0h0m1 0h0m1 0h0m2 0h0m2 0h0m3 0h0m1 0h0m3 0h0m2 0h0m5 0h0m2 0h0m3 0h0m2 0h0m2 0h0m3 0h0m1 0h0m2 0h0m3 0h0m7 0h0m-66 1h0m1 0h0m11 0h0m2 0h0m2 0h0m6 0h0m1 0h0m5 0h0m2 0h0m2 0h0m1 0h0m2 0h0m5 0h0m2 0h0m1 0h0m1 0h0m3 0h0m6 0h0m5 0h0m4 0h0m7 0h0m8 0h0m70 0h0m-155 1h0m3 0h0m7 0h0m3 0h0m10 0h0m1 0h0m1 0h0m5 0h0m1 0h0m1 0h0m3 0h0m4 0h0m3 0h0m1 0h0m2 0h0m3 0h0m1 0h0m1 0h0m6 0h0m2 0h0m1 0h0m3 0h0m1 0h0m1 0h0m88 0h0m-157 1h0m9 0h0m14 0h0m1 0h0m6 0h0m1 0h0m5 0h0m1 0h0m1 0h0m1 0h0m1 0h0m1 0h0m1 0h0m1 0h0m3 0h0m1 0h0m1 0h0m4 0h0m1 0h0m1 0h0m5 0h0m1 0h0m1 0h0m1 0h0m2 0h0m1 0h0m2 0h0m2 0h0m-44 1h0m4 0h0m2 0h0m2 0h0m2 0h0m3 0h0m2 0h0m5 0h0m3 0h0m1 0h0m1 0h0m1 0h0m1 0h0m1 0h0m1 0h0m1 0h0m1 0h0m4 0h0m1 0h0m2 0h0m2 0h0m2 0h0m8 0h0m-57 1h0m6 0h0m1 0h0m9 0h0m2 0h0m4 0h0m1 0h0m1 0h0m2 0h0m1 0h0m1 0h0m3 0h0m3 0h0m5 0h0m1 0h0m3 0h0m3 0h0m6 0h0m10 0h0m4 0h0m57 0h0m-128 1h0m7 0h0m12 0h0m1 0h0m7 0h0m1 0h0m1 0h0m1 0h0m1 0h0m5 0h0m2 0h0m7 0h0m2 0h0m3 0h0m3 0h0m4 0h0m2 0h0m2 0h0m5 0h0m-83 1h0m20 0h0m12 0h0m1 0h0m7 0h0m1 0h0m6 0h0m2 0h0m2 0h0m5 0h0m1 0h0m3 0h0m4 0h0m3 0h0m1 0h0m7 0h0m-64 1h0m21 0h0m1 0h0m1 0h0m9 0h0m2 0h0m1 0h0m1 0h0m1 0h0m3 0h0m6 0h0m1 0h0m1 0h0m3 0h0m3 0h0m1 0h0m1 0h0m3 0h0m8 0h0m9 0h0m5 0h0m6 0h0m74 0h0m-185 1h0m43 0h0m4 0h0m1 0h0m8 0h0m1 0h0m2 0h0m1 0h0m4 0h0m2 0h0m4 0h0m1 0h0m1 0h0m4 0h0m2 0h0m1 0h0m1 0h0m4 0h0m1 0h0m1 0h0m10 0h0m-62 1h0m2 0h0m5 0h0m3 0h0m4 0h0m2 0h0m5 0h0m1 0h0m2 0h0m2 0h0m1 0h0m4 0h0m1 0h0m1 0h0m2 0h0m11 0h0m2 0h0m1 0h0m3 0h0m2 0h0m6 0h0m54 0h0m-107 1h0m3 0h0m1 0h0m12 0h0m3 0h0m3 0h0m1 0h0m1 0h0m1 0h0m2 0h0m1 0h0m3 0h0m1 0h0m1 0h0m1 0h0m4 0h0m1 0h0m5 0h0m1 0h0m7 0h0m9 0h0m7 0h0m76 0h0m-124 1h0m2 0h0m2 0h0m1 0h0m1 0h0m3 0h0m2 0h0m3 0h0m1 0h0m1 0h0m4 0h0m1 0h0m5 0h0m4 0h0m-71 1h0m17 0h0m8 0h0m4 0h0m1 0h0m3 0h0m1 0h0m3 0h0m4 0h0m4 0h0m7 0h0m1 0h0m3 0h0m4 0h0m1 0h0m11 0h0m2 0h0m-58 1h0m10 0h0m2 0h0m3 0h0m4 0h0m2 0h0m3 0h0m4 0h0m1 0h0m3 0h0m1 0h0m1 0h0m1 0h0m1 0h0m1 0h0m1 0h0m1 0h0m1 0h0m1 0h0m1 0h0m2 0h0m6 0h0m3 0h0m2 0h0m-41 1h0m2 0h0m6 0h0m1 0h0m2 0h0m1 0h0m3 0h0m1 0h0m3 0h0m1 0h0m1 0h0m2 0h0m3 0h0m6 0h0m6 0h0m2 0h0m1 0h0m4 0h0m-50 1h0m2 0h0m4 0h0m6 0h0m1 0h0m8 0h0m1 0h0m3 0h0m2 0h0m1 0h0m2 0h0m1 0h0m1 0h0m3 0h0m2 0h0m2 0h0m4 0h0m4 0h0m2 0h0m3 0h0m4 0h0m67 0h0m-117 1h0m2 0h0m3 0h0m4 0h0m4 0h0m1 0h0m1 0h0m3 0h0m5 0h0m5 0h0m1 0h0m1 0h0m2 0h0m6 0h0m6 0h0m2 0h0m-54 1h0m4 0h0m1 0h0m4 0h0m2 0h0m1 0h0m3 0h0m2 0h0m3 0h0m3 0h0m1 0h0m5 0h0m2 0h0m2 0h0m1 0h0m1 0h0m3 0h0m1 0h0m2 0h0m2 0h0m1 0h0m1 0h0m1 0h0m10 0h0m14 0h0m-60 1h0m11 0h0m5 0h0m1 0h0m2 0h0m8 0h0m3 0h0m1 0h0m3 0h0m7 0h0m4 0h0m-54 1h0m19 0h0m2 0h0m5 0h0m1 0h0m1 0h0m2 0h0m5 0h0m2 0h0m2 0h0m12 0h0m2 0h0m71 0h0m21 0h0m-134 1h0m8 0h0m1 0h0m1 0h0m4 0h0m3 0h0m1 0h0m1 0h0m1 0h0m1 0h0m2 0h0m1 0h0m2 0h0m2 0h0m2 0h0m2 0h0m8 0h0m15 0h0m-49 1h0m6 0h0m11 0h0m1 0h0m2 0h0m10 0h0m4 0h0m6 0h0m-52 1h0m2 0h0m10 0h0m7 0h0m4 0h0m2 0h0m2 0h0m2 0h0m3 0h0m8 0h0m2 0h0m-40 1h0m1 0h0m3 0h0m1 0h0m3 0h0m7 0h0m1 0h0m2 0h0m1 0h0m1 0h0m1 0h0m1 0h0m2 0h0m2 0h0m6 0h0m1 0h0m4 0h0m1 0h0m2 0h0m1 0h0m-50 1h0m2 0h0m4 0h0m6 0h0m1 0h0m13 0h0m3 0h0m3 0h0m1 0h0m2 0h0m3 0h0m1 0h0m1 0h0m1 0h0m1 0h0m4 0h0m15 0h0m77 0h0m-137 1h0m29 0h0m4 0h0m4 0h0m4 0h0m6 0h0m12 0h0m88 0h0m-145 1h0m14 0h0m5 0h0m5 0h0m4 0h0m7 0h0m1 0h0m1 0h0m1 0h0m5 0h0m-35 1h0m2 0h0m8 0h0m7 0h0m1 0h0m3 0h0m2 0h0m4 0h0m1 0h0m3 0h0m1 0h0m7 0h0m2 0h0m7 0h0m55 0h0m-107 1h0m16 0h0m2 0h0m9 0h0m1 0h0m2 0h0m8 0h0m2 0h0m3 0h0m1 0h0m6 0h0m-36 1h0m1 0h0m1 0h0m6 0h0m1 0h0m1 0h0m1 0h0m2 0h0m1 0h0m1 0h0m11 0h0m-33 1h0m10 0h0m9 0h0m1 0h0m2 0h0m6 0h0m3 0h0m2 0h0m-20 1h0m6 0h0m5 0h0m1 0h0m4 0h0m5 0h0m7 0h0m2 0h0m1 0h0m-45 1h0m7 0h0m5 0h0m9 0h0m13 0h0m24 0h0m-65 1h0m13 0h0m18 0h0m10 0h0m8 0h0m-38 1h0m4 0h0m7 0h0m6 0h0m1 0h0m12 0h0m2 0h0m-23 1h0m5 0h0m2 0h0m8 0h0m11 0h0m8 0h0m78 0h0m-110 1h0m2 0h0m1 0h0m2 0h0m4 0h0m2 0h0m66 0h0m-90 1h0m5 0h0m3 0h0m4 0h0m1 0h0m104 0h0m13 0h0m-111 1h0m18 0h0m55 0h0m2 0h0" stroke="#2626f4"/><path d="M182 51h0m3 0h0m-4 1h0m5 3h0m-1 1h0m2 1h0m2 0h0m6 0h0m-10 1h0m-2 2h0m2 0h0m2 0h0m4 0h0m-5 10h0m-127 83h0m15 0h0m-8 1h0m8 0h0m-10 1h0m10 0h0m3 0h0m1 0h0m2 0h0m-23 1h0m7 0h0m12 0h0m1 0h0m7 0h0m1 0h0m-32 1h0m4 0h0m2 0h0m2 0h0m2 0h0m5 0h0m2 0h0m4 0h0m1 0h0m4 0h0m3 0h0m-29 1h0m2 0h0m3 0h0m3 0h0m2 0h0m1 0h0m8 0h0m1 0h0m1 0h0m1 0h0m3 0h0m9 0h0m-32 1h0m2 0h0m5 0h0m10 0h0m1 0h0m1 0h0m1 0h0m1 0h0m1 0h0m1 0h0m1 0h0m5 0h0m3 0h0m2 0h0m-27 1h0m7 0h0m2 0h0m3 0h0m5 0h0m1 0h0m2 0h0m2 0h0m4 0h0m-40 1h0m2 0h0m15 0h0m13 0h0m3 0h0m1 0h0m-40 1h0m5 0h0m2 0h0m2 0h0m8 0h0m5 0h0m21 0h0m9 0h0m-52 1h0m2 0h0m11 0h0m23 0h0m4 0h0m1 0h0m3 0h0m1 0h0m7 0h0m-55 1h0m2 0h0m2 0h0m5 0h0m1 0h0m10 0h0m16 0h0m13 0h0m-46 1h0m5 0h0m2 0h0m1 0h0m2 0h0m33 0h0m2 0h0m-48 1h0m2 0h0m3 0h0m42 0h0m5 0h0m-52 1h0m1 0h0m1 0h0m44 0h0m3 0h0m-49 1h0m1 0h0m2 0h0m4 0h0m41 0h0m5 0h0m-54 1h0m3 0h0m1 0h0m2 0h0m55 0h0m-57 1h0m2 0h0m3 0h0m39 0h0m2 0h0m10 0h0m1 0h0m-59 1h0m3 0h0m45 0h0m1 0h0m10 0h0m-54 1h0m1 0h0m40 0h0m10 0h0m1 0h0m3 0h0m-61 1h0m2 0h0m52 0h0m7 0h0m-60 1h0m52 0h0m1 0h0m3 0h0m2 0h0m1 0h0m-58 1h0m51 0h0m2 0h0m7 0h0m-63 1h0m58 0h0m-55 1h0m1 0h0m55 0h0m-61 1h0m6 0h0m1 0h0m1 0h0m51 0h0m-54 1h0m2 0h0m47 0h0m3 0h0m1 0h0m3 0h0m2 0h0m-60 1h0m3 0h0m50 0h0m1 0h0m1 0h0m3 0h0m2 0h0m1 0h0m1 0h0m-63 1h0m1 0h0m4 0h0m6 0h0m42 0h0m8 0h0m-59 1h0m1 0h0m5 0h0m44 0h0m4 0h0m2 0h0m-55 1h0m1 0h0m1 0h0m53 0h0m1 0h0m3 0h0m-64 1h0m1 0h0m57 0h0m3 0h0m4 0h0m-66 1h0m2 0h0m8 0h0m44 0h0m6 0h0m2 0h0m3 0h0m-64 1h0m8 0h0m1 0h0m3 0h0m43 0h0m1 0h0m2 0h0m2 0h0m3 0h0m-58 1h0m6 0h0m41 0h0m5 0h0m1 0h0m1 0h0m1 0h0m-54 1h0m1 0h0m1 0h0m43 0h0m6 0h0m5 0h0m13 0h0m1 0h0m-73 1h0m1 0h0m3 0h0m2 0h0m4 0h0m6 0h0m37 0h0m1 0h0m4 0h0m7 0h0m1 0h0m-61 1h0m1 0h0m4 0h0m3 0h0m1 0h0m1 0h0m34 0h0m1 0h0m4 0h0m4 0h0m5 0h0m-59 1h0m3 0h0m2 0h0m7 0h0m31 0h0m7 0h0m18 0h0m-65 1h0m1 0h0m2 0h0m5 0h0m38 0h0m1 0h0m1 0h0m1 0h0m1 0h0m-50 1h0m2 0h0m4 0h0m15 0h0m16 0h0m12 0h0m2 0h0m1 0h0m-50 1h0m2 0h0m2 0h0m1 0h0m9 0h0m9 0h0m12 0h0m6 0h0m6 0h0m1 0h0m1 0h0m2 0h0m-44 1h0m6 0h0m6 0h0m13 0h0m10 0h0m1 0h0m2 0h0m1 0h0m-39 1h0m7 0h0m17 0h0m9 0h0m-37 1h0m2 0h0m7 0h0m6 0h0m2 0h0m6 0h0m1 0h0m4 0h0m2 0h0m1 0h0m9 0h0m1 0h0m1 0h0m1 0h0m3 0h0m-40 1h0m1 0h0m1 0h0m1 0h0m1 0h0m3 0h0m3 0h0m6 0h0m2 0h0m1 0h0m10 0h0m1 0h0m5 0h0m2 0h0m-37 1h0m5 0h0m2 0h0m2 0h0m1 0h0m2 0h0m9 0h0m3 0h0m-14 1h0m5 0h0m5 0h0m4 0h0m5 0h0m1 0h0m2 0h0m6 0h0m-33 1h0m3 0h0m6 0h0m8 0h0m3 0h0m1 0h0m1 0h0m1 0h0m6 0h0m5 0h0m-33 1h0m5 0h0m1 0h0m3 0h0m13 0h0m5 0h0m1 0h0m1 0h0m1 0h0m1 0h0m-31 1h0m1 0h0m1 0h0m5 0h0m1 0h0m2 0h0m1 0h0m6 0h0m1 0h0m11 0h0m2 0h0m1 0h0m10 0h0m-41 1h0m3 0h0m4 0h0m10 0h0m1 0h0m12 0h0m-36 1h0m8 0h0m11 0h0m3 0h0m3 0h0m3 0h0m1 0h0m1 0h0m1 0h0m1 0h0m2 0h0m1 0h0m9 0h0m-11 1h0m11 0h0m-37 1h0m15 0h0m1 0h0m4 0h0m8 0h0m7 0h0m-6 1h0m2 0h0m4 0h0m2 0h0m-23 1h0m9 0h0m8 0h0m-2 1h0m7 1h0m-19 1h0m10 1h0m-3 1h0m2 1h0m-4 4h0m9 2h0m1 1h0m-2 6h0m-3 1h0m1 1h0m1 0h0" stroke="#0c44ec"/><path d="M188 60h0m-122 96h0m1 0h0m1 0h0m1 0h0m-5 1h0m2 0h0m1 0h0m5 0h0m5 0h0m-20 1h0m5 0h0m4 0h0m2 0h0m1 0h0m8 0h0m9 0h0m-37 1h0m7 0h0m2 0h0m2 0h0m4 0h0m4 0h0m3 0h0m12 0h0m-35 1h0m4 0h0m1 0h0m5 0h0m2 0h0m4 0h0m4 0h0m8 0h0m7 0h0m-36 1h0m8 0h0m1 0h0m2 0h0m12 0h0m5 0h0m4 0h0m1 0h0m6 0h0m2 0h0m-36 1h0m1 0h0m1 0h0m24 0h0m1 0h0m12 0h0m-46 1h0m2 0h0m2 0h0m1 0h0m1 0h0m2 0h0m8 0h0m2 0h0m4 0h0m2 0h0m8 0h0m2 0h0m2 0h0m7 0h0m-43 1h0m5 0h0m1 0h0m6 0h0m3 0h0m16 0h0m9 0h0m2 0h0m-39 1h0m3 0h0m3 0h0m20 0h0m2 0h0m6 0h0m2 0h0m2 0h0m2 0h0m3 0h0m-51 1h0m11 0h0m2 0h0m25 0h0m1 0h0m2 0h0m1 0h0m2 0h0m1 0h0m2 0h0m5 0h0m-50 1h0m2 0h0m2 0h0m1 0h0m1 0h0m1 0h0m2 0h0m30 0h0m3 0h0m6 0h0m-49 1h0m3 0h0m1 0h0m25 0h0m15 0h0m3 0h0m-48 1h0m5 0h0m1 0h0m1 0h0m1 0h0m3 0h0m4 0h0m30 0h0m1 0h0m1 0h0m-42 1h0m1 0h0m7 0h0m34 0h0m-41 1h0m3 0h0m1 0h0m20 0h0m6 0h0m-29 1h0m4 0h0m36 0h0m1 0h0m2 0h0m-47 1h0m1 0h0m1 0h0m1 0h0m39 0h0m1 0h0m1 0h0m2 0h0m3 0h0m-49 1h0m1 0h0m1 0h0m45 0h0m-45 1h0m45 0h0m1 0h0m-51 1h0m1 0h0m12 0h0m38 0h0m2 0h0m-50 1h0m44 0h0m2 0h0m3 0h0m1 0h0m1 0h0m-44 1h0m38 0h0m-48 1h0m4 0h0m39 0h0m8 0h0m5 0h0m-55 1h0m3 0h0m39 0h0m7 0h0m1 0h0m4 0h0m-47 1h0m42 0h0m3 0h0m8 0h0m-58 1h0m4 0h0m35 0h0m2 0h0m7 0h0m1 0h0m1 0h0m-49 1h0m3 0h0m44 0h0m1 0h0m2 0h0m1 0h0m3 0h0m1 0h0m-56 1h0m1 0h0m1 0h0m42 0h0m3 0h0m2 0h0m1 0h0m2 0h0m-48 1h0m5 0h0m41 0h0m1 0h0m4 0h0m1 0h0m-49 1h0m28 0h0m12 0h0m7 0h0m-51 1h0m2 0h0m2 0h0m39 0h0m1 0h0m2 0h0m5 0h0m1 0h0m-53 1h0m4 0h0m4 0h0m1 0h0m1 0h0m30 0h0m1 0h0m2 0h0m2 0h0m1 0h0m4 0h0m-48 1h0m5 0h0m1 0h0m3 0h0m1 0h0m12 0h0m5 0h0m4 0h0m1 0h0m1 0h0m4 0h0m4 0h0m1 0h0m-39 1h0m13 0h0m18 0h0m2 0h0m1 0h0m2 0h0m4 0h0m2 0h0m-43 1h0m2 0h0m1 0h0m4 0h0m1 0h0m1 0h0m22 0h0m4 0h0m3 0h0m4 0h0m4 0h0m1 0h0m-30 1h0m16 0h0m6 0h0m-35 1h0m1 0h0m2 0h0m3 0h0m7 0h0m4 0h0m7 0h0m1 0h0m13 0h0m-25 1h0m4 0h0m5 0h0m3 0h0m8 0h0m4 0h0m2 0h0m-35 1h0m7 0h0m7 0h0m2 0h0m2 0h0m2 0h0m1 0h0m3 0h0m8 0h0m-33 1h0m3 0h0m1 0h0m1 0h0m8 0h0m2 0h0m4 0h0m11 0h0m1 0h0m4 0h0m2 0h0m-41 1h0m4 0h0m1 0h0m6 0h0m1 0h0m6 0h0m1 0h0m6 0h0m1 0h0m2 0h0m3 0h0m5 0h0m2 0h0m-27 1h0m9 0h0m2 0h0m4 0h0m4 0h0m-11 1h0m3 0h0m1 0h0m1 0h0m4 0h0m5 0h0m1 0h0m2 0h0m3 0h0m-29 1h0m1 0h0m6 0h0m2 0h0m2 0h0m1 0h0m1 0h0m1 0h0m3 0h0m1 0h0m2 0h0m-21 1h0m5 0h0m15 1h0m2 0h0m1 0h0m5 0h0m-7 1h0m2 0h0m5 0h0m2 0h0m2 0h0m-3 1h0m-11 4h0" stroke="#18a8e0"/><path d="M52 158h0m4 0h0m4 0h0m16 0h0m-23 1h0m1 0h0m5 0h0m4 0h0m3 0h0m1 0h0m-13 1h0m2 0h0m1 0h0m2 0h0m4 0h0m2 0h0m1 0h0m4 0h0m2 0h0m6 0h0m-26 1h0m1 0h0m1 0h0m3 0h0m2 0h0m1 0h0m1 0h0m3 0h0m2 0h0m1 0h0m5 0h0m1 0h0m1 0h0m2 0h0m1 0h0m-22 1h0m1 0h0m2 0h0m2 0h0m1 0h0m1 0h0m4 0h0m2 0h0m1 0h0m1 0h0m1 0h0m1 0h0m1 0h0m1 0h0m2 0h0m1 0h0m3 0h0m8 0h0m1 0h0m-43 1h0m11 0h0m2 0h0m3 0h0m4 0h0m4 0h0m1 0h0m2 0h0m3 0h0m4 0h0m9 0h0m-36 1h0m3 0h0m2 0h0m3 0h0m4 0h0m2 0h0m1 0h0m2 0h0m1 0h0m1 0h0m5 0h0m1 0h0m1 0h0m3 0h0m1 0h0m7 0h0m-37 1h0m2 0h0m2 0h0m3 0h0m2 0h0m2 0h0m5 0h0m4 0h0m5 0h0m2 0h0m1 0h0m8 0h0m1 0h0m2 0h0m-44 1h0m2 0h0m2 0h0m4 0h0m1 0h0m2 0h0m2 0h0m2 0h0m3 0h0m1 0h0m3 0h0m1 0h0m2 0h0m2 0h0m5 0h0m-28 1h0m8 0h0m2 0h0m2 0h0m11 0h0m2 0h0m1 0h0m4 0h0m1 0h0m-40 1h0m4 0h0m1 0h0m1 0h0m1 0h0m3 0h0m2 0h0m1 0h0m1 0h0m2 0h0m1 0h0m13 0h0m1 0h0m4 0h0m1 0h0m1 0h0m1 0h0m1 0h0m1 0h0m1 0h0m2 0h0m-37 1h0m1 0h0m3 0h0m4 0h0m2 0h0m1 0h0m10 0h0m1 0h0m4 0h0m2 0h0m2 0h0m3 0h0m-41 1h0m2 0h0m5 0h0m1 0h0m1 0h0m1 0h0m7 0h0m15 0h0m1 0h0m6 0h0m2 0h0m1 0h0m-38 1h0m3 0h0m3 0h0m1 0h0m20 0h0m8 0h0m2 0h0m1 0h0m2 0h0m1 0h0m1 0h0m-39 1h0m4 0h0m5 0h0m16 0h0m1 0h0m3 0h0m3 0h0m1 0h0m1 0h0m2 0h0m1 0h0m-43 1h0m5 0h0m1 0h0m1 0h0m3 0h0m2 0h0m1 0h0m11 0h0m12 0h0m4 0h0m6 0h0m-41 1h0m1 0h0m1 0h0m1 0h0m4 0h0m3 0h0m15 0h0m4 0h0m1 0h0m1 0h0m1 0h0m1 0h0m3 0h0m3 0h0m1 0h0m1 0h0m1 0h0m2 0h0m-52 1h0m3 0h0m2 0h0m2 0h0m2 0h0m2 0h0m1 0h0m6 0h0m19 0h0m3 0h0m1 0h0m4 0h0m3 0h0m-44 1h0m1 0h0m2 0h0m2 0h0m4 0h0m4 0h0m1 0h0m2 0h0m1 0h0m14 0h0m3 0h0m2 0h0m2 0h0m1 0h0m3 0h0m1 0h0m1 0h0m1 0h0m1 0h0m1 0h0m2 0h0m-47 1h0m2 0h0m5 0h0m3 0h0m1 0h0m24 0h0m1 0h0m1 0h0m4 0h0m5 0h0m-46 1h0m1 0h0m2 0h0m7 0h0m5 0h0m6 0h0m9 0h0m6 0h0m2 0h0m3 0h0m3 0h0m1 0h0m2 0h0m1 0h0m1 0h0m-49 1h0m2 0h0m1 0h0m6 0h0m26 0h0m5 0h0m2 0h0m-40 1h0m2 0h0m4 0h0m4 0h0m2 0h0m4 0h0m16 0h0m5 0h0m1 0h0m3 0h0m8 0h0m-55 1h0m5 0h0m1 0h0m10 0h0m10 0h0m1 0h0m9 0h0m1 0h0m1 0h0m1 0h0m2 0h0m2 0h0m2 0h0m1 0h0m1 0h0m1 0h0m6 0h0m-47 1h0m1 0h0m2 0h0m3 0h0m4 0h0m5 0h0m9 0h0m4 0h0m3 0h0m1 0h0m8 0h0m1 0h0m-43 1h0m2 0h0m6 0h0m9 0h0m2 0h0m7 0h0m4 0h0m3 0h0m1 0h0m2 0h0m1 0h0m1 0h0m4 0h0m2 0h0m3 0h0m-47 1h0m4 0h0m2 0h0m3 0h0m8 0h0m7 0h0m6 0h0m3 0h0m1 0h0m1 0h0m4 0h0m3 0h0m1 0h0m2 0h0m-47 1h0m2 0h0m2 0h0m1 0h0m1 0h0m4 0h0m2 0h0m1 0h0m4 0h0m5 0h0m1 0h0m1 0h0m3 0h0m1 0h0m3 0h0m2 0h0m1 0h0m2 0h0m2 0h0m1 0h0m1 0h0m1 0h0m3 0h0m2 0h0m1 0h0m1 0h0m-46 1h0m1 0h0m2 0h0m2 0h0m2 0h0m1 0h0m1 0h0m2 0h0m1 0h0m1 0h0m16 0h0m6 0h0m1 0h0m1 0h0m1 0h0m1 0h0m1 0h0m2 0h0m1 0h0m-44 1h0m4 0h0m2 0h0m1 0h0m2 0h0m1 0h0m2 0h0m3 0h0m1 0h0m2 0h0m6 0h0m3 0h0m5 0h0m5 0h0m1 0h0m1 0h0m2 0h0m5 0h0m-45 1h0m1 0h0m4 0h0m5 0h0m1 0h0m7 0h0m4 0h0m1 0h0m2 0h0m3 0h0m2 0h0m3 0h0m2 0h0m2 0h0m1 0h0m5 0h0m3 0h0m-46 1h0m8 0h0m7 0h0m4 0h0m2 0h0m3 0h0m6 0h0m1 0h0m6 0h0m2 0h0m1 0h0m4 0h0m1 0h0m-44 1h0m8 0h0m2 0h0m7 0h0m2 0h0m2 0h0m1 0h0m3 0h0m1 0h0m2 0h0m2 0h0m2 0h0m6 0h0m2 0h0m4 0h0m-41 1h0m9 0h0m2 0h0m2 0h0m1 0h0m1 0h0m4 0h0m1 0h0m1 0h0m1 0h0m5 0h0m2 0h0m3 0h0m1 0h0m2 0h0m4 0h0m1 0h0m4 0h0m-36 1h0m1 0h0m1 0h0m1 0h0m1 0h0m1 0h0m1 0h0m1 0h0m5 0h0m1 0h0m2 0h0m2 0h0m3 0h0m2 0h0m3 0h0m1 0h0m1 0h0m2 0h0m2 0h0m1 0h0m-35 1h0m2 0h0m3 0h0m1 0h0m2 0h0m2 0h0m3 0h0m7 0h0m1 0h0m3 0h0m1 0h0m1 0h0m1 0h0m2 0h0m2 0h0m2 0h0m6 0h0m-39 1h0m1 0h0m1 0h0m1 0h0m1 0h0m4 0h0m1 0h0m4 0h0m1 0h0m4 0h0m1 0h0m5 0h0m1 0h0m8 0h0m3 0h0m2 0h0m1 0h0m-38 1h0m2 0h0m2 0h0m2 0h0m4 0h0m2 0h0m1 0h0m1 0h0m12 0h0m1 0h0m2 0h0m1 0h0m2 0h0m4 0h0m-28 1h0m1 0h0m1 0h0m1 0h0m1 0h0m2 0h0m2 0h0m1 0h0m5 0h0m2 0h0m1 0h0m1 0h0m1 0h0m1 0h0m1 0h0m5 0h0m-25 1h0m2 0h0m5 0h0m12 0h0m1 0h0m1 0h0m3 0h0m6 0h0m-27 1h0m11 0h0m1 0h0m3 0h0m5 0h0m-25 1h0m10 0h0m4 0h0m2 0h0m-15 2h0m6 0h0m17 0h0m-5 1h0m-13 2h0" stroke="#28cc48"/><path d="M61 159h0m6 1h0m1 1h0m-12 2h0m8 0h0m1 0h0m3 0h0m6 0h0m-20 1h0m1 0h0m8 0h0m1 0h0m2 0h0m3 0h0m5 0h0m-18 1h0m2 0h0m7 0h0m3 0h0m2 0h0m-16 1h0m1 0h0m3 0h0m2 0h0m8 0h0m1 0h0m3 0h0m4 0h0m1 0h0m-27 1h0m3 0h0m1 0h0m7 0h0m2 0h0m3 0h0m2 0h0m2 0h0m1 0h0m3 0h0m5 0h0m1 0h0m-28 1h0m2 0h0m4 0h0m3 0h0m2 0h0m4 0h0m4 0h0m5 0h0m1 0h0m-25 1h0m2 0h0m4 0h0m3 0h0m5 0h0m3 0h0m3 0h0m1 0h0m3 0h0m5 0h0m-29 1h0m2 0h0m10 0h0m1 0h0m3 0h0m3 0h0m5 0h0m1 0h0m1 0h0m1 0h0m2 0h0m4 0h0m-32 1h0m1 0h0m1 0h0m1 0h0m3 0h0m4 0h0m1 0h0m1 0h0m3 0h0m3 0h0m2 0h0m2 0h0m2 0h0m1 0h0m1 0h0m2 0h0m3 0h0m-35 1h0m6 0h0m1 0h0m2 0h0m1 0h0m1 0h0m4 0h0m3 0h0m2 0h0m1 0h0m1 0h0m4 0h0m4 0h0m4 0h0m-32 1h0m2 0h0m4 0h0m3 0h0m2 0h0m1 0h0m2 0h0m3 0h0m1 0h0m2 0h0m4 0h0m2 0h0m2 0h0m1 0h0m3 0h0m1 0h0m-33 1h0m1 0h0m1 0h0m3 0h0m4 0h0m6 0h0m3 0h0m5 0h0m1 0h0m6 0h0m1 0h0m2 0h0m1 0h0m-42 1h0m6 0h0m3 0h0m1 0h0m2 0h0m8 0h0m1 0h0m10 0h0m1 0h0m2 0h0m1 0h0m4 0h0m3 0h0m-38 1h0m2 0h0m1 0h0m1 0h0m4 0h0m6 0h0m1 0h0m2 0h0m3 0h0m2 0h0m1 0h0m3 0h0m2 0h0m1 0h0m2 0h0m5 0h0m1 0h0m-38 1h0m3 0h0m1 0h0m1 0h0m2 0h0m4 0h0m1 0h0m3 0h0m1 0h0m1 0h0m7 0h0m2 0h0m4 0h0m1 0h0m8 0h0m3 0h0m-41 1h0m2 0h0m4 0h0m6 0h0m3 0h0m2 0h0m8 0h0m2 0h0m2 0h0m1 0h0m5 0h0m2 0h0m1 0h0m-39 1h0m3 0h0m2 0h0m2 0h0m4 0h0m2 0h0m4 0h0m1 0h0m2 0h0m3 0h0m1 0h0m4 0h0m10 0h0m2 0h0m2 0h0m1 0h0m-44 1h0m3 0h0m2 0h0m1 0h0m3 0h0m6 0h0m4 0h0m4 0h0m8 0h0m1 0h0m9 0h0m1 0h0m2 0h0m-39 1h0m1 0h0m3 0h0m1 0h0m1 0h0m4 0h0m3 0h0m1 0h0m1 0h0m1 0h0m4 0h0m3 0h0m3 0h0m9 0h0m-35 1h0m2 0h0m1 0h0m4 0h0m3 0h0m1 0h0m1 0h0m3 0h0m1 0h0m1 0h0m1 0h0m1 0h0m9 0h0m3 0h0m2 0h0m3 0h0m-37 1h0m2 0h0m2 0h0m2 0h0m3 0h0m3 0h0m1 0h0m2 0h0m2 0h0m3 0h0m1 0h0m3 0h0m1 0h0m1 0h0m11 0h0m-39 1h0m2 0h0m7 0h0m1 0h0m1 0h0m2 0h0m1 0h0m4 0h0m1 0h0m1 0h0m4 0h0m1 0h0m2 0h0m3 0h0m5 0h0m2 0h0m2 0h0m-35 1h0m8 0h0m1 0h0m2 0h0m1 0h0m6 0h0m1 0h0m4 0h0m2 0h0m3 0h0m8 0h0m-31 1h0m4 0h0m1 0h0m1 0h0m2 0h0m1 0h0m2 0h0m3 0h0m1 0h0m3 0h0m2 0h0m1 0h0m2 0h0m1 0h0m7 0h0m-34 1h0m5 0h0m1 0h0m7 0h0m5 0h0m3 0h0m1 0h0m6 0h0m-21 1h0m1 0h0m6 0h0m5 0h0m3 0h0m5 0h0m-22 1h0m1 0h0m3 0h0m1 0h0m1 0h0m4 0h0m3 0h0m1 0h0m3 0h0m7 0h0m-24 1h0m2 0h0m1 0h0m1 0h0m5 0h0m4 0h0m3 0h0m4 0h0m2 0h0m-18 1h0m4 0h0m1 0h0m1 0h0m6 0h0m1 0h0m1 0h0m2 0h0m-22 1h0m1 0h0m11 0h0m4 0h0m2 0h0m2 0h0m1 0h0m9 0h0m-28 1h0m4 0h0m7 0h0m4 0h0m1 0h0m11 0h0m4 0h0m-24 1h0m19 0h0m3 0h0m-15 1h0m2 0h0m2 0h0m8 0h0m-11 2h0" stroke="#90e020"/><path d="M63 161h0m-6 1h0m18 0h0m-3 1h0m-9 2h0m3 0h0m1 0h0m4 0h0m-6 1h0m-9 1h0m1 0h0m1 0h0m1 0h0m6 0h0m4 0h0m3 0h0m4 0h0m-12 1h0m2 0h0m2 0h0m4 0h0m3 0h0m-13 1h0m2 0h0m1 0h0m3 0h0m10 0h0m-22 1h0m1 0h0m2 0h0m4 0h0m3 0h0m4 0h0m2 0h0m-5 1h0m2 0h0m5 0h0m-21 1h0m9 0h0m1 0h0m9 0h0m4 0h0m-26 1h0m6 0h0m2 0h0m3 0h0m3 0h0m6 0h0m2 0h0m1 0h0m3 0h0m5 0h0m-23 1h0m3 0h0m4 0h0m2 0h0m3 0h0m3 0h0m-14 1h0m6 0h0m4 0h0m2 0h0m1 0h0m1 0h0m-19 1h0m4 0h0m22 0h0m-26 1h0m11 0h0m3 0h0m3 0h0m7 0h0m1 0h0m4 0h0m1 0h0m-32 1h0m2 0h0m2 0h0m1 0h0m4 0h0m8 0h0m2 0h0m2 0h0m5 0h0m1 0h0m-29 1h0m2 0h0m6 0h0m3 0h0m1 0h0m3 0h0m2 0h0m1 0h0m3 0h0m1 0h0m3 0h0m1 0h0m3 0h0m3 0h0m-27 1h0m6 0h0m1 0h0m8 0h0m5 0h0m7 0h0m-29 1h0m5 0h0m3 0h0m1 0h0m7 0h0m3 0h0m3 0h0m6 0h0m-26 1h0m1 0h0m14 0h0m3 0h0m2 0h0m2 0h0m8 0h0m2 0h0m-35 1h0m8 0h0m8 0h0m3 0h0m6 0h0m1 0h0m3 0h0m4 0h0m2 0h0m-39 1h0m3 0h0m3 0h0m10 0h0m9 0h0m5 0h0m-20 1h0m6 0h0m1 0h0m8 0h0m13 0h0m-34 1h0m14 0h0m3 0h0m-7 1h0m2 0h0m1 0h0m8 0h0m6 0h0m1 0h0m-17 1h0m2 0h0m1 0h0m4 0h0m3 0h0m4 0h0m1 0h0m-18 1h0m13 0h0m-8 1h0m8 1h0m-9 2h0m8 0h0" stroke="#ecd818"/><path d="M61 165h0m11 0h0m3 0h0m-13 1h0m2 0h0m3 1h0m-5 1h0m3 0h0m4 0h0m-2 1h0m7 0h0m6 0h0m-20 1h0m1 0h0m6 0h0m-10 1h0m3 0h0m1 0h0m1 0h0m-8 1h0m14 0h0m-9 1h0m8 0h0m-12 1h0m4 0h0m3 0h0m9 0h0m-17 1h0m6 0h0m1 0h0m9 0h0m11 0h0m-17 2h0m2 0h0m8 0h0m1 0h0m-10 1h0m3 0h0m2 0h0m10 0h0m-24 1h0m25 0h0m-29 1h0m4 0h0m2 0h0m7 0h0m2 0h0m2 0h0m3 0h0m1 0h0m5 0h0m2 0h0m-28 1h0m22 0h0m0 1h0m-7 1h0m-14 1h0m15 0h0m1 0h0m12 1h0m-18 1h0m9 0h0m1 0h0m-6 1h0m1 0h0m8 0h0m2 0h0m-16 1h0m4 1h0m15 0h0m-5 1h0" stroke="#f88a10"/><path d="M55 167h0m18 0h0m-17 2h0m7 0h0m-1 1h0m7 0h0m-11 1h0m8 0h0m-5 1h0m4 0h0m1 0h0m12 0h0m-15 2h0m5 0h0m-10 1h0m4 0h0m4 0h0m1 0h0m1 0h0m-5 1h0m2 0h0m1 0h0m2 0h0m3 0h0m1 0h0m-13 1h0m1 0h0m7 0h0m2 0h0m4 0h0m-22 1h0m12 0h0m4 0h0m-12 1h0m5 0h0m13 0h0m4 0h0m-11 1h0m5 0h0m3 0h0m-15 1h0m12 0h0m-12 1h0m5 0h0m7 0h0m-21 1h0m6 0h0m1 0h0m2 0h0m0 1h0m16 0h0m-7 2h0m14 2h0" stroke="#e83410"/></g>
<rect x="1085.5" y="692" width="490.0" height="490.0" fill="none" stroke="#2a2a2a" stroke-width="2.6"/>
<path d="M1302.0 692V1182.0M1085.5 977H1575.5" stroke="#2a2a2a" stroke-width="2.4" fill="none"/>
<path d="M1085.5 1182.0v14.5M1085.5 1182.0h-15M1122.4 1182.0v7M1085.5 1145.1h-7M1143.9 1182.0v7M1085.5 1123.6h-7M1159.3 1182.0v7M1085.5 1108.2h-7M1171.1 1182.0v7M1085.5 1096.4h-7M1180.8 1182.0v7M1085.5 1086.7h-7M1189.0 1182.0v7M1085.5 1078.5h-7M1196.1 1182.0v7M1085.5 1071.4h-7M1202.4 1182.0v7M1085.5 1065.1h-7M1208.0 1182.0v14.5M1085.5 1059.5h-15M1244.9 1182.0v7M1085.5 1022.6h-7M1266.4 1182.0v7M1085.5 1001.1h-7M1281.8 1182.0v7M1085.5 985.7h-7M1293.6 1182.0v7M1085.5 973.9h-7M1303.3 1182.0v7M1085.5 964.2h-7M1311.5 1182.0v7M1085.5 956.0h-7M1318.6 1182.0v7M1085.5 948.9h-7M1324.9 1182.0v7M1085.5 942.6h-7M1330.5 1182.0v14.5M1085.5 937.0h-15M1367.4 1182.0v7M1085.5 900.1h-7M1388.9 1182.0v7M1085.5 878.6h-7M1404.3 1182.0v7M1085.5 863.2h-7M1416.1 1182.0v7M1085.5 851.4h-7M1425.8 1182.0v7M1085.5 841.7h-7M1434.0 1182.0v7M1085.5 833.5h-7M1441.1 1182.0v7M1085.5 826.4h-7M1447.4 1182.0v7M1085.5 820.1h-7M1453.0 1182.0v14.5M1085.5 814.5h-15M1489.9 1182.0v7M1085.5 777.6h-7M1511.4 1182.0v7M1085.5 756.1h-7M1526.8 1182.0v7M1085.5 740.7h-7M1538.6 1182.0v7M1085.5 728.9h-7M1548.3 1182.0v7M1085.5 719.2h-7M1556.5 1182.0v7M1085.5 711.0h-7M1563.6 1182.0v7M1085.5 703.9h-7M1569.9 1182.0v7M1085.5 697.6h-7M1575.5 1182.0v14.5M1085.5 692.0h-15" stroke="#2a2a2a" stroke-width="2.4" fill="none"/>
<text x="1091.5" y="1232.0" font-size="24" font-weight="normal" fill="#333" text-anchor="start" stroke="#333" stroke-width="0.45">10</text>
<text x="1118.5" y="1214.5" font-size="24" font-weight="normal" fill="#333" text-anchor="start" stroke="#333" stroke-width="0.45">0</text>
<text x="1195.5" y="1232.0" font-size="24" font-weight="normal" fill="#333" text-anchor="start" stroke="#333" stroke-width="0.45">10</text>
<text x="1222.5" y="1214.5" font-size="24" font-weight="normal" fill="#333" text-anchor="start" stroke="#333" stroke-width="0.45">1</text>
<text x="1312.5" y="1232.0" font-size="24" font-weight="normal" fill="#333" text-anchor="start" stroke="#333" stroke-width="0.45">10</text>
<text x="1339.5" y="1214.5" font-size="24" font-weight="normal" fill="#333" text-anchor="start" stroke="#333" stroke-width="0.45">2</text>
<text x="1426.5" y="1232.0" font-size="24" font-weight="normal" fill="#333" text-anchor="start" stroke="#333" stroke-width="0.45">10</text>
<text x="1453.5" y="1214.5" font-size="24" font-weight="normal" fill="#333" text-anchor="start" stroke="#333" stroke-width="0.45">3</text>
<text x="1543.5" y="1232.0" font-size="24" font-weight="normal" fill="#333" text-anchor="start" stroke="#333" stroke-width="0.45">10</text>
<text x="1570.5" y="1214.5" font-size="24" font-weight="normal" fill="#333" text-anchor="start" stroke="#333" stroke-width="0.45">4</text>
<text x="1023.0" y="1181.0" font-size="24" font-weight="normal" fill="#333" text-anchor="start" stroke="#333" stroke-width="0.45">10</text>
<text x="1050.5" y="1163.5" font-size="24" font-weight="normal" fill="#333" text-anchor="start" stroke="#333" stroke-width="0.45">0</text>
<text x="1023.0" y="1068.5" font-size="24" font-weight="normal" fill="#333" text-anchor="start" stroke="#333" stroke-width="0.45">10</text>
<text x="1050.5" y="1051.0" font-size="24" font-weight="normal" fill="#333" text-anchor="start" stroke="#333" stroke-width="0.45">1</text>
<text x="1023.0" y="946.0" font-size="24" font-weight="normal" fill="#333" text-anchor="start" stroke="#333" stroke-width="0.45">10</text>
<text x="1050.5" y="928.5" font-size="24" font-weight="normal" fill="#333" text-anchor="start" stroke="#333" stroke-width="0.45">2</text>
<text x="1023.0" y="823.5" font-size="24" font-weight="normal" fill="#333" text-anchor="start" stroke="#333" stroke-width="0.45">10</text>
<text x="1050.5" y="806.0" font-size="24" font-weight="normal" fill="#333" text-anchor="start" stroke="#333" stroke-width="0.45">3</text>
<text x="1023.0" y="735" font-size="24" font-weight="normal" fill="#333" text-anchor="start" stroke="#333" stroke-width="0.45">10</text>
<text x="1050.5" y="717.5" font-size="24" font-weight="normal" fill="#333" text-anchor="start" stroke="#333" stroke-width="0.45">4</text>
<text x="1095.0" y="719" font-size="22" font-weight="normal" fill="#333" text-anchor="start" stroke="#333" stroke-width="0.3">Q1</text>
<text x="1095.0" y="753.5" font-size="22" font-weight="normal" fill="#333" text-anchor="start" textLength="65.5" lengthAdjust="spacingAndGlyphs" stroke="#333" stroke-width="0.3">1.05%</text>
<text x="1499.0" y="719" font-size="22" font-weight="normal" fill="#333" text-anchor="start" stroke="#333" stroke-width="0.3">Q2</text>
<text x="1499.0" y="753.5" font-size="22" font-weight="normal" fill="#333" text-anchor="start" textLength="65.5" lengthAdjust="spacingAndGlyphs" stroke="#333" stroke-width="0.3">10.3%</text>
<text x="1095.0" y="1139.0" font-size="22" font-weight="normal" fill="#333" text-anchor="start" stroke="#333" stroke-width="0.3">Q4</text>
<text x="1095.0" y="1174.5" font-size="22" font-weight="normal" fill="#333" text-anchor="start" textLength="65.5" lengthAdjust="spacingAndGlyphs" stroke="#333" stroke-width="0.3">84.0%</text>
<text x="1499.0" y="1139.0" font-size="22" font-weight="normal" fill="#333" text-anchor="start" stroke="#333" stroke-width="0.3">Q3</text>
<text x="1499.0" y="1174.5" font-size="22" font-weight="normal" fill="#333" text-anchor="start" textLength="65.5" lengthAdjust="spacingAndGlyphs" stroke="#333" stroke-width="0.3">4.71%</text>
<text x="6.5" y="1427" font-size="58" font-weight="bold" fill="#000" text-anchor="start" textLength="40.5" lengthAdjust="spacingAndGlyphs" >B</text>
<path d="M211.5 2156V1684.5Q211.5 1681 215.0 1681H360.2Q363.7 1681 363.7 1684.5V2156Z" fill="#000"/>
<path d="M428.8 2156V1840.0Q428.8 1836.5 432.3 1836.5H577.7Q581.2 1836.5 581.2 1840.0V2156Z" fill="#9b99a4"/>
<path d="M646.5 2156V1919.2Q646.5 1915.7 650.0 1915.7H795.5Q799 1915.7 799 1919.2V2156Z" fill="#808080"/>
<path d="M864.2 2156V1989.3Q864.2 1985.8 867.7 1985.8H1013.3Q1016.8 1985.8 1016.8 1989.3V2156Z" fill="#d3d3d3"/>
<path d="M287.4 1685V1652M251.39999999999998 1652H323.4" stroke="#1c1c1c" stroke-width="3.8" fill="none"/>
<path d="M505 1840.5V1805.4M469 1805.4H541" stroke="#1c1c1c" stroke-width="3.8" fill="none"/>
<path d="M722.4 1919.7V1887.2M686.0 1887.2H758.8" stroke="#1c1c1c" stroke-width="3.8" fill="none"/>
<path d="M940.4 1989.8V1965.7M904.8 1965.7H976.0" stroke="#1c1c1c" stroke-width="3.8" fill="none"/>
<path d="M177.8 1571.5V2159M162.5 2156H1052" stroke="#000" stroke-width="5.8" fill="none"/>
<path d="M162.5 2039.7H178M162.5 1923.5H178M162.5 1807.2H178M162.5 1691.0H178M162.5 1574.7H178M287 2156V2172.7M505 2156V2172.7M722.4 2156V2172.7M940.6 2156V2172.7" stroke="#000" stroke-width="5.8" fill="none"/>
<text x="132.0" y="2168.8" font-size="43.2" font-weight="bold" fill="#000" textLength="22.6" lengthAdjust="spacingAndGlyphs">0</text>
<text x="109.4" y="2052.5" font-size="43.2" font-weight="bold" fill="#000" textLength="45.2" lengthAdjust="spacingAndGlyphs">10</text>
<text x="109.4" y="1936.3" font-size="43.2" font-weight="bold" fill="#000" textLength="45.2" lengthAdjust="spacingAndGlyphs">20</text>
<text x="109.4" y="1820.0" font-size="43.2" font-weight="bold" fill="#000" textLength="45.2" lengthAdjust="spacingAndGlyphs">30</text>
<text x="109.4" y="1703.8" font-size="43.2" font-weight="bold" fill="#000" textLength="45.2" lengthAdjust="spacingAndGlyphs">40</text>
<text x="109.4" y="1587.5" font-size="43.2" font-weight="bold" fill="#000" textLength="45.2" lengthAdjust="spacingAndGlyphs">50</text>
<text transform="translate(47.5,1857) rotate(-90)" font-size="49" font-weight="bold" text-anchor="middle" textLength="522" lengthAdjust="spacingAndGlyphs">Apoptotic rate of 100%</text>
<path d="M293.4 1617H510.6" stroke="#000" stroke-width="6.8" stroke-linecap="round" fill="none"/>
<path d="M727.9 1848.5H940.9" stroke="#000" stroke-width="6.8" stroke-linecap="round" fill="none"/>
<text x="399" y="1606" font-size="40" font-weight="bold" fill="#000" text-anchor="middle" textLength="36" lengthAdjust="spacingAndGlyphs" >**</text>
<text x="827.4" y="1832.5" font-size="43.9" font-weight="bold" fill="#000" textLength="24.4" lengthAdjust="spacingAndGlyphs">#</text>
<text x="9" y="2221.7" font-size="43.7" font-weight="bold" fill="#000" textLength="161.5" lengthAdjust="spacingAndGlyphs">ox-LDL</text>
<text x="75.5" y="2286" font-size="44.6" font-weight="bold" fill="#000" textLength="94.0" lengthAdjust="spacingAndGlyphs">SAL</text>
<path d="M271.5 2214.3h29M286 2199.8v29" stroke="#000" stroke-width="7" fill="none"/>
<path d="M489.7 2214.3h29M504.2 2199.8v29" stroke="#000" stroke-width="7" fill="none"/>
<path d="M708.5 2214.3h29M723 2199.8v29" stroke="#000" stroke-width="7" fill="none"/>
<path d="M926.0 2214.3h29M940.5 2199.8v29" stroke="#000" stroke-width="7" fill="none"/>
<path d="M280.75 2270h17.5" stroke="#000" stroke-width="7" fill="none"/>
<path d="M489.7 2266.8h29M504.2 2252.3v29" stroke="#000" stroke-width="7" fill="none"/>
<path d="M717.25 2270h17.5" stroke="#000" stroke-width="7" fill="none"/>
<path d="M926.0 2266.8h29M940.5 2252.3v29" stroke="#000" stroke-width="7" fill="none"/>
<path d="M262.5 2305.7H541.8M709 2305.7H989" stroke="#000" stroke-width="7.2" stroke-linecap="round" fill="none"/>
<text x="314" y="2359" font-size="41.9" font-weight="bold" fill="#000" textLength="163.5" lengthAdjust="spacingAndGlyphs">mimics</text>
<text x="751.5" y="2359" font-size="41.9" font-weight="bold" fill="#000" textLength="193.0" lengthAdjust="spacingAndGlyphs">Inhibitor</text>
<text x="1052.5" y="1429" font-size="58" font-weight="bold" fill="#000" text-anchor="start" textLength="41" lengthAdjust="spacingAndGlyphs" >C</text>
<defs>
<filter id="bl1" x="-30%" y="-100%" width="160%" height="300%"><feGaussianBlur stdDeviation="9"/></filter>
<filter id="bl1b" x="-30%" y="-100%" width="160%" height="300%"><feGaussianBlur stdDeviation="5.5"/></filter>
<filter id="bl2" x="-30%" y="-100%" width="160%" height="300%"><feGaussianBlur stdDeviation="4.2"/></filter>
<filter id="bl2h" x="-30%" y="-150%" width="160%" height="400%"><feGaussianBlur stdDeviation="11"/></filter>
<filter id="nz" x="0" y="0" width="100%" height="100%"><feTurbulence type="fractalNoise" baseFrequency="0.13" numOctaves="2" seed="7" result="n"/><feColorMatrix in="n" type="matrix" values="0 0 0 0 0  0 0 0 0 0  0 0 0 0 0  0.9 0.9 0 0 -0.72"/></filter>
<linearGradient id="bg1" x1="0" y1="0" x2="0" y2="1"><stop offset="0" stop-color="#cdcdcd"/><stop offset="0.5" stop-color="#c0c0c0"/><stop offset="1" stop-color="#c8c8c8"/></linearGradient>
<linearGradient id="bg2" x1="0" y1="0" x2="0" y2="1"><stop offset="0" stop-color="#cccccc"/><stop offset="0.55" stop-color="#b2b2b2"/><stop offset="1" stop-color="#c2c2c2"/></linearGradient>
<clipPath id="c1"><rect x="1296" y="1408" width="706" height="121.5"/></clipPath>
<clipPath id="c2"><rect x="1296" y="1537.7" width="706" height="121.5"/></clipPath>
</defs>
<rect x="1296" y="1408" width="706" height="121.5" fill="url(#bg1)"/>
<g clip-path="url(#c1)"><g filter="url(#bl1)"><rect x="1326" y="1457" width="110" height="30" rx="15" fill="#3a3a3a" opacity="0.82"/><rect x="1500" y="1450" width="118" height="44" rx="22" fill="#000" opacity="0.75"/><rect x="1678" y="1452" width="112" height="38" rx="19" fill="#000" opacity="0.72"/><rect x="1850" y="1444" width="128" height="46" rx="23" fill="#000" opacity="0.75"/></g><g filter="url(#bl1b)"><rect x="1508" y="1457" width="102" height="30" rx="15" fill="#000"/><rect x="1690" y="1461" width="90" height="18" rx="9" fill="#000" opacity="0.8"/><rect x="1860" y="1452" width="108" height="30" rx="15" fill="#000"/></g><rect x="1296" y="1408" width="706" height="121.5" filter="url(#nz)" fill="#000" opacity="0.22"/></g>
<rect x="1296.2" y="1408" width="705.8" height="121.5" fill="none" stroke="#000" stroke-width="4.6"/>
<rect x="1296" y="1537.7" width="706" height="121.5" fill="url(#bg2)"/>
<g clip-path="url(#c2)"><g filter="url(#bl2h)" opacity="0.55"><rect x="1312" y="1592" width="120" height="26" rx="13" fill="#000"/><rect x="1480" y="1588" width="144" height="28" rx="14" fill="#000"/><rect x="1677" y="1588" width="124" height="25" rx="12" fill="#000"/><rect x="1853" y="1591" width="130" height="25" rx="12" fill="#000"/></g><g filter="url(#bl2)"><rect x="1313" y="1591" width="118" height="27" rx="13.5" fill="#000"/><rect x="1481" y="1586" width="142" height="30" rx="15" fill="#000"/><rect x="1678" y="1587" width="122" height="26" rx="13" fill="#000"/><rect x="1854" y="1590" width="128" height="26" rx="13" fill="#000"/></g><rect x="1296" y="1537.7" width="706" height="121.5" filter="url(#nz)" fill="#000" opacity="0.12"/></g>
<rect x="1296.2" y="1537.7" width="705.8" height="121.5" fill="none" stroke="#000" stroke-width="4.6"/>
<text x="1127.5" y="1487" font-size="44.6" font-weight="bold" fill="#000" textLength="145.0" lengthAdjust="spacingAndGlyphs">Bcl-xL</text>
<text x="1120.5" y="1618.6" font-size="42.5" font-weight="bold" fill="#000" textLength="155.5" lengthAdjust="spacingAndGlyphs">β-actin</text>
<path d="M1320.8 2163V1973.5Q1320.8 1970 1324.3 1970H1442.3Q1445.8 1970 1445.8 1973.5V2163Z" fill="#000"/>
<path d="M1499.6 2163V1848.7Q1499.6 1845.2 1503.1 1845.2H1620.9Q1624.4 1845.2 1624.4 1848.7V2163Z" fill="#9b99a4"/>
<path d="M1679 2163V1858.2Q1679 1854.7 1682.5 1854.7H1800.9Q1804.4 1854.7 1804.4 1858.2V2163Z" fill="#808080"/>
<path d="M1858 2163V1776.4Q1858 1772.9 1861.5 1772.9H1980.2Q1983.7 1772.9 1983.7 1776.4V2163Z" fill="#d3d3d3"/>
<path d="M1383.2 1974V1951.5M1353.8 1951.5H1412.6000000000001" stroke="#2a2a2a" stroke-width="3.6" fill="none"/>
<path d="M1562.3 1849.2V1819.9M1532.8999999999999 1819.9H1591.7" stroke="#2a2a2a" stroke-width="3.6" fill="none"/>
<path d="M1741.4 1858.7V1837.2M1711.6000000000001 1837.2H1771.2" stroke="#2a2a2a" stroke-width="3.6" fill="none"/>
<path d="M1920.8 1776.9V1745M1891.0 1745H1950.6" stroke="#2a2a2a" stroke-width="3.6" fill="none"/>
<path d="M1293 1683.8V2166M1280.3 2163H2013" stroke="#000" stroke-width="6" fill="none"/>
<path d="M1280.3 2067.8H1293M1280.3 1972.5H1293M1280.3 1877.3H1293M1280.3 1782.0H1293M1280.3 1686.8H1293M1383.2 2163V2177M1562.3 2163V2177M1741.4 2163V2177M1920.8 2163V2177" stroke="#000" stroke-width="6" fill="none"/>
<text x="1210.5" y="2175.5" font-size="36.7" font-weight="bold" fill="#000" textLength="56.0" lengthAdjust="spacingAndGlyphs">0.0</text>
<text x="1210.5" y="2080.3" font-size="36.7" font-weight="bold" fill="#000" textLength="56.0" lengthAdjust="spacingAndGlyphs">0.5</text>
<text x="1210.5" y="1985.0" font-size="36.7" font-weight="bold" fill="#000" textLength="56.0" lengthAdjust="spacingAndGlyphs">1.0</text>
<text x="1210.5" y="1889.8" font-size="36.7" font-weight="bold" fill="#000" textLength="56.0" lengthAdjust="spacingAndGlyphs">1.5</text>
<text x="1210.5" y="1794.5" font-size="36.7" font-weight="bold" fill="#000" textLength="56.0" lengthAdjust="spacingAndGlyphs">2.0</text>
<text x="1210.5" y="1699.3" font-size="36.7" font-weight="bold" fill="#000" textLength="56.0" lengthAdjust="spacingAndGlyphs">2.5</text>
<text transform="translate(1179.8,1906.5) rotate(-90) scale(1,1.07)" font-size="46.5" font-weight="bold" text-anchor="middle" textLength="307.6" lengthAdjust="spacingAndGlyphs">Bcl-xL/β-actin</text>
<path d="M1385.1000000000001 1794.9H1562.0" stroke="#000" stroke-width="6.8" stroke-linecap="round" fill="none"/>
<path d="M1743.2 1723.2H1920.6" stroke="#000" stroke-width="6.8" stroke-linecap="round" fill="none"/>
<text x="1471.6" y="1793" font-size="38" font-weight="bold" fill="#000" text-anchor="middle" >*</text>
<text x="1813.5" y="1711.8" font-size="34.5" fill="#000" stroke="#000" stroke-width="0.7" textLength="43" lengthAdjust="spacingAndGlyphs">NS</text>
<text x="1151" y="2225.2" font-size="43.2" font-weight="bold" fill="#000" textLength="163" lengthAdjust="spacingAndGlyphs">ox-LDL</text>
<text x="1219" y="2280.6" font-size="43.9" font-weight="bold" fill="#000" textLength="93.5" lengthAdjust="spacingAndGlyphs">SAL</text>
<path d="M1370.6 2206.9h30M1385.6 2191.9v30" stroke="#000" stroke-width="7" fill="none"/>
<path d="M1550.5 2206.9h30M1565.5 2191.9v30" stroke="#000" stroke-width="7" fill="none"/>
<path d="M1730.9 2206.9h30M1745.9 2191.9v30" stroke="#000" stroke-width="7" fill="none"/>
<path d="M1911.3 2206.9h30M1926.3 2191.9v30" stroke="#000" stroke-width="7" fill="none"/>
<path d="M1379.45 2267.9h17.5" stroke="#000" stroke-width="7" fill="none"/>
<path d="M1550.5 2262.8h30M1565.5 2247.8v30" stroke="#000" stroke-width="7" fill="none"/>
<path d="M1740.25 2267.9h17.5" stroke="#000" stroke-width="7" fill="none"/>
<path d="M1911.3 2262.8h30M1926.3 2247.8v30" stroke="#000" stroke-width="7" fill="none"/>
<path d="M1373.5 2306.5H1580.2M1736.8 2306.5H1944.6" stroke="#000" stroke-width="7.2" stroke-linecap="round" fill="none"/>
<text x="1396.5" y="2359.4" font-size="41.9" font-weight="bold" fill="#000" textLength="163.0" lengthAdjust="spacingAndGlyphs">mimics</text>
<text x="1752" y="2359.4" font-size="41.9" font-weight="bold" fill="#000" textLength="190" lengthAdjust="spacingAndGlyphs">Inhibitor</text>
</svg>
</body></html>
